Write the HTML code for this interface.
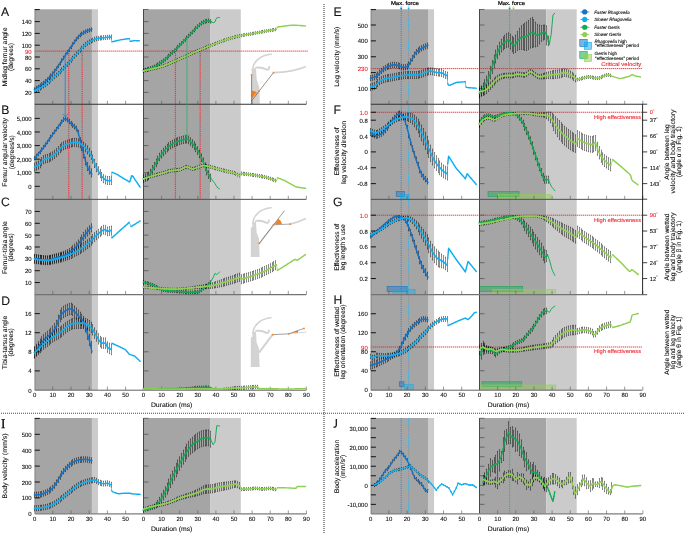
<!DOCTYPE html>
<html><head><meta charset="utf-8"><title>Figure</title>
<style>
html,body{margin:0;padding:0;background:#fff;}
body{width:685px;height:534px;overflow:hidden;font-family:"Liberation Sans",sans-serif;}
svg{display:block;}
</style></head><body>
<div style="will-change:transform;width:685px;height:534px"><svg width="685" height="534" viewBox="0 0 685 534">
<rect width="685" height="534" fill="#fff"/>
<rect x="34.6" y="9.3" width="57.33" height="380.7" fill="#a5a5a5"/>
<rect x="91.93" y="9.3" width="6.01" height="380.7" fill="#cbcbcb"/>
<rect x="370.7" y="9.3" width="57.33" height="380.7" fill="#a5a5a5"/>
<rect x="428.03" y="9.3" width="6.01" height="380.7" fill="#cbcbcb"/>
<rect x="143.5" y="9.3" width="66.61" height="380.7" fill="#a5a5a5"/>
<rect x="210.11" y="9.3" width="30.68" height="380.7" fill="#cbcbcb"/>
<rect x="479.5" y="9.3" width="66.79" height="380.7" fill="#a5a5a5"/>
<rect x="546.29" y="9.3" width="30.4" height="380.7" fill="#cbcbcb"/>
<rect x="34.6" y="418" width="57.33" height="95.8" fill="#a5a5a5"/>
<rect x="91.93" y="418" width="6.01" height="95.8" fill="#cbcbcb"/>
<rect x="370.7" y="418" width="57.33" height="95.8" fill="#a5a5a5"/>
<rect x="428.03" y="418" width="6.01" height="95.8" fill="#cbcbcb"/>
<rect x="143.5" y="418" width="66.61" height="95.8" fill="#a5a5a5"/>
<rect x="210.11" y="418" width="30.68" height="95.8" fill="#cbcbcb"/>
<rect x="479.5" y="418" width="66.79" height="95.8" fill="#a5a5a5"/>
<rect x="546.29" y="418" width="30.4" height="95.8" fill="#cbcbcb"/>
<g transform="translate(245,45)" fill="none" stroke-linecap="round">
<path d="M6.6,23.6 L11,23.3 L11.6,33.7 L14.2,41.9 L14.9,58.8 L6.6,58.8 Z" fill="#d3d3d3"/>
<path d="M7.8,23.8 C8.6,15.5 16,10.2 26.2,9.2" stroke="#d3d3d3" stroke-width="1.6"/>
<path d="M11,22.6 C15,22 19,23.2 22,24.6 C23.6,25 24.6,23.6 24.2,21.8" stroke="#d3d3d3" stroke-width="1.9"/>
</g>
<g transform="translate(245,200)" fill="none" stroke-linecap="round">
<path d="M5.8,27.3 L7.2,27.3 L7.6,22.1 L11,22.1 L11.6,32.6 L14,38.4 L14.6,57 L5.8,57 Z" fill="#d3d3d3"/>
<path d="M7.8,23 C8.6,14.5 16,8.8 26,7.8" stroke="#d3d3d3" stroke-width="1.6"/>
<path d="M11,20.9 C15,20.4 19,21.4 21.5,22.8 C23,23.2 24,21.9 23.8,20.4" stroke="#d3d3d3" stroke-width="1.9"/>
</g>
<g transform="translate(245,310)" fill="none" stroke-linecap="round">
<path d="M5.8,27.3 L7.2,27.3 L7.6,22.1 L11,22.1 L11.6,32.6 L14,38.4 L14.6,57 L5.8,57 Z" fill="#d3d3d3"/>
<path d="M7.8,23 C8.6,14.5 16,8.8 26,7.8" stroke="#d3d3d3" stroke-width="1.6"/>
<path d="M11,20.9 C15,20.4 19,21.4 21.5,22.8 C23,23.2 24,21.9 23.8,20.4" stroke="#d3d3d3" stroke-width="1.9"/>
</g>
<path d="M273.5,72.6 C285,72.4 296,70.8 306,66.5" stroke="#d3d3d3" stroke-width="1.7" fill="none"/>
<path d="M251.9,98.4 L251.9,90.8 A9.8,9.8 0 0 1 256.9,92.4 Z" fill="#f58220"/>
<path d="M251.6,75 L251.6,104.2 M251.6,100.8 L273.5,72.6" stroke="#222" stroke-width="0.5" fill="none"/>
<circle cx="251.6" cy="75" r="0.95" fill="#f58220"/>
<circle cx="273.5" cy="72.6" r="0.95" fill="#f58220"/>
<circle cx="259.2" cy="90.9" r="0.95" fill="#f58220"/>
<path d="M290.1,224.1 C296,222.8 301,221 306,218.6" stroke="#d3d3d3" stroke-width="1.7" fill="none"/>
<path d="M275.0,223.4 L278.6,218.7 A8,8 0 0 1 282.0,224.0 L275.2,224.4 Z" fill="#f58220"/>
<path d="M259.4,243.6 L273.2,225.6" stroke="#d3d3d3" stroke-width="1.5" fill="none"/>
<path d="M259.2,243.3 L284.5,210.7" stroke="#333" stroke-width="0.5" fill="none"/>
<path d="M273.5,224.8 L290.1,224.1" stroke="#555" stroke-width="0.5" fill="none"/>
<circle cx="259.2" cy="243.3" r="0.95" fill="#f58220"/>
<circle cx="273.5" cy="224.8" r="0.95" fill="#f58220"/>
<circle cx="290.1" cy="224.1" r="0.95" fill="#f58220"/>
<path d="M259.0,352.6 L272.4,334.9" stroke="#d3d3d3" stroke-width="2.0" fill="none"/>
<path d="M288.6,333.8 L306.5,332" stroke="#bbb" stroke-width="0.6" fill="none"/>
<path d="M292.5,332.6 L298,330.6 L298,332.7 Z" fill="#f58220"/>
<path d="M272.6,334.7 L288.6,333.8 L304,328.4" stroke="#444" stroke-width="0.5" fill="none"/>
<circle cx="272.6" cy="334.7" r="0.9" fill="#f58220"/>
<circle cx="288.6" cy="333.8" r="0.9" fill="#f58220"/>
<circle cx="304" cy="328.4" r="0.9" fill="#f58220"/>
<line x1="34.6" y1="51.1" x2="307.7" y2="51.1" stroke="#ee1c25" stroke-width="1.0" stroke-dasharray="1.15 0.85"/>
<line x1="370.7" y1="68.6" x2="642.5" y2="68.6" stroke="#ee1c25" stroke-width="1.0" stroke-dasharray="1.15 0.85"/>
<line x1="370.7" y1="112.25" x2="642.5" y2="112.25" stroke="#ee1c25" stroke-width="1.0" stroke-dasharray="1.15 0.85"/>
<line x1="370.7" y1="215.2" x2="642.5" y2="215.2" stroke="#ee1c25" stroke-width="1.0" stroke-dasharray="1.15 0.85"/>
<line x1="370.7" y1="347" x2="642.5" y2="347" stroke="#ee1c25" stroke-width="1.0" stroke-dasharray="1.15 0.85"/>
<line x1="68.82" y1="51.1" x2="68.82" y2="199.2" stroke="#ee1c25" stroke-width="0.9" stroke-dasharray="1.1 0.8"/>
<line x1="82.1" y1="51.1" x2="82.1" y2="199.2" stroke="#ee1c25" stroke-width="0.9" stroke-dasharray="1.1 0.8"/>
<line x1="175.36" y1="51.1" x2="175.36" y2="199.2" stroke="#ee1c25" stroke-width="0.9" stroke-dasharray="1.1 0.8"/>
<line x1="200.15" y1="51.1" x2="200.15" y2="199.2" stroke="#ee1c25" stroke-width="0.9" stroke-dasharray="1.1 0.8"/>
<line x1="401.2" y1="6.5" x2="401.2" y2="390" stroke="#1572c6" stroke-width="0.85" stroke-dasharray="0.9 1.3"/>
<line x1="401.2" y1="418" x2="401.2" y2="513.8" stroke="#1572c6" stroke-width="0.85" stroke-dasharray="0.9 1.3"/>
<path d="M399.9,7.7 L402.5,7.7 L401.2,10.1 Z" fill="#1572c6"/>
<line x1="408.6" y1="6.5" x2="408.6" y2="390" stroke="#10aef0" stroke-width="0.85" stroke-dasharray="0.9 1.3"/>
<line x1="408.6" y1="418" x2="408.6" y2="513.8" stroke="#10aef0" stroke-width="0.85" stroke-dasharray="0.9 1.3"/>
<path d="M407.3,7.7 L409.9,7.7 L408.6,10.1 Z" fill="#10aef0"/>
<line x1="509.6" y1="6.5" x2="509.6" y2="390" stroke="#10aa50" stroke-width="0.85" stroke-dasharray="0.9 1.3"/>
<line x1="509.6" y1="418" x2="509.6" y2="513.8" stroke="#10aa50" stroke-width="0.85" stroke-dasharray="0.9 1.3"/>
<path d="M508.3,7.7 L510.9,7.7 L509.6,10.1 Z" fill="#10aa50"/>
<line x1="513.5" y1="6.5" x2="513.5" y2="390" stroke="#90d050" stroke-width="0.85" stroke-dasharray="0.9 1.3"/>
<line x1="513.5" y1="418" x2="513.5" y2="513.8" stroke="#90d050" stroke-width="0.85" stroke-dasharray="0.9 1.3"/>
<path d="M512.2,7.7 L514.8,7.7 L513.5,10.1 Z" fill="#90d050"/>
<rect x="396.18" y="191.4" width="8.19" height="5" fill="#1572c6" fill-opacity="0.42" stroke="#1572c6" stroke-width="0.6" stroke-opacity="0.95"/>
<rect x="400.73" y="194.6" width="8.19" height="4.6" fill="#10aef0" fill-opacity="0.42" stroke="#10aef0" stroke-width="0.6" stroke-opacity="0.95"/>
<rect x="488.03" y="191.4" width="31.04" height="5" fill="#10aa50" fill-opacity="0.42" stroke="#10aa50" stroke-width="0.6" stroke-opacity="0.95"/>
<rect x="498.38" y="194.6" width="52.45" height="4.6" fill="#90d050" fill-opacity="0.42" stroke="#90d050" stroke-width="0.6" stroke-opacity="0.95"/>
<rect x="387.08" y="286.4" width="20.02" height="5" fill="#1572c6" fill-opacity="0.42" stroke="#1572c6" stroke-width="0.6" stroke-opacity="0.95"/>
<rect x="393.09" y="289.6" width="22.02" height="4.7" fill="#10aef0" fill-opacity="0.42" stroke="#10aef0" stroke-width="0.6" stroke-opacity="0.95"/>
<rect x="479.5" y="286.4" width="43.2" height="5" fill="#10aa50" fill-opacity="0.42" stroke="#10aa50" stroke-width="0.6" stroke-opacity="0.95"/>
<rect x="492.75" y="289.6" width="62.98" height="4.7" fill="#90d050" fill-opacity="0.42" stroke="#90d050" stroke-width="0.6" stroke-opacity="0.95"/>
<rect x="399.27" y="381.8" width="4.73" height="4.6" fill="#1572c6" fill-opacity="0.42" stroke="#1572c6" stroke-width="0.6" stroke-opacity="0.95"/>
<rect x="404.73" y="384.6" width="8.55" height="4.9" fill="#10aef0" fill-opacity="0.42" stroke="#10aef0" stroke-width="0.6" stroke-opacity="0.95"/>
<rect x="482.04" y="381.8" width="39.75" height="4.8" fill="#10aa50" fill-opacity="0.42" stroke="#10aa50" stroke-width="0.6" stroke-opacity="0.95"/>
<rect x="479.5" y="385" width="76.23" height="4.5" fill="#90d050" fill-opacity="0.42" stroke="#90d050" stroke-width="0.6" stroke-opacity="0.95"/>
<line x1="35.1" y1="9.1" x2="35.1" y2="390" stroke="#8c8c8c" stroke-width="1.0"/>
<line x1="35.1" y1="418" x2="35.1" y2="513.8" stroke="#8c8c8c" stroke-width="1.0"/>
<line x1="34.8" y1="9.6" x2="39.8" y2="9.6" stroke="#111" stroke-width="1.0"/>
<line x1="34.8" y1="418.4" x2="39.8" y2="418.4" stroke="#111" stroke-width="1.0"/>
<line x1="143.5" y1="9.1" x2="143.5" y2="390" stroke="#484848" stroke-width="1.0"/>
<line x1="143.5" y1="418" x2="143.5" y2="513.8" stroke="#484848" stroke-width="1.0"/>
<line x1="143.5" y1="9.5" x2="148.5" y2="9.5" stroke="#555" stroke-width="0.8"/>
<line x1="143.5" y1="418.3" x2="148.5" y2="418.3" stroke="#555" stroke-width="0.8"/>
<line x1="34.8" y1="104.25" x2="306.4" y2="104.25" stroke="#333" stroke-width="1.0"/>
<line x1="52.8" y1="104.2" x2="52.8" y2="100.8" stroke="#555" stroke-width="0.6"/>
<line x1="71" y1="104.2" x2="71" y2="100.8" stroke="#555" stroke-width="0.6"/>
<line x1="89.2" y1="104.2" x2="89.2" y2="100.8" stroke="#555" stroke-width="0.6"/>
<line x1="107.4" y1="104.2" x2="107.4" y2="100.8" stroke="#555" stroke-width="0.6"/>
<line x1="125.6" y1="104.2" x2="125.6" y2="100.8" stroke="#555" stroke-width="0.6"/>
<line x1="161.6" y1="104.2" x2="161.6" y2="100.8" stroke="#555" stroke-width="0.6"/>
<line x1="179.7" y1="104.2" x2="179.7" y2="100.8" stroke="#555" stroke-width="0.6"/>
<line x1="197.8" y1="104.2" x2="197.8" y2="100.8" stroke="#555" stroke-width="0.6"/>
<line x1="215.9" y1="104.2" x2="215.9" y2="100.8" stroke="#555" stroke-width="0.6"/>
<line x1="234" y1="104.2" x2="234" y2="100.8" stroke="#555" stroke-width="0.6"/>
<line x1="252.1" y1="104.2" x2="252.1" y2="100.8" stroke="#555" stroke-width="0.6"/>
<line x1="270.2" y1="104.2" x2="270.2" y2="100.8" stroke="#555" stroke-width="0.6"/>
<line x1="288.3" y1="104.2" x2="288.3" y2="100.8" stroke="#555" stroke-width="0.6"/>
<line x1="306.4" y1="104.2" x2="306.4" y2="100.8" stroke="#555" stroke-width="0.6"/>
<line x1="34.8" y1="92.4" x2="39.8" y2="92.4" stroke="#111" stroke-width="1.0"/>
<line x1="143.5" y1="92.4" x2="148.5" y2="92.4" stroke="#555" stroke-width="0.8"/>
<line x1="34.8" y1="80.6" x2="39.8" y2="80.6" stroke="#111" stroke-width="1.0"/>
<line x1="143.5" y1="80.6" x2="148.5" y2="80.6" stroke="#555" stroke-width="0.8"/>
<line x1="34.8" y1="68.8" x2="39.8" y2="68.8" stroke="#111" stroke-width="1.0"/>
<line x1="143.5" y1="68.8" x2="148.5" y2="68.8" stroke="#555" stroke-width="0.8"/>
<line x1="34.8" y1="57" x2="39.8" y2="57" stroke="#111" stroke-width="1.0"/>
<line x1="143.5" y1="57" x2="148.5" y2="57" stroke="#555" stroke-width="0.8"/>
<line x1="34.8" y1="45.2" x2="39.8" y2="45.2" stroke="#111" stroke-width="1.0"/>
<line x1="143.5" y1="45.2" x2="148.5" y2="45.2" stroke="#555" stroke-width="0.8"/>
<line x1="34.8" y1="33.4" x2="39.8" y2="33.4" stroke="#111" stroke-width="1.0"/>
<line x1="143.5" y1="33.4" x2="148.5" y2="33.4" stroke="#555" stroke-width="0.8"/>
<line x1="34.8" y1="21.6" x2="39.8" y2="21.6" stroke="#111" stroke-width="1.0"/>
<line x1="143.5" y1="21.6" x2="148.5" y2="21.6" stroke="#555" stroke-width="0.8"/>
<line x1="34.8" y1="199.35" x2="306.4" y2="199.35" stroke="#505050" stroke-width="1.0"/>
<line x1="52.8" y1="199.2" x2="52.8" y2="195.8" stroke="#555" stroke-width="0.6"/>
<line x1="71" y1="199.2" x2="71" y2="195.8" stroke="#555" stroke-width="0.6"/>
<line x1="89.2" y1="199.2" x2="89.2" y2="195.8" stroke="#555" stroke-width="0.6"/>
<line x1="107.4" y1="199.2" x2="107.4" y2="195.8" stroke="#555" stroke-width="0.6"/>
<line x1="125.6" y1="199.2" x2="125.6" y2="195.8" stroke="#555" stroke-width="0.6"/>
<line x1="161.6" y1="199.2" x2="161.6" y2="195.8" stroke="#555" stroke-width="0.6"/>
<line x1="179.7" y1="199.2" x2="179.7" y2="195.8" stroke="#555" stroke-width="0.6"/>
<line x1="197.8" y1="199.2" x2="197.8" y2="195.8" stroke="#555" stroke-width="0.6"/>
<line x1="215.9" y1="199.2" x2="215.9" y2="195.8" stroke="#555" stroke-width="0.6"/>
<line x1="234" y1="199.2" x2="234" y2="195.8" stroke="#555" stroke-width="0.6"/>
<line x1="252.1" y1="199.2" x2="252.1" y2="195.8" stroke="#555" stroke-width="0.6"/>
<line x1="270.2" y1="199.2" x2="270.2" y2="195.8" stroke="#555" stroke-width="0.6"/>
<line x1="288.3" y1="199.2" x2="288.3" y2="195.8" stroke="#555" stroke-width="0.6"/>
<line x1="306.4" y1="199.2" x2="306.4" y2="195.8" stroke="#555" stroke-width="0.6"/>
<line x1="34.8" y1="186.3" x2="39.8" y2="186.3" stroke="#111" stroke-width="1.0"/>
<line x1="143.5" y1="186.3" x2="148.5" y2="186.3" stroke="#555" stroke-width="0.8"/>
<line x1="34.8" y1="172.72" x2="39.8" y2="172.72" stroke="#111" stroke-width="1.0"/>
<line x1="143.5" y1="172.72" x2="148.5" y2="172.72" stroke="#555" stroke-width="0.8"/>
<line x1="34.8" y1="159.14" x2="39.8" y2="159.14" stroke="#111" stroke-width="1.0"/>
<line x1="143.5" y1="159.14" x2="148.5" y2="159.14" stroke="#555" stroke-width="0.8"/>
<line x1="34.8" y1="145.56" x2="39.8" y2="145.56" stroke="#111" stroke-width="1.0"/>
<line x1="143.5" y1="145.56" x2="148.5" y2="145.56" stroke="#555" stroke-width="0.8"/>
<line x1="34.8" y1="131.98" x2="39.8" y2="131.98" stroke="#111" stroke-width="1.0"/>
<line x1="143.5" y1="131.98" x2="148.5" y2="131.98" stroke="#555" stroke-width="0.8"/>
<line x1="34.8" y1="118.4" x2="39.8" y2="118.4" stroke="#111" stroke-width="1.0"/>
<line x1="143.5" y1="118.4" x2="148.5" y2="118.4" stroke="#555" stroke-width="0.8"/>
<line x1="34.8" y1="294.6" x2="306.4" y2="294.6" stroke="#737373" stroke-width="1.2"/>
<line x1="52.8" y1="294.3" x2="52.8" y2="290.9" stroke="#555" stroke-width="0.6"/>
<line x1="71" y1="294.3" x2="71" y2="290.9" stroke="#555" stroke-width="0.6"/>
<line x1="89.2" y1="294.3" x2="89.2" y2="290.9" stroke="#555" stroke-width="0.6"/>
<line x1="107.4" y1="294.3" x2="107.4" y2="290.9" stroke="#555" stroke-width="0.6"/>
<line x1="125.6" y1="294.3" x2="125.6" y2="290.9" stroke="#555" stroke-width="0.6"/>
<line x1="161.6" y1="294.3" x2="161.6" y2="290.9" stroke="#555" stroke-width="0.6"/>
<line x1="179.7" y1="294.3" x2="179.7" y2="290.9" stroke="#555" stroke-width="0.6"/>
<line x1="197.8" y1="294.3" x2="197.8" y2="290.9" stroke="#555" stroke-width="0.6"/>
<line x1="215.9" y1="294.3" x2="215.9" y2="290.9" stroke="#555" stroke-width="0.6"/>
<line x1="234" y1="294.3" x2="234" y2="290.9" stroke="#555" stroke-width="0.6"/>
<line x1="252.1" y1="294.3" x2="252.1" y2="290.9" stroke="#555" stroke-width="0.6"/>
<line x1="270.2" y1="294.3" x2="270.2" y2="290.9" stroke="#555" stroke-width="0.6"/>
<line x1="288.3" y1="294.3" x2="288.3" y2="290.9" stroke="#555" stroke-width="0.6"/>
<line x1="306.4" y1="294.3" x2="306.4" y2="290.9" stroke="#555" stroke-width="0.6"/>
<line x1="34.8" y1="282.55" x2="39.8" y2="282.55" stroke="#111" stroke-width="1.0"/>
<line x1="143.5" y1="282.55" x2="148.5" y2="282.55" stroke="#555" stroke-width="0.8"/>
<line x1="34.8" y1="270.7" x2="39.8" y2="270.7" stroke="#111" stroke-width="1.0"/>
<line x1="143.5" y1="270.7" x2="148.5" y2="270.7" stroke="#555" stroke-width="0.8"/>
<line x1="34.8" y1="258.85" x2="39.8" y2="258.85" stroke="#111" stroke-width="1.0"/>
<line x1="143.5" y1="258.85" x2="148.5" y2="258.85" stroke="#555" stroke-width="0.8"/>
<line x1="34.8" y1="247" x2="39.8" y2="247" stroke="#111" stroke-width="1.0"/>
<line x1="143.5" y1="247" x2="148.5" y2="247" stroke="#555" stroke-width="0.8"/>
<line x1="34.8" y1="235.15" x2="39.8" y2="235.15" stroke="#111" stroke-width="1.0"/>
<line x1="143.5" y1="235.15" x2="148.5" y2="235.15" stroke="#555" stroke-width="0.8"/>
<line x1="34.8" y1="223.3" x2="39.8" y2="223.3" stroke="#111" stroke-width="1.0"/>
<line x1="143.5" y1="223.3" x2="148.5" y2="223.3" stroke="#555" stroke-width="0.8"/>
<line x1="34.8" y1="211.45" x2="39.8" y2="211.45" stroke="#111" stroke-width="1.0"/>
<line x1="143.5" y1="211.45" x2="148.5" y2="211.45" stroke="#555" stroke-width="0.8"/>
<line x1="34.8" y1="390.2" x2="306.4" y2="390.2" stroke="#606060" stroke-width="1.0"/>
<line x1="52.8" y1="390" x2="52.8" y2="386.6" stroke="#555" stroke-width="0.6"/>
<line x1="71" y1="390" x2="71" y2="386.6" stroke="#555" stroke-width="0.6"/>
<line x1="89.2" y1="390" x2="89.2" y2="386.6" stroke="#555" stroke-width="0.6"/>
<line x1="107.4" y1="390" x2="107.4" y2="386.6" stroke="#555" stroke-width="0.6"/>
<line x1="125.6" y1="390" x2="125.6" y2="386.6" stroke="#555" stroke-width="0.6"/>
<line x1="161.6" y1="390" x2="161.6" y2="386.6" stroke="#555" stroke-width="0.6"/>
<line x1="179.7" y1="390" x2="179.7" y2="386.6" stroke="#555" stroke-width="0.6"/>
<line x1="197.8" y1="390" x2="197.8" y2="386.6" stroke="#555" stroke-width="0.6"/>
<line x1="215.9" y1="390" x2="215.9" y2="386.6" stroke="#555" stroke-width="0.6"/>
<line x1="234" y1="390" x2="234" y2="386.6" stroke="#555" stroke-width="0.6"/>
<line x1="252.1" y1="390" x2="252.1" y2="386.6" stroke="#555" stroke-width="0.6"/>
<line x1="270.2" y1="390" x2="270.2" y2="386.6" stroke="#555" stroke-width="0.6"/>
<line x1="288.3" y1="390" x2="288.3" y2="386.6" stroke="#555" stroke-width="0.6"/>
<line x1="306.4" y1="390" x2="306.4" y2="386.6" stroke="#555" stroke-width="0.6"/>
<line x1="34.8" y1="370.9" x2="39.8" y2="370.9" stroke="#111" stroke-width="1.0"/>
<line x1="143.5" y1="370.9" x2="148.5" y2="370.9" stroke="#555" stroke-width="0.8"/>
<line x1="34.8" y1="351.8" x2="39.8" y2="351.8" stroke="#111" stroke-width="1.0"/>
<line x1="143.5" y1="351.8" x2="148.5" y2="351.8" stroke="#555" stroke-width="0.8"/>
<line x1="34.8" y1="332.7" x2="39.8" y2="332.7" stroke="#111" stroke-width="1.0"/>
<line x1="143.5" y1="332.7" x2="148.5" y2="332.7" stroke="#555" stroke-width="0.8"/>
<line x1="34.8" y1="313.6" x2="39.8" y2="313.6" stroke="#111" stroke-width="1.0"/>
<line x1="143.5" y1="313.6" x2="148.5" y2="313.6" stroke="#555" stroke-width="0.8"/>
<line x1="34.8" y1="513.85" x2="306.4" y2="513.85" stroke="#7c7c7c" stroke-width="1.25"/>
<line x1="52.8" y1="513.8" x2="52.8" y2="510.4" stroke="#555" stroke-width="0.6"/>
<line x1="71" y1="513.8" x2="71" y2="510.4" stroke="#555" stroke-width="0.6"/>
<line x1="89.2" y1="513.8" x2="89.2" y2="510.4" stroke="#555" stroke-width="0.6"/>
<line x1="107.4" y1="513.8" x2="107.4" y2="510.4" stroke="#555" stroke-width="0.6"/>
<line x1="125.6" y1="513.8" x2="125.6" y2="510.4" stroke="#555" stroke-width="0.6"/>
<line x1="161.6" y1="513.8" x2="161.6" y2="510.4" stroke="#555" stroke-width="0.6"/>
<line x1="179.7" y1="513.8" x2="179.7" y2="510.4" stroke="#555" stroke-width="0.6"/>
<line x1="197.8" y1="513.8" x2="197.8" y2="510.4" stroke="#555" stroke-width="0.6"/>
<line x1="215.9" y1="513.8" x2="215.9" y2="510.4" stroke="#555" stroke-width="0.6"/>
<line x1="234" y1="513.8" x2="234" y2="510.4" stroke="#555" stroke-width="0.6"/>
<line x1="252.1" y1="513.8" x2="252.1" y2="510.4" stroke="#555" stroke-width="0.6"/>
<line x1="270.2" y1="513.8" x2="270.2" y2="510.4" stroke="#555" stroke-width="0.6"/>
<line x1="288.3" y1="513.8" x2="288.3" y2="510.4" stroke="#555" stroke-width="0.6"/>
<line x1="306.4" y1="513.8" x2="306.4" y2="510.4" stroke="#555" stroke-width="0.6"/>
<line x1="34.8" y1="497.9" x2="39.8" y2="497.9" stroke="#111" stroke-width="1.0"/>
<line x1="143.5" y1="497.9" x2="148.5" y2="497.9" stroke="#555" stroke-width="0.8"/>
<line x1="34.8" y1="482" x2="39.8" y2="482" stroke="#111" stroke-width="1.0"/>
<line x1="143.5" y1="482" x2="148.5" y2="482" stroke="#555" stroke-width="0.8"/>
<line x1="34.8" y1="466.1" x2="39.8" y2="466.1" stroke="#111" stroke-width="1.0"/>
<line x1="143.5" y1="466.1" x2="148.5" y2="466.1" stroke="#555" stroke-width="0.8"/>
<line x1="34.8" y1="450.2" x2="39.8" y2="450.2" stroke="#111" stroke-width="1.0"/>
<line x1="143.5" y1="450.2" x2="148.5" y2="450.2" stroke="#555" stroke-width="0.8"/>
<line x1="34.8" y1="434.3" x2="39.8" y2="434.3" stroke="#111" stroke-width="1.0"/>
<line x1="143.5" y1="434.3" x2="148.5" y2="434.3" stroke="#555" stroke-width="0.8"/>
<line x1="371.2" y1="9.1" x2="371.2" y2="390" stroke="#8c8c8c" stroke-width="1.0"/>
<line x1="371.2" y1="418" x2="371.2" y2="513.8" stroke="#8c8c8c" stroke-width="1.0"/>
<line x1="370.9" y1="9.6" x2="375.9" y2="9.6" stroke="#111" stroke-width="1.0"/>
<line x1="370.9" y1="418.4" x2="375.9" y2="418.4" stroke="#111" stroke-width="1.0"/>
<line x1="479.5" y1="9.1" x2="479.5" y2="390" stroke="#484848" stroke-width="1.0"/>
<line x1="479.5" y1="418" x2="479.5" y2="513.8" stroke="#484848" stroke-width="1.0"/>
<line x1="479.5" y1="9.5" x2="484.5" y2="9.5" stroke="#555" stroke-width="0.8"/>
<line x1="479.5" y1="418.3" x2="484.5" y2="418.3" stroke="#555" stroke-width="0.8"/>
<line x1="370.9" y1="104.25" x2="642.6" y2="104.25" stroke="#333" stroke-width="1.0"/>
<line x1="388.9" y1="104.2" x2="388.9" y2="100.8" stroke="#555" stroke-width="0.6"/>
<line x1="407.1" y1="104.2" x2="407.1" y2="100.8" stroke="#555" stroke-width="0.6"/>
<line x1="425.3" y1="104.2" x2="425.3" y2="100.8" stroke="#555" stroke-width="0.6"/>
<line x1="443.5" y1="104.2" x2="443.5" y2="100.8" stroke="#555" stroke-width="0.6"/>
<line x1="461.7" y1="104.2" x2="461.7" y2="100.8" stroke="#555" stroke-width="0.6"/>
<line x1="497.65" y1="104.2" x2="497.65" y2="100.8" stroke="#555" stroke-width="0.6"/>
<line x1="515.8" y1="104.2" x2="515.8" y2="100.8" stroke="#555" stroke-width="0.6"/>
<line x1="533.95" y1="104.2" x2="533.95" y2="100.8" stroke="#555" stroke-width="0.6"/>
<line x1="552.1" y1="104.2" x2="552.1" y2="100.8" stroke="#555" stroke-width="0.6"/>
<line x1="570.25" y1="104.2" x2="570.25" y2="100.8" stroke="#555" stroke-width="0.6"/>
<line x1="588.4" y1="104.2" x2="588.4" y2="100.8" stroke="#555" stroke-width="0.6"/>
<line x1="606.55" y1="104.2" x2="606.55" y2="100.8" stroke="#555" stroke-width="0.6"/>
<line x1="624.7" y1="104.2" x2="624.7" y2="100.8" stroke="#555" stroke-width="0.6"/>
<line x1="642.85" y1="104.2" x2="642.85" y2="100.8" stroke="#555" stroke-width="0.6"/>
<line x1="370.9" y1="88.52" x2="375.9" y2="88.52" stroke="#111" stroke-width="1.0"/>
<line x1="479.5" y1="88.52" x2="484.5" y2="88.52" stroke="#555" stroke-width="0.8"/>
<line x1="370.9" y1="72.64" x2="375.9" y2="72.64" stroke="#111" stroke-width="1.0"/>
<line x1="479.5" y1="72.64" x2="484.5" y2="72.64" stroke="#555" stroke-width="0.8"/>
<line x1="370.9" y1="56.76" x2="375.9" y2="56.76" stroke="#111" stroke-width="1.0"/>
<line x1="479.5" y1="56.76" x2="484.5" y2="56.76" stroke="#555" stroke-width="0.8"/>
<line x1="370.9" y1="40.88" x2="375.9" y2="40.88" stroke="#111" stroke-width="1.0"/>
<line x1="479.5" y1="40.88" x2="484.5" y2="40.88" stroke="#555" stroke-width="0.8"/>
<line x1="370.9" y1="25" x2="375.9" y2="25" stroke="#111" stroke-width="1.0"/>
<line x1="479.5" y1="25" x2="484.5" y2="25" stroke="#555" stroke-width="0.8"/>
<line x1="370.9" y1="199.35" x2="642.6" y2="199.35" stroke="#505050" stroke-width="1.0"/>
<line x1="388.9" y1="199.2" x2="388.9" y2="195.8" stroke="#555" stroke-width="0.6"/>
<line x1="407.1" y1="199.2" x2="407.1" y2="195.8" stroke="#555" stroke-width="0.6"/>
<line x1="425.3" y1="199.2" x2="425.3" y2="195.8" stroke="#555" stroke-width="0.6"/>
<line x1="443.5" y1="199.2" x2="443.5" y2="195.8" stroke="#555" stroke-width="0.6"/>
<line x1="461.7" y1="199.2" x2="461.7" y2="195.8" stroke="#555" stroke-width="0.6"/>
<line x1="497.65" y1="199.2" x2="497.65" y2="195.8" stroke="#555" stroke-width="0.6"/>
<line x1="515.8" y1="199.2" x2="515.8" y2="195.8" stroke="#555" stroke-width="0.6"/>
<line x1="533.95" y1="199.2" x2="533.95" y2="195.8" stroke="#555" stroke-width="0.6"/>
<line x1="552.1" y1="199.2" x2="552.1" y2="195.8" stroke="#555" stroke-width="0.6"/>
<line x1="570.25" y1="199.2" x2="570.25" y2="195.8" stroke="#555" stroke-width="0.6"/>
<line x1="588.4" y1="199.2" x2="588.4" y2="195.8" stroke="#555" stroke-width="0.6"/>
<line x1="606.55" y1="199.2" x2="606.55" y2="195.8" stroke="#555" stroke-width="0.6"/>
<line x1="624.7" y1="199.2" x2="624.7" y2="195.8" stroke="#555" stroke-width="0.6"/>
<line x1="642.85" y1="199.2" x2="642.85" y2="195.8" stroke="#555" stroke-width="0.6"/>
<line x1="370.9" y1="183.62" x2="375.9" y2="183.62" stroke="#111" stroke-width="1.0"/>
<line x1="479.5" y1="183.62" x2="484.5" y2="183.62" stroke="#555" stroke-width="0.8"/>
<line x1="370.9" y1="167.76" x2="375.9" y2="167.76" stroke="#111" stroke-width="1.0"/>
<line x1="479.5" y1="167.76" x2="484.5" y2="167.76" stroke="#555" stroke-width="0.8"/>
<line x1="370.9" y1="151.9" x2="375.9" y2="151.9" stroke="#111" stroke-width="1.0"/>
<line x1="479.5" y1="151.9" x2="484.5" y2="151.9" stroke="#555" stroke-width="0.8"/>
<line x1="370.9" y1="136.04" x2="375.9" y2="136.04" stroke="#111" stroke-width="1.0"/>
<line x1="479.5" y1="136.04" x2="484.5" y2="136.04" stroke="#555" stroke-width="0.8"/>
<line x1="370.9" y1="120.18" x2="375.9" y2="120.18" stroke="#111" stroke-width="1.0"/>
<line x1="479.5" y1="120.18" x2="484.5" y2="120.18" stroke="#555" stroke-width="0.8"/>
<line x1="370.9" y1="112.25" x2="375.9" y2="112.25" stroke="#111" stroke-width="1.0"/>
<line x1="479.5" y1="112.25" x2="484.5" y2="112.25" stroke="#555" stroke-width="0.8"/>
<line x1="370.9" y1="294.6" x2="647.2" y2="294.6" stroke="#737373" stroke-width="1.2"/>
<line x1="388.9" y1="294.3" x2="388.9" y2="290.9" stroke="#555" stroke-width="0.6"/>
<line x1="407.1" y1="294.3" x2="407.1" y2="290.9" stroke="#555" stroke-width="0.6"/>
<line x1="425.3" y1="294.3" x2="425.3" y2="290.9" stroke="#555" stroke-width="0.6"/>
<line x1="443.5" y1="294.3" x2="443.5" y2="290.9" stroke="#555" stroke-width="0.6"/>
<line x1="461.7" y1="294.3" x2="461.7" y2="290.9" stroke="#555" stroke-width="0.6"/>
<line x1="497.65" y1="294.3" x2="497.65" y2="290.9" stroke="#555" stroke-width="0.6"/>
<line x1="515.8" y1="294.3" x2="515.8" y2="290.9" stroke="#555" stroke-width="0.6"/>
<line x1="533.95" y1="294.3" x2="533.95" y2="290.9" stroke="#555" stroke-width="0.6"/>
<line x1="552.1" y1="294.3" x2="552.1" y2="290.9" stroke="#555" stroke-width="0.6"/>
<line x1="570.25" y1="294.3" x2="570.25" y2="290.9" stroke="#555" stroke-width="0.6"/>
<line x1="588.4" y1="294.3" x2="588.4" y2="290.9" stroke="#555" stroke-width="0.6"/>
<line x1="606.55" y1="294.3" x2="606.55" y2="290.9" stroke="#555" stroke-width="0.6"/>
<line x1="624.7" y1="294.3" x2="624.7" y2="290.9" stroke="#555" stroke-width="0.6"/>
<line x1="642.85" y1="294.3" x2="642.85" y2="290.9" stroke="#555" stroke-width="0.6"/>
<line x1="370.9" y1="278.56" x2="375.9" y2="278.56" stroke="#111" stroke-width="1.0"/>
<line x1="479.5" y1="278.56" x2="484.5" y2="278.56" stroke="#555" stroke-width="0.8"/>
<line x1="370.9" y1="262.72" x2="375.9" y2="262.72" stroke="#111" stroke-width="1.0"/>
<line x1="479.5" y1="262.72" x2="484.5" y2="262.72" stroke="#555" stroke-width="0.8"/>
<line x1="370.9" y1="246.88" x2="375.9" y2="246.88" stroke="#111" stroke-width="1.0"/>
<line x1="479.5" y1="246.88" x2="484.5" y2="246.88" stroke="#555" stroke-width="0.8"/>
<line x1="370.9" y1="231.04" x2="375.9" y2="231.04" stroke="#111" stroke-width="1.0"/>
<line x1="479.5" y1="231.04" x2="484.5" y2="231.04" stroke="#555" stroke-width="0.8"/>
<line x1="370.9" y1="215.2" x2="375.9" y2="215.2" stroke="#111" stroke-width="1.0"/>
<line x1="479.5" y1="215.2" x2="484.5" y2="215.2" stroke="#555" stroke-width="0.8"/>
<line x1="370.9" y1="390.2" x2="642.6" y2="390.2" stroke="#606060" stroke-width="1.0"/>
<line x1="388.9" y1="390" x2="388.9" y2="386.6" stroke="#555" stroke-width="0.6"/>
<line x1="407.1" y1="390" x2="407.1" y2="386.6" stroke="#555" stroke-width="0.6"/>
<line x1="425.3" y1="390" x2="425.3" y2="386.6" stroke="#555" stroke-width="0.6"/>
<line x1="443.5" y1="390" x2="443.5" y2="386.6" stroke="#555" stroke-width="0.6"/>
<line x1="461.7" y1="390" x2="461.7" y2="386.6" stroke="#555" stroke-width="0.6"/>
<line x1="497.65" y1="390" x2="497.65" y2="386.6" stroke="#555" stroke-width="0.6"/>
<line x1="515.8" y1="390" x2="515.8" y2="386.6" stroke="#555" stroke-width="0.6"/>
<line x1="533.95" y1="390" x2="533.95" y2="386.6" stroke="#555" stroke-width="0.6"/>
<line x1="552.1" y1="390" x2="552.1" y2="386.6" stroke="#555" stroke-width="0.6"/>
<line x1="570.25" y1="390" x2="570.25" y2="386.6" stroke="#555" stroke-width="0.6"/>
<line x1="588.4" y1="390" x2="588.4" y2="386.6" stroke="#555" stroke-width="0.6"/>
<line x1="606.55" y1="390" x2="606.55" y2="386.6" stroke="#555" stroke-width="0.6"/>
<line x1="624.7" y1="390" x2="624.7" y2="386.6" stroke="#555" stroke-width="0.6"/>
<line x1="642.85" y1="390" x2="642.85" y2="386.6" stroke="#555" stroke-width="0.6"/>
<line x1="370.9" y1="370.78" x2="375.9" y2="370.78" stroke="#111" stroke-width="1.0"/>
<line x1="479.5" y1="370.78" x2="484.5" y2="370.78" stroke="#555" stroke-width="0.8"/>
<line x1="370.9" y1="351.76" x2="375.9" y2="351.76" stroke="#111" stroke-width="1.0"/>
<line x1="479.5" y1="351.76" x2="484.5" y2="351.76" stroke="#555" stroke-width="0.8"/>
<line x1="370.9" y1="332.74" x2="375.9" y2="332.74" stroke="#111" stroke-width="1.0"/>
<line x1="479.5" y1="332.74" x2="484.5" y2="332.74" stroke="#555" stroke-width="0.8"/>
<line x1="370.9" y1="313.72" x2="375.9" y2="313.72" stroke="#111" stroke-width="1.0"/>
<line x1="479.5" y1="313.72" x2="484.5" y2="313.72" stroke="#555" stroke-width="0.8"/>
<line x1="370.9" y1="513.85" x2="642.6" y2="513.85" stroke="#7c7c7c" stroke-width="1.25"/>
<line x1="388.9" y1="513.8" x2="388.9" y2="510.4" stroke="#555" stroke-width="0.6"/>
<line x1="407.1" y1="513.8" x2="407.1" y2="510.4" stroke="#555" stroke-width="0.6"/>
<line x1="425.3" y1="513.8" x2="425.3" y2="510.4" stroke="#555" stroke-width="0.6"/>
<line x1="443.5" y1="513.8" x2="443.5" y2="510.4" stroke="#555" stroke-width="0.6"/>
<line x1="461.7" y1="513.8" x2="461.7" y2="510.4" stroke="#555" stroke-width="0.6"/>
<line x1="497.65" y1="513.8" x2="497.65" y2="510.4" stroke="#555" stroke-width="0.6"/>
<line x1="515.8" y1="513.8" x2="515.8" y2="510.4" stroke="#555" stroke-width="0.6"/>
<line x1="533.95" y1="513.8" x2="533.95" y2="510.4" stroke="#555" stroke-width="0.6"/>
<line x1="552.1" y1="513.8" x2="552.1" y2="510.4" stroke="#555" stroke-width="0.6"/>
<line x1="570.25" y1="513.8" x2="570.25" y2="510.4" stroke="#555" stroke-width="0.6"/>
<line x1="588.4" y1="513.8" x2="588.4" y2="510.4" stroke="#555" stroke-width="0.6"/>
<line x1="606.55" y1="513.8" x2="606.55" y2="510.4" stroke="#555" stroke-width="0.6"/>
<line x1="624.7" y1="513.8" x2="624.7" y2="510.4" stroke="#555" stroke-width="0.6"/>
<line x1="642.85" y1="513.8" x2="642.85" y2="510.4" stroke="#555" stroke-width="0.6"/>
<line x1="370.9" y1="504.36" x2="375.9" y2="504.36" stroke="#111" stroke-width="1.0"/>
<line x1="479.5" y1="504.36" x2="484.5" y2="504.36" stroke="#555" stroke-width="0.8"/>
<line x1="370.9" y1="494.83" x2="375.9" y2="494.83" stroke="#111" stroke-width="1.0"/>
<line x1="479.5" y1="494.83" x2="484.5" y2="494.83" stroke="#555" stroke-width="0.8"/>
<line x1="370.9" y1="485.3" x2="375.9" y2="485.3" stroke="#111" stroke-width="1.0"/>
<line x1="479.5" y1="485.3" x2="484.5" y2="485.3" stroke="#555" stroke-width="0.8"/>
<line x1="370.9" y1="475.77" x2="375.9" y2="475.77" stroke="#111" stroke-width="1.0"/>
<line x1="479.5" y1="475.77" x2="484.5" y2="475.77" stroke="#555" stroke-width="0.8"/>
<line x1="370.9" y1="466.24" x2="375.9" y2="466.24" stroke="#111" stroke-width="1.0"/>
<line x1="479.5" y1="466.24" x2="484.5" y2="466.24" stroke="#555" stroke-width="0.8"/>
<line x1="370.9" y1="456.71" x2="375.9" y2="456.71" stroke="#111" stroke-width="1.0"/>
<line x1="479.5" y1="456.71" x2="484.5" y2="456.71" stroke="#555" stroke-width="0.8"/>
<line x1="370.9" y1="447.18" x2="375.9" y2="447.18" stroke="#111" stroke-width="1.0"/>
<line x1="479.5" y1="447.18" x2="484.5" y2="447.18" stroke="#555" stroke-width="0.8"/>
<line x1="370.9" y1="437.65" x2="375.9" y2="437.65" stroke="#111" stroke-width="1.0"/>
<line x1="479.5" y1="437.65" x2="484.5" y2="437.65" stroke="#555" stroke-width="0.8"/>
<line x1="370.9" y1="428.12" x2="375.9" y2="428.12" stroke="#111" stroke-width="1.0"/>
<line x1="479.5" y1="428.12" x2="484.5" y2="428.12" stroke="#555" stroke-width="0.8"/>
<path d="M34.5,87.68V91.22M36.5,86.42V89.96M38.5,85.2V88.74M40.5,83.96V87.5M41.5,82.64V86.18M43.5,81.19V84.73M45.5,79.57V83.11M47.5,77.81V81.35M49.5,75.91V79.45M50.5,73.88V77.42M52.5,71.75V75.29M54.5,69.43V72.97M56.5,66.88V70.42M58.5,64.2V67.74M60.5,61.47V65.01M61.5,58.77V62.31M63.5,56.06V59.6M65.5,53.29V56.83M67.5,50.52V54.06M69.5,47.8V51.34M71.5,45.2V48.74M72.5,42.6V46.14M74.5,39.96V43.5M76.5,37.44V40.98M78.5,35.2V38.74M80.5,33.4V36.94M81.5,31.99V35.53M83.5,30.82V34.36M85.5,29.86V33.4M87.5,29.09V32.63M89.5,28.44V31.98M91.5,27.83V31.37M34.5,88.86V92.99M36.5,87.89V92.02M38.5,86.95V91.08M40.5,86V90.13M41.5,84.98V89.11M43.5,83.84V87.98M45.5,82.53V86.66M47.5,81.04V85.17M49.5,79.44V83.57M50.5,77.8V81.93M52.5,76.18V80.31M54.5,74.58V78.71M56.5,72.98V77.11M58.5,71.35V75.48M60.5,69.66V73.79M61.5,67.92V72.05M63.5,66.07V70.2M65.5,64.15V68.28M67.5,62.17V66.3M69.5,60.17V64.3M71.5,58.18V62.31M72.5,56.18V60.31M74.5,54.15V58.28M76.5,52.12V56.25M78.5,50.11V54.24M80.5,48.15V52.28M81.5,46.18V50.31M83.5,44.25V48.38M85.5,42.55V46.68M87.5,41.1V45.23M89.5,39.89V44.02M91.5,38.94V43.07M92.5,38.12V42.25M94.5,37.28V41.41M96.5,36.65V40.78M98.5,36.29V40.42M100.5,36.01V40.14M101.5,35.79V39.92M103.5,35.58V39.71M105.5,35.39V39.52M107.5,35.21V39.34M109.5,35.05V39.18M111.5,34.88V39.01M143.5,68.8V72.34M145.5,68.24V71.78M147.5,67.71V71.25M148.5,67.16V70.7M150.5,66.55V70.09M152.5,65.85V69.39M154.5,65V68.54M156.5,63.99V67.53M157.5,62.86V66.4M159.5,61.64V65.18M161.5,60.36V63.9M163.5,58.98V62.52M165.5,57.46V61M167.5,55.83V59.37M168.5,54.15V57.69M170.5,52.46V56M172.5,50.73V54.27M174.5,48.95V52.49M176.5,47.12V50.66M177.5,45.27V48.81M179.5,43.43V46.97M181.5,41.58V45.12M183.5,39.72V43.26M185.5,37.85V41.39M186.5,35.98V39.52M188.5,34.11V37.65M190.5,32.2V35.74M192.5,30.26V33.8M194.5,28.34V31.88M195.5,26.49V30.03M197.5,24.79V28.33M199.5,23.1V26.64M201.5,21.52V25.06M203.5,20.42V23.96M205.5,19.71V23.25M206.5,19.16V22.7M208.5,18.95V22.49M210.5,19.64V23.18M143.5,69.63V72.22M145.5,69.19V71.78M147.5,68.77V71.36M148.5,68.35V70.95M150.5,67.94V70.54M152.5,67.52V70.12M154.5,67.1V69.69M156.5,66.65V69.25M157.5,66.18V68.78M159.5,65.68V68.28M161.5,65.14V67.74M163.5,64.55V67.14M165.5,63.89V66.49M167.5,63.19V65.78M168.5,62.44V65.04M170.5,61.67V64.26M172.5,60.87V63.46M174.5,60.06V62.65M176.5,59.24V61.84M177.5,58.44V61.03M179.5,57.65V60.25M181.5,56.86V59.46M183.5,56.06V58.66M185.5,55.25V57.84M186.5,54.43V57.02M188.5,53.6V56.2M190.5,52.78V55.38M192.5,51.96V54.56M194.5,51.15V53.75M195.5,50.35V52.95M197.5,49.57V52.16M199.5,48.79V51.39M201.5,48.02V50.61M203.5,47.25V49.84M205.5,46.48V49.08M206.5,45.73V48.32M208.5,44.98V47.57M210.5,44.24V46.84M212.5,43.52V46.12M214.5,42.82V45.41M215.5,42.13V44.73M217.5,41.46V44.05M219.5,40.78V43.38M221.5,40.11V42.71M223.5,39.45V42.05M224.5,38.81V41.4M226.5,38.18V40.78M228.5,37.57V40.17M230.5,37V39.59M232.5,36.45V39.05M234.5,35.94V38.53M235.5,35.46V38.06M237.5,35.01V37.61M239.5,34.6V37.2M241.5,34.23V36.82M243.5,33.89V36.48M244.5,33.58V36.17M246.5,33.28V35.88M248.5,33V35.59M250.5,32.71V35.3M252.5,32.4V34.99M253.5,32.07V34.66M255.5,31.72V34.32M257.5,31.37V33.96M259.5,31.02V33.61M261.5,30.67V33.26M262.5,30.33V32.93M264.5,30.01V32.6M266.5,29.69V32.28M268.5,29.37V31.97M270.5,29.06V31.66M272.5,28.75V31.35M273.5,28.44V31.04M275.5,28.13V30.72M34.5,156.42V159.95M36.5,154.32V157.85M38.5,152.24V155.77M40.5,150.11V153.64M41.5,147.87V151.4M43.5,145.45V148.98M45.5,142.89V146.42M47.5,140.27V143.8M49.5,137.68V141.21M50.5,135.13V138.66M52.5,132.58V136.11M54.5,130.03V133.56M56.5,127.5V131.03M58.5,124.91V128.44M60.5,122.33V125.86M61.5,120.03V123.56M63.5,117.55V121.4M65.5,116.72V120.8M67.5,117.72V121.8M69.5,119.37V123.58M71.5,121.39V125.73M72.5,122.92V127.42M74.5,124.32V128.98M76.5,126.26V131.07M78.5,130.15V135.22M80.5,137.68V143.12M81.5,144.37V150.62M83.5,150.86V157.92M85.5,157.29V164.89M87.5,162.54V170.68M89.5,166.01V174.16M91.5,168.81V176.96M34.5,163.08V171.23M36.5,162.02V170.17M38.5,160.97V169.12M40.5,159.68V167.83M41.5,157.53V165.67M43.5,155.61V163.76M45.5,154.84V162.99M47.5,154.32V162.47M49.5,153.71V161.86M50.5,152.86V161.01M52.5,151.81V159.95M54.5,150.31V158.46M56.5,148.55V156.7M58.5,146.57V154.71M60.5,144.48V152.63M61.5,142.84V150.99M63.5,141.74V149.88M65.5,140.84V148.99M67.5,140.13V148.28M69.5,139.48V147.62M71.5,138.86V147.01M72.5,138.41V146.55M74.5,138.23V146.37M76.5,138.43V146.57M78.5,138.93V147.08M80.5,139.58V147.73M81.5,140.58V148.73M83.5,142.06V150.21M85.5,143.79V151.94M87.5,145.84V153.99M89.5,148.35V156.5M91.5,151.26V159.41M92.5,155.04V163.19M94.5,159.47V167.61M96.5,163.49V171.63M98.5,166.72V174.86M100.5,169.6V177.74M101.5,172.46V180.61M103.5,174.62V182.77M105.5,175.87V184.02M107.5,176.45V184.6M109.5,176.45V184.6M111.5,176.45V184.6M143.5,174.82V182.43M145.5,174.02V181.63M147.5,173.22V180.83M148.5,172.04V179.65M150.5,169.21V176.81M152.5,165.52V173.13M154.5,162.33V169.93M156.5,159.18V166.79M157.5,156.15V163.76M159.5,153.17V160.77M161.5,150.52V158.12M163.5,148.29V155.89M165.5,146.21V153.81M167.5,144.33V151.93M168.5,142.69V150.3M170.5,141.35V148.96M172.5,140.23V147.84M174.5,139.23V146.84M176.5,138.36V145.97M177.5,137.62V145.22M179.5,137V144.61M181.5,136.44V144.05M183.5,135.92V143.52M185.5,135.53V143.13M186.5,135.38V142.98M188.5,136.1V143.71M190.5,137.8V145.4M192.5,139.72V147.33M194.5,141.71V149.31M195.5,144.06V151.67M197.5,146.78V154.39M199.5,150.06V157.67M201.5,153.91V161.52M203.5,158.05V165.66M205.5,162.79V170.39M206.5,167.36V174.96M208.5,170.79V178.39M210.5,173.94V181.55M143.5,177.47V180.46M145.5,176.84V179.82M147.5,176.19V179.17M148.5,175.54V178.53M150.5,174.93V177.91M152.5,174.35V177.34M154.5,173.82V176.81M156.5,173.34V176.32M157.5,172.86V175.85M159.5,172.39V175.38M161.5,171.91V174.89M163.5,171.37V174.35M165.5,170.79V173.78M167.5,170.22V173.21M168.5,169.72V172.7M170.5,169.33V172.31M172.5,169.06V172.04M174.5,168.86V171.85M176.5,168.68V171.67M177.5,168.47V171.45M179.5,168.17V171.16M181.5,167.54V170.52M183.5,166.6V169.59M185.5,165.76V168.74M186.5,165.39V168.37M188.5,165.91V168.9M190.5,166.9V169.88M192.5,167.42V170.41M194.5,167.16V170.15M195.5,166.57V169.55M197.5,165.93V168.92M199.5,165.19V168.18M201.5,164.4V167.39M203.5,164.03V167.02M205.5,164.16V167.15M206.5,164.5V167.49M208.5,164.95V167.93M210.5,165.39V168.37M212.5,165.85V168.83M214.5,166.36V169.35M215.5,166.88V169.87M217.5,167.38V170.36M219.5,167.88V170.86M221.5,168.37V171.36M223.5,168.86V171.84M224.5,169.33V172.31M226.5,169.75V172.74M228.5,170.14V173.12M230.5,170.53V173.52M232.5,170.97V173.95M234.5,171.5V174.49M235.5,172.23V175.22M237.5,173.14V176.13M239.5,174.08V177.07M241.5,171.91V174.89M243.5,172.14V175.13M244.5,172.38V175.36M246.5,172.61V175.6M248.5,172.86V175.84M250.5,173.1V176.09M252.5,173.35V176.33M253.5,173.6V176.58M255.5,173.86V176.84M257.5,174.14V177.13M259.5,174.44V177.43M261.5,174.78V177.76M262.5,175.14V178.13M264.5,175.54V178.53M266.5,175.98V178.97M268.5,176.49V179.48M270.5,177.09V180.08M272.5,177.74V180.72M273.5,178.4V181.39M275.5,179.06V182.05M34.5,254.35V262.64M36.5,254.67V262.96M38.5,255V263.3M40.5,255.31V263.6M41.5,255.53V263.83M43.5,255.7V263.99M45.5,255.83V264.13M47.5,255.89V264.18M49.5,255.72V264.02M50.5,255.29V263.59M52.5,254.71V263M54.5,254.08V262.38M56.5,253.52V261.81M58.5,253.04V261.33M60.5,252.54V260.84M61.5,251.98V260.27M63.5,251.31V259.6M65.5,250.53V258.82M67.5,249.61V257.9M69.5,248.5V256.79M71.5,247.18V255.48M72.5,245.69V253.98M74.5,244.04V252.33M76.5,242.1V250.4M78.5,239.86V248.15M80.5,237.52V245.81M81.5,235.06V243.36M83.5,232.49V240.78M85.5,230.05V238.35M87.5,227.86V236.16M89.5,225.79V234.08M91.5,223.75V232.04M34.5,254.7V263.47M36.5,254.95V263.72M38.5,255.22V263.99M40.5,255.46V264.23M41.5,255.65V264.42M43.5,255.81V264.58M45.5,255.95V264.72M47.5,256.01V264.77M49.5,255.91V264.68M50.5,255.65V264.42M52.5,255.29V264.06M54.5,254.87V263.64M56.5,254.47V263.23M58.5,254.05V262.82M60.5,253.58V262.35M61.5,253.07V261.84M63.5,252.51V261.28M65.5,251.91V260.68M67.5,251.27V260.03M69.5,250.55V259.32M71.5,249.74V258.51M72.5,248.86V257.63M74.5,247.95V256.72M76.5,247V255.77M78.5,246.01V254.78M80.5,244.94V253.71M81.5,243.8V252.57M83.5,242.56V251.33M85.5,241.22V249.99M87.5,239.78V248.55M89.5,238.23V247M91.5,236.45V245.22M92.5,234.51V243.28M94.5,232.66V241.43M96.5,230.97V239.74M98.5,229.36V238.13M100.5,227.92V236.69M101.5,226.45V235.22M103.5,225.27V234.04M105.5,225.57V234.34M107.5,226.97V235.74M109.5,226.62V235.39M111.5,226.03V234.79M143.5,280.65V283.5M145.5,281.2V284.04M147.5,281.72V284.57M148.5,282.26V285.1M150.5,282.84V285.68M152.5,283.5V286.34M154.5,284.34V287.19M156.5,285.32V288.16M157.5,286.22V289.07M159.5,287.08V289.92M161.5,287.94V290.78M163.5,288.65V291.49M165.5,289.07V291.91M167.5,289.26V292.1M168.5,289.41V292.25M170.5,289.52V292.37M172.5,289.61V292.46M174.5,289.7V292.54M176.5,289.78V292.63M177.5,289.89V292.73M179.5,290.02V292.86M181.5,290.21V293.05M183.5,290.46V293.3M185.5,290.7V293.55M186.5,290.89V293.73M188.5,290.96V293.81M190.5,290.95V293.79M192.5,290.91V293.75M194.5,290.84V293.68M195.5,290.74V293.58M197.5,290.61V293.45M199.5,289.93V292.78M201.5,288.59V291.43M203.5,287.17V290.02M205.5,285.89V288.74M206.5,284.45V287.29M208.5,282.63V285.47M210.5,280.65V283.5M143.5,286.22V288.12M145.5,286.37V288.27M147.5,286.52V288.42M148.5,286.67V288.57M150.5,286.83V288.72M152.5,286.98V288.88M154.5,287.13V289.03M156.5,287.27V289.17M157.5,287.41V289.31M159.5,287.53V289.43M161.5,287.65V289.54M163.5,287.76V289.65M165.5,287.87V289.77M167.5,287.98V289.88M168.5,288.08V289.98M170.5,288.16V290.06M172.5,288.22V290.11M174.5,288.24V290.13M176.5,288.21V290.11M177.5,288.13V290.03M179.5,288.01V289.91M181.5,287.86V289.76M183.5,287.69V289.59M185.5,287.52V289.41M186.5,287.34V289.23M188.5,287.17V289.07M190.5,286.91V288.99M192.5,286.62V288.9M194.5,286.33V288.8M195.5,286.04V288.69M197.5,285.75V288.59M199.5,285.4V288.58M201.5,285.07V288.59M203.5,284.74V288.6M205.5,284.4V288.6M206.5,284.05V288.59M208.5,283.67V288.55M210.5,283.26V288.47M212.5,282.81V288.32M214.5,282.27V288.08M215.5,281.68V287.78M217.5,281.04V287.44M219.5,280.36V287.06M221.5,279.67V286.66M223.5,278.97V286.26M224.5,278.28V285.87M226.5,277.7V285.37M228.5,277.08V284.84M230.5,276.44V284.28M232.5,275.79V283.72M234.5,275.13V283.14M235.5,274.46V282.56M237.5,273.8V281.98M239.5,273.14V281.41M241.5,274.73V283.73M243.5,274.2V283.21M244.5,273.68V282.68M246.5,273.15V282.15M248.5,272.6V281.6M250.5,272.03V281.04M252.5,271.47V280.47M253.5,270.89V279.89M255.5,270.28V279.29M257.5,269.64V278.64M259.5,268.95V277.95M261.5,268.18V277.19M262.5,267.36V276.37M264.5,266.5V275.5M266.5,265.6V274.61M268.5,264.68V273.68M270.5,263.7V272.7M272.5,262.69V271.69M273.5,261.67V270.67M275.5,260.65V269.66M34.5,346.55V358.01M36.5,344.1V355.56M38.5,341.59V353.05M40.5,339.11V350.57M41.5,336.75V348.21M43.5,334.61V346.07M45.5,332.79V344.25M47.5,331.21V342.67M49.5,329.69V341.15M50.5,328.02V339.48M52.5,326.01V337.48M54.5,323.5V334.96M56.5,320.28V331.75M58.5,315.03V326.49M60.5,310.26V321.72M61.5,307.91V319.37M63.5,306.19V317.65M65.5,305V316.46M67.5,304.09V315.55M69.5,303.38V314.84M71.5,303.1V314.56M72.5,304.11V315.57M74.5,305.96V317.42M76.5,307.83V319.29M78.5,309.96V321.42M80.5,312.17V323.63M81.5,314.11V325.57M83.5,316.34V327.8M85.5,320.56V332.02M87.5,327.93V339.38M89.5,334.08V345.54M91.5,341.62V353.08M34.5,347.5V358.01M36.5,345.76V356.26M38.5,343.99V354.49M40.5,342.23V352.74M41.5,340.53V351.03M43.5,338.91V349.41M45.5,337.37V347.87M47.5,335.87V346.38M49.5,334.43V344.94M50.5,333.05V343.56M52.5,331.75V342.25M54.5,330.55V341.06M56.5,329.46V339.96M58.5,328.39V338.9M60.5,327.27V337.78M61.5,326.01V336.52M63.5,324.44V334.95M65.5,322.71V333.21M67.5,321.24V331.75M69.5,320.02V330.52M71.5,318.95V329.46M72.5,318.38V328.88M74.5,318.18V328.68M76.5,318.03V328.53M78.5,317.93V328.44M80.5,317.9V328.4M81.5,317.96V328.46M83.5,318.13V328.63M85.5,318.38V328.88M87.5,319.1V329.6M89.5,320.48V330.99M91.5,322.19V332.7M92.5,324.64V335.14M94.5,327.82V338.32M96.5,330.79V341.3M98.5,333.67V344.18M100.5,336.39V346.9M101.5,337.71V348.22M103.5,337.82V348.33M105.5,337.95V348.46M107.5,341.77V352.28M109.5,343.15V353.66M111.5,344.16V354.67M143.5,388.95V389.14M145.5,388.93V389.12M147.5,388.9V389.09M148.5,388.88V389.07M150.5,388.85V389.05M152.5,388.83V389.02M154.5,388.81V389M156.5,388.78V388.97M157.5,388.76V388.95M159.5,388.73V388.93M161.5,388.71V388.9M163.5,388.67V388.89M165.5,388.64V388.89M167.5,388.61V388.88M168.5,388.57V388.88M170.5,388.54V388.87M172.5,388.5V388.87M174.5,388.46V388.86M176.5,388.42V388.84M177.5,388.38V388.83M179.5,388.33V388.81M181.5,388.16V388.88M183.5,387.98V388.93M185.5,387.78V388.97M186.5,387.57V389M188.5,387.35V389.02M190.5,387.13V389.05M192.5,386.9V389.05M194.5,386.64V389.03M195.5,386.39V389.02M197.5,386.18V389.05M199.5,386.12V388.98M201.5,386.06V388.93M203.5,386.01V388.88M205.5,385.98V388.84M206.5,385.95V388.82M208.5,385.94V388.81M210.5,387.52V387.71M143.5,388.71V388.9M145.5,388.74V388.93M147.5,388.77V388.96M148.5,388.8V388.99M150.5,388.83V389.02M152.5,388.86V389.05M154.5,388.89V389.08M156.5,388.91V389.1M157.5,388.93V389.12M159.5,388.94V389.14M161.5,388.95V389.14M163.5,388.95V389.14M165.5,388.95V389.14M167.5,388.95V389.14M168.5,388.95V389.14M170.5,388.95V389.14M172.5,388.95V389.14M174.5,388.95V389.14M176.5,388.95V389.14M177.5,388.95V389.14M179.5,388.95V389.14M181.5,388.94V389.13M183.5,388.92V389.12M185.5,388.9V389.09M186.5,388.87V389.06M188.5,388.83V389.02M190.5,388.79V388.99M192.5,388.76V388.95M194.5,388.74V388.93M195.5,388.72V388.91M197.5,388.71V388.9M199.5,388.72V388.91M201.5,388.74V388.93M203.5,388.76V388.95M205.5,388.79V388.99M206.5,388.83V389.02M208.5,388.87V389.06M210.5,388.9V389.09M212.5,388.92V389.12M214.5,388.94V389.13M215.5,388.95V389.14M217.5,388.82V389.22M219.5,388.66V389.27M221.5,388.47V389.28M223.5,388.27V389.29M224.5,388.06V389.28M226.5,387.85V389.28M228.5,387.56V389.35M230.5,387.25V389.4M232.5,386.95V389.45M234.5,386.66V389.52M235.5,386.53V389.47M237.5,386.41V389.44M239.5,386.3V389.4M241.5,386.19V389.37M243.5,386.07V389.33M244.5,385.94V389.28M246.5,385.83V389.17M248.5,385.7V389.04M250.5,385.57V388.92M252.5,385.46V388.81M253.5,385.36V388.7M255.5,385.27V388.61M257.5,385.23V388.57M259.5,388.5V388.69M261.5,388.56V388.75M262.5,388.59V388.78M264.5,388.62V388.81M266.5,388.64V388.83M268.5,388.65V388.84M270.5,388.66V388.85M272.5,388.67V388.86M273.5,388.68V388.87M275.5,388.7V388.89M34.5,492.18V497.58M36.5,492.09V497.49M38.5,492V497.41M40.5,491.86V497.26M41.5,491.42V496.83M43.5,490.74V496.15M45.5,489.99V495.4M47.5,489.09V494.5M49.5,488.04V493.45M50.5,486.79V492.2M52.5,485.18V490.59M54.5,482.84V488.25M56.5,479.95V485.36M58.5,477.03V482.44M60.5,473.92V479.32M61.5,471.03V476.43M63.5,468.56V473.97M65.5,466.33V471.74M67.5,464.3V469.71M69.5,462.41V467.81M71.5,460.85V466.26M72.5,459.65V465.06M74.5,458.69V464.09M76.5,457.97V463.38M78.5,457.39V462.79M80.5,457.04V462.44M81.5,456.87V462.28M83.5,456.76V462.17M85.5,456.72V462.12M87.5,456.9V462.3M89.5,457.31V462.72M91.5,457.79V463.19M34.5,505.85V510.94M36.5,505.67V510.76M38.5,505.51V510.6M40.5,505.34V510.43M41.5,505.15V510.23M43.5,504.9V509.98M45.5,504.53V509.62M47.5,504.03V509.12M49.5,503.46V508.55M50.5,502.83V507.92M52.5,502.03V507.12M54.5,500.96V506.05M56.5,499.67V504.76M58.5,498.35V503.44M60.5,496.96V502.05M61.5,495.51V500.6M63.5,494V499.09M65.5,492.46V497.55M67.5,490.95V496.04M69.5,489.47V494.56M71.5,488.04V493.13M72.5,486.62V491.7M74.5,485.17V490.26M76.5,483.78V488.87M78.5,482.54V487.63M80.5,481.52V486.61M81.5,480.73V485.82M83.5,480.07V485.16M85.5,479.46V484.54M87.5,478.85V483.94M89.5,478.34V483.43M91.5,477.91V483M92.5,477.54V482.63M94.5,477.39V482.48M96.5,478.33V483.42M98.5,479.61V484.7M100.5,480.29V485.38M101.5,480.83V485.92M103.5,481.05V486.13M105.5,480.89V485.97M107.5,480.73V485.82M109.5,481.26V486.35M111.5,482.16V487.25M143.5,509.03V511.57M145.5,508.37V511.17M147.5,507.75V510.8M148.5,507.11V510.41M150.5,506.39V509.95M152.5,505.53V509.35M154.5,504.15V508.82M156.5,502.47V507.98M157.5,500.44V506.8M159.5,497.31V504.94M161.5,493.61V502.51M163.5,490.26V499.91M165.5,486.79V497.17M167.5,483.11V494.24M168.5,479.05V490.98M170.5,474.84V487.56M172.5,470.97V483.9M174.5,467.1V480.24M176.5,463.4V476.75M177.5,460.07V473.43M179.5,456.88V470.23M181.5,453.48V467.16M183.5,450.13V464.13M185.5,447.02V461.33M186.5,444.1V458.73M188.5,441.37V456.31M190.5,439.07V454.33M192.5,437.27V452.69M194.5,435.68V451.26M195.5,434.27V450.01M197.5,433.03V448.93M199.5,431.9V447.8M201.5,430.9V446.8M203.5,430.32V446.22M205.5,430.08V445.98M206.5,429.91V445.81M208.5,429.85V445.75M210.5,431.28V447.18M143.5,507.76V510.3M145.5,507.17V509.85M147.5,506.58V509.38M148.5,505.99V508.91M150.5,505.42V508.47M152.5,504.9V508.08M154.5,504.49V507.67M156.5,504.13V507.31M157.5,503.77V506.95M159.5,503.4V506.58M161.5,502.99V506.17M163.5,502.52V505.7M165.5,502.02V505.2M167.5,501.48V504.66M168.5,500.9V504.08M170.5,500.28V503.46M172.5,499.52V502.83M174.5,498.66V502.1M176.5,497.77V501.33M177.5,496.92V500.6M179.5,496.15V499.97M181.5,495.49V499.43M183.5,494.88V498.95M185.5,494.31V498.5M186.5,493.73V498.05M188.5,493.13V497.58M190.5,492.39V497.23M192.5,491.66V496.88M194.5,490.92V496.52M195.5,490.14V496.12M197.5,489.31V495.67M199.5,488.25V495.09M201.5,487.04V494.36M203.5,485.94V493.73M205.5,485.18V493.45M206.5,484.98V493.24M208.5,484.85V493.11M210.5,484.72V492.99M212.5,484.54V492.81M214.5,484.2V492.47M215.5,483.73V492M217.5,483.22V491.49M219.5,482.79V491.06M221.5,482.54V490.68M223.5,482.32V490.33M224.5,482.12V490.01M226.5,481.92V489.68M228.5,481.68V489.31M230.5,481.44V488.75M232.5,481.12V488.12M234.5,480.89V487.57M235.5,480.89V487.25M237.5,481.45V487.81M239.5,482.52V488.88M241.5,487.88V490.74M243.5,487.81V490.67M244.5,487.74V490.6M246.5,487.66V490.52M248.5,487.56V490.43M250.5,487.41V490.27M252.5,487.19V490.06M253.5,487.01V489.87M255.5,486.93V489.79M257.5,487.03V489.89M259.5,487.25V490.11M261.5,487.47V490.33M262.5,487.56V490.43M264.5,487.47V490.33M266.5,487.25V490.11M268.5,487.03V489.89M270.5,486.93V489.79M272.5,487.11V489.97M273.5,487.52V490.38M275.5,488V490.86M370.5,75.5V80.9M372.5,74.99V80.39M374.5,74.49V79.89M376.5,73.75V79.15M377.5,72.04V77.44M379.5,69.94V75.34M381.5,68.24V73.64M383.5,66.66V72.06M385.5,65.34V70.73M387.5,64.26V69.66M388.5,63.43V68.83M390.5,62.74V68.14M392.5,62.24V67.64M394.5,62.2V67.6M396.5,62.44V67.84M398.5,62.79V68.19M399.5,63.45V68.85M401.5,64.29V69.68M403.5,64.7V70.1M405.5,64.47V69.87M407.5,63.91V69.31M408.5,61.89V67.29M410.5,58.82V64.22M412.5,55.56V60.96M414.5,52.07V57.47M416.5,49.46V54.85M418.5,47.9V53.3M419.5,46.7V52.1M421.5,45.64V51.04M423.5,44.66V50.06M425.5,43.77V49.17M427.5,42.91V48.31M370.5,83.76V90.74M372.5,83.04V90.03M374.5,82.33V89.31M376.5,81.37V88.36M377.5,79.47V86.46M379.5,77.56V84.55M381.5,76.54V83.52M383.5,75.75V82.74M385.5,75.18V82.17M387.5,74.79V81.78M388.5,74.49V81.48M390.5,74.22V81.21M392.5,73.91V80.9M394.5,73.51V80.5M396.5,73.07V80.06M398.5,72.65V79.64M399.5,72.32V79.31M401.5,72.05V79.04M403.5,71.79V78.78M405.5,71.6V78.59M407.5,71.53V78.52M408.5,71.53V78.52M410.5,71.53V78.52M412.5,71.53V78.52M414.5,71.53V78.52M416.5,71.53V78.52M418.5,71.35V78.34M419.5,70.92V77.91M421.5,70.42V77.4M423.5,69.7V76.69M425.5,68.82V75.8M427.5,68.19V75.18M428.5,67.87V74.86M430.5,67.72V74.7M432.5,67.95V74.93M434.5,68.42V75.41M436.5,68.83V75.82M438.5,69.03V76.02M439.5,69.2V76.19M441.5,69.46V76.45M443.5,70.32V77.31M445.5,71.37V78.36M447.5,72V78.99M479.5,88.52V98.05M481.5,85.83V96.16M483.5,82.96V94.08M484.5,79.74V91.33M486.5,75.97V88.04M488.5,71.44V83.83M490.5,66.29V78.99M492.5,60.73V73.43M494.5,55.17V67.88M495.5,50.18V62.88M497.5,45.8V58.51M499.5,42.19V54.89M501.5,39.29V52M503.5,36.94V49.97M504.5,35.16V48.5M506.5,33.65V47.47M508.5,32.78V47.07M510.5,34.16V49.08M512.5,36.22V51.68M513.5,37.7V53.58M515.5,35.02V52.49M517.5,31.35V50.41M519.5,28.18V49.62M521.5,25.64V49.46M523.5,24.34V49.75M524.5,23.23V50.23M526.5,21.98V50.57M528.5,20.45V49.56M530.5,18.49V48.13M532.5,17.38V47.55M533.5,19.44V46.97M535.5,22.14V47.02M537.5,24.21V46.44M539.5,25.03V44.09M541.5,25.48V41.36M543.5,25.05V40.13M544.5,25V39.29M546.5,25.79V44.85M548.5,36.18V45.71M479.5,86.93V96.46M481.5,86.67V95.99M483.5,86.41V95.51M484.5,85.98V94.87M486.5,85.04V93.51M488.5,83.49V91.53M490.5,81.85V89.47M492.5,80.19V87.39M494.5,78.43V85.21M495.5,76.93V83.28M497.5,75.65V81.58M499.5,74.54V80.05M501.5,73.91V78.99M503.5,73.49V78.47M504.5,73.2V78.07M506.5,73.12V77.88M508.5,73.12V77.88M510.5,73.12V77.88M512.5,73.12V77.88M513.5,72.79V77.55M515.5,72.18V76.94M517.5,71.85V76.61M519.5,72.01V76.69M521.5,72.32V76.93M523.5,72.64V77.16M524.5,72.8V77.25M526.5,71.93V76.38M528.5,70.33V74.77M530.5,69.46V73.91M532.5,70.17V74.61M533.5,71.37V75.82M535.5,72.64V77.08M537.5,73.94V78.39M539.5,74.55V78.99M541.5,74.16V79.08M543.5,73.57V78.97M544.5,72.91V78.79M546.5,72.32V78.67M548.5,71.82V78.65M550.5,71.35V78.65M552.5,70.88V78.66M553.5,70.42V78.67M555.5,70.22V78.47M557.5,70.02V78.28M559.5,69.78V78.04M561.5,69.43V77.48M562.5,68.99V76.82M564.5,68.83V76.45M566.5,69.24V76.65M568.5,70.07V77.27M570.5,71.05V78.04M572.5,72.25V79.05M573.5,73.77V80.4M575.5,75.38V81.82M577.5,78.2V81.06M579.5,77.72V80.57M581.5,77.23V80.09M582.5,76.77V79.63M584.5,76.24V79.1M586.5,75.73V78.59M588.5,75.5V78.36M590.5,75.63V78.49M592.5,75.95V78.8M593.5,76.32V79.18M595.5,76.64V79.5M597.5,76.77V79.63M599.5,76.51V79.36M601.5,75.85V78.71M602.5,75.02V77.87M604.5,74.2V77.06M606.5,73.61V76.47M608.5,73.46V76.32M610.5,74.04V76.9M370.5,130.09V135.64M372.5,131.22V136.77M374.5,132.35V137.91M376.5,132.87V138.42M377.5,132.57V138.12M379.5,131.83V137.39M381.5,130.89V136.44M383.5,129.46V135.01M385.5,127.38V132.93M387.5,124.96V130.51M388.5,122.56V128.11M390.5,119.99V125.54M392.5,117.27V122.82M394.5,115.03V120.58M396.5,113.15V118.7M398.5,111.54V117.1M399.5,110.86V116.41M401.5,111.9V117.45M403.5,114.23V119.78M405.5,118.88V124.43M407.5,125.33V130.89M408.5,132.31V137.86M410.5,139.41V144.96M412.5,145.68V151.23M414.5,151.57V157.13M416.5,157.05V162.61M418.5,162.38V167.93M419.5,167.37V172.93M421.5,171.33V176.88M423.5,174.13V179.68M425.5,176.39V181.94M427.5,178.52V184.07M370.5,128.51V133.26M372.5,129.31V134.07M374.5,130.12V134.88M376.5,130.49V135.25M377.5,130.02V134.78M379.5,128.93V133.69M381.5,127.71V132.47M383.5,126.43V131.19M385.5,124.92V129.68M387.5,123.38V128.13M388.5,121.96V126.72M390.5,120.65V125.4M392.5,119.32V124.08M394.5,118.08V122.84M396.5,117.01V121.77M398.5,116.22V120.97M399.5,115.38V120.54M401.5,114.61V120.16M403.5,114V119.94M405.5,113.64V119.98M407.5,113.24V120.64M408.5,113.07V121.52M410.5,113.04V122.56M412.5,113.68V124.26M414.5,115.18V126.81M416.5,117.01V129.7M418.5,119.2V132.94M419.5,121.94V136.74M421.5,124.94V140.8M423.5,128.49V144.88M425.5,132.36V149.28M427.5,136.24V153.68M428.5,140.69V157.61M430.5,145.14V161.53M432.5,149.12V164.98M434.5,152.57V167.9M436.5,155.69V170.49M438.5,158.44V172.72M439.5,160.89V174.64M441.5,163.1V176.31M443.5,164.98V177.67M445.5,166.24V178.93M447.5,167.36V180.05M479.5,120.18V126.52M481.5,117.66V122.82M483.5,115.82V119.78M484.5,114.73V118.16M486.5,113.97V116.88M488.5,113.84V116.22M490.5,114.3V116.68M492.5,115.16V117.54M494.5,115.62V118M495.5,115.27V117.65M497.5,114.63V117.01M499.5,113.99V116.11M501.5,113.26V115.11M503.5,112.84V114.43M504.5,112.66V114.14M506.5,112.52V113.91M508.5,112.44V113.73M510.5,112.45V113.64M512.5,112.48V114.06M513.5,112.86V114.84M515.5,113.44V115.82M517.5,114.13V117.7M519.5,115.42V120.18M521.5,117.51V123.06M523.5,120.18V126.52M524.5,123.5V130.24M526.5,127.32V134.45M528.5,131.89V139.03M530.5,136.83V143.97M532.5,141.89V149.03M533.5,147.14V154.28M535.5,152.69V159.83M537.5,158.24V165.38M539.5,163.65V170.78M541.5,168.55V175.69M543.5,173.41V180.54M544.5,176.09V183.22M546.5,176.09V183.22M548.5,176.09V183.22M479.5,121.17V127.52M481.5,119.18V124.34M483.5,117.8V121.77M484.5,116.95V120.65M486.5,116.36V119.8M488.5,116.22V119.39M490.5,116.73V119.9M492.5,117.68V120.86M494.5,118.2V121.37M495.5,117.99V120.76M497.5,117.4V119.78M499.5,116.37V118.75M501.5,115.13V117.51M503.5,114.23V116.61M504.5,113.75V116.13M506.5,113.36V115.74M508.5,113.06V115.44M510.5,112.84V115.22M512.5,112.67V115.05M513.5,112.51V114.88M515.5,112.37V114.75M517.5,112.28V114.66M519.5,112.25V114.63M521.5,112.25V114.63M523.5,112.25V114.63M524.5,112.25V114.63M526.5,112.25V114.63M528.5,112.25V114.63M530.5,112.27V114.81M532.5,112.44V115.14M533.5,112.68V115.54M535.5,112.91V115.92M537.5,113.04V116.22M539.5,112.95V116.52M541.5,112.82V116.79M543.5,112.71V117.07M544.5,112.65V117.4M546.5,112.08V118.74M548.5,111.86V120.42M550.5,111.96V122.75M552.5,113.17V126.49M553.5,114.63V130.49M555.5,116.66V133.58M557.5,118.75V136.72M559.5,120.58V139.61M561.5,122.58V141.62M562.5,124.4V143.43M564.5,126.13V145.16M566.5,127.83V146.87M568.5,129.46V148.49M570.5,130.89V149.92M572.5,132.31V150.86M573.5,133.59V151.66M575.5,134.86V152.45M577.5,130.49V146.35M579.5,131.69V147.55M581.5,132.92V148.78M582.5,133.95V149.81M584.5,134.66V150.52M586.5,135.3V151.16M588.5,135.88V151.74M590.5,136.32V152.18M592.5,136.59V152.45M593.5,135.8V151.66M595.5,135.52V150.59M597.5,142.17V155.26M599.5,146.54V158.97M601.5,150.15V162.27M602.5,152.79V164.68M604.5,154.66V166.55M606.5,156.2V168.09M608.5,157.59V169.49M610.5,159.01V170.91M370.5,236.19V238.09M372.5,234.48V236.38M374.5,232.77V234.67M376.5,231.06V232.96M377.5,229.37V231.27M379.5,227.71V229.61M381.5,226.04V227.94M383.5,224.35V226.25M385.5,222.7V224.6M387.5,221.16V223.06M388.5,219.79V221.69M390.5,218.43V220.33M392.5,217.07V218.97M394.5,216.02V217.92M396.5,215.6V217.5M398.5,215.58V217.64M399.5,215.69V217.91M401.5,215.91V218.29M403.5,216.43V220M405.5,217.89V222.64M407.5,220.77V226.05M408.5,224.91V230.72M410.5,229.46V235.79M412.5,234.53V241.13M414.5,240.16V247.02M416.5,245.69V252.82M418.5,251.26V258.39M419.5,256.74V263.87M421.5,261.53V268.66M423.5,265.41V272.54M425.5,268.81V275.94M427.5,272.1V279.23M370.5,233.1V236.27M372.5,232.24V235.41M374.5,231.4V234.57M376.5,230.55V233.72M377.5,229.65V232.82M379.5,228.66V231.83M381.5,227.51V230.68M383.5,226.19V229.36M385.5,224.82V227.99M387.5,223.5V226.67M388.5,222.33V225.5M390.5,221.25V224.42M392.5,220.2V223.36M394.5,219.22V222.39M396.5,218.38V221.55M398.5,217.73V220.9M399.5,217.2V220.37M401.5,216.72V219.89M403.5,216.37V219.53M405.5,216.23V219.4M407.5,216.18V219.88M408.5,216.46V220.69M410.5,216.94V221.69M412.5,217.74V223.55M414.5,219.27V226.13M416.5,220.98V228.9M418.5,222.79V231.76M419.5,224.86V234.89M421.5,227.08V238.17M423.5,229.45V241.6M425.5,232.01V245.21M427.5,234.68V248.94M428.5,237.93V252.71M430.5,241.3V256.62M432.5,244.19V260.03M434.5,246.79V262.63M436.5,249.08V264.92M438.5,250.84V266.68M439.5,252.54V267.32M441.5,253.99V267.72M443.5,255.59V268.26M445.5,257.1V269.77M447.5,258.76V271.43M479.5,221.54V223.91M481.5,221.25V223.62M483.5,220.96V223.34M484.5,220.68V223.05M486.5,220.37V222.75M488.5,220.03V222.41M490.5,219.62V222M492.5,219.16V221.53M494.5,218.66V221.04M495.5,218.18V220.55M497.5,217.73V220.11M499.5,217.28V219.66M501.5,216.8V219.18M503.5,216.36V218.73M504.5,216.04V218.41M506.5,215.91V218.29M508.5,215.81V218.39M510.5,215.71V218.49M512.5,215.62V218.59M513.5,215.52V218.68M515.5,215.58V219.28M517.5,216.14V220.36M519.5,216.94V221.69M521.5,217.83V224.16M523.5,219.43V227.35M524.5,221.14V230.64M526.5,223.01V233.57M528.5,225V236.62M530.5,227.08V239.75M532.5,229.55V242.75M533.5,232.11V245.84M535.5,234.68V248.94M537.5,237.5V251.76M539.5,240.32V254.58M541.5,243.08V257.33M543.5,246.68V260.31M544.5,249.82V262.81M546.5,250.49V261.58M479.5,222.41V225.58M481.5,222.16V225.33M483.5,221.93V225.1M484.5,221.69V224.85M486.5,221.43V224.6M488.5,221.14V224.31M490.5,220.88V223.89M492.5,220.56V223.41M494.5,220.22V222.91M495.5,219.88V222.41M497.5,219.56V221.93M499.5,219.26V221.48M501.5,218.97V221.03M503.5,218.69V220.59M504.5,218.41V220.16M506.5,218.13V219.71M508.5,217.75V219.33M510.5,217.35V218.93M512.5,216.95V218.54M513.5,216.6V218.18M515.5,216.31V217.89M517.5,216.05V217.63M519.5,215.79V217.38M521.5,215.57V217.16M523.5,215.42V217M524.5,215.36V216.94M526.5,215.36V216.94M528.5,215.36V216.94M530.5,215.36V216.94M532.5,215.36V216.94M533.5,215.36V216.94M535.5,215.28V217.18M537.5,215.33V217.55M539.5,215.49V218.03M541.5,215.72V218.57M543.5,215.99V219.16M544.5,216.11V220.22M546.5,216.47V221.54M548.5,217V223.02M550.5,217.61V224.58M552.5,218.21V226.13M553.5,219.02V227.57M555.5,219.94V229.13M557.5,220.91V230.73M559.5,221.86V232.31M561.5,222.72V233.81M562.5,223.64V235.05M564.5,224.5V236.23M566.5,225.34V237.38M568.5,226.19V238.55M570.5,227.08V239.75M572.5,228.18V240.86M573.5,229.32V241.99M575.5,230.46V243.13M577.5,225.97V237.06M579.5,227.39V238.48M581.5,228.83V239.92M582.5,230.24V241.33M584.5,231.59V242.68M586.5,232.85V243.94M588.5,234.04V245.13M590.5,235.21V246.3M592.5,236.44V247.53M593.5,237.76V248.85M595.5,239.18V250.27M597.5,240.67V251.75M599.5,242.19V253.27M601.5,243.71V254.8M602.5,245.25V256.34M604.5,246.81V257.9M606.5,248.39V259.48M608.5,249.98V261.06M610.5,251.56V262.65M370.5,361.75V369.35M372.5,361.19V368.61M374.5,360.64V367.87M376.5,360.09V367.13M377.5,359.52V366.36M379.5,358.89V365.55M381.5,358.22V364.69M383.5,357.51V363.78M385.5,356.75V362.83M387.5,355.94V361.84M388.5,355.09V360.79M390.5,354.26V359.65M392.5,353.35V358.42M394.5,352.24V356.99M396.5,350.73V355.48M398.5,348.89V353.64M399.5,346.53V351.28M401.5,342.37V347.6M403.5,337.73V343.44M405.5,334.33V340.04M407.5,331.31V337.02M408.5,328.66V334.05M410.5,326.23V331.3M412.5,324.18V328.94M414.5,322.35V327.1M416.5,320.75V325.51M418.5,319.43V324.18M419.5,318.16V322.91M421.5,317.05V321.8M423.5,316.57V321.33M425.5,316.82V321.57M427.5,317.3V322.06M370.5,354.14V358.89M372.5,355.3V360.05M374.5,354.95V359.7M376.5,353.19V357.94M377.5,353.24V357.99M379.5,353.35V358.11M381.5,353.49V358.25M383.5,353.61V358.37M385.5,353.66V358.42M387.5,353.57V358.33M388.5,353.35V358.1M390.5,353.04V357.79M392.5,352.71V357.47M394.5,352.35V357.11M396.5,351.92V356.67M398.5,351.4V356.16M399.5,350.81V355.56M401.5,350.07V354.83M403.5,349.17V353.92M405.5,348.13V352.88M407.5,347V351.76M408.5,345.74V350.49M410.5,344.29V349.05M412.5,342.73V347.48M414.5,341V345.76M416.5,339.13V343.89M418.5,337.26V342.01M419.5,335.43V340.18M421.5,333.59V338.35M423.5,331.75V336.5M425.5,329.89V334.64M427.5,327.92V332.67M428.5,325.88V330.63M430.5,323.94V328.69M432.5,322.28V327.03M434.5,320.83V325.59M436.5,319.49V324.25M438.5,318.36V323.11M439.5,317.52V322.28M441.5,316.89V321.64M443.5,316.57V321.33M445.5,316.57V321.33M447.5,316.57V321.33M481.5,345.81V359.12M483.5,341.3V354.61M484.5,343.29V353.76M486.5,345.58V353.19M488.5,346.36V353.33M490.5,347.07V353.41M492.5,347.96V353.66M494.5,349.33V355.51M495.5,350.33V356.99M497.5,349.61V355.31M499.5,348.43V353.19M501.5,347.84V352.28M503.5,347.42V351.54M504.5,347V350.81M506.5,346.42V350.22M508.5,345.83V349.63M510.5,345.1V348.91M512.5,343.98V347.78M513.5,342.57V346.37M515.5,341.3V345.1M517.5,340.39V344.19M519.5,339.63V343.43M521.5,338.81V342.62M523.5,337.73V341.54M524.5,335.82V339.94M526.5,333.34V337.78M528.5,330.84V335.59M530.5,328.72V333.48M532.5,326.58V331.34M533.5,324.18V328.94M535.5,321.13V325.88M537.5,317.7V322.46M539.5,314.67V319.43M541.5,311.81V316.94M543.5,309.42V314.94M544.5,308.43V314.14M546.5,308.01V313.72M479.5,345.1V354.61M481.5,343.41V351.65M483.5,343.66V350.7M484.5,345.19V351.09M486.5,346.53V351.28M488.5,346.87V351.3M490.5,347.13V351.25M492.5,347.48V351.28M494.5,348.27V352.54M495.5,348.91V353.66M497.5,348.57V353.01M499.5,347.82V351.94M501.5,347.48V351.28M503.5,347.63V351.43M504.5,347.96V351.76M506.5,348.28V352.09M508.5,348.43V352.24M510.5,348.43V352.24M512.5,348.43V352.24M513.5,348.43V352.24M515.5,348.43V352.24M517.5,348.34V352.14M519.5,348.1V351.9M521.5,347.79V351.59M523.5,347.48V351.28M524.5,347.03V351.07M526.5,346.53V350.81M528.5,346.03V350.54M530.5,345.58V350.33M532.5,345.31V350.07M533.5,345.08V349.83M535.5,344.86V349.61M537.5,344.63V349.38M539.5,344.4V349.15M541.5,344.17V348.92M543.5,343.93V348.69M544.5,343.68V348.43M546.5,343.28V348.35M548.5,342.85V348.23M550.5,342.25V347.96M552.5,340.3V346.96M553.5,337.73V345.34M555.5,335.53V343.77M557.5,333.31V342.19M559.5,331.31V340.82M561.5,329.85V339.36M562.5,328.54V338.05M564.5,327.51V337.02M566.5,326.69V336.2M568.5,326.02V335.53M570.5,325.61V335.12M572.5,325.42V334.93M573.5,325.29V334.8M575.5,325.17V334.68M577.5,328.46V334.17M579.5,327.95V333.66M581.5,327.42V333.12M582.5,327.07V332.78M584.5,327.07V332.78M586.5,327.28V332.98M588.5,327.65V333.35M590.5,328.16V333.86M592.5,329.2V334.91M593.5,331.45V337.16M595.5,331.18V336.89M597.5,328.52V334.23M599.5,325.91V331.62M601.5,324.75V330.45M602.5,323.92V329.63M604.5,323.23V328.94M606.5,322.61V328.32M608.5,322.07V327.78M610.5,321.55V327.25M374.5,483.49V486.54M376.5,482.11V485.16M377.5,480.73V483.78M379.5,477.96V481.01M381.5,475.2V478.25M383.5,472.24V475.29M385.5,469.29V472.34M387.5,467.57V470.62M388.5,465.86V468.91M390.5,462.81V465.86M392.5,459.76V462.81M394.5,457.47V460.52M396.5,455.19V458.23M398.5,452.7V455.75M399.5,450.21V453.26M401.5,451.04V454.09M403.5,453.28V456.33M405.5,455.95V459M407.5,458.62V461.67M408.5,462.62V465.67M410.5,466.62V469.67M412.5,471.1V474.15M414.5,475.58V478.63M416.5,477.58V480.63M418.5,479.58V482.63M419.5,481.11V484.16M421.5,482.63V485.68M423.5,485.68V488.73M425.5,488.73V491.78M427.5,489.49V492.54M374.5,483.87V486.16M376.5,482.95V485.24M377.5,482.03V484.32M379.5,481.11V483.39M381.5,479.45V481.74M383.5,477.8V480.09M385.5,476.15V478.44M387.5,474.44V476.72M388.5,472.72V475.01M390.5,471.51V473.8M392.5,470.31V472.59M394.5,469.1V471.39M396.5,468.78V471.07M398.5,468.46V470.75M399.5,468.15V470.43M401.5,467.64V469.92M403.5,467.13V469.42M405.5,466.62V468.91M407.5,465.92V468.21M408.5,465.22V467.51M410.5,464.52V466.81M412.5,466.43V468.72M414.5,468.34V470.62M416.5,470.15V472.43M418.5,471.96V474.25M419.5,473.39V475.67M421.5,474.82V477.1M423.5,475.87V478.15M425.5,476.91V479.2M427.5,478.63V480.92M428.5,480.34V482.63M483.5,479.43V485.07M484.5,472.74V484.33M486.5,469.25V480.38M488.5,464.32V477.88M490.5,458.62V476.15M492.5,460.4V471.89M494.5,457.6V472.21M495.5,455.28V473.2M497.5,451.22V475.93M499.5,449.67V471M501.5,451.52V462.66M503.5,437.68V460.49M504.5,430.96V451.2M506.5,429.44V444.33M508.5,421.78V443.61M510.5,427.42V443.68M512.5,426.66V447.11M513.5,430.31V446.14M515.5,427.98V451.32M517.5,431.17V451M519.5,434.03V455.66M521.5,439.87V457.35M523.5,447.45V460.07M524.5,450.92V466.88M526.5,452.71V470.72M528.5,459.8V469.24M530.5,462.52V473.96M532.5,464.67V479.25M533.5,462.52V481.78M535.5,465.72V478.96M537.5,470.42V478.65M539.5,472.36V481.09M541.5,476.53V483.4M543.5,478.16V488.25M544.5,477.37V490.94M546.5,478.59V491.63M483.5,475.54V483.62M484.5,476.13V484.36M486.5,477.9V483.93M488.5,478.87V484.3M490.5,480.1V484.4M492.5,479.64V484.1M494.5,479.06V483.91M495.5,477.23V487.08M497.5,477.14V488.51M499.5,477.99V484.8M501.5,477.63V482.3M503.5,472.97V482.76M504.5,471.09V480.45M506.5,472.46V477.18M508.5,470.47V477.26M510.5,470.84V477.84M512.5,469.26V480.37M513.5,473.77V480.63M515.5,477.33V481.83M517.5,472.5V483.81M519.5,474.36V479.09M521.5,473.84V481.51M523.5,474.01V483.25M524.5,478.47V484.89M526.5,480.08V489.37M528.5,481.8V487.65M530.5,479.37V490.09M532.5,476.66V485.75M533.5,473.39V481.96M535.5,475.34V480.01M537.5,474.46V480.9M539.5,477.03V482.13M541.5,478.39V484.59M543.5,479.52V488.03M544.5,482.42V489.71M546.5,480.43V487.12M548.5,477.7V485.27M550.5,475.79V484.32M552.5,473.47V483.79M553.5,473.6V484.23M555.5,474.67V483.73M557.5,476.32V485.7M559.5,478.06V487.58M561.5,480.68V486.3M562.5,480.47V487.84M564.5,480.31V484.76M566.5,477.22V484.61M568.5,472.67V483.11M570.5,472.56V482.34M572.5,477.36V488.72M573.5,486.1V494.41M575.5,487.01V498.19M577.5,484.64V494.68M579.5,482.65V490.71M581.5,479.94V486.71M582.5,475.08V484.86M584.5,474.92V485.77M586.5,477.72V488.69M588.5,480.93V488.34M590.5,480.69V491.44M592.5,478.59V489.97M593.5,478.78V488.21M595.5,481.93V486.51M597.5,481.82V486.86M599.5,478.53V487.56M601.5,477.62V485.88M602.5,478.14V489.33M604.5,481.43V491.67M606.5,484.12V493.45M608.5,487.38V494.14M610.5,489.55V494.67M611.5,482.74V492.84" stroke="#000" stroke-width="0.46" fill="none"/>
<path d="M33.95,87.68h1.1M33.95,91.22h1.1M35.95,86.42h1.1M35.95,89.96h1.1M37.95,85.2h1.1M37.95,88.74h1.1M39.95,83.96h1.1M39.95,87.5h1.1M40.95,82.64h1.1M40.95,86.18h1.1M42.95,81.19h1.1M42.95,84.73h1.1M44.95,79.57h1.1M44.95,83.11h1.1M46.95,77.81h1.1M46.95,81.35h1.1M48.95,75.91h1.1M48.95,79.45h1.1M49.95,73.88h1.1M49.95,77.42h1.1M51.95,71.75h1.1M51.95,75.29h1.1M53.95,69.43h1.1M53.95,72.97h1.1M55.95,66.88h1.1M55.95,70.42h1.1M57.95,64.2h1.1M57.95,67.74h1.1M59.95,61.47h1.1M59.95,65.01h1.1M60.95,58.77h1.1M60.95,62.31h1.1M62.95,56.06h1.1M62.95,59.6h1.1M64.95,53.29h1.1M64.95,56.83h1.1M66.95,50.52h1.1M66.95,54.06h1.1M68.95,47.8h1.1M68.95,51.34h1.1M70.95,45.2h1.1M70.95,48.74h1.1M71.95,42.6h1.1M71.95,46.14h1.1M73.95,39.96h1.1M73.95,43.5h1.1M75.95,37.44h1.1M75.95,40.98h1.1M77.95,35.2h1.1M77.95,38.74h1.1M79.95,33.4h1.1M79.95,36.94h1.1M80.95,31.99h1.1M80.95,35.53h1.1M82.95,30.82h1.1M82.95,34.36h1.1M84.95,29.86h1.1M84.95,33.4h1.1M86.95,29.09h1.1M86.95,32.63h1.1M88.95,28.44h1.1M88.95,31.98h1.1M90.95,27.83h1.1M90.95,31.37h1.1M33.95,88.86h1.1M33.95,92.99h1.1M35.95,87.89h1.1M35.95,92.02h1.1M37.95,86.95h1.1M37.95,91.08h1.1M39.95,86h1.1M39.95,90.13h1.1M40.95,84.98h1.1M40.95,89.11h1.1M42.95,83.84h1.1M42.95,87.98h1.1M44.95,82.53h1.1M44.95,86.66h1.1M46.95,81.04h1.1M46.95,85.17h1.1M48.95,79.44h1.1M48.95,83.57h1.1M49.95,77.8h1.1M49.95,81.93h1.1M51.95,76.18h1.1M51.95,80.31h1.1M53.95,74.58h1.1M53.95,78.71h1.1M55.95,72.98h1.1M55.95,77.11h1.1M57.95,71.35h1.1M57.95,75.48h1.1M59.95,69.66h1.1M59.95,73.79h1.1M60.95,67.92h1.1M60.95,72.05h1.1M62.95,66.07h1.1M62.95,70.2h1.1M64.95,64.15h1.1M64.95,68.28h1.1M66.95,62.17h1.1M66.95,66.3h1.1M68.95,60.17h1.1M68.95,64.3h1.1M70.95,58.18h1.1M70.95,62.31h1.1M71.95,56.18h1.1M71.95,60.31h1.1M73.95,54.15h1.1M73.95,58.28h1.1M75.95,52.12h1.1M75.95,56.25h1.1M77.95,50.11h1.1M77.95,54.24h1.1M79.95,48.15h1.1M79.95,52.28h1.1M80.95,46.18h1.1M80.95,50.31h1.1M82.95,44.25h1.1M82.95,48.38h1.1M84.95,42.55h1.1M84.95,46.68h1.1M86.95,41.1h1.1M86.95,45.23h1.1M88.95,39.89h1.1M88.95,44.02h1.1M90.95,38.94h1.1M90.95,43.07h1.1M91.95,38.12h1.1M91.95,42.25h1.1M93.95,37.28h1.1M93.95,41.41h1.1M95.95,36.65h1.1M95.95,40.78h1.1M97.95,36.29h1.1M97.95,40.42h1.1M99.95,36.01h1.1M99.95,40.14h1.1M100.95,35.79h1.1M100.95,39.92h1.1M102.95,35.58h1.1M102.95,39.71h1.1M104.95,35.39h1.1M104.95,39.52h1.1M106.95,35.21h1.1M106.95,39.34h1.1M108.95,35.05h1.1M108.95,39.18h1.1M110.95,34.88h1.1M110.95,39.01h1.1M142.95,68.8h1.1M142.95,72.34h1.1M144.95,68.24h1.1M144.95,71.78h1.1M146.95,67.71h1.1M146.95,71.25h1.1M147.95,67.16h1.1M147.95,70.7h1.1M149.95,66.55h1.1M149.95,70.09h1.1M151.95,65.85h1.1M151.95,69.39h1.1M153.95,65h1.1M153.95,68.54h1.1M155.95,63.99h1.1M155.95,67.53h1.1M156.95,62.86h1.1M156.95,66.4h1.1M158.95,61.64h1.1M158.95,65.18h1.1M160.95,60.36h1.1M160.95,63.9h1.1M162.95,58.98h1.1M162.95,62.52h1.1M164.95,57.46h1.1M164.95,61h1.1M166.95,55.83h1.1M166.95,59.37h1.1M167.95,54.15h1.1M167.95,57.69h1.1M169.95,52.46h1.1M169.95,56h1.1M171.95,50.73h1.1M171.95,54.27h1.1M173.95,48.95h1.1M173.95,52.49h1.1M175.95,47.12h1.1M175.95,50.66h1.1M176.95,45.27h1.1M176.95,48.81h1.1M178.95,43.43h1.1M178.95,46.97h1.1M180.95,41.58h1.1M180.95,45.12h1.1M182.95,39.72h1.1M182.95,43.26h1.1M184.95,37.85h1.1M184.95,41.39h1.1M185.95,35.98h1.1M185.95,39.52h1.1M187.95,34.11h1.1M187.95,37.65h1.1M189.95,32.2h1.1M189.95,35.74h1.1M191.95,30.26h1.1M191.95,33.8h1.1M193.95,28.34h1.1M193.95,31.88h1.1M194.95,26.49h1.1M194.95,30.03h1.1M196.95,24.79h1.1M196.95,28.33h1.1M198.95,23.1h1.1M198.95,26.64h1.1M200.95,21.52h1.1M200.95,25.06h1.1M202.95,20.42h1.1M202.95,23.96h1.1M204.95,19.71h1.1M204.95,23.25h1.1M205.95,19.16h1.1M205.95,22.7h1.1M207.95,18.95h1.1M207.95,22.49h1.1M209.95,19.64h1.1M209.95,23.18h1.1M142.95,69.63h1.1M142.95,72.22h1.1M144.95,69.19h1.1M144.95,71.78h1.1M146.95,68.77h1.1M146.95,71.36h1.1M147.95,68.35h1.1M147.95,70.95h1.1M149.95,67.94h1.1M149.95,70.54h1.1M151.95,67.52h1.1M151.95,70.12h1.1M153.95,67.1h1.1M153.95,69.69h1.1M155.95,66.65h1.1M155.95,69.25h1.1M156.95,66.18h1.1M156.95,68.78h1.1M158.95,65.68h1.1M158.95,68.28h1.1M160.95,65.14h1.1M160.95,67.74h1.1M162.95,64.55h1.1M162.95,67.14h1.1M164.95,63.89h1.1M164.95,66.49h1.1M166.95,63.19h1.1M166.95,65.78h1.1M167.95,62.44h1.1M167.95,65.04h1.1M169.95,61.67h1.1M169.95,64.26h1.1M171.95,60.87h1.1M171.95,63.46h1.1M173.95,60.06h1.1M173.95,62.65h1.1M175.95,59.24h1.1M175.95,61.84h1.1M176.95,58.44h1.1M176.95,61.03h1.1M178.95,57.65h1.1M178.95,60.25h1.1M180.95,56.86h1.1M180.95,59.46h1.1M182.95,56.06h1.1M182.95,58.66h1.1M184.95,55.25h1.1M184.95,57.84h1.1M185.95,54.43h1.1M185.95,57.02h1.1M187.95,53.6h1.1M187.95,56.2h1.1M189.95,52.78h1.1M189.95,55.38h1.1M191.95,51.96h1.1M191.95,54.56h1.1M193.95,51.15h1.1M193.95,53.75h1.1M194.95,50.35h1.1M194.95,52.95h1.1M196.95,49.57h1.1M196.95,52.16h1.1M198.95,48.79h1.1M198.95,51.39h1.1M200.95,48.02h1.1M200.95,50.61h1.1M202.95,47.25h1.1M202.95,49.84h1.1M204.95,46.48h1.1M204.95,49.08h1.1M205.95,45.73h1.1M205.95,48.32h1.1M207.95,44.98h1.1M207.95,47.57h1.1M209.95,44.24h1.1M209.95,46.84h1.1M211.95,43.52h1.1M211.95,46.12h1.1M213.95,42.82h1.1M213.95,45.41h1.1M214.95,42.13h1.1M214.95,44.73h1.1M216.95,41.46h1.1M216.95,44.05h1.1M218.95,40.78h1.1M218.95,43.38h1.1M220.95,40.11h1.1M220.95,42.71h1.1M222.95,39.45h1.1M222.95,42.05h1.1M223.95,38.81h1.1M223.95,41.4h1.1M225.95,38.18h1.1M225.95,40.78h1.1M227.95,37.57h1.1M227.95,40.17h1.1M229.95,37h1.1M229.95,39.59h1.1M231.95,36.45h1.1M231.95,39.05h1.1M233.95,35.94h1.1M233.95,38.53h1.1M234.95,35.46h1.1M234.95,38.06h1.1M236.95,35.01h1.1M236.95,37.61h1.1M238.95,34.6h1.1M238.95,37.2h1.1M240.95,34.23h1.1M240.95,36.82h1.1M242.95,33.89h1.1M242.95,36.48h1.1M243.95,33.58h1.1M243.95,36.17h1.1M245.95,33.28h1.1M245.95,35.88h1.1M247.95,33h1.1M247.95,35.59h1.1M249.95,32.71h1.1M249.95,35.3h1.1M251.95,32.4h1.1M251.95,34.99h1.1M252.95,32.07h1.1M252.95,34.66h1.1M254.95,31.72h1.1M254.95,34.32h1.1M256.95,31.37h1.1M256.95,33.96h1.1M258.95,31.02h1.1M258.95,33.61h1.1M260.95,30.67h1.1M260.95,33.26h1.1M261.95,30.33h1.1M261.95,32.93h1.1M263.95,30.01h1.1M263.95,32.6h1.1M265.95,29.69h1.1M265.95,32.28h1.1M267.95,29.37h1.1M267.95,31.97h1.1M269.95,29.06h1.1M269.95,31.66h1.1M271.95,28.75h1.1M271.95,31.35h1.1M272.95,28.44h1.1M272.95,31.04h1.1M274.95,28.13h1.1M274.95,30.72h1.1M33.95,156.42h1.1M33.95,159.95h1.1M35.95,154.32h1.1M35.95,157.85h1.1M37.95,152.24h1.1M37.95,155.77h1.1M39.95,150.11h1.1M39.95,153.64h1.1M40.95,147.87h1.1M40.95,151.4h1.1M42.95,145.45h1.1M42.95,148.98h1.1M44.95,142.89h1.1M44.95,146.42h1.1M46.95,140.27h1.1M46.95,143.8h1.1M48.95,137.68h1.1M48.95,141.21h1.1M49.95,135.13h1.1M49.95,138.66h1.1M51.95,132.58h1.1M51.95,136.11h1.1M53.95,130.03h1.1M53.95,133.56h1.1M55.95,127.5h1.1M55.95,131.03h1.1M57.95,124.91h1.1M57.95,128.44h1.1M59.95,122.33h1.1M59.95,125.86h1.1M60.95,120.03h1.1M60.95,123.56h1.1M62.95,117.55h1.1M62.95,121.4h1.1M64.95,116.72h1.1M64.95,120.8h1.1M66.95,117.72h1.1M66.95,121.8h1.1M68.95,119.37h1.1M68.95,123.58h1.1M70.95,121.39h1.1M70.95,125.73h1.1M71.95,122.92h1.1M71.95,127.42h1.1M73.95,124.32h1.1M73.95,128.98h1.1M75.95,126.26h1.1M75.95,131.07h1.1M77.95,130.15h1.1M77.95,135.22h1.1M79.95,137.68h1.1M79.95,143.12h1.1M80.95,144.37h1.1M80.95,150.62h1.1M82.95,150.86h1.1M82.95,157.92h1.1M84.95,157.29h1.1M84.95,164.89h1.1M86.95,162.54h1.1M86.95,170.68h1.1M88.95,166.01h1.1M88.95,174.16h1.1M90.95,168.81h1.1M90.95,176.96h1.1M33.95,163.08h1.1M33.95,171.23h1.1M35.95,162.02h1.1M35.95,170.17h1.1M37.95,160.97h1.1M37.95,169.12h1.1M39.95,159.68h1.1M39.95,167.83h1.1M40.95,157.53h1.1M40.95,165.67h1.1M42.95,155.61h1.1M42.95,163.76h1.1M44.95,154.84h1.1M44.95,162.99h1.1M46.95,154.32h1.1M46.95,162.47h1.1M48.95,153.71h1.1M48.95,161.86h1.1M49.95,152.86h1.1M49.95,161.01h1.1M51.95,151.81h1.1M51.95,159.95h1.1M53.95,150.31h1.1M53.95,158.46h1.1M55.95,148.55h1.1M55.95,156.7h1.1M57.95,146.57h1.1M57.95,154.71h1.1M59.95,144.48h1.1M59.95,152.63h1.1M60.95,142.84h1.1M60.95,150.99h1.1M62.95,141.74h1.1M62.95,149.88h1.1M64.95,140.84h1.1M64.95,148.99h1.1M66.95,140.13h1.1M66.95,148.28h1.1M68.95,139.48h1.1M68.95,147.62h1.1M70.95,138.86h1.1M70.95,147.01h1.1M71.95,138.41h1.1M71.95,146.55h1.1M73.95,138.23h1.1M73.95,146.37h1.1M75.95,138.43h1.1M75.95,146.57h1.1M77.95,138.93h1.1M77.95,147.08h1.1M79.95,139.58h1.1M79.95,147.73h1.1M80.95,140.58h1.1M80.95,148.73h1.1M82.95,142.06h1.1M82.95,150.21h1.1M84.95,143.79h1.1M84.95,151.94h1.1M86.95,145.84h1.1M86.95,153.99h1.1M88.95,148.35h1.1M88.95,156.5h1.1M90.95,151.26h1.1M90.95,159.41h1.1M91.95,155.04h1.1M91.95,163.19h1.1M93.95,159.47h1.1M93.95,167.61h1.1M95.95,163.49h1.1M95.95,171.63h1.1M97.95,166.72h1.1M97.95,174.86h1.1M99.95,169.6h1.1M99.95,177.74h1.1M100.95,172.46h1.1M100.95,180.61h1.1M102.95,174.62h1.1M102.95,182.77h1.1M104.95,175.87h1.1M104.95,184.02h1.1M106.95,176.45h1.1M106.95,184.6h1.1M108.95,176.45h1.1M108.95,184.6h1.1M110.95,176.45h1.1M110.95,184.6h1.1M142.95,174.82h1.1M142.95,182.43h1.1M144.95,174.02h1.1M144.95,181.63h1.1M146.95,173.22h1.1M146.95,180.83h1.1M147.95,172.04h1.1M147.95,179.65h1.1M149.95,169.21h1.1M149.95,176.81h1.1M151.95,165.52h1.1M151.95,173.13h1.1M153.95,162.33h1.1M153.95,169.93h1.1M155.95,159.18h1.1M155.95,166.79h1.1M156.95,156.15h1.1M156.95,163.76h1.1M158.95,153.17h1.1M158.95,160.77h1.1M160.95,150.52h1.1M160.95,158.12h1.1M162.95,148.29h1.1M162.95,155.89h1.1M164.95,146.21h1.1M164.95,153.81h1.1M166.95,144.33h1.1M166.95,151.93h1.1M167.95,142.69h1.1M167.95,150.3h1.1M169.95,141.35h1.1M169.95,148.96h1.1M171.95,140.23h1.1M171.95,147.84h1.1M173.95,139.23h1.1M173.95,146.84h1.1M175.95,138.36h1.1M175.95,145.97h1.1M176.95,137.62h1.1M176.95,145.22h1.1M178.95,137h1.1M178.95,144.61h1.1M180.95,136.44h1.1M180.95,144.05h1.1M182.95,135.92h1.1M182.95,143.52h1.1M184.95,135.53h1.1M184.95,143.13h1.1M185.95,135.38h1.1M185.95,142.98h1.1M187.95,136.1h1.1M187.95,143.71h1.1M189.95,137.8h1.1M189.95,145.4h1.1M191.95,139.72h1.1M191.95,147.33h1.1M193.95,141.71h1.1M193.95,149.31h1.1M194.95,144.06h1.1M194.95,151.67h1.1M196.95,146.78h1.1M196.95,154.39h1.1M198.95,150.06h1.1M198.95,157.67h1.1M200.95,153.91h1.1M200.95,161.52h1.1M202.95,158.05h1.1M202.95,165.66h1.1M204.95,162.79h1.1M204.95,170.39h1.1M205.95,167.36h1.1M205.95,174.96h1.1M207.95,170.79h1.1M207.95,178.39h1.1M209.95,173.94h1.1M209.95,181.55h1.1M142.95,177.47h1.1M142.95,180.46h1.1M144.95,176.84h1.1M144.95,179.82h1.1M146.95,176.19h1.1M146.95,179.17h1.1M147.95,175.54h1.1M147.95,178.53h1.1M149.95,174.93h1.1M149.95,177.91h1.1M151.95,174.35h1.1M151.95,177.34h1.1M153.95,173.82h1.1M153.95,176.81h1.1M155.95,173.34h1.1M155.95,176.32h1.1M156.95,172.86h1.1M156.95,175.85h1.1M158.95,172.39h1.1M158.95,175.38h1.1M160.95,171.91h1.1M160.95,174.89h1.1M162.95,171.37h1.1M162.95,174.35h1.1M164.95,170.79h1.1M164.95,173.78h1.1M166.95,170.22h1.1M166.95,173.21h1.1M167.95,169.72h1.1M167.95,172.7h1.1M169.95,169.33h1.1M169.95,172.31h1.1M171.95,169.06h1.1M171.95,172.04h1.1M173.95,168.86h1.1M173.95,171.85h1.1M175.95,168.68h1.1M175.95,171.67h1.1M176.95,168.47h1.1M176.95,171.45h1.1M178.95,168.17h1.1M178.95,171.16h1.1M180.95,167.54h1.1M180.95,170.52h1.1M182.95,166.6h1.1M182.95,169.59h1.1M184.95,165.76h1.1M184.95,168.74h1.1M185.95,165.39h1.1M185.95,168.37h1.1M187.95,165.91h1.1M187.95,168.9h1.1M189.95,166.9h1.1M189.95,169.88h1.1M191.95,167.42h1.1M191.95,170.41h1.1M193.95,167.16h1.1M193.95,170.15h1.1M194.95,166.57h1.1M194.95,169.55h1.1M196.95,165.93h1.1M196.95,168.92h1.1M198.95,165.19h1.1M198.95,168.18h1.1M200.95,164.4h1.1M200.95,167.39h1.1M202.95,164.03h1.1M202.95,167.02h1.1M204.95,164.16h1.1M204.95,167.15h1.1M205.95,164.5h1.1M205.95,167.49h1.1M207.95,164.95h1.1M207.95,167.93h1.1M209.95,165.39h1.1M209.95,168.37h1.1M211.95,165.85h1.1M211.95,168.83h1.1M213.95,166.36h1.1M213.95,169.35h1.1M214.95,166.88h1.1M214.95,169.87h1.1M216.95,167.38h1.1M216.95,170.36h1.1M218.95,167.88h1.1M218.95,170.86h1.1M220.95,168.37h1.1M220.95,171.36h1.1M222.95,168.86h1.1M222.95,171.84h1.1M223.95,169.33h1.1M223.95,172.31h1.1M225.95,169.75h1.1M225.95,172.74h1.1M227.95,170.14h1.1M227.95,173.12h1.1M229.95,170.53h1.1M229.95,173.52h1.1M231.95,170.97h1.1M231.95,173.95h1.1M233.95,171.5h1.1M233.95,174.49h1.1M234.95,172.23h1.1M234.95,175.22h1.1M236.95,173.14h1.1M236.95,176.13h1.1M238.95,174.08h1.1M238.95,177.07h1.1M240.95,171.91h1.1M240.95,174.89h1.1M242.95,172.14h1.1M242.95,175.13h1.1M243.95,172.38h1.1M243.95,175.36h1.1M245.95,172.61h1.1M245.95,175.6h1.1M247.95,172.86h1.1M247.95,175.84h1.1M249.95,173.1h1.1M249.95,176.09h1.1M251.95,173.35h1.1M251.95,176.33h1.1M252.95,173.6h1.1M252.95,176.58h1.1M254.95,173.86h1.1M254.95,176.84h1.1M256.95,174.14h1.1M256.95,177.13h1.1M258.95,174.44h1.1M258.95,177.43h1.1M260.95,174.78h1.1M260.95,177.76h1.1M261.95,175.14h1.1M261.95,178.13h1.1M263.95,175.54h1.1M263.95,178.53h1.1M265.95,175.98h1.1M265.95,178.97h1.1M267.95,176.49h1.1M267.95,179.48h1.1M269.95,177.09h1.1M269.95,180.08h1.1M271.95,177.74h1.1M271.95,180.72h1.1M272.95,178.4h1.1M272.95,181.39h1.1M274.95,179.06h1.1M274.95,182.05h1.1M33.95,254.35h1.1M33.95,262.64h1.1M35.95,254.67h1.1M35.95,262.96h1.1M37.95,255h1.1M37.95,263.3h1.1M39.95,255.31h1.1M39.95,263.6h1.1M40.95,255.53h1.1M40.95,263.83h1.1M42.95,255.7h1.1M42.95,263.99h1.1M44.95,255.83h1.1M44.95,264.13h1.1M46.95,255.89h1.1M46.95,264.18h1.1M48.95,255.72h1.1M48.95,264.02h1.1M49.95,255.29h1.1M49.95,263.59h1.1M51.95,254.71h1.1M51.95,263h1.1M53.95,254.08h1.1M53.95,262.38h1.1M55.95,253.52h1.1M55.95,261.81h1.1M57.95,253.04h1.1M57.95,261.33h1.1M59.95,252.54h1.1M59.95,260.84h1.1M60.95,251.98h1.1M60.95,260.27h1.1M62.95,251.31h1.1M62.95,259.6h1.1M64.95,250.53h1.1M64.95,258.82h1.1M66.95,249.61h1.1M66.95,257.9h1.1M68.95,248.5h1.1M68.95,256.79h1.1M70.95,247.18h1.1M70.95,255.48h1.1M71.95,245.69h1.1M71.95,253.98h1.1M73.95,244.04h1.1M73.95,252.33h1.1M75.95,242.1h1.1M75.95,250.4h1.1M77.95,239.86h1.1M77.95,248.15h1.1M79.95,237.52h1.1M79.95,245.81h1.1M80.95,235.06h1.1M80.95,243.36h1.1M82.95,232.49h1.1M82.95,240.78h1.1M84.95,230.05h1.1M84.95,238.35h1.1M86.95,227.86h1.1M86.95,236.16h1.1M88.95,225.79h1.1M88.95,234.08h1.1M90.95,223.75h1.1M90.95,232.04h1.1M33.95,254.7h1.1M33.95,263.47h1.1M35.95,254.95h1.1M35.95,263.72h1.1M37.95,255.22h1.1M37.95,263.99h1.1M39.95,255.46h1.1M39.95,264.23h1.1M40.95,255.65h1.1M40.95,264.42h1.1M42.95,255.81h1.1M42.95,264.58h1.1M44.95,255.95h1.1M44.95,264.72h1.1M46.95,256.01h1.1M46.95,264.77h1.1M48.95,255.91h1.1M48.95,264.68h1.1M49.95,255.65h1.1M49.95,264.42h1.1M51.95,255.29h1.1M51.95,264.06h1.1M53.95,254.87h1.1M53.95,263.64h1.1M55.95,254.47h1.1M55.95,263.23h1.1M57.95,254.05h1.1M57.95,262.82h1.1M59.95,253.58h1.1M59.95,262.35h1.1M60.95,253.07h1.1M60.95,261.84h1.1M62.95,252.51h1.1M62.95,261.28h1.1M64.95,251.91h1.1M64.95,260.68h1.1M66.95,251.27h1.1M66.95,260.03h1.1M68.95,250.55h1.1M68.95,259.32h1.1M70.95,249.74h1.1M70.95,258.51h1.1M71.95,248.86h1.1M71.95,257.63h1.1M73.95,247.95h1.1M73.95,256.72h1.1M75.95,247h1.1M75.95,255.77h1.1M77.95,246.01h1.1M77.95,254.78h1.1M79.95,244.94h1.1M79.95,253.71h1.1M80.95,243.8h1.1M80.95,252.57h1.1M82.95,242.56h1.1M82.95,251.33h1.1M84.95,241.22h1.1M84.95,249.99h1.1M86.95,239.78h1.1M86.95,248.55h1.1M88.95,238.23h1.1M88.95,247h1.1M90.95,236.45h1.1M90.95,245.22h1.1M91.95,234.51h1.1M91.95,243.28h1.1M93.95,232.66h1.1M93.95,241.43h1.1M95.95,230.97h1.1M95.95,239.74h1.1M97.95,229.36h1.1M97.95,238.13h1.1M99.95,227.92h1.1M99.95,236.69h1.1M100.95,226.45h1.1M100.95,235.22h1.1M102.95,225.27h1.1M102.95,234.04h1.1M104.95,225.57h1.1M104.95,234.34h1.1M106.95,226.97h1.1M106.95,235.74h1.1M108.95,226.62h1.1M108.95,235.39h1.1M110.95,226.03h1.1M110.95,234.79h1.1M142.95,280.65h1.1M142.95,283.5h1.1M144.95,281.2h1.1M144.95,284.04h1.1M146.95,281.72h1.1M146.95,284.57h1.1M147.95,282.26h1.1M147.95,285.1h1.1M149.95,282.84h1.1M149.95,285.68h1.1M151.95,283.5h1.1M151.95,286.34h1.1M153.95,284.34h1.1M153.95,287.19h1.1M155.95,285.32h1.1M155.95,288.16h1.1M156.95,286.22h1.1M156.95,289.07h1.1M158.95,287.08h1.1M158.95,289.92h1.1M160.95,287.94h1.1M160.95,290.78h1.1M162.95,288.65h1.1M162.95,291.49h1.1M164.95,289.07h1.1M164.95,291.91h1.1M166.95,289.26h1.1M166.95,292.1h1.1M167.95,289.41h1.1M167.95,292.25h1.1M169.95,289.52h1.1M169.95,292.37h1.1M171.95,289.61h1.1M171.95,292.46h1.1M173.95,289.7h1.1M173.95,292.54h1.1M175.95,289.78h1.1M175.95,292.63h1.1M176.95,289.89h1.1M176.95,292.73h1.1M178.95,290.02h1.1M178.95,292.86h1.1M180.95,290.21h1.1M180.95,293.05h1.1M182.95,290.46h1.1M182.95,293.3h1.1M184.95,290.7h1.1M184.95,293.55h1.1M185.95,290.89h1.1M185.95,293.73h1.1M187.95,290.96h1.1M187.95,293.81h1.1M189.95,290.95h1.1M189.95,293.79h1.1M191.95,290.91h1.1M191.95,293.75h1.1M193.95,290.84h1.1M193.95,293.68h1.1M194.95,290.74h1.1M194.95,293.58h1.1M196.95,290.61h1.1M196.95,293.45h1.1M198.95,289.93h1.1M198.95,292.78h1.1M200.95,288.59h1.1M200.95,291.43h1.1M202.95,287.17h1.1M202.95,290.02h1.1M204.95,285.89h1.1M204.95,288.74h1.1M205.95,284.45h1.1M205.95,287.29h1.1M207.95,282.63h1.1M207.95,285.47h1.1M209.95,280.65h1.1M209.95,283.5h1.1M142.95,286.22h1.1M142.95,288.12h1.1M144.95,286.37h1.1M144.95,288.27h1.1M146.95,286.52h1.1M146.95,288.42h1.1M147.95,286.67h1.1M147.95,288.57h1.1M149.95,286.83h1.1M149.95,288.72h1.1M151.95,286.98h1.1M151.95,288.88h1.1M153.95,287.13h1.1M153.95,289.03h1.1M155.95,287.27h1.1M155.95,289.17h1.1M156.95,287.41h1.1M156.95,289.31h1.1M158.95,287.53h1.1M158.95,289.43h1.1M160.95,287.65h1.1M160.95,289.54h1.1M162.95,287.76h1.1M162.95,289.65h1.1M164.95,287.87h1.1M164.95,289.77h1.1M166.95,287.98h1.1M166.95,289.88h1.1M167.95,288.08h1.1M167.95,289.98h1.1M169.95,288.16h1.1M169.95,290.06h1.1M171.95,288.22h1.1M171.95,290.11h1.1M173.95,288.24h1.1M173.95,290.13h1.1M175.95,288.21h1.1M175.95,290.11h1.1M176.95,288.13h1.1M176.95,290.03h1.1M178.95,288.01h1.1M178.95,289.91h1.1M180.95,287.86h1.1M180.95,289.76h1.1M182.95,287.69h1.1M182.95,289.59h1.1M184.95,287.52h1.1M184.95,289.41h1.1M185.95,287.34h1.1M185.95,289.23h1.1M187.95,287.17h1.1M187.95,289.07h1.1M189.95,286.91h1.1M189.95,288.99h1.1M191.95,286.62h1.1M191.95,288.9h1.1M193.95,286.33h1.1M193.95,288.8h1.1M194.95,286.04h1.1M194.95,288.69h1.1M196.95,285.75h1.1M196.95,288.59h1.1M198.95,285.4h1.1M198.95,288.58h1.1M200.95,285.07h1.1M200.95,288.59h1.1M202.95,284.74h1.1M202.95,288.6h1.1M204.95,284.4h1.1M204.95,288.6h1.1M205.95,284.05h1.1M205.95,288.59h1.1M207.95,283.67h1.1M207.95,288.55h1.1M209.95,283.26h1.1M209.95,288.47h1.1M211.95,282.81h1.1M211.95,288.32h1.1M213.95,282.27h1.1M213.95,288.08h1.1M214.95,281.68h1.1M214.95,287.78h1.1M216.95,281.04h1.1M216.95,287.44h1.1M218.95,280.36h1.1M218.95,287.06h1.1M220.95,279.67h1.1M220.95,286.66h1.1M222.95,278.97h1.1M222.95,286.26h1.1M223.95,278.28h1.1M223.95,285.87h1.1M225.95,277.7h1.1M225.95,285.37h1.1M227.95,277.08h1.1M227.95,284.84h1.1M229.95,276.44h1.1M229.95,284.28h1.1M231.95,275.79h1.1M231.95,283.72h1.1M233.95,275.13h1.1M233.95,283.14h1.1M234.95,274.46h1.1M234.95,282.56h1.1M236.95,273.8h1.1M236.95,281.98h1.1M238.95,273.14h1.1M238.95,281.41h1.1M240.95,274.73h1.1M240.95,283.73h1.1M242.95,274.2h1.1M242.95,283.21h1.1M243.95,273.68h1.1M243.95,282.68h1.1M245.95,273.15h1.1M245.95,282.15h1.1M247.95,272.6h1.1M247.95,281.6h1.1M249.95,272.03h1.1M249.95,281.04h1.1M251.95,271.47h1.1M251.95,280.47h1.1M252.95,270.89h1.1M252.95,279.89h1.1M254.95,270.28h1.1M254.95,279.29h1.1M256.95,269.64h1.1M256.95,278.64h1.1M258.95,268.95h1.1M258.95,277.95h1.1M260.95,268.18h1.1M260.95,277.19h1.1M261.95,267.36h1.1M261.95,276.37h1.1M263.95,266.5h1.1M263.95,275.5h1.1M265.95,265.6h1.1M265.95,274.61h1.1M267.95,264.68h1.1M267.95,273.68h1.1M269.95,263.7h1.1M269.95,272.7h1.1M271.95,262.69h1.1M271.95,271.69h1.1M272.95,261.67h1.1M272.95,270.67h1.1M274.95,260.65h1.1M274.95,269.66h1.1M33.95,346.55h1.1M33.95,358.01h1.1M35.95,344.1h1.1M35.95,355.56h1.1M37.95,341.59h1.1M37.95,353.05h1.1M39.95,339.11h1.1M39.95,350.57h1.1M40.95,336.75h1.1M40.95,348.21h1.1M42.95,334.61h1.1M42.95,346.07h1.1M44.95,332.79h1.1M44.95,344.25h1.1M46.95,331.21h1.1M46.95,342.67h1.1M48.95,329.69h1.1M48.95,341.15h1.1M49.95,328.02h1.1M49.95,339.48h1.1M51.95,326.01h1.1M51.95,337.48h1.1M53.95,323.5h1.1M53.95,334.96h1.1M55.95,320.28h1.1M55.95,331.75h1.1M57.95,315.03h1.1M57.95,326.49h1.1M59.95,310.26h1.1M59.95,321.72h1.1M60.95,307.91h1.1M60.95,319.37h1.1M62.95,306.19h1.1M62.95,317.65h1.1M64.95,305h1.1M64.95,316.46h1.1M66.95,304.09h1.1M66.95,315.55h1.1M68.95,303.38h1.1M68.95,314.84h1.1M70.95,303.1h1.1M70.95,314.56h1.1M71.95,304.11h1.1M71.95,315.57h1.1M73.95,305.96h1.1M73.95,317.42h1.1M75.95,307.83h1.1M75.95,319.29h1.1M77.95,309.96h1.1M77.95,321.42h1.1M79.95,312.17h1.1M79.95,323.63h1.1M80.95,314.11h1.1M80.95,325.57h1.1M82.95,316.34h1.1M82.95,327.8h1.1M84.95,320.56h1.1M84.95,332.02h1.1M86.95,327.93h1.1M86.95,339.38h1.1M88.95,334.08h1.1M88.95,345.54h1.1M90.95,341.62h1.1M90.95,353.08h1.1M33.95,347.5h1.1M33.95,358.01h1.1M35.95,345.76h1.1M35.95,356.26h1.1M37.95,343.99h1.1M37.95,354.49h1.1M39.95,342.23h1.1M39.95,352.74h1.1M40.95,340.53h1.1M40.95,351.03h1.1M42.95,338.91h1.1M42.95,349.41h1.1M44.95,337.37h1.1M44.95,347.87h1.1M46.95,335.87h1.1M46.95,346.38h1.1M48.95,334.43h1.1M48.95,344.94h1.1M49.95,333.05h1.1M49.95,343.56h1.1M51.95,331.75h1.1M51.95,342.25h1.1M53.95,330.55h1.1M53.95,341.06h1.1M55.95,329.46h1.1M55.95,339.96h1.1M57.95,328.39h1.1M57.95,338.9h1.1M59.95,327.27h1.1M59.95,337.78h1.1M60.95,326.01h1.1M60.95,336.52h1.1M62.95,324.44h1.1M62.95,334.95h1.1M64.95,322.71h1.1M64.95,333.21h1.1M66.95,321.24h1.1M66.95,331.75h1.1M68.95,320.02h1.1M68.95,330.52h1.1M70.95,318.95h1.1M70.95,329.46h1.1M71.95,318.38h1.1M71.95,328.88h1.1M73.95,318.18h1.1M73.95,328.68h1.1M75.95,318.03h1.1M75.95,328.53h1.1M77.95,317.93h1.1M77.95,328.44h1.1M79.95,317.9h1.1M79.95,328.4h1.1M80.95,317.96h1.1M80.95,328.46h1.1M82.95,318.13h1.1M82.95,328.63h1.1M84.95,318.38h1.1M84.95,328.88h1.1M86.95,319.1h1.1M86.95,329.6h1.1M88.95,320.48h1.1M88.95,330.99h1.1M90.95,322.19h1.1M90.95,332.7h1.1M91.95,324.64h1.1M91.95,335.14h1.1M93.95,327.82h1.1M93.95,338.32h1.1M95.95,330.79h1.1M95.95,341.3h1.1M97.95,333.67h1.1M97.95,344.18h1.1M99.95,336.39h1.1M99.95,346.9h1.1M100.95,337.71h1.1M100.95,348.22h1.1M102.95,337.82h1.1M102.95,348.33h1.1M104.95,337.95h1.1M104.95,348.46h1.1M106.95,341.77h1.1M106.95,352.28h1.1M108.95,343.15h1.1M108.95,353.66h1.1M110.95,344.16h1.1M110.95,354.67h1.1M142.95,388.95h1.1M142.95,389.14h1.1M144.95,388.93h1.1M144.95,389.12h1.1M146.95,388.9h1.1M146.95,389.09h1.1M147.95,388.88h1.1M147.95,389.07h1.1M149.95,388.85h1.1M149.95,389.05h1.1M151.95,388.83h1.1M151.95,389.02h1.1M153.95,388.81h1.1M153.95,389h1.1M155.95,388.78h1.1M155.95,388.97h1.1M156.95,388.76h1.1M156.95,388.95h1.1M158.95,388.73h1.1M158.95,388.93h1.1M160.95,388.71h1.1M160.95,388.9h1.1M162.95,388.67h1.1M162.95,388.89h1.1M164.95,388.64h1.1M164.95,388.89h1.1M166.95,388.61h1.1M166.95,388.88h1.1M167.95,388.57h1.1M167.95,388.88h1.1M169.95,388.54h1.1M169.95,388.87h1.1M171.95,388.5h1.1M171.95,388.87h1.1M173.95,388.46h1.1M173.95,388.86h1.1M175.95,388.42h1.1M175.95,388.84h1.1M176.95,388.38h1.1M176.95,388.83h1.1M178.95,388.33h1.1M178.95,388.81h1.1M180.95,388.16h1.1M180.95,388.88h1.1M182.95,387.98h1.1M182.95,388.93h1.1M184.95,387.78h1.1M184.95,388.97h1.1M185.95,387.57h1.1M185.95,389h1.1M187.95,387.35h1.1M187.95,389.02h1.1M189.95,387.13h1.1M189.95,389.05h1.1M191.95,386.9h1.1M191.95,389.05h1.1M193.95,386.64h1.1M193.95,389.03h1.1M194.95,386.39h1.1M194.95,389.02h1.1M196.95,386.18h1.1M196.95,389.05h1.1M198.95,386.12h1.1M198.95,388.98h1.1M200.95,386.06h1.1M200.95,388.93h1.1M202.95,386.01h1.1M202.95,388.88h1.1M204.95,385.98h1.1M204.95,388.84h1.1M205.95,385.95h1.1M205.95,388.82h1.1M207.95,385.94h1.1M207.95,388.81h1.1M209.95,387.52h1.1M209.95,387.71h1.1M142.95,388.71h1.1M142.95,388.9h1.1M144.95,388.74h1.1M144.95,388.93h1.1M146.95,388.77h1.1M146.95,388.96h1.1M147.95,388.8h1.1M147.95,388.99h1.1M149.95,388.83h1.1M149.95,389.02h1.1M151.95,388.86h1.1M151.95,389.05h1.1M153.95,388.89h1.1M153.95,389.08h1.1M155.95,388.91h1.1M155.95,389.1h1.1M156.95,388.93h1.1M156.95,389.12h1.1M158.95,388.94h1.1M158.95,389.14h1.1M160.95,388.95h1.1M160.95,389.14h1.1M162.95,388.95h1.1M162.95,389.14h1.1M164.95,388.95h1.1M164.95,389.14h1.1M166.95,388.95h1.1M166.95,389.14h1.1M167.95,388.95h1.1M167.95,389.14h1.1M169.95,388.95h1.1M169.95,389.14h1.1M171.95,388.95h1.1M171.95,389.14h1.1M173.95,388.95h1.1M173.95,389.14h1.1M175.95,388.95h1.1M175.95,389.14h1.1M176.95,388.95h1.1M176.95,389.14h1.1M178.95,388.95h1.1M178.95,389.14h1.1M180.95,388.94h1.1M180.95,389.13h1.1M182.95,388.92h1.1M182.95,389.12h1.1M184.95,388.9h1.1M184.95,389.09h1.1M185.95,388.87h1.1M185.95,389.06h1.1M187.95,388.83h1.1M187.95,389.02h1.1M189.95,388.79h1.1M189.95,388.99h1.1M191.95,388.76h1.1M191.95,388.95h1.1M193.95,388.74h1.1M193.95,388.93h1.1M194.95,388.72h1.1M194.95,388.91h1.1M196.95,388.71h1.1M196.95,388.9h1.1M198.95,388.72h1.1M198.95,388.91h1.1M200.95,388.74h1.1M200.95,388.93h1.1M202.95,388.76h1.1M202.95,388.95h1.1M204.95,388.79h1.1M204.95,388.99h1.1M205.95,388.83h1.1M205.95,389.02h1.1M207.95,388.87h1.1M207.95,389.06h1.1M209.95,388.9h1.1M209.95,389.09h1.1M211.95,388.92h1.1M211.95,389.12h1.1M213.95,388.94h1.1M213.95,389.13h1.1M214.95,388.95h1.1M214.95,389.14h1.1M216.95,388.82h1.1M216.95,389.22h1.1M218.95,388.66h1.1M218.95,389.27h1.1M220.95,388.47h1.1M220.95,389.28h1.1M222.95,388.27h1.1M222.95,389.29h1.1M223.95,388.06h1.1M223.95,389.28h1.1M225.95,387.85h1.1M225.95,389.28h1.1M227.95,387.56h1.1M227.95,389.35h1.1M229.95,387.25h1.1M229.95,389.4h1.1M231.95,386.95h1.1M231.95,389.45h1.1M233.95,386.66h1.1M233.95,389.52h1.1M234.95,386.53h1.1M234.95,389.47h1.1M236.95,386.41h1.1M236.95,389.44h1.1M238.95,386.3h1.1M238.95,389.4h1.1M240.95,386.19h1.1M240.95,389.37h1.1M242.95,386.07h1.1M242.95,389.33h1.1M243.95,385.94h1.1M243.95,389.28h1.1M245.95,385.83h1.1M245.95,389.17h1.1M247.95,385.7h1.1M247.95,389.04h1.1M249.95,385.57h1.1M249.95,388.92h1.1M251.95,385.46h1.1M251.95,388.81h1.1M252.95,385.36h1.1M252.95,388.7h1.1M254.95,385.27h1.1M254.95,388.61h1.1M256.95,385.23h1.1M256.95,388.57h1.1M258.95,388.5h1.1M258.95,388.69h1.1M260.95,388.56h1.1M260.95,388.75h1.1M261.95,388.59h1.1M261.95,388.78h1.1M263.95,388.62h1.1M263.95,388.81h1.1M265.95,388.64h1.1M265.95,388.83h1.1M267.95,388.65h1.1M267.95,388.84h1.1M269.95,388.66h1.1M269.95,388.85h1.1M271.95,388.67h1.1M271.95,388.86h1.1M272.95,388.68h1.1M272.95,388.87h1.1M274.95,388.7h1.1M274.95,388.89h1.1M33.95,492.18h1.1M33.95,497.58h1.1M35.95,492.09h1.1M35.95,497.49h1.1M37.95,492h1.1M37.95,497.41h1.1M39.95,491.86h1.1M39.95,497.26h1.1M40.95,491.42h1.1M40.95,496.83h1.1M42.95,490.74h1.1M42.95,496.15h1.1M44.95,489.99h1.1M44.95,495.4h1.1M46.95,489.09h1.1M46.95,494.5h1.1M48.95,488.04h1.1M48.95,493.45h1.1M49.95,486.79h1.1M49.95,492.2h1.1M51.95,485.18h1.1M51.95,490.59h1.1M53.95,482.84h1.1M53.95,488.25h1.1M55.95,479.95h1.1M55.95,485.36h1.1M57.95,477.03h1.1M57.95,482.44h1.1M59.95,473.92h1.1M59.95,479.32h1.1M60.95,471.03h1.1M60.95,476.43h1.1M62.95,468.56h1.1M62.95,473.97h1.1M64.95,466.33h1.1M64.95,471.74h1.1M66.95,464.3h1.1M66.95,469.71h1.1M68.95,462.41h1.1M68.95,467.81h1.1M70.95,460.85h1.1M70.95,466.26h1.1M71.95,459.65h1.1M71.95,465.06h1.1M73.95,458.69h1.1M73.95,464.09h1.1M75.95,457.97h1.1M75.95,463.38h1.1M77.95,457.39h1.1M77.95,462.79h1.1M79.95,457.04h1.1M79.95,462.44h1.1M80.95,456.87h1.1M80.95,462.28h1.1M82.95,456.76h1.1M82.95,462.17h1.1M84.95,456.72h1.1M84.95,462.12h1.1M86.95,456.9h1.1M86.95,462.3h1.1M88.95,457.31h1.1M88.95,462.72h1.1M90.95,457.79h1.1M90.95,463.19h1.1M33.95,505.85h1.1M33.95,510.94h1.1M35.95,505.67h1.1M35.95,510.76h1.1M37.95,505.51h1.1M37.95,510.6h1.1M39.95,505.34h1.1M39.95,510.43h1.1M40.95,505.15h1.1M40.95,510.23h1.1M42.95,504.9h1.1M42.95,509.98h1.1M44.95,504.53h1.1M44.95,509.62h1.1M46.95,504.03h1.1M46.95,509.12h1.1M48.95,503.46h1.1M48.95,508.55h1.1M49.95,502.83h1.1M49.95,507.92h1.1M51.95,502.03h1.1M51.95,507.12h1.1M53.95,500.96h1.1M53.95,506.05h1.1M55.95,499.67h1.1M55.95,504.76h1.1M57.95,498.35h1.1M57.95,503.44h1.1M59.95,496.96h1.1M59.95,502.05h1.1M60.95,495.51h1.1M60.95,500.6h1.1M62.95,494h1.1M62.95,499.09h1.1M64.95,492.46h1.1M64.95,497.55h1.1M66.95,490.95h1.1M66.95,496.04h1.1M68.95,489.47h1.1M68.95,494.56h1.1M70.95,488.04h1.1M70.95,493.13h1.1M71.95,486.62h1.1M71.95,491.7h1.1M73.95,485.17h1.1M73.95,490.26h1.1M75.95,483.78h1.1M75.95,488.87h1.1M77.95,482.54h1.1M77.95,487.63h1.1M79.95,481.52h1.1M79.95,486.61h1.1M80.95,480.73h1.1M80.95,485.82h1.1M82.95,480.07h1.1M82.95,485.16h1.1M84.95,479.46h1.1M84.95,484.54h1.1M86.95,478.85h1.1M86.95,483.94h1.1M88.95,478.34h1.1M88.95,483.43h1.1M90.95,477.91h1.1M90.95,483h1.1M91.95,477.54h1.1M91.95,482.63h1.1M93.95,477.39h1.1M93.95,482.48h1.1M95.95,478.33h1.1M95.95,483.42h1.1M97.95,479.61h1.1M97.95,484.7h1.1M99.95,480.29h1.1M99.95,485.38h1.1M100.95,480.83h1.1M100.95,485.92h1.1M102.95,481.05h1.1M102.95,486.13h1.1M104.95,480.89h1.1M104.95,485.97h1.1M106.95,480.73h1.1M106.95,485.82h1.1M108.95,481.26h1.1M108.95,486.35h1.1M110.95,482.16h1.1M110.95,487.25h1.1M142.95,509.03h1.1M142.95,511.57h1.1M144.95,508.37h1.1M144.95,511.17h1.1M146.95,507.75h1.1M146.95,510.8h1.1M147.95,507.11h1.1M147.95,510.41h1.1M149.95,506.39h1.1M149.95,509.95h1.1M151.95,505.53h1.1M151.95,509.35h1.1M153.95,504.15h1.1M153.95,508.82h1.1M155.95,502.47h1.1M155.95,507.98h1.1M156.95,500.44h1.1M156.95,506.8h1.1M158.95,497.31h1.1M158.95,504.94h1.1M160.95,493.61h1.1M160.95,502.51h1.1M162.95,490.26h1.1M162.95,499.91h1.1M164.95,486.79h1.1M164.95,497.17h1.1M166.95,483.11h1.1M166.95,494.24h1.1M167.95,479.05h1.1M167.95,490.98h1.1M169.95,474.84h1.1M169.95,487.56h1.1M171.95,470.97h1.1M171.95,483.9h1.1M173.95,467.1h1.1M173.95,480.24h1.1M175.95,463.4h1.1M175.95,476.75h1.1M176.95,460.07h1.1M176.95,473.43h1.1M178.95,456.88h1.1M178.95,470.23h1.1M180.95,453.48h1.1M180.95,467.16h1.1M182.95,450.13h1.1M182.95,464.13h1.1M184.95,447.02h1.1M184.95,461.33h1.1M185.95,444.1h1.1M185.95,458.73h1.1M187.95,441.37h1.1M187.95,456.31h1.1M189.95,439.07h1.1M189.95,454.33h1.1M191.95,437.27h1.1M191.95,452.69h1.1M193.95,435.68h1.1M193.95,451.26h1.1M194.95,434.27h1.1M194.95,450.01h1.1M196.95,433.03h1.1M196.95,448.93h1.1M198.95,431.9h1.1M198.95,447.8h1.1M200.95,430.9h1.1M200.95,446.8h1.1M202.95,430.32h1.1M202.95,446.22h1.1M204.95,430.08h1.1M204.95,445.98h1.1M205.95,429.91h1.1M205.95,445.81h1.1M207.95,429.85h1.1M207.95,445.75h1.1M209.95,431.28h1.1M209.95,447.18h1.1M142.95,507.76h1.1M142.95,510.3h1.1M144.95,507.17h1.1M144.95,509.85h1.1M146.95,506.58h1.1M146.95,509.38h1.1M147.95,505.99h1.1M147.95,508.91h1.1M149.95,505.42h1.1M149.95,508.47h1.1M151.95,504.9h1.1M151.95,508.08h1.1M153.95,504.49h1.1M153.95,507.67h1.1M155.95,504.13h1.1M155.95,507.31h1.1M156.95,503.77h1.1M156.95,506.95h1.1M158.95,503.4h1.1M158.95,506.58h1.1M160.95,502.99h1.1M160.95,506.17h1.1M162.95,502.52h1.1M162.95,505.7h1.1M164.95,502.02h1.1M164.95,505.2h1.1M166.95,501.48h1.1M166.95,504.66h1.1M167.95,500.9h1.1M167.95,504.08h1.1M169.95,500.28h1.1M169.95,503.46h1.1M171.95,499.52h1.1M171.95,502.83h1.1M173.95,498.66h1.1M173.95,502.1h1.1M175.95,497.77h1.1M175.95,501.33h1.1M176.95,496.92h1.1M176.95,500.6h1.1M178.95,496.15h1.1M178.95,499.97h1.1M180.95,495.49h1.1M180.95,499.43h1.1M182.95,494.88h1.1M182.95,498.95h1.1M184.95,494.31h1.1M184.95,498.5h1.1M185.95,493.73h1.1M185.95,498.05h1.1M187.95,493.13h1.1M187.95,497.58h1.1M189.95,492.39h1.1M189.95,497.23h1.1M191.95,491.66h1.1M191.95,496.88h1.1M193.95,490.92h1.1M193.95,496.52h1.1M194.95,490.14h1.1M194.95,496.12h1.1M196.95,489.31h1.1M196.95,495.67h1.1M198.95,488.25h1.1M198.95,495.09h1.1M200.95,487.04h1.1M200.95,494.36h1.1M202.95,485.94h1.1M202.95,493.73h1.1M204.95,485.18h1.1M204.95,493.45h1.1M205.95,484.98h1.1M205.95,493.24h1.1M207.95,484.85h1.1M207.95,493.11h1.1M209.95,484.72h1.1M209.95,492.99h1.1M211.95,484.54h1.1M211.95,492.81h1.1M213.95,484.2h1.1M213.95,492.47h1.1M214.95,483.73h1.1M214.95,492h1.1M216.95,483.22h1.1M216.95,491.49h1.1M218.95,482.79h1.1M218.95,491.06h1.1M220.95,482.54h1.1M220.95,490.68h1.1M222.95,482.32h1.1M222.95,490.33h1.1M223.95,482.12h1.1M223.95,490.01h1.1M225.95,481.92h1.1M225.95,489.68h1.1M227.95,481.68h1.1M227.95,489.31h1.1M229.95,481.44h1.1M229.95,488.75h1.1M231.95,481.12h1.1M231.95,488.12h1.1M233.95,480.89h1.1M233.95,487.57h1.1M234.95,480.89h1.1M234.95,487.25h1.1M236.95,481.45h1.1M236.95,487.81h1.1M238.95,482.52h1.1M238.95,488.88h1.1M240.95,487.88h1.1M240.95,490.74h1.1M242.95,487.81h1.1M242.95,490.67h1.1M243.95,487.74h1.1M243.95,490.6h1.1M245.95,487.66h1.1M245.95,490.52h1.1M247.95,487.56h1.1M247.95,490.43h1.1M249.95,487.41h1.1M249.95,490.27h1.1M251.95,487.19h1.1M251.95,490.06h1.1M252.95,487.01h1.1M252.95,489.87h1.1M254.95,486.93h1.1M254.95,489.79h1.1M256.95,487.03h1.1M256.95,489.89h1.1M258.95,487.25h1.1M258.95,490.11h1.1M260.95,487.47h1.1M260.95,490.33h1.1M261.95,487.56h1.1M261.95,490.43h1.1M263.95,487.47h1.1M263.95,490.33h1.1M265.95,487.25h1.1M265.95,490.11h1.1M267.95,487.03h1.1M267.95,489.89h1.1M269.95,486.93h1.1M269.95,489.79h1.1M271.95,487.11h1.1M271.95,489.97h1.1M272.95,487.52h1.1M272.95,490.38h1.1M274.95,488h1.1M274.95,490.86h1.1M369.95,75.5h1.1M369.95,80.9h1.1M371.95,74.99h1.1M371.95,80.39h1.1M373.95,74.49h1.1M373.95,79.89h1.1M375.95,73.75h1.1M375.95,79.15h1.1M376.95,72.04h1.1M376.95,77.44h1.1M378.95,69.94h1.1M378.95,75.34h1.1M380.95,68.24h1.1M380.95,73.64h1.1M382.95,66.66h1.1M382.95,72.06h1.1M384.95,65.34h1.1M384.95,70.73h1.1M386.95,64.26h1.1M386.95,69.66h1.1M387.95,63.43h1.1M387.95,68.83h1.1M389.95,62.74h1.1M389.95,68.14h1.1M391.95,62.24h1.1M391.95,67.64h1.1M393.95,62.2h1.1M393.95,67.6h1.1M395.95,62.44h1.1M395.95,67.84h1.1M397.95,62.79h1.1M397.95,68.19h1.1M398.95,63.45h1.1M398.95,68.85h1.1M400.95,64.29h1.1M400.95,69.68h1.1M402.95,64.7h1.1M402.95,70.1h1.1M404.95,64.47h1.1M404.95,69.87h1.1M406.95,63.91h1.1M406.95,69.31h1.1M407.95,61.89h1.1M407.95,67.29h1.1M409.95,58.82h1.1M409.95,64.22h1.1M411.95,55.56h1.1M411.95,60.96h1.1M413.95,52.07h1.1M413.95,57.47h1.1M415.95,49.46h1.1M415.95,54.85h1.1M417.95,47.9h1.1M417.95,53.3h1.1M418.95,46.7h1.1M418.95,52.1h1.1M420.95,45.64h1.1M420.95,51.04h1.1M422.95,44.66h1.1M422.95,50.06h1.1M424.95,43.77h1.1M424.95,49.17h1.1M426.95,42.91h1.1M426.95,48.31h1.1M369.95,83.76h1.1M369.95,90.74h1.1M371.95,83.04h1.1M371.95,90.03h1.1M373.95,82.33h1.1M373.95,89.31h1.1M375.95,81.37h1.1M375.95,88.36h1.1M376.95,79.47h1.1M376.95,86.46h1.1M378.95,77.56h1.1M378.95,84.55h1.1M380.95,76.54h1.1M380.95,83.52h1.1M382.95,75.75h1.1M382.95,82.74h1.1M384.95,75.18h1.1M384.95,82.17h1.1M386.95,74.79h1.1M386.95,81.78h1.1M387.95,74.49h1.1M387.95,81.48h1.1M389.95,74.22h1.1M389.95,81.21h1.1M391.95,73.91h1.1M391.95,80.9h1.1M393.95,73.51h1.1M393.95,80.5h1.1M395.95,73.07h1.1M395.95,80.06h1.1M397.95,72.65h1.1M397.95,79.64h1.1M398.95,72.32h1.1M398.95,79.31h1.1M400.95,72.05h1.1M400.95,79.04h1.1M402.95,71.79h1.1M402.95,78.78h1.1M404.95,71.6h1.1M404.95,78.59h1.1M406.95,71.53h1.1M406.95,78.52h1.1M407.95,71.53h1.1M407.95,78.52h1.1M409.95,71.53h1.1M409.95,78.52h1.1M411.95,71.53h1.1M411.95,78.52h1.1M413.95,71.53h1.1M413.95,78.52h1.1M415.95,71.53h1.1M415.95,78.52h1.1M417.95,71.35h1.1M417.95,78.34h1.1M418.95,70.92h1.1M418.95,77.91h1.1M420.95,70.42h1.1M420.95,77.4h1.1M422.95,69.7h1.1M422.95,76.69h1.1M424.95,68.82h1.1M424.95,75.8h1.1M426.95,68.19h1.1M426.95,75.18h1.1M427.95,67.87h1.1M427.95,74.86h1.1M429.95,67.72h1.1M429.95,74.7h1.1M431.95,67.95h1.1M431.95,74.93h1.1M433.95,68.42h1.1M433.95,75.41h1.1M435.95,68.83h1.1M435.95,75.82h1.1M437.95,69.03h1.1M437.95,76.02h1.1M438.95,69.2h1.1M438.95,76.19h1.1M440.95,69.46h1.1M440.95,76.45h1.1M442.95,70.32h1.1M442.95,77.31h1.1M444.95,71.37h1.1M444.95,78.36h1.1M446.95,72h1.1M446.95,78.99h1.1M478.95,88.52h1.1M478.95,98.05h1.1M480.95,85.83h1.1M480.95,96.16h1.1M482.95,82.96h1.1M482.95,94.08h1.1M483.95,79.74h1.1M483.95,91.33h1.1M485.95,75.97h1.1M485.95,88.04h1.1M487.95,71.44h1.1M487.95,83.83h1.1M489.95,66.29h1.1M489.95,78.99h1.1M491.95,60.73h1.1M491.95,73.43h1.1M493.95,55.17h1.1M493.95,67.88h1.1M494.95,50.18h1.1M494.95,62.88h1.1M496.95,45.8h1.1M496.95,58.51h1.1M498.95,42.19h1.1M498.95,54.89h1.1M500.95,39.29h1.1M500.95,52h1.1M502.95,36.94h1.1M502.95,49.97h1.1M503.95,35.16h1.1M503.95,48.5h1.1M505.95,33.65h1.1M505.95,47.47h1.1M507.95,32.78h1.1M507.95,47.07h1.1M509.95,34.16h1.1M509.95,49.08h1.1M511.95,36.22h1.1M511.95,51.68h1.1M512.95,37.7h1.1M512.95,53.58h1.1M514.95,35.02h1.1M514.95,52.49h1.1M516.95,31.35h1.1M516.95,50.41h1.1M518.95,28.18h1.1M518.95,49.62h1.1M520.95,25.64h1.1M520.95,49.46h1.1M522.95,24.34h1.1M522.95,49.75h1.1M523.95,23.23h1.1M523.95,50.23h1.1M525.95,21.98h1.1M525.95,50.57h1.1M527.95,20.45h1.1M527.95,49.56h1.1M529.95,18.49h1.1M529.95,48.13h1.1M531.95,17.38h1.1M531.95,47.55h1.1M532.95,19.44h1.1M532.95,46.97h1.1M534.95,22.14h1.1M534.95,47.02h1.1M536.95,24.21h1.1M536.95,46.44h1.1M538.95,25.03h1.1M538.95,44.09h1.1M540.95,25.48h1.1M540.95,41.36h1.1M542.95,25.05h1.1M542.95,40.13h1.1M543.95,25h1.1M543.95,39.29h1.1M545.95,25.79h1.1M545.95,44.85h1.1M547.95,36.18h1.1M547.95,45.71h1.1M478.95,86.93h1.1M478.95,96.46h1.1M480.95,86.67h1.1M480.95,95.99h1.1M482.95,86.41h1.1M482.95,95.51h1.1M483.95,85.98h1.1M483.95,94.87h1.1M485.95,85.04h1.1M485.95,93.51h1.1M487.95,83.49h1.1M487.95,91.53h1.1M489.95,81.85h1.1M489.95,89.47h1.1M491.95,80.19h1.1M491.95,87.39h1.1M493.95,78.43h1.1M493.95,85.21h1.1M494.95,76.93h1.1M494.95,83.28h1.1M496.95,75.65h1.1M496.95,81.58h1.1M498.95,74.54h1.1M498.95,80.05h1.1M500.95,73.91h1.1M500.95,78.99h1.1M502.95,73.49h1.1M502.95,78.47h1.1M503.95,73.2h1.1M503.95,78.07h1.1M505.95,73.12h1.1M505.95,77.88h1.1M507.95,73.12h1.1M507.95,77.88h1.1M509.95,73.12h1.1M509.95,77.88h1.1M511.95,73.12h1.1M511.95,77.88h1.1M512.95,72.79h1.1M512.95,77.55h1.1M514.95,72.18h1.1M514.95,76.94h1.1M516.95,71.85h1.1M516.95,76.61h1.1M518.95,72.01h1.1M518.95,76.69h1.1M520.95,72.32h1.1M520.95,76.93h1.1M522.95,72.64h1.1M522.95,77.16h1.1M523.95,72.8h1.1M523.95,77.25h1.1M525.95,71.93h1.1M525.95,76.38h1.1M527.95,70.33h1.1M527.95,74.77h1.1M529.95,69.46h1.1M529.95,73.91h1.1M531.95,70.17h1.1M531.95,74.61h1.1M532.95,71.37h1.1M532.95,75.82h1.1M534.95,72.64h1.1M534.95,77.08h1.1M536.95,73.94h1.1M536.95,78.39h1.1M538.95,74.55h1.1M538.95,78.99h1.1M540.95,74.16h1.1M540.95,79.08h1.1M542.95,73.57h1.1M542.95,78.97h1.1M543.95,72.91h1.1M543.95,78.79h1.1M545.95,72.32h1.1M545.95,78.67h1.1M547.95,71.82h1.1M547.95,78.65h1.1M549.95,71.35h1.1M549.95,78.65h1.1M551.95,70.88h1.1M551.95,78.66h1.1M552.95,70.42h1.1M552.95,78.67h1.1M554.95,70.22h1.1M554.95,78.47h1.1M556.95,70.02h1.1M556.95,78.28h1.1M558.95,69.78h1.1M558.95,78.04h1.1M560.95,69.43h1.1M560.95,77.48h1.1M561.95,68.99h1.1M561.95,76.82h1.1M563.95,68.83h1.1M563.95,76.45h1.1M565.95,69.24h1.1M565.95,76.65h1.1M567.95,70.07h1.1M567.95,77.27h1.1M569.95,71.05h1.1M569.95,78.04h1.1M571.95,72.25h1.1M571.95,79.05h1.1M572.95,73.77h1.1M572.95,80.4h1.1M574.95,75.38h1.1M574.95,81.82h1.1M576.95,78.2h1.1M576.95,81.06h1.1M578.95,77.72h1.1M578.95,80.57h1.1M580.95,77.23h1.1M580.95,80.09h1.1M581.95,76.77h1.1M581.95,79.63h1.1M583.95,76.24h1.1M583.95,79.1h1.1M585.95,75.73h1.1M585.95,78.59h1.1M587.95,75.5h1.1M587.95,78.36h1.1M589.95,75.63h1.1M589.95,78.49h1.1M591.95,75.95h1.1M591.95,78.8h1.1M592.95,76.32h1.1M592.95,79.18h1.1M594.95,76.64h1.1M594.95,79.5h1.1M596.95,76.77h1.1M596.95,79.63h1.1M598.95,76.51h1.1M598.95,79.36h1.1M600.95,75.85h1.1M600.95,78.71h1.1M601.95,75.02h1.1M601.95,77.87h1.1M603.95,74.2h1.1M603.95,77.06h1.1M605.95,73.61h1.1M605.95,76.47h1.1M607.95,73.46h1.1M607.95,76.32h1.1M609.95,74.04h1.1M609.95,76.9h1.1M369.95,130.09h1.1M369.95,135.64h1.1M371.95,131.22h1.1M371.95,136.77h1.1M373.95,132.35h1.1M373.95,137.91h1.1M375.95,132.87h1.1M375.95,138.42h1.1M376.95,132.57h1.1M376.95,138.12h1.1M378.95,131.83h1.1M378.95,137.39h1.1M380.95,130.89h1.1M380.95,136.44h1.1M382.95,129.46h1.1M382.95,135.01h1.1M384.95,127.38h1.1M384.95,132.93h1.1M386.95,124.96h1.1M386.95,130.51h1.1M387.95,122.56h1.1M387.95,128.11h1.1M389.95,119.99h1.1M389.95,125.54h1.1M391.95,117.27h1.1M391.95,122.82h1.1M393.95,115.03h1.1M393.95,120.58h1.1M395.95,113.15h1.1M395.95,118.7h1.1M397.95,111.54h1.1M397.95,117.1h1.1M398.95,110.86h1.1M398.95,116.41h1.1M400.95,111.9h1.1M400.95,117.45h1.1M402.95,114.23h1.1M402.95,119.78h1.1M404.95,118.88h1.1M404.95,124.43h1.1M406.95,125.33h1.1M406.95,130.89h1.1M407.95,132.31h1.1M407.95,137.86h1.1M409.95,139.41h1.1M409.95,144.96h1.1M411.95,145.68h1.1M411.95,151.23h1.1M413.95,151.57h1.1M413.95,157.13h1.1M415.95,157.05h1.1M415.95,162.61h1.1M417.95,162.38h1.1M417.95,167.93h1.1M418.95,167.37h1.1M418.95,172.93h1.1M420.95,171.33h1.1M420.95,176.88h1.1M422.95,174.13h1.1M422.95,179.68h1.1M424.95,176.39h1.1M424.95,181.94h1.1M426.95,178.52h1.1M426.95,184.07h1.1M369.95,128.51h1.1M369.95,133.26h1.1M371.95,129.31h1.1M371.95,134.07h1.1M373.95,130.12h1.1M373.95,134.88h1.1M375.95,130.49h1.1M375.95,135.25h1.1M376.95,130.02h1.1M376.95,134.78h1.1M378.95,128.93h1.1M378.95,133.69h1.1M380.95,127.71h1.1M380.95,132.47h1.1M382.95,126.43h1.1M382.95,131.19h1.1M384.95,124.92h1.1M384.95,129.68h1.1M386.95,123.38h1.1M386.95,128.13h1.1M387.95,121.96h1.1M387.95,126.72h1.1M389.95,120.65h1.1M389.95,125.4h1.1M391.95,119.32h1.1M391.95,124.08h1.1M393.95,118.08h1.1M393.95,122.84h1.1M395.95,117.01h1.1M395.95,121.77h1.1M397.95,116.22h1.1M397.95,120.97h1.1M398.95,115.38h1.1M398.95,120.54h1.1M400.95,114.61h1.1M400.95,120.16h1.1M402.95,114h1.1M402.95,119.94h1.1M404.95,113.64h1.1M404.95,119.98h1.1M406.95,113.24h1.1M406.95,120.64h1.1M407.95,113.07h1.1M407.95,121.52h1.1M409.95,113.04h1.1M409.95,122.56h1.1M411.95,113.68h1.1M411.95,124.26h1.1M413.95,115.18h1.1M413.95,126.81h1.1M415.95,117.01h1.1M415.95,129.7h1.1M417.95,119.2h1.1M417.95,132.94h1.1M418.95,121.94h1.1M418.95,136.74h1.1M420.95,124.94h1.1M420.95,140.8h1.1M422.95,128.49h1.1M422.95,144.88h1.1M424.95,132.36h1.1M424.95,149.28h1.1M426.95,136.24h1.1M426.95,153.68h1.1M427.95,140.69h1.1M427.95,157.61h1.1M429.95,145.14h1.1M429.95,161.53h1.1M431.95,149.12h1.1M431.95,164.98h1.1M433.95,152.57h1.1M433.95,167.9h1.1M435.95,155.69h1.1M435.95,170.49h1.1M437.95,158.44h1.1M437.95,172.72h1.1M438.95,160.89h1.1M438.95,174.64h1.1M440.95,163.1h1.1M440.95,176.31h1.1M442.95,164.98h1.1M442.95,177.67h1.1M444.95,166.24h1.1M444.95,178.93h1.1M446.95,167.36h1.1M446.95,180.05h1.1M478.95,120.18h1.1M478.95,126.52h1.1M480.95,117.66h1.1M480.95,122.82h1.1M482.95,115.82h1.1M482.95,119.78h1.1M483.95,114.73h1.1M483.95,118.16h1.1M485.95,113.97h1.1M485.95,116.88h1.1M487.95,113.84h1.1M487.95,116.22h1.1M489.95,114.3h1.1M489.95,116.68h1.1M491.95,115.16h1.1M491.95,117.54h1.1M493.95,115.62h1.1M493.95,118h1.1M494.95,115.27h1.1M494.95,117.65h1.1M496.95,114.63h1.1M496.95,117.01h1.1M498.95,113.99h1.1M498.95,116.11h1.1M500.95,113.26h1.1M500.95,115.11h1.1M502.95,112.84h1.1M502.95,114.43h1.1M503.95,112.66h1.1M503.95,114.14h1.1M505.95,112.52h1.1M505.95,113.91h1.1M507.95,112.44h1.1M507.95,113.73h1.1M509.95,112.45h1.1M509.95,113.64h1.1M511.95,112.48h1.1M511.95,114.06h1.1M512.95,112.86h1.1M512.95,114.84h1.1M514.95,113.44h1.1M514.95,115.82h1.1M516.95,114.13h1.1M516.95,117.7h1.1M518.95,115.42h1.1M518.95,120.18h1.1M520.95,117.51h1.1M520.95,123.06h1.1M522.95,120.18h1.1M522.95,126.52h1.1M523.95,123.5h1.1M523.95,130.24h1.1M525.95,127.32h1.1M525.95,134.45h1.1M527.95,131.89h1.1M527.95,139.03h1.1M529.95,136.83h1.1M529.95,143.97h1.1M531.95,141.89h1.1M531.95,149.03h1.1M532.95,147.14h1.1M532.95,154.28h1.1M534.95,152.69h1.1M534.95,159.83h1.1M536.95,158.24h1.1M536.95,165.38h1.1M538.95,163.65h1.1M538.95,170.78h1.1M540.95,168.55h1.1M540.95,175.69h1.1M542.95,173.41h1.1M542.95,180.54h1.1M543.95,176.09h1.1M543.95,183.22h1.1M545.95,176.09h1.1M545.95,183.22h1.1M547.95,176.09h1.1M547.95,183.22h1.1M478.95,121.17h1.1M478.95,127.52h1.1M480.95,119.18h1.1M480.95,124.34h1.1M482.95,117.8h1.1M482.95,121.77h1.1M483.95,116.95h1.1M483.95,120.65h1.1M485.95,116.36h1.1M485.95,119.8h1.1M487.95,116.22h1.1M487.95,119.39h1.1M489.95,116.73h1.1M489.95,119.9h1.1M491.95,117.68h1.1M491.95,120.86h1.1M493.95,118.2h1.1M493.95,121.37h1.1M494.95,117.99h1.1M494.95,120.76h1.1M496.95,117.4h1.1M496.95,119.78h1.1M498.95,116.37h1.1M498.95,118.75h1.1M500.95,115.13h1.1M500.95,117.51h1.1M502.95,114.23h1.1M502.95,116.61h1.1M503.95,113.75h1.1M503.95,116.13h1.1M505.95,113.36h1.1M505.95,115.74h1.1M507.95,113.06h1.1M507.95,115.44h1.1M509.95,112.84h1.1M509.95,115.22h1.1M511.95,112.67h1.1M511.95,115.05h1.1M512.95,112.51h1.1M512.95,114.88h1.1M514.95,112.37h1.1M514.95,114.75h1.1M516.95,112.28h1.1M516.95,114.66h1.1M518.95,112.25h1.1M518.95,114.63h1.1M520.95,112.25h1.1M520.95,114.63h1.1M522.95,112.25h1.1M522.95,114.63h1.1M523.95,112.25h1.1M523.95,114.63h1.1M525.95,112.25h1.1M525.95,114.63h1.1M527.95,112.25h1.1M527.95,114.63h1.1M529.95,112.27h1.1M529.95,114.81h1.1M531.95,112.44h1.1M531.95,115.14h1.1M532.95,112.68h1.1M532.95,115.54h1.1M534.95,112.91h1.1M534.95,115.92h1.1M536.95,113.04h1.1M536.95,116.22h1.1M538.95,112.95h1.1M538.95,116.52h1.1M540.95,112.82h1.1M540.95,116.79h1.1M542.95,112.71h1.1M542.95,117.07h1.1M543.95,112.65h1.1M543.95,117.4h1.1M545.95,112.08h1.1M545.95,118.74h1.1M547.95,111.86h1.1M547.95,120.42h1.1M549.95,111.96h1.1M549.95,122.75h1.1M551.95,113.17h1.1M551.95,126.49h1.1M552.95,114.63h1.1M552.95,130.49h1.1M554.95,116.66h1.1M554.95,133.58h1.1M556.95,118.75h1.1M556.95,136.72h1.1M558.95,120.58h1.1M558.95,139.61h1.1M560.95,122.58h1.1M560.95,141.62h1.1M561.95,124.4h1.1M561.95,143.43h1.1M563.95,126.13h1.1M563.95,145.16h1.1M565.95,127.83h1.1M565.95,146.87h1.1M567.95,129.46h1.1M567.95,148.49h1.1M569.95,130.89h1.1M569.95,149.92h1.1M571.95,132.31h1.1M571.95,150.86h1.1M572.95,133.59h1.1M572.95,151.66h1.1M574.95,134.86h1.1M574.95,152.45h1.1M576.95,130.49h1.1M576.95,146.35h1.1M578.95,131.69h1.1M578.95,147.55h1.1M580.95,132.92h1.1M580.95,148.78h1.1M581.95,133.95h1.1M581.95,149.81h1.1M583.95,134.66h1.1M583.95,150.52h1.1M585.95,135.3h1.1M585.95,151.16h1.1M587.95,135.88h1.1M587.95,151.74h1.1M589.95,136.32h1.1M589.95,152.18h1.1M591.95,136.59h1.1M591.95,152.45h1.1M592.95,135.8h1.1M592.95,151.66h1.1M594.95,135.52h1.1M594.95,150.59h1.1M596.95,142.17h1.1M596.95,155.26h1.1M598.95,146.54h1.1M598.95,158.97h1.1M600.95,150.15h1.1M600.95,162.27h1.1M601.95,152.79h1.1M601.95,164.68h1.1M603.95,154.66h1.1M603.95,166.55h1.1M605.95,156.2h1.1M605.95,168.09h1.1M607.95,157.59h1.1M607.95,169.49h1.1M609.95,159.01h1.1M609.95,170.91h1.1M369.95,236.19h1.1M369.95,238.09h1.1M371.95,234.48h1.1M371.95,236.38h1.1M373.95,232.77h1.1M373.95,234.67h1.1M375.95,231.06h1.1M375.95,232.96h1.1M376.95,229.37h1.1M376.95,231.27h1.1M378.95,227.71h1.1M378.95,229.61h1.1M380.95,226.04h1.1M380.95,227.94h1.1M382.95,224.35h1.1M382.95,226.25h1.1M384.95,222.7h1.1M384.95,224.6h1.1M386.95,221.16h1.1M386.95,223.06h1.1M387.95,219.79h1.1M387.95,221.69h1.1M389.95,218.43h1.1M389.95,220.33h1.1M391.95,217.07h1.1M391.95,218.97h1.1M393.95,216.02h1.1M393.95,217.92h1.1M395.95,215.6h1.1M395.95,217.5h1.1M397.95,215.58h1.1M397.95,217.64h1.1M398.95,215.69h1.1M398.95,217.91h1.1M400.95,215.91h1.1M400.95,218.29h1.1M402.95,216.43h1.1M402.95,220h1.1M404.95,217.89h1.1M404.95,222.64h1.1M406.95,220.77h1.1M406.95,226.05h1.1M407.95,224.91h1.1M407.95,230.72h1.1M409.95,229.46h1.1M409.95,235.79h1.1M411.95,234.53h1.1M411.95,241.13h1.1M413.95,240.16h1.1M413.95,247.02h1.1M415.95,245.69h1.1M415.95,252.82h1.1M417.95,251.26h1.1M417.95,258.39h1.1M418.95,256.74h1.1M418.95,263.87h1.1M420.95,261.53h1.1M420.95,268.66h1.1M422.95,265.41h1.1M422.95,272.54h1.1M424.95,268.81h1.1M424.95,275.94h1.1M426.95,272.1h1.1M426.95,279.23h1.1M369.95,233.1h1.1M369.95,236.27h1.1M371.95,232.24h1.1M371.95,235.41h1.1M373.95,231.4h1.1M373.95,234.57h1.1M375.95,230.55h1.1M375.95,233.72h1.1M376.95,229.65h1.1M376.95,232.82h1.1M378.95,228.66h1.1M378.95,231.83h1.1M380.95,227.51h1.1M380.95,230.68h1.1M382.95,226.19h1.1M382.95,229.36h1.1M384.95,224.82h1.1M384.95,227.99h1.1M386.95,223.5h1.1M386.95,226.67h1.1M387.95,222.33h1.1M387.95,225.5h1.1M389.95,221.25h1.1M389.95,224.42h1.1M391.95,220.2h1.1M391.95,223.36h1.1M393.95,219.22h1.1M393.95,222.39h1.1M395.95,218.38h1.1M395.95,221.55h1.1M397.95,217.73h1.1M397.95,220.9h1.1M398.95,217.2h1.1M398.95,220.37h1.1M400.95,216.72h1.1M400.95,219.89h1.1M402.95,216.37h1.1M402.95,219.53h1.1M404.95,216.23h1.1M404.95,219.4h1.1M406.95,216.18h1.1M406.95,219.88h1.1M407.95,216.46h1.1M407.95,220.69h1.1M409.95,216.94h1.1M409.95,221.69h1.1M411.95,217.74h1.1M411.95,223.55h1.1M413.95,219.27h1.1M413.95,226.13h1.1M415.95,220.98h1.1M415.95,228.9h1.1M417.95,222.79h1.1M417.95,231.76h1.1M418.95,224.86h1.1M418.95,234.89h1.1M420.95,227.08h1.1M420.95,238.17h1.1M422.95,229.45h1.1M422.95,241.6h1.1M424.95,232.01h1.1M424.95,245.21h1.1M426.95,234.68h1.1M426.95,248.94h1.1M427.95,237.93h1.1M427.95,252.71h1.1M429.95,241.3h1.1M429.95,256.62h1.1M431.95,244.19h1.1M431.95,260.03h1.1M433.95,246.79h1.1M433.95,262.63h1.1M435.95,249.08h1.1M435.95,264.92h1.1M437.95,250.84h1.1M437.95,266.68h1.1M438.95,252.54h1.1M438.95,267.32h1.1M440.95,253.99h1.1M440.95,267.72h1.1M442.95,255.59h1.1M442.95,268.26h1.1M444.95,257.1h1.1M444.95,269.77h1.1M446.95,258.76h1.1M446.95,271.43h1.1M478.95,221.54h1.1M478.95,223.91h1.1M480.95,221.25h1.1M480.95,223.62h1.1M482.95,220.96h1.1M482.95,223.34h1.1M483.95,220.68h1.1M483.95,223.05h1.1M485.95,220.37h1.1M485.95,222.75h1.1M487.95,220.03h1.1M487.95,222.41h1.1M489.95,219.62h1.1M489.95,222h1.1M491.95,219.16h1.1M491.95,221.53h1.1M493.95,218.66h1.1M493.95,221.04h1.1M494.95,218.18h1.1M494.95,220.55h1.1M496.95,217.73h1.1M496.95,220.11h1.1M498.95,217.28h1.1M498.95,219.66h1.1M500.95,216.8h1.1M500.95,219.18h1.1M502.95,216.36h1.1M502.95,218.73h1.1M503.95,216.04h1.1M503.95,218.41h1.1M505.95,215.91h1.1M505.95,218.29h1.1M507.95,215.81h1.1M507.95,218.39h1.1M509.95,215.71h1.1M509.95,218.49h1.1M511.95,215.62h1.1M511.95,218.59h1.1M512.95,215.52h1.1M512.95,218.68h1.1M514.95,215.58h1.1M514.95,219.28h1.1M516.95,216.14h1.1M516.95,220.36h1.1M518.95,216.94h1.1M518.95,221.69h1.1M520.95,217.83h1.1M520.95,224.16h1.1M522.95,219.43h1.1M522.95,227.35h1.1M523.95,221.14h1.1M523.95,230.64h1.1M525.95,223.01h1.1M525.95,233.57h1.1M527.95,225h1.1M527.95,236.62h1.1M529.95,227.08h1.1M529.95,239.75h1.1M531.95,229.55h1.1M531.95,242.75h1.1M532.95,232.11h1.1M532.95,245.84h1.1M534.95,234.68h1.1M534.95,248.94h1.1M536.95,237.5h1.1M536.95,251.76h1.1M538.95,240.32h1.1M538.95,254.58h1.1M540.95,243.08h1.1M540.95,257.33h1.1M542.95,246.68h1.1M542.95,260.31h1.1M543.95,249.82h1.1M543.95,262.81h1.1M545.95,250.49h1.1M545.95,261.58h1.1M478.95,222.41h1.1M478.95,225.58h1.1M480.95,222.16h1.1M480.95,225.33h1.1M482.95,221.93h1.1M482.95,225.1h1.1M483.95,221.69h1.1M483.95,224.85h1.1M485.95,221.43h1.1M485.95,224.6h1.1M487.95,221.14h1.1M487.95,224.31h1.1M489.95,220.88h1.1M489.95,223.89h1.1M491.95,220.56h1.1M491.95,223.41h1.1M493.95,220.22h1.1M493.95,222.91h1.1M494.95,219.88h1.1M494.95,222.41h1.1M496.95,219.56h1.1M496.95,221.93h1.1M498.95,219.26h1.1M498.95,221.48h1.1M500.95,218.97h1.1M500.95,221.03h1.1M502.95,218.69h1.1M502.95,220.59h1.1M503.95,218.41h1.1M503.95,220.16h1.1M505.95,218.13h1.1M505.95,219.71h1.1M507.95,217.75h1.1M507.95,219.33h1.1M509.95,217.35h1.1M509.95,218.93h1.1M511.95,216.95h1.1M511.95,218.54h1.1M512.95,216.6h1.1M512.95,218.18h1.1M514.95,216.31h1.1M514.95,217.89h1.1M516.95,216.05h1.1M516.95,217.63h1.1M518.95,215.79h1.1M518.95,217.38h1.1M520.95,215.57h1.1M520.95,217.16h1.1M522.95,215.42h1.1M522.95,217h1.1M523.95,215.36h1.1M523.95,216.94h1.1M525.95,215.36h1.1M525.95,216.94h1.1M527.95,215.36h1.1M527.95,216.94h1.1M529.95,215.36h1.1M529.95,216.94h1.1M531.95,215.36h1.1M531.95,216.94h1.1M532.95,215.36h1.1M532.95,216.94h1.1M534.95,215.28h1.1M534.95,217.18h1.1M536.95,215.33h1.1M536.95,217.55h1.1M538.95,215.49h1.1M538.95,218.03h1.1M540.95,215.72h1.1M540.95,218.57h1.1M542.95,215.99h1.1M542.95,219.16h1.1M543.95,216.11h1.1M543.95,220.22h1.1M545.95,216.47h1.1M545.95,221.54h1.1M547.95,217h1.1M547.95,223.02h1.1M549.95,217.61h1.1M549.95,224.58h1.1M551.95,218.21h1.1M551.95,226.13h1.1M552.95,219.02h1.1M552.95,227.57h1.1M554.95,219.94h1.1M554.95,229.13h1.1M556.95,220.91h1.1M556.95,230.73h1.1M558.95,221.86h1.1M558.95,232.31h1.1M560.95,222.72h1.1M560.95,233.81h1.1M561.95,223.64h1.1M561.95,235.05h1.1M563.95,224.5h1.1M563.95,236.23h1.1M565.95,225.34h1.1M565.95,237.38h1.1M567.95,226.19h1.1M567.95,238.55h1.1M569.95,227.08h1.1M569.95,239.75h1.1M571.95,228.18h1.1M571.95,240.86h1.1M572.95,229.32h1.1M572.95,241.99h1.1M574.95,230.46h1.1M574.95,243.13h1.1M576.95,225.97h1.1M576.95,237.06h1.1M578.95,227.39h1.1M578.95,238.48h1.1M580.95,228.83h1.1M580.95,239.92h1.1M581.95,230.24h1.1M581.95,241.33h1.1M583.95,231.59h1.1M583.95,242.68h1.1M585.95,232.85h1.1M585.95,243.94h1.1M587.95,234.04h1.1M587.95,245.13h1.1M589.95,235.21h1.1M589.95,246.3h1.1M591.95,236.44h1.1M591.95,247.53h1.1M592.95,237.76h1.1M592.95,248.85h1.1M594.95,239.18h1.1M594.95,250.27h1.1M596.95,240.67h1.1M596.95,251.75h1.1M598.95,242.19h1.1M598.95,253.27h1.1M600.95,243.71h1.1M600.95,254.8h1.1M601.95,245.25h1.1M601.95,256.34h1.1M603.95,246.81h1.1M603.95,257.9h1.1M605.95,248.39h1.1M605.95,259.48h1.1M607.95,249.98h1.1M607.95,261.06h1.1M609.95,251.56h1.1M609.95,262.65h1.1M369.95,361.75h1.1M369.95,369.35h1.1M371.95,361.19h1.1M371.95,368.61h1.1M373.95,360.64h1.1M373.95,367.87h1.1M375.95,360.09h1.1M375.95,367.13h1.1M376.95,359.52h1.1M376.95,366.36h1.1M378.95,358.89h1.1M378.95,365.55h1.1M380.95,358.22h1.1M380.95,364.69h1.1M382.95,357.51h1.1M382.95,363.78h1.1M384.95,356.75h1.1M384.95,362.83h1.1M386.95,355.94h1.1M386.95,361.84h1.1M387.95,355.09h1.1M387.95,360.79h1.1M389.95,354.26h1.1M389.95,359.65h1.1M391.95,353.35h1.1M391.95,358.42h1.1M393.95,352.24h1.1M393.95,356.99h1.1M395.95,350.73h1.1M395.95,355.48h1.1M397.95,348.89h1.1M397.95,353.64h1.1M398.95,346.53h1.1M398.95,351.28h1.1M400.95,342.37h1.1M400.95,347.6h1.1M402.95,337.73h1.1M402.95,343.44h1.1M404.95,334.33h1.1M404.95,340.04h1.1M406.95,331.31h1.1M406.95,337.02h1.1M407.95,328.66h1.1M407.95,334.05h1.1M409.95,326.23h1.1M409.95,331.3h1.1M411.95,324.18h1.1M411.95,328.94h1.1M413.95,322.35h1.1M413.95,327.1h1.1M415.95,320.75h1.1M415.95,325.51h1.1M417.95,319.43h1.1M417.95,324.18h1.1M418.95,318.16h1.1M418.95,322.91h1.1M420.95,317.05h1.1M420.95,321.8h1.1M422.95,316.57h1.1M422.95,321.33h1.1M424.95,316.82h1.1M424.95,321.57h1.1M426.95,317.3h1.1M426.95,322.06h1.1M369.95,354.14h1.1M369.95,358.89h1.1M371.95,355.3h1.1M371.95,360.05h1.1M373.95,354.95h1.1M373.95,359.7h1.1M375.95,353.19h1.1M375.95,357.94h1.1M376.95,353.24h1.1M376.95,357.99h1.1M378.95,353.35h1.1M378.95,358.11h1.1M380.95,353.49h1.1M380.95,358.25h1.1M382.95,353.61h1.1M382.95,358.37h1.1M384.95,353.66h1.1M384.95,358.42h1.1M386.95,353.57h1.1M386.95,358.33h1.1M387.95,353.35h1.1M387.95,358.1h1.1M389.95,353.04h1.1M389.95,357.79h1.1M391.95,352.71h1.1M391.95,357.47h1.1M393.95,352.35h1.1M393.95,357.11h1.1M395.95,351.92h1.1M395.95,356.67h1.1M397.95,351.4h1.1M397.95,356.16h1.1M398.95,350.81h1.1M398.95,355.56h1.1M400.95,350.07h1.1M400.95,354.83h1.1M402.95,349.17h1.1M402.95,353.92h1.1M404.95,348.13h1.1M404.95,352.88h1.1M406.95,347h1.1M406.95,351.76h1.1M407.95,345.74h1.1M407.95,350.49h1.1M409.95,344.29h1.1M409.95,349.05h1.1M411.95,342.73h1.1M411.95,347.48h1.1M413.95,341h1.1M413.95,345.76h1.1M415.95,339.13h1.1M415.95,343.89h1.1M417.95,337.26h1.1M417.95,342.01h1.1M418.95,335.43h1.1M418.95,340.18h1.1M420.95,333.59h1.1M420.95,338.35h1.1M422.95,331.75h1.1M422.95,336.5h1.1M424.95,329.89h1.1M424.95,334.64h1.1M426.95,327.92h1.1M426.95,332.67h1.1M427.95,325.88h1.1M427.95,330.63h1.1M429.95,323.94h1.1M429.95,328.69h1.1M431.95,322.28h1.1M431.95,327.03h1.1M433.95,320.83h1.1M433.95,325.59h1.1M435.95,319.49h1.1M435.95,324.25h1.1M437.95,318.36h1.1M437.95,323.11h1.1M438.95,317.52h1.1M438.95,322.28h1.1M440.95,316.89h1.1M440.95,321.64h1.1M442.95,316.57h1.1M442.95,321.33h1.1M444.95,316.57h1.1M444.95,321.33h1.1M446.95,316.57h1.1M446.95,321.33h1.1M480.95,345.81h1.1M480.95,359.12h1.1M482.95,341.3h1.1M482.95,354.61h1.1M483.95,343.29h1.1M483.95,353.76h1.1M485.95,345.58h1.1M485.95,353.19h1.1M487.95,346.36h1.1M487.95,353.33h1.1M489.95,347.07h1.1M489.95,353.41h1.1M491.95,347.96h1.1M491.95,353.66h1.1M493.95,349.33h1.1M493.95,355.51h1.1M494.95,350.33h1.1M494.95,356.99h1.1M496.95,349.61h1.1M496.95,355.31h1.1M498.95,348.43h1.1M498.95,353.19h1.1M500.95,347.84h1.1M500.95,352.28h1.1M502.95,347.42h1.1M502.95,351.54h1.1M503.95,347h1.1M503.95,350.81h1.1M505.95,346.42h1.1M505.95,350.22h1.1M507.95,345.83h1.1M507.95,349.63h1.1M509.95,345.1h1.1M509.95,348.91h1.1M511.95,343.98h1.1M511.95,347.78h1.1M512.95,342.57h1.1M512.95,346.37h1.1M514.95,341.3h1.1M514.95,345.1h1.1M516.95,340.39h1.1M516.95,344.19h1.1M518.95,339.63h1.1M518.95,343.43h1.1M520.95,338.81h1.1M520.95,342.62h1.1M522.95,337.73h1.1M522.95,341.54h1.1M523.95,335.82h1.1M523.95,339.94h1.1M525.95,333.34h1.1M525.95,337.78h1.1M527.95,330.84h1.1M527.95,335.59h1.1M529.95,328.72h1.1M529.95,333.48h1.1M531.95,326.58h1.1M531.95,331.34h1.1M532.95,324.18h1.1M532.95,328.94h1.1M534.95,321.13h1.1M534.95,325.88h1.1M536.95,317.7h1.1M536.95,322.46h1.1M538.95,314.67h1.1M538.95,319.43h1.1M540.95,311.81h1.1M540.95,316.94h1.1M542.95,309.42h1.1M542.95,314.94h1.1M543.95,308.43h1.1M543.95,314.14h1.1M545.95,308.01h1.1M545.95,313.72h1.1M478.95,345.1h1.1M478.95,354.61h1.1M480.95,343.41h1.1M480.95,351.65h1.1M482.95,343.66h1.1M482.95,350.7h1.1M483.95,345.19h1.1M483.95,351.09h1.1M485.95,346.53h1.1M485.95,351.28h1.1M487.95,346.87h1.1M487.95,351.3h1.1M489.95,347.13h1.1M489.95,351.25h1.1M491.95,347.48h1.1M491.95,351.28h1.1M493.95,348.27h1.1M493.95,352.54h1.1M494.95,348.91h1.1M494.95,353.66h1.1M496.95,348.57h1.1M496.95,353.01h1.1M498.95,347.82h1.1M498.95,351.94h1.1M500.95,347.48h1.1M500.95,351.28h1.1M502.95,347.63h1.1M502.95,351.43h1.1M503.95,347.96h1.1M503.95,351.76h1.1M505.95,348.28h1.1M505.95,352.09h1.1M507.95,348.43h1.1M507.95,352.24h1.1M509.95,348.43h1.1M509.95,352.24h1.1M511.95,348.43h1.1M511.95,352.24h1.1M512.95,348.43h1.1M512.95,352.24h1.1M514.95,348.43h1.1M514.95,352.24h1.1M516.95,348.34h1.1M516.95,352.14h1.1M518.95,348.1h1.1M518.95,351.9h1.1M520.95,347.79h1.1M520.95,351.59h1.1M522.95,347.48h1.1M522.95,351.28h1.1M523.95,347.03h1.1M523.95,351.07h1.1M525.95,346.53h1.1M525.95,350.81h1.1M527.95,346.03h1.1M527.95,350.54h1.1M529.95,345.58h1.1M529.95,350.33h1.1M531.95,345.31h1.1M531.95,350.07h1.1M532.95,345.08h1.1M532.95,349.83h1.1M534.95,344.86h1.1M534.95,349.61h1.1M536.95,344.63h1.1M536.95,349.38h1.1M538.95,344.4h1.1M538.95,349.15h1.1M540.95,344.17h1.1M540.95,348.92h1.1M542.95,343.93h1.1M542.95,348.69h1.1M543.95,343.68h1.1M543.95,348.43h1.1M545.95,343.28h1.1M545.95,348.35h1.1M547.95,342.85h1.1M547.95,348.23h1.1M549.95,342.25h1.1M549.95,347.96h1.1M551.95,340.3h1.1M551.95,346.96h1.1M552.95,337.73h1.1M552.95,345.34h1.1M554.95,335.53h1.1M554.95,343.77h1.1M556.95,333.31h1.1M556.95,342.19h1.1M558.95,331.31h1.1M558.95,340.82h1.1M560.95,329.85h1.1M560.95,339.36h1.1M561.95,328.54h1.1M561.95,338.05h1.1M563.95,327.51h1.1M563.95,337.02h1.1M565.95,326.69h1.1M565.95,336.2h1.1M567.95,326.02h1.1M567.95,335.53h1.1M569.95,325.61h1.1M569.95,335.12h1.1M571.95,325.42h1.1M571.95,334.93h1.1M572.95,325.29h1.1M572.95,334.8h1.1M574.95,325.17h1.1M574.95,334.68h1.1M576.95,328.46h1.1M576.95,334.17h1.1M578.95,327.95h1.1M578.95,333.66h1.1M580.95,327.42h1.1M580.95,333.12h1.1M581.95,327.07h1.1M581.95,332.78h1.1M583.95,327.07h1.1M583.95,332.78h1.1M585.95,327.28h1.1M585.95,332.98h1.1M587.95,327.65h1.1M587.95,333.35h1.1M589.95,328.16h1.1M589.95,333.86h1.1M591.95,329.2h1.1M591.95,334.91h1.1M592.95,331.45h1.1M592.95,337.16h1.1M594.95,331.18h1.1M594.95,336.89h1.1M596.95,328.52h1.1M596.95,334.23h1.1M598.95,325.91h1.1M598.95,331.62h1.1M600.95,324.75h1.1M600.95,330.45h1.1M601.95,323.92h1.1M601.95,329.63h1.1M603.95,323.23h1.1M603.95,328.94h1.1M605.95,322.61h1.1M605.95,328.32h1.1M607.95,322.07h1.1M607.95,327.78h1.1M609.95,321.55h1.1M609.95,327.25h1.1M373.95,483.49h1.1M373.95,486.54h1.1M375.95,482.11h1.1M375.95,485.16h1.1M376.95,480.73h1.1M376.95,483.78h1.1M378.95,477.96h1.1M378.95,481.01h1.1M380.95,475.2h1.1M380.95,478.25h1.1M382.95,472.24h1.1M382.95,475.29h1.1M384.95,469.29h1.1M384.95,472.34h1.1M386.95,467.57h1.1M386.95,470.62h1.1M387.95,465.86h1.1M387.95,468.91h1.1M389.95,462.81h1.1M389.95,465.86h1.1M391.95,459.76h1.1M391.95,462.81h1.1M393.95,457.47h1.1M393.95,460.52h1.1M395.95,455.19h1.1M395.95,458.23h1.1M397.95,452.7h1.1M397.95,455.75h1.1M398.95,450.21h1.1M398.95,453.26h1.1M400.95,451.04h1.1M400.95,454.09h1.1M402.95,453.28h1.1M402.95,456.33h1.1M404.95,455.95h1.1M404.95,459h1.1M406.95,458.62h1.1M406.95,461.67h1.1M407.95,462.62h1.1M407.95,465.67h1.1M409.95,466.62h1.1M409.95,469.67h1.1M411.95,471.1h1.1M411.95,474.15h1.1M413.95,475.58h1.1M413.95,478.63h1.1M415.95,477.58h1.1M415.95,480.63h1.1M417.95,479.58h1.1M417.95,482.63h1.1M418.95,481.11h1.1M418.95,484.16h1.1M420.95,482.63h1.1M420.95,485.68h1.1M422.95,485.68h1.1M422.95,488.73h1.1M424.95,488.73h1.1M424.95,491.78h1.1M426.95,489.49h1.1M426.95,492.54h1.1M373.95,483.87h1.1M373.95,486.16h1.1M375.95,482.95h1.1M375.95,485.24h1.1M376.95,482.03h1.1M376.95,484.32h1.1M378.95,481.11h1.1M378.95,483.39h1.1M380.95,479.45h1.1M380.95,481.74h1.1M382.95,477.8h1.1M382.95,480.09h1.1M384.95,476.15h1.1M384.95,478.44h1.1M386.95,474.44h1.1M386.95,476.72h1.1M387.95,472.72h1.1M387.95,475.01h1.1M389.95,471.51h1.1M389.95,473.8h1.1M391.95,470.31h1.1M391.95,472.59h1.1M393.95,469.1h1.1M393.95,471.39h1.1M395.95,468.78h1.1M395.95,471.07h1.1M397.95,468.46h1.1M397.95,470.75h1.1M398.95,468.15h1.1M398.95,470.43h1.1M400.95,467.64h1.1M400.95,469.92h1.1M402.95,467.13h1.1M402.95,469.42h1.1M404.95,466.62h1.1M404.95,468.91h1.1M406.95,465.92h1.1M406.95,468.21h1.1M407.95,465.22h1.1M407.95,467.51h1.1M409.95,464.52h1.1M409.95,466.81h1.1M411.95,466.43h1.1M411.95,468.72h1.1M413.95,468.34h1.1M413.95,470.62h1.1M415.95,470.15h1.1M415.95,472.43h1.1M417.95,471.96h1.1M417.95,474.25h1.1M418.95,473.39h1.1M418.95,475.67h1.1M420.95,474.82h1.1M420.95,477.1h1.1M422.95,475.87h1.1M422.95,478.15h1.1M424.95,476.91h1.1M424.95,479.2h1.1M426.95,478.63h1.1M426.95,480.92h1.1M427.95,480.34h1.1M427.95,482.63h1.1M482.95,479.43h1.1M482.95,485.07h1.1M483.95,472.74h1.1M483.95,484.33h1.1M485.95,469.25h1.1M485.95,480.38h1.1M487.95,464.32h1.1M487.95,477.88h1.1M489.95,458.62h1.1M489.95,476.15h1.1M491.95,460.4h1.1M491.95,471.89h1.1M493.95,457.6h1.1M493.95,472.21h1.1M494.95,455.28h1.1M494.95,473.2h1.1M496.95,451.22h1.1M496.95,475.93h1.1M498.95,449.67h1.1M498.95,471h1.1M500.95,451.52h1.1M500.95,462.66h1.1M502.95,437.68h1.1M502.95,460.49h1.1M503.95,430.96h1.1M503.95,451.2h1.1M505.95,429.44h1.1M505.95,444.33h1.1M507.95,421.78h1.1M507.95,443.61h1.1M509.95,427.42h1.1M509.95,443.68h1.1M511.95,426.66h1.1M511.95,447.11h1.1M512.95,430.31h1.1M512.95,446.14h1.1M514.95,427.98h1.1M514.95,451.32h1.1M516.95,431.17h1.1M516.95,451h1.1M518.95,434.03h1.1M518.95,455.66h1.1M520.95,439.87h1.1M520.95,457.35h1.1M522.95,447.45h1.1M522.95,460.07h1.1M523.95,450.92h1.1M523.95,466.88h1.1M525.95,452.71h1.1M525.95,470.72h1.1M527.95,459.8h1.1M527.95,469.24h1.1M529.95,462.52h1.1M529.95,473.96h1.1M531.95,464.67h1.1M531.95,479.25h1.1M532.95,462.52h1.1M532.95,481.78h1.1M534.95,465.72h1.1M534.95,478.96h1.1M536.95,470.42h1.1M536.95,478.65h1.1M538.95,472.36h1.1M538.95,481.09h1.1M540.95,476.53h1.1M540.95,483.4h1.1M542.95,478.16h1.1M542.95,488.25h1.1M543.95,477.37h1.1M543.95,490.94h1.1M545.95,478.59h1.1M545.95,491.63h1.1M482.95,475.54h1.1M482.95,483.62h1.1M483.95,476.13h1.1M483.95,484.36h1.1M485.95,477.9h1.1M485.95,483.93h1.1M487.95,478.87h1.1M487.95,484.3h1.1M489.95,480.1h1.1M489.95,484.4h1.1M491.95,479.64h1.1M491.95,484.1h1.1M493.95,479.06h1.1M493.95,483.91h1.1M494.95,477.23h1.1M494.95,487.08h1.1M496.95,477.14h1.1M496.95,488.51h1.1M498.95,477.99h1.1M498.95,484.8h1.1M500.95,477.63h1.1M500.95,482.3h1.1M502.95,472.97h1.1M502.95,482.76h1.1M503.95,471.09h1.1M503.95,480.45h1.1M505.95,472.46h1.1M505.95,477.18h1.1M507.95,470.47h1.1M507.95,477.26h1.1M509.95,470.84h1.1M509.95,477.84h1.1M511.95,469.26h1.1M511.95,480.37h1.1M512.95,473.77h1.1M512.95,480.63h1.1M514.95,477.33h1.1M514.95,481.83h1.1M516.95,472.5h1.1M516.95,483.81h1.1M518.95,474.36h1.1M518.95,479.09h1.1M520.95,473.84h1.1M520.95,481.51h1.1M522.95,474.01h1.1M522.95,483.25h1.1M523.95,478.47h1.1M523.95,484.89h1.1M525.95,480.08h1.1M525.95,489.37h1.1M527.95,481.8h1.1M527.95,487.65h1.1M529.95,479.37h1.1M529.95,490.09h1.1M531.95,476.66h1.1M531.95,485.75h1.1M532.95,473.39h1.1M532.95,481.96h1.1M534.95,475.34h1.1M534.95,480.01h1.1M536.95,474.46h1.1M536.95,480.9h1.1M538.95,477.03h1.1M538.95,482.13h1.1M540.95,478.39h1.1M540.95,484.59h1.1M542.95,479.52h1.1M542.95,488.03h1.1M543.95,482.42h1.1M543.95,489.71h1.1M545.95,480.43h1.1M545.95,487.12h1.1M547.95,477.7h1.1M547.95,485.27h1.1M549.95,475.79h1.1M549.95,484.32h1.1M551.95,473.47h1.1M551.95,483.79h1.1M552.95,473.6h1.1M552.95,484.23h1.1M554.95,474.67h1.1M554.95,483.73h1.1M556.95,476.32h1.1M556.95,485.7h1.1M558.95,478.06h1.1M558.95,487.58h1.1M560.95,480.68h1.1M560.95,486.3h1.1M561.95,480.47h1.1M561.95,487.84h1.1M563.95,480.31h1.1M563.95,484.76h1.1M565.95,477.22h1.1M565.95,484.61h1.1M567.95,472.67h1.1M567.95,483.11h1.1M569.95,472.56h1.1M569.95,482.34h1.1M571.95,477.36h1.1M571.95,488.72h1.1M572.95,486.1h1.1M572.95,494.41h1.1M574.95,487.01h1.1M574.95,498.19h1.1M576.95,484.64h1.1M576.95,494.68h1.1M578.95,482.65h1.1M578.95,490.71h1.1M580.95,479.94h1.1M580.95,486.71h1.1M581.95,475.08h1.1M581.95,484.86h1.1M583.95,474.92h1.1M583.95,485.77h1.1M585.95,477.72h1.1M585.95,488.69h1.1M587.95,480.93h1.1M587.95,488.34h1.1M589.95,480.69h1.1M589.95,491.44h1.1M591.95,478.59h1.1M591.95,489.97h1.1M592.95,478.78h1.1M592.95,488.21h1.1M594.95,481.93h1.1M594.95,486.51h1.1M596.95,481.82h1.1M596.95,486.86h1.1M598.95,478.53h1.1M598.95,487.56h1.1M600.95,477.62h1.1M600.95,485.88h1.1M601.95,478.14h1.1M601.95,489.33h1.1M603.95,481.43h1.1M603.95,491.67h1.1M605.95,484.12h1.1M605.95,493.45h1.1M607.95,487.38h1.1M607.95,494.14h1.1M609.95,489.55h1.1M609.95,494.67h1.1M610.95,482.74h1.1M610.95,492.84h1.1" stroke="#000" stroke-width="0.4" fill="none"/>
<path d="M34.6,89.45 L35.51,88.81 L36.42,88.19 L37.33,87.58 L38.24,86.97 L39.15,86.36 L40.06,85.73 L40.97,85.08 L41.88,84.41 L42.79,83.71 L43.7,82.96 L44.61,82.17 L45.52,81.34 L46.43,80.48 L47.34,79.58 L48.25,78.64 L49.16,77.68 L50.07,76.68 L50.98,75.65 L51.89,74.6 L52.8,73.52 L53.71,72.39 L54.62,71.2 L55.53,69.95 L56.44,68.65 L57.35,67.32 L58.26,65.97 L59.17,64.61 L60.08,63.24 L60.99,61.88 L61.9,60.54 L62.81,59.2 L63.72,57.83 L64.63,56.45 L65.54,55.06 L66.45,53.67 L67.36,52.29 L68.27,50.92 L69.18,49.57 L70.09,48.25 L71,46.97 L71.91,45.69 L72.82,44.37 L73.73,43.05 L74.64,41.73 L75.55,40.45 L76.46,39.21 L77.37,38.05 L78.28,36.97 L79.19,36.01 L80.1,35.17 L81.01,34.44 L81.92,33.76 L82.83,33.15 L83.74,32.59 L84.65,32.09 L85.56,31.63 L86.47,31.22 L87.38,30.86 L88.29,30.53 L89.2,30.21 L90.11,29.91 L91.02,29.6 L91.93,29.27" stroke="#1572c6" stroke-width="1.3" fill="none" stroke-linejoin="round" stroke-linecap="round"/>
<path d="M34.6,89.45h0M36.42,88.19h0M38.24,86.97h0M40.06,85.73h0M41.88,84.41h0M43.7,82.96h0M45.52,81.34h0M47.34,79.58h0M49.16,77.68h0M50.98,75.65h0M52.8,73.52h0M54.62,71.2h0M56.44,68.65h0M58.26,65.97h0M60.08,63.24h0M61.9,60.54h0M63.72,57.83h0M65.54,55.06h0M67.36,52.29h0M69.18,49.57h0M71,46.97h0M72.82,44.37h0M74.64,41.73h0M76.46,39.21h0M78.28,36.97h0M80.1,35.17h0M81.92,33.76h0M83.74,32.59h0M85.56,31.63h0M87.38,30.86h0M89.2,30.21h0M91.02,29.6h0" stroke="#1572c6" stroke-width="1.8" fill="none" stroke-linecap="round"/>
<path d="M34.6,90.93 L35.51,90.43 L36.42,89.96 L37.33,89.49 L38.24,89.02 L39.15,88.55 L40.06,88.07 L40.97,87.57 L41.88,87.05 L42.79,86.5 L43.7,85.91 L44.61,85.28 L45.52,84.59 L46.43,83.86 L47.34,83.1 L48.25,82.31 L49.16,81.5 L50.07,80.68 L50.98,79.86 L51.89,79.04 L52.8,78.24 L53.71,77.44 L54.62,76.65 L55.53,75.85 L56.44,75.05 L57.35,74.23 L58.26,73.41 L59.17,72.58 L60.08,71.73 L60.99,70.86 L61.9,69.98 L62.81,69.07 L63.72,68.14 L64.63,67.19 L65.54,66.21 L66.45,65.23 L67.36,64.24 L68.27,63.24 L69.18,62.24 L70.09,61.24 L71,60.25 L71.91,59.25 L72.82,58.25 L73.73,57.23 L74.64,56.22 L75.55,55.2 L76.46,54.19 L77.37,53.18 L78.28,52.18 L79.19,51.19 L80.1,50.22 L81.01,49.24 L81.92,48.25 L82.83,47.26 L83.74,46.32 L84.65,45.42 L85.56,44.61 L86.47,43.86 L87.38,43.16 L88.29,42.52 L89.2,41.96 L90.11,41.46 L91.02,41.01 L91.93,40.59 L92.84,40.19 L93.75,39.77 L94.66,39.35 L95.57,38.98 L96.48,38.71 L97.39,38.52 L98.3,38.35 L99.21,38.21 L100.12,38.08 L101.03,37.96 L101.94,37.86 L102.85,37.75 L103.76,37.65 L104.67,37.55 L105.58,37.45 L106.49,37.36 L107.4,37.28 L108.31,37.19 L109.22,37.11 L110.13,37.03 L111.04,36.94" stroke="#10aef0" stroke-width="1.3" fill="none" stroke-linejoin="round" stroke-linecap="round"/>
<path d="M34.6,90.93h0M36.42,89.96h0M38.24,89.02h0M40.06,88.07h0M41.88,87.05h0M43.7,85.91h0M45.52,84.59h0M47.34,83.1h0M49.16,81.5h0M50.98,79.86h0M52.8,78.24h0M54.62,76.65h0M56.44,75.05h0M58.26,73.41h0M60.08,71.73h0M61.9,69.98h0M63.72,68.14h0M65.54,66.21h0M67.36,64.24h0M69.18,62.24h0M71,60.25h0M72.82,58.25h0M74.64,56.22h0M76.46,54.19h0M78.28,52.18h0M80.1,50.22h0M81.92,48.25h0M83.74,46.32h0M85.56,44.61h0M87.38,43.16h0M89.2,41.96h0M91.02,41.01h0M92.84,40.19h0M94.66,39.35h0M96.48,38.71h0M98.3,38.35h0M100.12,38.08h0M101.94,37.86h0M103.76,37.65h0M105.58,37.45h0M107.4,37.28h0M109.22,37.11h0M111.04,36.94h0" stroke="#10aef0" stroke-width="1.8" fill="none" stroke-linecap="round"/>
<path d="M111.04,36.94 L111.95,41.9" stroke="#10aef0" stroke-width="0.7" fill="none"/>
<path d="M111.95,41.9 L112.86,41.67 L113.77,41.45 L114.68,41.23 L115.59,41 L116.5,40.78 L117.41,40.56 L118.32,40.34 L119.23,40.11 L120.14,39.89 L121.05,39.75 L121.96,39.62 L122.87,39.48 L123.78,39.35 L124.69,39.21 L125.6,39.08 L126.51,38.94 L127.42,38.8 L128.33,38.67 L129.24,38.53" stroke="#10aef0" stroke-width="1.45" fill="none" stroke-linejoin="round" stroke-linecap="round"/>
<path d="M129.24,38.53 L130.15,41.37" stroke="#10aef0" stroke-width="0.7" fill="none"/>
<path d="M130.15,41.37 L131.06,41.21 L131.97,41.06 L132.88,40.9 L133.79,40.75 L134.7,40.6 L135.61,40.63 L136.52,40.67 L137.43,40.7 L138.34,40.74 L139.25,40.78" stroke="#10aef0" stroke-width="1.45" fill="none" stroke-linejoin="round" stroke-linecap="round"/>
<path d="M143.5,70.57 L144.41,70.28 L145.31,70.01 L146.22,69.74 L147.12,69.48 L148.03,69.21 L148.93,68.93 L149.84,68.64 L150.74,68.32 L151.65,67.99 L152.55,67.62 L153.46,67.21 L154.36,66.77 L155.26,66.28 L156.17,65.76 L157.07,65.21 L157.98,64.63 L158.88,64.03 L159.79,63.41 L160.69,62.78 L161.6,62.13 L162.5,61.46 L163.41,60.75 L164.31,60 L165.22,59.23 L166.12,58.42 L167.03,57.6 L167.94,56.77 L168.84,55.92 L169.75,55.07 L170.65,54.23 L171.56,53.37 L172.46,52.5 L173.37,51.62 L174.27,50.72 L175.18,49.81 L176.08,48.89 L176.99,47.97 L177.89,47.04 L178.8,46.12 L179.7,45.2 L180.61,44.28 L181.51,43.35 L182.41,42.43 L183.32,41.49 L184.22,40.56 L185.13,39.62 L186.03,38.68 L186.94,37.75 L187.84,36.81 L188.75,35.88 L189.66,34.93 L190.56,33.97 L191.47,33 L192.37,32.03 L193.28,31.06 L194.18,30.11 L195.09,29.17 L195.99,28.26 L196.9,27.39 L197.8,26.56 L198.7,25.72 L199.61,24.87 L200.51,24.04 L201.42,23.29 L202.32,22.66 L203.23,22.19 L204.13,21.83 L205.04,21.48 L205.94,21.18 L206.85,20.93 L207.75,20.77 L208.66,20.72 L209.56,20.93 L210.47,21.41 L211.38,21.9" stroke="#10aa50" stroke-width="1.3" fill="none" stroke-linejoin="round" stroke-linecap="round"/>
<path d="M143.5,70.57h0M145.31,70.01h0M147.12,69.48h0M148.93,68.93h0M150.74,68.32h0M152.55,67.62h0M154.36,66.77h0M156.17,65.76h0M157.98,64.63h0M159.79,63.41h0M161.6,62.13h0M163.41,60.75h0M165.22,59.23h0M167.03,57.6h0M168.84,55.92h0M170.65,54.23h0M172.46,52.5h0M174.27,50.72h0M176.08,48.89h0M177.89,47.04h0M179.7,45.2h0M181.51,43.35h0M183.32,41.49h0M185.13,39.62h0M186.94,37.75h0M188.75,35.88h0M190.56,33.97h0M192.37,32.03h0M194.18,30.11h0M195.99,28.26h0M197.8,26.56h0M199.61,24.87h0M201.42,23.29h0M203.23,22.19h0M205.04,21.48h0M206.85,20.93h0M208.66,20.72h0M210.47,21.41h0" stroke="#10aa50" stroke-width="1.8" fill="none" stroke-linecap="round"/>
<path d="M211.38,21.9 L211.38,21.9" stroke="#10aa50" stroke-width="0.7" fill="none"/>
<path d="M211.38,21.9 L212.28,22.34 L213.19,22.78 L214.09,22.34 L215,21.9 L215.9,19.31 L216.81,17.73 L217.71,17.64 L218.62,17.56 L219.52,17.47" stroke="#10aa50" stroke-width="0.95" fill="none" stroke-linejoin="round" stroke-linecap="round"/>
<path d="M143.5,70.92 L144.41,70.7 L145.31,70.49 L146.22,70.27 L147.12,70.06 L148.03,69.86 L148.93,69.65 L149.84,69.44 L150.74,69.24 L151.65,69.03 L152.55,68.82 L153.46,68.61 L154.36,68.4 L155.26,68.18 L156.17,67.95 L157.07,67.72 L157.98,67.48 L158.88,67.23 L159.79,66.98 L160.69,66.72 L161.6,66.44 L162.5,66.15 L163.41,65.85 L164.31,65.53 L165.22,65.19 L166.12,64.84 L167.03,64.49 L167.94,64.12 L168.84,63.74 L169.75,63.36 L170.65,62.96 L171.56,62.57 L172.46,62.17 L173.37,61.76 L174.27,61.36 L175.18,60.95 L176.08,60.54 L176.99,60.14 L177.89,59.74 L178.8,59.34 L179.7,58.95 L180.61,58.56 L181.51,58.16 L182.41,57.76 L183.32,57.36 L184.22,56.95 L185.13,56.55 L186.03,56.14 L186.94,55.73 L187.84,55.31 L188.75,54.9 L189.66,54.49 L190.56,54.08 L191.47,53.67 L192.37,53.26 L193.28,52.85 L194.18,52.45 L195.09,52.05 L195.99,51.65 L196.9,51.25 L197.8,50.86 L198.7,50.48 L199.61,50.09 L200.51,49.7 L201.42,49.32 L202.32,48.93 L203.23,48.55 L204.13,48.16 L205.04,47.78 L205.94,47.4 L206.85,47.02 L207.75,46.65 L208.66,46.28 L209.56,45.91 L210.47,45.54 L211.38,45.18 L212.28,44.82 L213.19,44.47 L214.09,44.12 L215,43.77 L215.9,43.43 L216.81,43.09 L217.71,42.75 L218.62,42.42 L219.52,42.08 L220.43,41.74 L221.33,41.41 L222.24,41.08 L223.14,40.75 L224.05,40.42 L224.95,40.1 L225.86,39.79 L226.76,39.48 L227.67,39.17 L228.57,38.87 L229.48,38.58 L230.38,38.29 L231.28,38.02 L232.19,37.75 L233.09,37.49 L234,37.23 L234.91,36.99 L235.81,36.76 L236.72,36.53 L237.62,36.31 L238.53,36.1 L239.43,35.9 L240.34,35.71 L241.24,35.52 L242.14,35.35 L243.05,35.18 L243.95,35.03 L244.86,34.87 L245.76,34.73 L246.67,34.58 L247.57,34.44 L248.48,34.3 L249.38,34.15 L250.29,34.01 L251.19,33.85 L252.1,33.7 L253,33.53 L253.91,33.36 L254.81,33.19 L255.72,33.02 L256.62,32.84 L257.53,32.67 L258.44,32.49 L259.34,32.31 L260.25,32.14 L261.15,31.97 L262.06,31.8 L262.96,31.63 L263.87,31.47 L264.77,31.3 L265.68,31.14 L266.58,30.98 L267.49,30.83 L268.39,30.67 L269.3,30.51 L270.2,30.36 L271.11,30.2 L272.01,30.05 L272.91,29.89 L273.82,29.74 L274.73,29.58 L275.63,29.43 L276.53,29.27" stroke="#90d050" stroke-width="1.3" fill="none" stroke-linejoin="round" stroke-linecap="round"/>
<path d="M143.5,70.92h0M145.31,70.49h0M147.12,70.06h0M148.93,69.65h0M150.74,69.24h0M152.55,68.82h0M154.36,68.4h0M156.17,67.95h0M157.98,67.48h0M159.79,66.98h0M161.6,66.44h0M163.41,65.85h0M165.22,65.19h0M167.03,64.49h0M168.84,63.74h0M170.65,62.96h0M172.46,62.17h0M174.27,61.36h0M176.08,60.54h0M177.89,59.74h0M179.7,58.95h0M181.51,58.16h0M183.32,57.36h0M185.13,56.55h0M186.94,55.73h0M188.75,54.9h0M190.56,54.08h0M192.37,53.26h0M194.18,52.45h0M195.99,51.65h0M197.8,50.86h0M199.61,50.09h0M201.42,49.32h0M203.23,48.55h0M205.04,47.78h0M206.85,47.02h0M208.66,46.28h0M210.47,45.54h0M212.28,44.82h0M214.09,44.12h0M215.9,43.43h0M217.71,42.75h0M219.52,42.08h0M221.33,41.41h0M223.14,40.75h0M224.95,40.1h0M226.76,39.48h0M228.57,38.87h0M230.38,38.29h0M232.19,37.75h0M234,37.23h0M235.81,36.76h0M237.62,36.31h0M239.43,35.9h0M241.24,35.52h0M243.05,35.18h0M244.86,34.87h0M246.67,34.58h0M248.48,34.3h0M250.29,34.01h0M252.1,33.7h0M253.91,33.36h0M255.72,33.02h0M257.53,32.67h0M259.34,32.31h0M261.15,31.97h0M262.96,31.63h0M264.77,31.3h0M266.58,30.98h0M268.39,30.67h0M270.2,30.36h0M272.01,30.05h0M273.82,29.74h0M275.63,29.43h0" stroke="#90d050" stroke-width="1.8" fill="none" stroke-linecap="round"/>
<path d="M276.53,29.27 L277.44,27.09" stroke="#90d050" stroke-width="0.7" fill="none"/>
<path d="M277.44,27.09 L278.35,26.95 L279.25,26.82 L280.15,26.69 L281.06,26.56 L281.97,26.42 L282.87,26.29 L283.77,26.16 L284.68,26.03 L285.59,25.91 L286.49,25.8 L287.39,25.69 L288.3,25.58 L289.21,25.47 L290.11,25.36 L291.01,25.25 L291.92,25.14 L292.83,25.18 L293.73,25.21 L294.63,25.25 L295.54,25.29 L296.44,25.32 L297.35,25.36 L298.25,25.4 L299.16,25.44 L300.06,25.51 L300.97,25.59 L301.88,25.66 L302.78,25.74 L303.69,25.81 L304.59,25.89 L305.5,25.97" stroke="#90d050" stroke-width="1.45" fill="none" stroke-linejoin="round" stroke-linecap="round"/>
<path d="M34.6,158.19 L35.51,157.13 L36.42,156.09 L37.33,155.05 L38.24,154 L39.15,152.95 L40.06,151.88 L40.97,150.77 L41.88,149.63 L42.79,148.45 L43.7,147.21 L44.61,145.94 L45.52,144.65 L46.43,143.35 L47.34,142.04 L48.25,140.73 L49.16,139.45 L50.07,138.17 L50.98,136.9 L51.89,135.62 L52.8,134.34 L53.71,133.07 L54.62,131.79 L55.53,130.53 L56.44,129.26 L57.35,127.98 L58.26,126.67 L59.17,125.37 L60.08,124.1 L60.99,122.9 L61.9,121.8 L62.81,120.62 L63.72,119.47 L64.63,118.75 L65.54,118.76 L66.45,119.19 L67.36,119.76 L68.27,120.49 L69.18,121.47 L70.09,122.54 L71,123.56 L71.91,124.42 L72.82,125.17 L73.73,125.88 L74.64,126.65 L75.55,127.55 L76.46,128.67 L77.37,130.08 L78.28,132.69 L79.19,136.54 L80.1,140.4 L81.01,143.92 L81.92,147.5 L82.83,151.02 L83.74,154.39 L84.65,157.74 L85.56,161.09 L86.47,164.14 L87.38,166.61 L88.29,168.5 L89.2,170.09 L90.11,171.51 L91.02,172.89 L91.93,174.35" stroke="#1572c6" stroke-width="1.3" fill="none" stroke-linejoin="round" stroke-linecap="round"/>
<path d="M34.6,158.19h0M36.42,156.09h0M38.24,154h0M40.06,151.88h0M41.88,149.63h0M43.7,147.21h0M45.52,144.65h0M47.34,142.04h0M49.16,139.45h0M50.98,136.9h0M52.8,134.34h0M54.62,131.79h0M56.44,129.26h0M58.26,126.67h0M60.08,124.1h0M61.9,121.8h0M63.72,119.47h0M65.54,118.76h0M67.36,119.76h0M69.18,121.47h0M71,123.56h0M72.82,125.17h0M74.64,126.65h0M76.46,128.67h0M78.28,132.69h0M80.1,140.4h0M81.92,147.5h0M83.74,154.39h0M85.56,161.09h0M87.38,166.61h0M89.2,170.09h0M91.02,172.89h0" stroke="#1572c6" stroke-width="1.8" fill="none" stroke-linecap="round"/>
<path d="M34.6,167.15 L35.51,166.61 L36.42,166.1 L37.33,165.59 L38.24,165.05 L39.15,164.45 L40.06,163.76 L40.97,162.8 L41.88,161.6 L42.79,160.46 L43.7,159.68 L44.61,159.25 L45.52,158.92 L46.43,158.65 L47.34,158.39 L48.25,158.12 L49.16,157.78 L50.07,157.38 L50.98,156.94 L51.89,156.44 L52.8,155.88 L53.71,155.2 L54.62,154.39 L55.53,153.51 L56.44,152.62 L57.35,151.68 L58.26,150.64 L59.17,149.58 L60.08,148.55 L60.99,147.65 L61.9,146.92 L62.81,146.33 L63.72,145.81 L64.63,145.34 L65.54,144.91 L66.45,144.54 L67.36,144.2 L68.27,143.88 L69.18,143.55 L70.09,143.23 L71,142.94 L71.91,142.68 L72.82,142.48 L73.73,142.35 L74.64,142.3 L75.55,142.35 L76.46,142.5 L77.37,142.72 L78.28,143 L79.19,143.32 L80.1,143.66 L81.01,144.08 L81.92,144.66 L82.83,145.35 L83.74,146.13 L84.65,146.98 L85.56,147.87 L86.47,148.83 L87.38,149.92 L88.29,151.12 L89.2,152.43 L90.11,153.84 L91.02,155.34 L91.93,157.08 L92.84,159.11 L93.75,161.31 L94.66,163.54 L95.57,165.67 L96.48,167.56 L97.39,169.23 L98.3,170.79 L99.21,172.26 L100.12,173.67 L101.03,175.11 L101.94,176.54 L102.85,177.79 L103.76,178.7 L104.67,179.36 L105.58,179.95 L106.49,180.37 L107.4,180.53 L108.31,180.53 L109.22,180.53 L110.13,180.53 L111.04,180.53" stroke="#10aef0" stroke-width="1.3" fill="none" stroke-linejoin="round" stroke-linecap="round"/>
<path d="M34.6,167.15h0M36.42,166.1h0M38.24,165.05h0M40.06,163.76h0M41.88,161.6h0M43.7,159.68h0M45.52,158.92h0M47.34,158.39h0M49.16,157.78h0M50.98,156.94h0M52.8,155.88h0M54.62,154.39h0M56.44,152.62h0M58.26,150.64h0M60.08,148.55h0M61.9,146.92h0M63.72,145.81h0M65.54,144.91h0M67.36,144.2h0M69.18,143.55h0M71,142.94h0M72.82,142.48h0M74.64,142.3h0M76.46,142.5h0M78.28,143h0M80.1,143.66h0M81.92,144.66h0M83.74,146.13h0M85.56,147.87h0M87.38,149.92h0M89.2,152.43h0M91.02,155.34h0M92.84,159.11h0M94.66,163.54h0M96.48,167.56h0M98.3,170.79h0M100.12,173.67h0M101.94,176.54h0M103.76,178.7h0M105.58,179.95h0M107.4,180.53h0M109.22,180.53h0M111.04,180.53h0" stroke="#10aef0" stroke-width="1.8" fill="none" stroke-linecap="round"/>
<path d="M111.04,180.53 L111.95,172.18" stroke="#10aef0" stroke-width="0.7" fill="none"/>
<path d="M111.95,172.18 L112.86,172.56 L113.77,172.94 L114.68,173.32 L115.59,173.7 L116.5,174.08 L117.41,174.64 L118.32,175.21 L119.23,175.78 L120.14,176.34 L121.05,176.91 L121.96,177.47 L122.87,178.02 L123.78,178.56 L124.69,179.1 L125.6,179.65 L126.51,180.19 L127.42,180.73 L128.33,181.28 L129.24,181.82" stroke="#10aef0" stroke-width="1.45" fill="none" stroke-linejoin="round" stroke-linecap="round"/>
<path d="M129.24,181.82 L129.79,181.82" stroke="#10aef0" stroke-width="0.7" fill="none"/>
<path d="M129.79,181.82 L130.73,178.83 L131.67,175.84 L132.62,175.9 L133.56,177.38 L134.5,178.86 L135.44,180.34 L136.39,181.7 L137.33,183.04 L138.27,184.37 L139.22,185.71 L140.16,187.05" stroke="#10aef0" stroke-width="1.45" fill="none" stroke-linejoin="round" stroke-linecap="round"/>
<path d="M143.5,178.63 L144.41,178.2 L145.31,177.83 L146.22,177.45 L147.12,177.03 L148.03,176.51 L148.93,175.84 L149.84,174.7 L150.74,173.01 L151.65,171.1 L152.55,169.33 L153.46,167.73 L154.36,166.13 L155.26,164.55 L156.17,162.99 L157.07,161.45 L157.98,159.95 L158.88,158.46 L159.79,156.97 L160.69,155.57 L161.6,154.32 L162.5,153.19 L163.41,152.09 L164.31,151.03 L165.22,150.01 L166.12,149.04 L167.03,148.13 L167.94,147.28 L168.84,146.49 L169.75,145.78 L170.65,145.15 L171.56,144.58 L172.46,144.03 L173.37,143.52 L174.27,143.04 L175.18,142.58 L176.08,142.16 L176.99,141.78 L177.89,141.42 L178.8,141.1 L179.7,140.81 L180.61,140.53 L181.51,140.24 L182.41,139.97 L183.32,139.72 L184.22,139.5 L185.13,139.33 L186.03,139.22 L186.94,139.18 L187.84,139.37 L188.75,139.91 L189.66,140.68 L190.56,141.6 L191.47,142.58 L192.37,143.52 L193.28,144.47 L194.18,145.51 L195.09,146.64 L195.99,147.87 L196.9,149.18 L197.8,150.58 L198.7,152.13 L199.61,153.86 L200.51,155.74 L201.42,157.72 L202.32,159.77 L203.23,161.86 L204.13,164.13 L205.04,166.59 L205.94,169.01 L206.85,171.16 L207.75,172.96 L208.66,174.59 L209.56,176.15 L210.47,177.74" stroke="#10aa50" stroke-width="1.3" fill="none" stroke-linejoin="round" stroke-linecap="round"/>
<path d="M143.5,178.63h0M145.31,177.83h0M147.12,177.03h0M148.93,175.84h0M150.74,173.01h0M152.55,169.33h0M154.36,166.13h0M156.17,162.99h0M157.98,159.95h0M159.79,156.97h0M161.6,154.32h0M163.41,152.09h0M165.22,150.01h0M167.03,148.13h0M168.84,146.49h0M170.65,145.15h0M172.46,144.03h0M174.27,143.04h0M176.08,142.16h0M177.89,141.42h0M179.7,140.81h0M181.51,140.24h0M183.32,139.72h0M185.13,139.33h0M186.94,139.18h0M188.75,139.91h0M190.56,141.6h0M192.37,143.52h0M194.18,145.51h0M195.99,147.87h0M197.8,150.58h0M199.61,153.86h0M201.42,157.72h0M203.23,161.86h0M205.04,166.59h0M206.85,171.16h0M208.66,174.59h0M210.47,177.74h0" stroke="#10aa50" stroke-width="1.8" fill="none" stroke-linecap="round"/>
<path d="M210.47,177.74 L210.47,177.74" stroke="#10aa50" stroke-width="0.7" fill="none"/>
<path d="M210.47,177.74 L211.38,178.9 L212.28,180.05 L213.19,181.21 L214.09,182.36 L215,183.77 L215.9,185.18 L216.81,186.59 L217.71,188 L218.62,188.44 L219.52,188.88" stroke="#10aa50" stroke-width="0.95" fill="none" stroke-linejoin="round" stroke-linecap="round"/>
<path d="M143.5,178.97 L144.4,178.65 L145.3,178.33 L146.2,178.01 L147.11,177.69 L148.01,177.36 L148.91,177.05 L149.81,176.73 L150.71,176.43 L151.61,176.13 L152.52,175.85 L153.42,175.59 L154.32,175.33 L155.22,175.08 L156.12,174.84 L157.02,174.61 L157.93,174.37 L158.83,174.14 L159.73,173.9 L160.63,173.66 L161.53,173.42 L162.43,173.16 L163.34,172.88 L164.24,172.6 L165.14,172.31 L166.04,172.02 L166.94,171.74 L167.84,171.48 L168.75,171.24 L169.65,171.02 L170.55,170.84 L171.45,170.69 L172.35,170.56 L173.25,170.46 L174.15,170.36 L175.06,170.27 L175.96,170.18 L176.86,170.09 L177.76,169.98 L178.66,169.85 L179.56,169.69 L180.47,169.46 L181.37,169.1 L182.27,168.65 L183.17,168.17 L184.07,167.71 L184.97,167.31 L185.88,167.02 L186.78,166.88 L187.68,166.98 L188.58,167.33 L189.48,167.8 L190.38,168.3 L191.29,168.71 L192.19,168.91 L193.09,168.87 L193.99,168.7 L194.89,168.44 L195.79,168.13 L196.7,167.8 L197.6,167.49 L198.5,167.17 L199.4,166.78 L200.3,166.36 L201.2,165.97 L202.11,165.68 L203.01,165.53 L203.91,165.54 L204.81,165.63 L205.71,165.77 L206.61,165.95 L207.51,166.15 L208.42,166.38 L209.32,166.61 L210.22,166.82 L211.12,167.03 L212.02,167.27 L212.92,167.52 L213.83,167.78 L214.73,168.04 L215.63,168.3 L216.53,168.55 L217.43,168.79 L218.33,169.04 L219.24,169.29 L220.14,169.54 L221.04,169.79 L221.94,170.03 L222.84,170.27 L223.74,170.51 L224.65,170.74 L225.55,170.97 L226.45,171.18 L227.35,171.37 L228.25,171.56 L229.15,171.75 L230.06,171.95 L230.96,172.15 L231.86,172.37 L232.76,172.62 L233.66,172.88 L234.56,173.19 L235.46,173.57 L236.37,173.99 L237.27,174.45 L238.17,174.93 L239.07,175.4 L239.97,175.84" stroke="#90d050" stroke-width="1.3" fill="none" stroke-linejoin="round" stroke-linecap="round"/>
<path d="M143.5,178.97h0M145.31,178.33h0M147.12,177.68h0M148.93,177.04h0M150.74,176.42h0M152.55,175.84h0M154.36,175.32h0M156.17,174.83h0M157.98,174.36h0M159.79,173.89h0M161.6,173.4h0M163.41,172.86h0M165.22,172.28h0M167.03,171.72h0M168.84,171.21h0M170.65,170.82h0M172.46,170.55h0M174.27,170.35h0M176.08,170.17h0M177.89,169.96h0M179.7,169.66h0M181.51,169.03h0M183.32,168.1h0M185.13,167.25h0M186.94,166.88h0M188.75,167.41h0M190.56,168.39h0M192.37,168.92h0M194.18,168.65h0M195.99,168.06h0M197.8,167.42h0M199.61,166.68h0M201.42,165.89h0M203.23,165.52h0M205.04,165.66h0M206.85,166h0M208.66,166.44h0M210.47,166.88h0M212.28,167.34h0M214.09,167.86h0M215.9,168.37h0M217.71,168.87h0M219.52,169.37h0M221.33,169.86h0M223.14,170.35h0M224.95,170.82h0M226.76,171.24h0M228.57,171.63h0M230.38,172.02h0M232.19,172.46h0M234,172.99h0M235.81,173.72h0M237.62,174.64h0M239.43,175.58h0" stroke="#90d050" stroke-width="1.8" fill="none" stroke-linecap="round"/>
<path d="M239.97,175.84 L241.24,173.4" stroke="#90d050" stroke-width="0.7" fill="none"/>
<path d="M241.24,173.4 L242.14,173.52 L243.05,173.63 L243.95,173.75 L244.86,173.87 L245.76,173.99 L246.67,174.11 L247.57,174.23 L248.48,174.35 L249.38,174.47 L250.29,174.6 L251.19,174.72 L252.1,174.84 L253,174.96 L253.91,175.09 L254.81,175.22 L255.72,175.35 L256.62,175.49 L257.53,175.63 L258.44,175.78 L259.34,175.94 L260.25,176.1 L261.15,176.27 L262.06,176.45 L262.96,176.63 L263.87,176.83 L264.77,177.03 L265.68,177.25 L266.58,177.47 L267.49,177.72 L268.39,177.99 L269.3,178.28 L270.2,178.58 L271.11,178.9 L272.01,179.23 L272.91,179.56 L273.82,179.9 L274.73,180.23 L275.63,180.55 L276.53,180.87" stroke="#90d050" stroke-width="1.3" fill="none" stroke-linejoin="round" stroke-linecap="round"/>
<path d="M241.24,173.4h0M243.05,173.63h0M244.86,173.87h0M246.67,174.11h0M248.48,174.35h0M250.29,174.6h0M252.1,174.84h0M253.91,175.09h0M255.72,175.35h0M257.53,175.63h0M259.34,175.94h0M261.15,176.27h0M262.96,176.63h0M264.77,177.03h0M266.58,177.47h0M268.39,177.99h0M270.2,178.58h0M272.01,179.23h0M273.82,179.9h0M275.63,180.55h0" stroke="#90d050" stroke-width="1.8" fill="none" stroke-linecap="round"/>
<path d="M276.53,180.87 L277.44,177.74" stroke="#90d050" stroke-width="0.7" fill="none"/>
<path d="M277.44,177.74 L278.35,178.09 L279.25,178.43 L280.15,178.78 L281.06,179.12 L281.97,179.47 L282.87,179.81 L283.77,180.16 L284.68,180.5 L285.59,181.02 L286.49,181.53 L287.39,182.04 L288.3,182.56 L289.21,183.07 L290.11,183.58 L291.01,184.08 L291.92,184.57 L292.83,185.07 L293.73,185.56 L294.63,186.06 L295.54,186.55 L296.44,187.05 L297.35,187.18 L298.25,187.3 L299.16,187.43 L300.06,187.56 L300.97,187.69 L301.88,187.82 L302.78,187.95 L303.69,188.08 L304.59,188.21 L305.5,188.34" stroke="#90d050" stroke-width="1.45" fill="none" stroke-linejoin="round" stroke-linecap="round"/>
<path d="M34.6,258.49 L35.51,258.65 L36.42,258.82 L37.33,258.98 L38.24,259.15 L39.15,259.31 L40.06,259.46 L40.97,259.58 L41.88,259.68 L42.79,259.76 L43.7,259.85 L44.61,259.92 L45.52,259.98 L46.43,260.02 L47.34,260.03 L48.25,259.99 L49.16,259.87 L50.07,259.68 L50.98,259.44 L51.89,259.16 L52.8,258.86 L53.71,258.54 L54.62,258.23 L55.53,257.93 L56.44,257.66 L57.35,257.42 L58.26,257.18 L59.17,256.94 L60.08,256.69 L60.99,256.42 L61.9,256.12 L62.81,255.8 L63.72,255.45 L64.63,255.08 L65.54,254.67 L66.45,254.23 L67.36,253.75 L68.27,253.23 L69.18,252.65 L70.09,252.01 L71,251.33 L71.91,250.6 L72.82,249.83 L73.73,249.03 L74.64,248.18 L75.55,247.27 L76.46,246.25 L77.37,245.15 L78.28,244.01 L79.19,242.84 L80.1,241.67 L81.01,240.47 L81.92,239.21 L82.83,237.92 L83.74,236.64 L84.65,235.39 L85.56,234.2 L86.47,233.09 L87.38,232.01 L88.29,230.96 L89.2,229.94 L90.11,228.92 L91.02,227.89 L91.93,226.85" stroke="#1572c6" stroke-width="1.3" fill="none" stroke-linejoin="round" stroke-linecap="round"/>
<path d="M34.6,258.49h0M36.42,258.82h0M38.24,259.15h0M40.06,259.46h0M41.88,259.68h0M43.7,259.85h0M45.52,259.98h0M47.34,260.03h0M49.16,259.87h0M50.98,259.44h0M52.8,258.86h0M54.62,258.23h0M56.44,257.66h0M58.26,257.18h0M60.08,256.69h0M61.9,256.12h0M63.72,255.45h0M65.54,254.67h0M67.36,253.75h0M69.18,252.65h0M71,251.33h0M72.82,249.83h0M74.64,248.18h0M76.46,246.25h0M78.28,244.01h0M80.1,241.67h0M81.92,239.21h0M83.74,236.64h0M85.56,234.2h0M87.38,232.01h0M89.2,229.94h0M91.02,227.89h0" stroke="#1572c6" stroke-width="1.8" fill="none" stroke-linecap="round"/>
<path d="M34.6,259.09 L35.51,259.21 L36.42,259.34 L37.33,259.47 L38.24,259.6 L39.15,259.73 L40.06,259.84 L40.97,259.95 L41.88,260.03 L42.79,260.12 L43.7,260.2 L44.61,260.27 L45.52,260.33 L46.43,260.37 L47.34,260.39 L48.25,260.36 L49.16,260.29 L50.07,260.18 L50.98,260.03 L51.89,259.86 L52.8,259.67 L53.71,259.47 L54.62,259.26 L55.53,259.05 L56.44,258.85 L57.35,258.65 L58.26,258.44 L59.17,258.21 L60.08,257.97 L60.99,257.72 L61.9,257.45 L62.81,257.18 L63.72,256.89 L64.63,256.6 L65.54,256.29 L66.45,255.98 L67.36,255.65 L68.27,255.31 L69.18,254.93 L70.09,254.54 L71,254.12 L71.91,253.69 L72.82,253.25 L73.73,252.79 L74.64,252.33 L75.55,251.87 L76.46,251.39 L77.37,250.9 L78.28,250.39 L79.19,249.87 L80.1,249.33 L81.01,248.77 L81.92,248.18 L82.83,247.58 L83.74,246.95 L84.65,246.29 L85.56,245.61 L86.47,244.9 L87.38,244.16 L88.29,243.4 L89.2,242.62 L90.11,241.77 L91.02,240.84 L91.93,239.87 L92.84,238.89 L93.75,237.94 L94.66,237.05 L95.57,236.19 L96.48,235.35 L97.39,234.53 L98.3,233.74 L99.21,233 L100.12,232.31 L101.03,231.59 L101.94,230.83 L102.85,230.15 L103.76,229.65 L104.67,229.46 L105.58,229.95 L106.49,230.87 L107.4,231.36 L108.31,231.25 L109.22,231 L110.13,230.69 L111.04,230.41" stroke="#10aef0" stroke-width="1.3" fill="none" stroke-linejoin="round" stroke-linecap="round"/>
<path d="M34.6,259.09h0M36.42,259.34h0M38.24,259.6h0M40.06,259.84h0M41.88,260.03h0M43.7,260.2h0M45.52,260.33h0M47.34,260.39h0M49.16,260.29h0M50.98,260.03h0M52.8,259.67h0M54.62,259.26h0M56.44,258.85h0M58.26,258.44h0M60.08,257.97h0M61.9,257.45h0M63.72,256.89h0M65.54,256.29h0M67.36,255.65h0M69.18,254.93h0M71,254.12h0M72.82,253.25h0M74.64,252.33h0M76.46,251.39h0M78.28,250.39h0M80.1,249.33h0M81.92,248.18h0M83.74,246.95h0M85.56,245.61h0M87.38,244.16h0M89.2,242.62h0M91.02,240.84h0M92.84,238.89h0M94.66,237.05h0M96.48,235.35h0M98.3,233.74h0M100.12,232.31h0M101.94,230.83h0M103.76,229.65h0M105.58,229.95h0M107.4,231.36h0M109.22,231h0M111.04,230.41h0" stroke="#10aef0" stroke-width="1.8" fill="none" stroke-linecap="round"/>
<path d="M111.04,230.41 L111.95,237.88" stroke="#10aef0" stroke-width="0.7" fill="none"/>
<path d="M111.95,237.88 L112.86,237.05 L113.77,236.22 L114.68,235.39 L115.59,234.56 L116.5,233.73 L117.41,232.9 L118.32,232.07 L119.23,231.24 L120.14,230.41 L121.05,229.6 L121.96,228.8 L122.87,227.99 L123.78,227.19 L124.69,226.38 L125.6,225.58 L126.51,224.77 L127.42,223.96 L128.33,223.16 L129.24,222.35" stroke="#10aef0" stroke-width="1.45" fill="none" stroke-linejoin="round" stroke-linecap="round"/>
<path d="M129.24,222.35 L131.06,226.62" stroke="#10aef0" stroke-width="0.7" fill="none"/>
<path d="M131.06,226.62 L131.97,226.05 L132.88,225.48 L133.79,224.91 L134.7,224.34 L135.61,223.77 L136.52,223.21 L137.43,222.64 L138.34,222.07 L139.25,221.5 L140.16,220.93" stroke="#10aef0" stroke-width="1.45" fill="none" stroke-linejoin="round" stroke-linecap="round"/>
<path d="M143.5,282.08 L144.41,282.35 L145.31,282.62 L146.22,282.88 L147.12,283.14 L148.03,283.41 L148.93,283.68 L149.84,283.96 L150.74,284.26 L151.65,284.58 L152.55,284.92 L153.46,285.31 L154.36,285.77 L155.26,286.25 L156.17,286.74 L157.07,287.21 L157.98,287.65 L158.88,288.06 L159.79,288.5 L160.69,288.94 L161.6,289.36 L162.5,289.74 L163.41,290.07 L164.31,290.33 L165.22,290.49 L166.12,290.59 L167.03,290.68 L167.94,290.76 L168.84,290.83 L169.75,290.89 L170.65,290.94 L171.56,290.99 L172.46,291.04 L173.37,291.08 L174.27,291.12 L175.18,291.16 L176.08,291.21 L176.99,291.25 L177.89,291.31 L178.8,291.37 L179.7,291.44 L180.61,291.52 L181.51,291.63 L182.41,291.75 L183.32,291.88 L184.22,292 L185.13,292.12 L186.03,292.23 L186.94,292.31 L187.84,292.37 L188.75,292.39 L189.66,292.38 L190.56,292.37 L191.47,292.35 L192.37,292.33 L193.28,292.3 L194.18,292.26 L195.09,292.21 L195.99,292.16 L196.9,292.1 L197.8,292.03 L198.7,291.81 L199.61,291.35 L200.51,290.73 L201.42,290.01 L202.32,289.27 L203.23,288.59 L204.13,287.96 L205.04,287.31 L205.94,286.62 L206.85,285.87 L207.75,285.01 L208.66,284.05 L209.56,283.05 L210.47,282.08" stroke="#10aa50" stroke-width="1.3" fill="none" stroke-linejoin="round" stroke-linecap="round"/>
<path d="M143.5,282.08h0M145.31,282.62h0M147.12,283.14h0M148.93,283.68h0M150.74,284.26h0M152.55,284.92h0M154.36,285.77h0M156.17,286.74h0M157.98,287.65h0M159.79,288.5h0M161.6,289.36h0M163.41,290.07h0M165.22,290.49h0M167.03,290.68h0M168.84,290.83h0M170.65,290.94h0M172.46,291.04h0M174.27,291.12h0M176.08,291.21h0M177.89,291.31h0M179.7,291.44h0M181.51,291.63h0M183.32,291.88h0M185.13,292.12h0M186.94,292.31h0M188.75,292.39h0M190.56,292.37h0M192.37,292.33h0M194.18,292.26h0M195.99,292.16h0M197.8,292.03h0M199.61,291.35h0M201.42,290.01h0M203.23,288.59h0M205.04,287.31h0M206.85,285.87h0M208.66,284.05h0M210.47,282.08h0" stroke="#10aa50" stroke-width="1.8" fill="none" stroke-linecap="round"/>
<path d="M210.47,282.08 L210.47,282.08" stroke="#10aa50" stroke-width="0.7" fill="none"/>
<path d="M210.47,282.08 L211.38,280.54 L212.28,279 L213.19,277.45 L214.09,275.38 L215,273.31 L215.9,273.96 L216.81,274.61 L217.71,273.7 L218.62,272.79 L219.52,271.88" stroke="#10aa50" stroke-width="0.95" fill="none" stroke-linejoin="round" stroke-linecap="round"/>
<path d="M143.5,287.17 L144.4,287.24 L145.3,287.32 L146.2,287.39 L147.11,287.47 L148.01,287.54 L148.91,287.62 L149.81,287.7 L150.71,287.77 L151.61,287.85 L152.52,287.93 L153.42,288 L154.32,288.08 L155.22,288.15 L156.12,288.22 L157.02,288.29 L157.93,288.35 L158.83,288.42 L159.73,288.48 L160.63,288.54 L161.53,288.59 L162.43,288.64 L163.34,288.7 L164.24,288.76 L165.14,288.81 L166.04,288.87 L166.94,288.92 L167.84,288.98 L168.75,289.02 L169.65,289.07 L170.55,289.11 L171.45,289.14 L172.35,289.16 L173.25,289.18 L174.15,289.19 L175.06,289.18 L175.96,289.16 L176.86,289.13 L177.76,289.09 L178.66,289.03 L179.56,288.97 L180.47,288.9 L181.37,288.82 L182.27,288.74 L183.17,288.66 L184.07,288.57 L184.97,288.48 L185.88,288.39 L186.78,288.3 L187.68,288.22 L188.58,288.13 L189.48,288.05 L190.38,287.97 L191.29,287.88 L192.19,287.78 L193.09,287.68 L193.99,287.59 L194.89,287.49 L195.79,287.39 L196.7,287.29 L197.6,287.19 L198.5,287.1 L199.4,287.01 L200.3,286.93 L201.2,286.85 L202.11,286.77 L203.01,286.69 L203.91,286.61 L204.81,286.52 L205.71,286.44 L206.61,286.35 L207.51,286.25 L208.42,286.14 L209.32,286.03 L210.22,285.9 L211.12,285.77 L212.02,285.61 L212.92,285.43 L213.83,285.24 L214.73,285.03 L215.63,284.8 L216.53,284.56 L217.43,284.31 L218.33,284.06 L219.24,283.79 L220.14,283.53 L221.04,283.25 L221.94,282.98 L222.84,282.71 L223.74,282.43 L224.65,282.17 L225.55,281.9 L226.45,281.63 L227.35,281.35 L228.25,281.06 L229.15,280.77 L230.06,280.47 L230.96,280.17 L231.86,279.87 L232.76,279.56 L233.66,279.25 L234.56,278.94 L235.46,278.63 L236.37,278.32 L237.27,278.01 L238.17,277.7 L239.07,277.4 L239.97,277.1" stroke="#90d050" stroke-width="1.3" fill="none" stroke-linejoin="round" stroke-linecap="round"/>
<path d="M143.5,287.17h0M145.31,287.32h0M147.12,287.47h0M148.93,287.62h0M150.74,287.78h0M152.55,287.93h0M154.36,288.08h0M156.17,288.22h0M157.98,288.36h0M159.79,288.48h0M161.6,288.59h0M163.41,288.7h0M165.22,288.82h0M167.03,288.93h0M168.84,289.03h0M170.65,289.11h0M172.46,289.17h0M174.27,289.19h0M176.08,289.16h0M177.89,289.08h0M179.7,288.96h0M181.51,288.81h0M183.32,288.64h0M185.13,288.46h0M186.94,288.29h0M188.75,288.12h0M190.56,287.95h0M192.37,287.76h0M194.18,287.56h0M195.99,287.37h0M197.8,287.17h0M199.61,286.99h0M201.42,286.83h0M203.23,286.67h0M205.04,286.5h0M206.85,286.32h0M208.66,286.11h0M210.47,285.87h0M212.28,285.56h0M214.09,285.18h0M215.9,284.73h0M217.71,284.24h0M219.52,283.71h0M221.33,283.16h0M223.14,282.62h0M224.95,282.08h0M226.76,281.53h0M228.57,280.96h0M230.38,280.36h0M232.19,279.75h0M234,279.13h0M235.81,278.51h0M237.62,277.89h0M239.43,277.28h0" stroke="#90d050" stroke-width="1.8" fill="none" stroke-linecap="round"/>
<path d="M239.97,277.1 L241.24,279.23" stroke="#90d050" stroke-width="0.7" fill="none"/>
<path d="M241.24,279.23 L242.14,278.97 L243.05,278.7 L243.95,278.44 L244.86,278.18 L245.76,277.92 L246.67,277.65 L247.57,277.38 L248.48,277.1 L249.38,276.82 L250.29,276.54 L251.19,276.26 L252.1,275.97 L253,275.68 L253.91,275.39 L254.81,275.09 L255.72,274.78 L256.62,274.47 L257.53,274.14 L258.44,273.8 L259.34,273.45 L260.25,273.08 L261.15,272.69 L262.06,272.28 L262.96,271.86 L263.87,271.44 L264.77,271 L265.68,270.56 L266.58,270.11 L267.49,269.65 L268.39,269.18 L269.3,268.69 L270.2,268.2 L271.11,267.7 L272.01,267.19 L272.91,266.68 L273.82,266.17 L274.73,265.66 L275.63,265.16 L276.53,264.66" stroke="#90d050" stroke-width="1.3" fill="none" stroke-linejoin="round" stroke-linecap="round"/>
<path d="M241.24,279.23h0M243.05,278.7h0M244.86,278.18h0M246.67,277.65h0M248.48,277.1h0M250.29,276.54h0M252.1,275.97h0M253.91,275.39h0M255.72,274.78h0M257.53,274.14h0M259.34,273.45h0M261.15,272.69h0M262.96,271.86h0M264.77,271h0M266.58,270.11h0M268.39,269.18h0M270.2,268.2h0M272.01,267.19h0M273.82,266.17h0M275.63,265.16h0" stroke="#90d050" stroke-width="1.8" fill="none" stroke-linecap="round"/>
<path d="M276.53,264.66 L277.44,270.46" stroke="#90d050" stroke-width="0.7" fill="none"/>
<path d="M277.44,270.46 L278.35,269.89 L279.25,269.33 L280.15,268.76 L281.06,268.19 L281.97,267.62 L282.87,267.05 L283.77,266.48 L284.68,265.91 L285.59,265.34 L286.49,264.77 L287.39,264.18 L288.3,263.59 L289.21,263 L290.11,262.4 L291.01,261.81 L291.92,261.22 L292.83,260.63 L293.73,260.03 L294.63,259.44 L295.54,259.37 L296.44,260.08 L297.35,260.26 L298.25,259.63 L299.16,259 L300.06,258.37 L300.97,257.74 L301.88,257.11 L302.78,256.47 L303.69,255.84 L304.59,255.21 L305.5,254.58" stroke="#90d050" stroke-width="1.45" fill="none" stroke-linejoin="round" stroke-linecap="round"/>
<path d="M34.6,352.28 L35.51,351.07 L36.42,349.83 L37.33,348.57 L38.24,347.32 L39.15,346.07 L40.06,344.84 L40.97,343.64 L41.88,342.48 L42.79,341.38 L43.7,340.34 L44.61,339.39 L45.52,338.52 L46.43,337.72 L47.34,336.94 L48.25,336.19 L49.16,335.42 L50.07,334.61 L50.98,333.75 L51.89,332.8 L52.8,331.75 L53.71,330.56 L54.62,329.23 L55.53,327.73 L56.44,326.01 L57.35,323.67 L58.26,320.76 L59.17,317.97 L60.08,315.99 L60.99,314.73 L61.9,313.64 L62.81,312.71 L63.72,311.92 L64.63,311.26 L65.54,310.74 L66.45,310.27 L67.36,309.82 L68.27,309.43 L69.18,309.11 L70.09,308.9 L71,308.82 L71.91,309.12 L72.82,309.84 L73.73,310.77 L74.64,311.69 L75.55,312.58 L76.46,313.56 L77.37,314.6 L78.28,315.69 L79.19,316.8 L80.1,317.9 L81.01,318.91 L81.92,319.84 L82.83,320.85 L83.74,322.07 L84.65,323.63 L85.56,326.29 L86.47,330 L87.38,333.65 L88.29,336.76 L89.2,339.81 L90.11,343.2 L91.02,347.35 L91.93,351.8" stroke="#1572c6" stroke-width="1.3" fill="none" stroke-linejoin="round" stroke-linecap="round"/>
<path d="M34.6,352.28h0M36.42,349.83h0M38.24,347.32h0M40.06,344.84h0M41.88,342.48h0M43.7,340.34h0M45.52,338.52h0M47.34,336.94h0M49.16,335.42h0M50.98,333.75h0M52.8,331.75h0M54.62,329.23h0M56.44,326.01h0M58.26,320.76h0M60.08,315.99h0M61.9,313.64h0M63.72,311.92h0M65.54,310.74h0M67.36,309.82h0M69.18,309.11h0M71,308.82h0M72.82,309.84h0M74.64,311.69h0M76.46,313.56h0M78.28,315.69h0M80.1,317.9h0M81.92,319.84h0M83.74,322.07h0M85.56,326.29h0M87.38,333.65h0M89.2,339.81h0M91.02,347.35h0" stroke="#1572c6" stroke-width="1.8" fill="none" stroke-linecap="round"/>
<path d="M34.6,352.75 L35.51,351.89 L36.42,351.01 L37.33,350.13 L38.24,349.24 L39.15,348.36 L40.06,347.49 L40.97,346.62 L41.88,345.78 L42.79,344.96 L43.7,344.16 L44.61,343.38 L45.52,342.62 L46.43,341.87 L47.34,341.12 L48.25,340.4 L49.16,339.69 L50.07,338.99 L50.98,338.31 L51.89,337.64 L52.8,337 L53.71,336.38 L54.62,335.8 L55.53,335.25 L56.44,334.71 L57.35,334.18 L58.26,333.65 L59.17,333.1 L60.08,332.52 L60.99,331.92 L61.9,331.27 L62.81,330.53 L63.72,329.69 L64.63,328.82 L65.54,327.96 L66.45,327.17 L67.36,326.49 L68.27,325.88 L69.18,325.27 L70.09,324.69 L71,324.2 L71.91,323.83 L72.82,323.63 L73.73,323.52 L74.64,323.43 L75.55,323.35 L76.46,323.28 L77.37,323.22 L78.28,323.18 L79.19,323.16 L80.1,323.15 L81.01,323.17 L81.92,323.21 L82.83,323.28 L83.74,323.38 L84.65,323.49 L85.56,323.63 L86.47,323.89 L87.38,324.35 L88.29,324.98 L89.2,325.74 L90.11,326.57 L91.02,327.45 L91.93,328.52 L92.84,329.89 L93.75,331.45 L94.66,333.07 L95.57,334.64 L96.48,336.04 L97.39,337.43 L98.3,338.93 L99.21,340.38 L100.12,341.64 L101.03,342.56 L101.94,342.97 L102.85,343.04 L103.76,343.07 L104.67,343.12 L105.58,343.2 L106.49,344.91 L107.4,347.02 L108.31,347.83 L109.22,348.4 L110.13,348.88 L111.04,349.41" stroke="#10aef0" stroke-width="1.3" fill="none" stroke-linejoin="round" stroke-linecap="round"/>
<path d="M34.6,352.75h0M36.42,351.01h0M38.24,349.24h0M40.06,347.49h0M41.88,345.78h0M43.7,344.16h0M45.52,342.62h0M47.34,341.12h0M49.16,339.69h0M50.98,338.31h0M52.8,337h0M54.62,335.8h0M56.44,334.71h0M58.26,333.65h0M60.08,332.52h0M61.9,331.27h0M63.72,329.69h0M65.54,327.96h0M67.36,326.49h0M69.18,325.27h0M71,324.2h0M72.82,323.63h0M74.64,323.43h0M76.46,323.28h0M78.28,323.18h0M80.1,323.15h0M81.92,323.21h0M83.74,323.38h0M85.56,323.63h0M87.38,324.35h0M89.2,325.74h0M91.02,327.45h0M92.84,329.89h0M94.66,333.07h0M96.48,336.04h0M98.3,338.93h0M100.12,341.64h0M101.94,342.97h0M103.76,343.07h0M105.58,343.2h0M107.4,347.02h0M109.22,348.4h0M111.04,349.41h0" stroke="#10aef0" stroke-width="1.8" fill="none" stroke-linecap="round"/>
<path d="M111.04,349.41 L111.95,343.2" stroke="#10aef0" stroke-width="0.7" fill="none"/>
<path d="M111.95,343.2 L112.86,343.63 L113.77,344.05 L114.68,344.48 L115.59,344.9 L116.5,345.33 L117.41,345.75 L118.32,346.18 L119.23,346.6 L120.14,347.02 L121.05,347.5 L121.96,347.98 L122.87,348.46 L123.78,348.94 L124.69,349.41 L125.6,349.89 L126.51,350.96 L127.42,352.04 L128.33,353.11 L129.24,354.19 L130.15,354.51 L131.06,354.82 L131.97,355.14 L132.88,355.46 L133.79,355.78 L134.7,356.1 L135.61,356.97 L136.52,357.85 L137.43,358.72 L138.34,359.6 L139.25,360.47 L140.16,361.35" stroke="#10aef0" stroke-width="1.45" fill="none" stroke-linejoin="round" stroke-linecap="round"/>
<path d="M143.5,389.05 L144.41,389.03 L145.31,389.02 L146.22,389.01 L147.12,389 L148.03,388.99 L148.93,388.97 L149.84,388.96 L150.74,388.95 L151.65,388.94 L152.55,388.93 L153.46,388.91 L154.36,388.9 L155.26,388.89 L156.17,388.88 L157.07,388.87 L157.98,388.85 L158.88,388.84 L159.79,388.83 L160.69,388.82 L161.6,388.81 L162.5,388.79 L163.41,388.78 L164.31,388.77 L165.22,388.76 L166.12,388.75 L167.03,388.74 L167.94,388.73 L168.84,388.72 L169.75,388.72 L170.65,388.71 L171.56,388.69 L172.46,388.68 L173.37,388.67 L174.27,388.66 L175.18,388.65 L176.08,388.63 L176.99,388.62 L177.89,388.6 L178.8,388.59 L179.7,388.57 L180.61,388.55 L181.51,388.52 L182.41,388.49 L183.32,388.45 L184.22,388.41 L185.13,388.37 L186.03,388.33 L186.94,388.28 L187.84,388.24 L188.75,388.19 L189.66,388.14 L190.56,388.09 L191.47,388.04 L192.37,387.97 L193.28,387.9 L194.18,387.83 L195.09,387.77 L195.99,387.7 L196.9,387.65 L197.8,387.61 L198.7,387.58 L199.61,387.55 L200.51,387.52 L201.42,387.5 L202.32,387.47 L203.23,387.45 L204.13,387.43 L205.04,387.41 L205.94,387.39 L206.85,387.38 L207.75,387.38 L208.66,387.37 L209.56,387.46 L210.47,387.61" stroke="#10aa50" stroke-width="1.3" fill="none" stroke-linejoin="round" stroke-linecap="round"/>
<path d="M143.5,389.05h0M145.31,389.02h0M147.12,389h0M148.93,388.97h0M150.74,388.95h0M152.55,388.93h0M154.36,388.9h0M156.17,388.88h0M157.98,388.85h0M159.79,388.83h0M161.6,388.81h0M163.41,388.78h0M165.22,388.76h0M167.03,388.74h0M168.84,388.72h0M170.65,388.71h0M172.46,388.68h0M174.27,388.66h0M176.08,388.63h0M177.89,388.6h0M179.7,388.57h0M181.51,388.52h0M183.32,388.45h0M185.13,388.37h0M186.94,388.28h0M188.75,388.19h0M190.56,388.09h0M192.37,387.97h0M194.18,387.83h0M195.99,387.7h0M197.8,387.61h0M199.61,387.55h0M201.42,387.5h0M203.23,387.45h0M205.04,387.41h0M206.85,387.38h0M208.66,387.37h0M210.47,387.61h0" stroke="#10aa50" stroke-width="1.8" fill="none" stroke-linecap="round"/>
<path d="M210.47,387.61 L210.47,387.61" stroke="#10aa50" stroke-width="0.7" fill="none"/>
<path d="M210.47,387.61 L211.38,387.91 L212.28,388.21 L213.19,388.51 L214.09,388.81 L215,388.85 L215.9,388.89 L216.81,388.93 L217.71,388.97 L218.62,389.01 L219.52,389.05" stroke="#10aa50" stroke-width="0.95" fill="none" stroke-linejoin="round" stroke-linecap="round"/>
<path d="M143.5,388.81 L144.41,388.82 L145.31,388.83 L146.22,388.85 L147.12,388.86 L148.03,388.88 L148.93,388.89 L149.84,388.91 L150.74,388.92 L151.65,388.94 L152.55,388.96 L153.46,388.97 L154.36,388.98 L155.26,389 L156.17,389.01 L157.07,389.02 L157.98,389.03 L158.88,389.04 L159.79,389.04 L160.69,389.04 L161.6,389.05 L162.5,389.05 L163.41,389.05 L164.31,389.05 L165.22,389.05 L166.12,389.05 L167.03,389.05 L167.94,389.05 L168.84,389.05 L169.75,389.05 L170.65,389.05 L171.56,389.05 L172.46,389.05 L173.37,389.05 L174.27,389.05 L175.18,389.05 L176.08,389.05 L176.99,389.05 L177.89,389.05 L178.8,389.05 L179.7,389.05 L180.61,389.04 L181.51,389.04 L182.41,389.03 L183.32,389.02 L184.22,389.01 L185.13,388.99 L186.03,388.98 L186.94,388.96 L187.84,388.94 L188.75,388.93 L189.66,388.91 L190.56,388.89 L191.47,388.87 L192.37,388.86 L193.28,388.84 L194.18,388.83 L195.09,388.82 L195.99,388.81 L196.9,388.81 L197.8,388.81 L198.7,388.81 L199.61,388.81 L200.51,388.82 L201.42,388.83 L202.32,388.84 L203.23,388.86 L204.13,388.87 L205.04,388.89 L205.94,388.91 L206.85,388.93 L207.75,388.94 L208.66,388.96 L209.56,388.98 L210.47,388.99 L211.38,389.01 L212.28,389.02 L213.19,389.03 L214.09,389.04 L215,389.04 L215.9,389.05 L216.81,389.04 L217.71,389.02 L218.62,389 L219.52,388.96 L220.43,388.92 L221.33,388.88 L222.24,388.83 L223.14,388.78 L224.05,388.72 L224.95,388.67 L225.86,388.62 L226.76,388.57 L227.67,388.52 L228.57,388.46 L229.48,388.39 L230.38,388.33 L231.28,388.26 L232.19,388.2 L233.09,388.14 L234,388.09 L234.91,388.04 L235.81,388 L236.72,387.96 L237.62,387.92 L238.53,387.89 L239.43,387.85 L240.34,387.82 L241.24,387.78 L242.14,387.74 L243.05,387.7 L243.95,387.66 L244.86,387.61 L245.76,387.56 L246.67,387.5 L247.57,387.44 L248.48,387.37 L249.38,387.31 L250.29,387.24 L251.19,387.19 L252.1,387.13 L253,387.08 L253.91,387.03 L254.81,386.98 L255.72,386.94 L256.62,386.91 L257.53,386.9 L258.44,388.57 L259.34,388.6 L260.25,388.63 L261.15,388.65 L262.06,388.67 L262.96,388.69 L263.87,388.7 L264.77,388.72 L265.68,388.73 L266.58,388.73 L267.49,388.74 L268.39,388.75 L269.3,388.75 L270.2,388.76 L271.11,388.76 L272.01,388.77 L272.91,388.77 L273.82,388.78 L274.73,388.79 L275.63,388.8 L276.53,388.81" stroke="#90d050" stroke-width="1.3" fill="none" stroke-linejoin="round" stroke-linecap="round"/>
<path d="M143.5,388.81h0M145.31,388.83h0M147.12,388.86h0M148.93,388.89h0M150.74,388.92h0M152.55,388.96h0M154.36,388.98h0M156.17,389.01h0M157.98,389.03h0M159.79,389.04h0M161.6,389.05h0M163.41,389.05h0M165.22,389.05h0M167.03,389.05h0M168.84,389.05h0M170.65,389.05h0M172.46,389.05h0M174.27,389.05h0M176.08,389.05h0M177.89,389.05h0M179.7,389.05h0M181.51,389.04h0M183.32,389.02h0M185.13,388.99h0M186.94,388.96h0M188.75,388.93h0M190.56,388.89h0M192.37,388.86h0M194.18,388.83h0M195.99,388.81h0M197.8,388.81h0M199.61,388.81h0M201.42,388.83h0M203.23,388.86h0M205.04,388.89h0M206.85,388.93h0M208.66,388.96h0M210.47,388.99h0M212.28,389.02h0M214.09,389.04h0M215.9,389.05h0M217.71,389.02h0M219.52,388.96h0M221.33,388.88h0M223.14,388.78h0M224.95,388.67h0M226.76,388.57h0M228.57,388.46h0M230.38,388.33h0M232.19,388.2h0M234,388.09h0M235.81,388h0M237.62,387.92h0M239.43,387.85h0M241.24,387.78h0M243.05,387.7h0M244.86,387.61h0M246.67,387.5h0M248.48,387.37h0M250.29,387.24h0M252.1,387.13h0M253.91,387.03h0M255.72,386.94h0M257.53,386.9h0M259.34,388.6h0M261.15,388.65h0M262.96,388.69h0M264.77,388.72h0M266.58,388.73h0M268.39,388.75h0M270.2,388.76h0M272.01,388.77h0M273.82,388.78h0M275.63,388.8h0" stroke="#90d050" stroke-width="1.8" fill="none" stroke-linecap="round"/>
<path d="M276.53,388.81 L276.53,388.81" stroke="#90d050" stroke-width="0.7" fill="none"/>
<path d="M276.53,388.81 L277.44,388.82 L278.35,388.84 L279.25,388.86 L280.15,388.88 L281.06,388.9 L281.97,388.92 L282.87,388.93 L283.77,388.95 L284.68,388.97 L285.59,388.99 L286.49,389.01 L287.39,389.03 L288.3,389.05 L289.21,389.02 L290.11,388.99 L291.01,388.97 L291.92,388.94 L292.83,388.92 L293.73,388.89 L294.63,388.87 L295.54,388.84 L296.44,388.82 L297.35,388.79 L298.25,388.77 L299.16,388.74 L300.06,388.72 L300.97,388.69 L301.88,388.67 L302.78,388.64 L303.69,388.62 L304.59,388.59 L305.5,388.57" stroke="#90d050" stroke-width="1.45" fill="none" stroke-linejoin="round" stroke-linecap="round"/>
<path d="M34.6,494.88 L35.51,494.83 L36.42,494.79 L37.33,494.75 L38.24,494.7 L39.15,494.64 L40.06,494.56 L40.97,494.4 L41.88,494.13 L42.79,493.79 L43.7,493.45 L44.61,493.09 L45.52,492.7 L46.43,492.26 L47.34,491.79 L48.25,491.29 L49.16,490.74 L50.07,490.15 L50.98,489.49 L51.89,488.74 L52.8,487.88 L53.71,486.82 L54.62,485.55 L55.53,484.13 L56.44,482.65 L57.35,481.2 L58.26,479.73 L59.17,478.18 L60.08,476.62 L60.99,475.11 L61.9,473.73 L62.81,472.47 L63.72,471.26 L64.63,470.12 L65.54,469.04 L66.45,468.01 L67.36,467.01 L68.27,466.03 L69.18,465.11 L70.09,464.27 L71,463.56 L71.91,462.93 L72.82,462.36 L73.73,461.84 L74.64,461.39 L75.55,461.01 L76.46,460.68 L77.37,460.36 L78.28,460.09 L79.19,459.88 L80.1,459.74 L81.01,459.65 L81.92,459.58 L82.83,459.51 L83.74,459.46 L84.65,459.43 L85.56,459.42 L86.47,459.47 L87.38,459.6 L88.29,459.79 L89.2,460.02 L90.11,460.26 L91.02,460.49 L91.93,460.69" stroke="#1572c6" stroke-width="1.3" fill="none" stroke-linejoin="round" stroke-linecap="round"/>
<path d="M34.6,494.88h0M36.42,494.79h0M38.24,494.7h0M40.06,494.56h0M41.88,494.13h0M43.7,493.45h0M45.52,492.7h0M47.34,491.79h0M49.16,490.74h0M50.98,489.49h0M52.8,487.88h0M54.62,485.55h0M56.44,482.65h0M58.26,479.73h0M60.08,476.62h0M61.9,473.73h0M63.72,471.26h0M65.54,469.04h0M67.36,467.01h0M69.18,465.11h0M71,463.56h0M72.82,462.36h0M74.64,461.39h0M76.46,460.68h0M78.28,460.09h0M80.1,459.74h0M81.92,459.58h0M83.74,459.46h0M85.56,459.42h0M87.38,459.6h0M89.2,460.02h0M91.02,460.49h0" stroke="#1572c6" stroke-width="1.8" fill="none" stroke-linecap="round"/>
<path d="M34.6,508.39 L35.51,508.3 L36.42,508.22 L37.33,508.14 L38.24,508.06 L39.15,507.97 L40.06,507.89 L40.97,507.79 L41.88,507.69 L42.79,507.57 L43.7,507.44 L44.61,507.28 L45.52,507.07 L46.43,506.84 L47.34,506.58 L48.25,506.3 L49.16,506.01 L50.07,505.71 L50.98,505.37 L51.89,505 L52.8,504.58 L53.71,504.08 L54.62,503.51 L55.53,502.87 L56.44,502.21 L57.35,501.56 L58.26,500.9 L59.17,500.21 L60.08,499.5 L60.99,498.79 L61.9,498.06 L62.81,497.31 L63.72,496.55 L64.63,495.77 L65.54,495 L66.45,494.24 L67.36,493.5 L68.27,492.75 L69.18,492.01 L70.09,491.29 L71,490.59 L71.91,489.88 L72.82,489.16 L73.73,488.43 L74.64,487.71 L75.55,487.01 L76.46,486.33 L77.37,485.68 L78.28,485.09 L79.19,484.54 L80.1,484.07 L81.01,483.65 L81.92,483.28 L82.83,482.93 L83.74,482.61 L84.65,482.3 L85.56,482 L86.47,481.69 L87.38,481.39 L88.29,481.12 L89.2,480.89 L90.11,480.67 L91.02,480.46 L91.93,480.26 L92.84,480.09 L93.75,479.98 L94.66,479.93 L95.57,480.22 L96.48,480.87 L97.39,481.62 L98.3,482.16 L99.21,482.5 L100.12,482.83 L101.03,483.13 L101.94,483.37 L102.85,483.53 L103.76,483.59 L104.67,483.54 L105.58,483.43 L106.49,483.32 L107.4,483.27 L108.31,483.43 L109.22,483.81 L110.13,484.28 L111.04,484.7" stroke="#10aef0" stroke-width="1.3" fill="none" stroke-linejoin="round" stroke-linecap="round"/>
<path d="M34.6,508.39h0M36.42,508.22h0M38.24,508.06h0M40.06,507.89h0M41.88,507.69h0M43.7,507.44h0M45.52,507.07h0M47.34,506.58h0M49.16,506.01h0M50.98,505.37h0M52.8,504.58h0M54.62,503.51h0M56.44,502.21h0M58.26,500.9h0M60.08,499.5h0M61.9,498.06h0M63.72,496.55h0M65.54,495h0M67.36,493.5h0M69.18,492.01h0M71,490.59h0M72.82,489.16h0M74.64,487.71h0M76.46,486.33h0M78.28,485.09h0M80.1,484.07h0M81.92,483.28h0M83.74,482.61h0M85.56,482h0M87.38,481.39h0M89.2,480.89h0M91.02,480.46h0M92.84,480.09h0M94.66,479.93h0M96.48,480.87h0M98.3,482.16h0M100.12,482.83h0M101.94,483.37h0M103.76,483.59h0M105.58,483.43h0M107.4,483.27h0M109.22,483.81h0M111.04,484.7h0" stroke="#10aef0" stroke-width="1.8" fill="none" stroke-linecap="round"/>
<path d="M111.04,484.7 L111.59,490.74" stroke="#10aef0" stroke-width="0.7" fill="none"/>
<path d="M111.59,490.74 L112.51,491.55 L113.43,492.06 L114.35,492.38 L115.27,492.7 L116.19,493.02 L117.12,493.35 L118.04,493.67 L118.96,493.71 L119.88,493.63 L120.8,493.55 L121.73,493.47 L122.65,493.39 L123.57,493.31 L124.49,493.27 L125.41,493.24 L126.33,493.21 L127.26,493.19 L128.18,493.16 L129.1,493.13 L130.02,493.3 L130.94,493.5 L131.86,493.7 L132.79,493.9 L133.71,493.98 L134.63,494.04 L135.55,494.1 L136.47,494.16 L137.39,494.22 L138.32,494.28 L139.24,494.34 L140.16,494.4" stroke="#10aef0" stroke-width="1.45" fill="none" stroke-linejoin="round" stroke-linecap="round"/>
<path d="M143.5,510.3 L144.41,510.03 L145.31,509.77 L146.22,509.52 L147.12,509.27 L148.03,509.02 L148.93,508.76 L149.84,508.48 L150.74,508.17 L151.65,507.82 L152.55,507.44 L153.46,507 L154.36,506.49 L155.26,505.9 L156.17,505.23 L157.07,504.47 L157.98,503.62 L158.88,502.53 L159.79,501.13 L160.69,499.59 L161.6,498.06 L162.5,496.58 L163.41,495.08 L164.31,493.55 L165.22,491.98 L166.12,490.36 L167.03,488.68 L167.94,486.9 L168.84,485.02 L169.75,483.1 L170.65,481.2 L171.56,479.33 L172.46,477.43 L173.37,475.54 L174.27,473.67 L175.18,471.84 L176.08,470.07 L176.99,468.38 L177.89,466.75 L178.8,465.15 L179.7,463.56 L180.61,461.94 L181.51,460.32 L182.41,458.71 L183.32,457.13 L184.22,455.61 L185.13,454.17 L186.03,452.79 L186.94,451.41 L187.84,450.09 L188.75,448.84 L189.66,447.7 L190.56,446.7 L191.47,445.81 L192.37,444.98 L193.28,444.2 L194.18,443.47 L195.09,442.78 L195.99,442.14 L196.9,441.54 L197.8,440.98 L198.7,440.42 L199.61,439.85 L200.51,439.32 L201.42,438.85 L202.32,438.49 L203.23,438.27 L204.13,438.15 L205.04,438.03 L205.94,437.94 L206.85,437.86 L207.75,437.81 L208.66,437.8 L209.56,438.33 L210.47,439.23" stroke="#10aa50" stroke-width="1.3" fill="none" stroke-linejoin="round" stroke-linecap="round"/>
<path d="M143.5,510.3h0M145.31,509.77h0M147.12,509.27h0M148.93,508.76h0M150.74,508.17h0M152.55,507.44h0M154.36,506.49h0M156.17,505.23h0M157.98,503.62h0M159.79,501.13h0M161.6,498.06h0M163.41,495.08h0M165.22,491.98h0M167.03,488.68h0M168.84,485.02h0M170.65,481.2h0M172.46,477.43h0M174.27,473.67h0M176.08,470.07h0M177.89,466.75h0M179.7,463.56h0M181.51,460.32h0M183.32,457.13h0M185.13,454.17h0M186.94,451.41h0M188.75,448.84h0M190.56,446.7h0M192.37,444.98h0M194.18,443.47h0M195.99,442.14h0M197.8,440.98h0M199.61,439.85h0M201.42,438.85h0M203.23,438.27h0M205.04,438.03h0M206.85,437.86h0M208.66,437.8h0M210.47,439.23h0" stroke="#10aa50" stroke-width="1.8" fill="none" stroke-linecap="round"/>
<path d="M210.47,439.23 L210.47,439.23" stroke="#10aa50" stroke-width="0.7" fill="none"/>
<path d="M210.47,439.23 L211.38,441.08 L212.28,442.94 L213.19,444.79 L214.09,443.36 L215,441.93 L215.9,433.74 L216.81,425.55 L217.71,425.71 L218.62,425.87 L219.52,426.03" stroke="#10aa50" stroke-width="0.95" fill="none" stroke-linejoin="round" stroke-linecap="round"/>
<path d="M143.5,509.03 L144.4,508.77 L145.3,508.51 L146.2,508.25 L147.11,507.98 L148.01,507.72 L148.91,507.46 L149.81,507.2 L150.71,506.96 L151.61,506.72 L152.52,506.49 L153.42,506.28 L154.32,506.09 L155.22,505.9 L156.12,505.72 L157.02,505.55 L157.93,505.37 L158.83,505.19 L159.73,505.01 L160.63,504.81 L161.53,504.59 L162.43,504.37 L163.34,504.13 L164.24,503.89 L165.14,503.63 L166.04,503.37 L166.94,503.09 L167.84,502.81 L168.75,502.52 L169.65,502.22 L170.55,501.91 L171.45,501.58 L172.35,501.22 L173.25,500.83 L174.15,500.43 L175.06,500.02 L175.96,499.61 L176.86,499.2 L177.76,498.81 L178.66,498.45 L179.56,498.11 L180.47,497.8 L181.37,497.51 L182.27,497.23 L183.17,496.96 L184.07,496.7 L184.97,496.45 L185.88,496.19 L186.78,495.94 L187.68,495.68 L188.58,495.41 L189.48,495.13 L190.38,494.86 L191.29,494.59 L192.19,494.32 L193.09,494.05 L193.99,493.78 L194.89,493.49 L195.79,493.2 L196.7,492.89 L197.6,492.57 L198.5,492.21 L199.4,491.78 L200.3,491.3 L201.2,490.82 L202.11,490.35 L203.01,489.93 L203.91,489.59 L204.81,489.35 L205.71,489.22 L206.61,489.13 L207.51,489.06 L208.42,489 L209.32,488.94 L210.22,488.88 L211.12,488.8 L212.02,488.71 L212.92,488.58 L213.83,488.4 L214.73,488.18 L215.63,487.94 L216.53,487.68 L217.43,487.43 L218.33,487.19 L219.24,486.99 L220.14,486.81 L221.04,486.66 L221.94,486.51 L222.84,486.37 L223.74,486.24 L224.65,486.11 L225.55,485.98 L226.45,485.84 L227.35,485.7 L228.25,485.55 L229.15,485.38 L230.06,485.18 L230.96,484.94 L231.86,484.71 L232.76,484.48 L233.66,484.29 L234.56,484.15 L235.46,484.07 L236.37,484.13 L237.27,484.45 L238.17,484.95 L239.07,485.49 L239.97,485.97" stroke="#90d050" stroke-width="1.3" fill="none" stroke-linejoin="round" stroke-linecap="round"/>
<path d="M143.5,509.03h0M145.31,508.51h0M147.12,507.98h0M148.93,507.45h0M150.74,506.95h0M152.55,506.49h0M154.36,506.08h0M156.17,505.72h0M157.98,505.36h0M159.79,504.99h0M161.6,504.58h0M163.41,504.11h0M165.22,503.61h0M167.03,503.07h0M168.84,502.49h0M170.65,501.87h0M172.46,501.17h0M174.27,500.38h0M176.08,499.55h0M177.89,498.76h0M179.7,498.06h0M181.51,497.46h0M183.32,496.92h0M185.13,496.4h0M186.94,495.89h0M188.75,495.36h0M190.56,494.81h0M192.37,494.27h0M194.18,493.72h0M195.99,493.13h0M197.8,492.49h0M199.61,491.67h0M201.42,490.7h0M203.23,489.83h0M205.04,489.31h0M206.85,489.11h0M208.66,488.98h0M210.47,488.86h0M212.28,488.68h0M214.09,488.34h0M215.9,487.86h0M217.71,487.35h0M219.52,486.93h0M221.33,486.61h0M223.14,486.33h0M224.95,486.06h0M226.76,485.8h0M228.57,485.5h0M230.38,485.09h0M232.19,484.62h0M234,484.23h0M235.81,484.07h0M237.62,484.63h0M239.43,485.7h0" stroke="#90d050" stroke-width="1.8" fill="none" stroke-linecap="round"/>
<path d="M239.97,485.97 L241.24,489.31" stroke="#90d050" stroke-width="0.7" fill="none"/>
<path d="M241.24,489.31 L242.14,489.28 L243.05,489.24 L243.95,489.2 L244.86,489.17 L245.76,489.13 L246.67,489.09 L247.57,489.05 L248.48,489 L249.38,488.93 L250.29,488.84 L251.19,488.73 L252.1,488.62 L253,488.52 L253.91,488.44 L254.81,488.38 L255.72,488.36 L256.62,488.39 L257.53,488.46 L258.44,488.56 L259.34,488.68 L260.25,488.79 L261.15,488.9 L262.06,488.97 L262.96,489 L263.87,488.97 L264.77,488.9 L265.68,488.79 L266.58,488.68 L267.49,488.56 L268.39,488.46 L269.3,488.39 L270.2,488.36 L271.11,488.41 L272.01,488.54 L272.91,488.73 L273.82,488.95 L274.73,489.19 L275.63,489.43 L276.53,489.63" stroke="#90d050" stroke-width="1.3" fill="none" stroke-linejoin="round" stroke-linecap="round"/>
<path d="M241.24,489.31h0M243.05,489.24h0M244.86,489.17h0M246.67,489.09h0M248.48,489h0M250.29,488.84h0M252.1,488.62h0M253.91,488.44h0M255.72,488.36h0M257.53,488.46h0M259.34,488.68h0M261.15,488.9h0M262.96,489h0M264.77,488.9h0M266.58,488.68h0M268.39,488.46h0M270.2,488.36h0M272.01,488.54h0M273.82,488.95h0M275.63,489.43h0" stroke="#90d050" stroke-width="1.8" fill="none" stroke-linecap="round"/>
<path d="M276.53,489.63 L277.44,487.72" stroke="#90d050" stroke-width="0.7" fill="none"/>
<path d="M277.44,487.72 L278.35,487.74 L279.25,487.75 L280.15,487.76 L281.06,487.78 L281.97,487.79 L282.87,487.8 L283.77,487.82 L284.68,487.83 L285.59,487.84 L286.49,487.86 L287.39,487.87 L288.3,487.88 L289.21,487.94 L290.11,487.99 L291.01,488.05 L291.92,488.1 L292.83,488.16 L293.73,488.22 L294.63,488.27 L295.54,488.33 L296.44,487.81 L297.35,486.45 L298.25,486.45 L299.16,486.45 L300.06,486.45 L300.97,486.45 L301.88,486.45 L302.78,486.45 L303.69,486.45 L304.59,486.45 L305.5,486.45" stroke="#90d050" stroke-width="1.45" fill="none" stroke-linejoin="round" stroke-linecap="round"/>
<path d="M370.7,78.2 L371.61,77.93 L372.52,77.69 L373.43,77.45 L374.34,77.19 L375.25,76.86 L376.16,76.45 L377.07,75.76 L377.98,74.74 L378.89,73.63 L379.8,72.64 L380.71,71.78 L381.62,70.94 L382.53,70.13 L383.44,69.36 L384.35,68.66 L385.26,68.03 L386.17,67.47 L387.08,66.96 L387.99,66.51 L388.9,66.13 L389.81,65.78 L390.72,65.44 L391.63,65.15 L392.54,64.94 L393.45,64.86 L394.36,64.9 L395.27,65 L396.18,65.14 L397.09,65.31 L398,65.49 L398.91,65.76 L399.82,66.15 L400.73,66.58 L401.64,66.99 L402.55,67.28 L403.46,67.4 L404.37,67.34 L405.28,67.17 L406.19,66.92 L407.1,66.61 L408.01,65.88 L408.92,64.59 L409.83,63.04 L410.74,61.52 L411.65,59.99 L412.56,58.26 L413.47,56.47 L414.38,54.77 L415.29,53.28 L416.2,52.15 L417.11,51.32 L418.02,50.6 L418.93,49.97 L419.84,49.4 L420.75,48.87 L421.66,48.34 L422.57,47.83 L423.48,47.36 L424.39,46.91 L425.3,46.47 L426.21,46.04 L427.12,45.61 L428.03,45.17" stroke="#1572c6" stroke-width="1.3" fill="none" stroke-linejoin="round" stroke-linecap="round"/>
<path d="M370.7,78.2h0M372.52,77.69h0M374.34,77.19h0M376.16,76.45h0M377.98,74.74h0M379.8,72.64h0M381.62,70.94h0M383.44,69.36h0M385.26,68.03h0M387.08,66.96h0M388.9,66.13h0M390.72,65.44h0M392.54,64.94h0M394.36,64.9h0M396.18,65.14h0M398,65.49h0M399.82,66.15h0M401.64,66.99h0M403.46,67.4h0M405.28,67.17h0M407.1,66.61h0M408.92,64.59h0M410.74,61.52h0M412.56,58.26h0M414.38,54.77h0M416.2,52.15h0M418.02,50.6h0M419.84,49.4h0M421.66,48.34h0M423.48,47.36h0M425.3,46.47h0M427.12,45.61h0" stroke="#1572c6" stroke-width="1.8" fill="none" stroke-linecap="round"/>
<path d="M370.7,87.25 L371.61,86.88 L372.52,86.54 L373.43,86.19 L374.34,85.82 L375.25,85.39 L376.16,84.87 L377.07,84.06 L377.98,82.96 L378.89,81.87 L379.8,81.06 L380.71,80.51 L381.62,80.03 L382.53,79.61 L383.44,79.24 L384.35,78.93 L385.26,78.67 L386.17,78.46 L387.08,78.28 L387.99,78.13 L388.9,77.98 L389.81,77.85 L390.72,77.71 L391.63,77.57 L392.54,77.4 L393.45,77.22 L394.36,77.01 L395.27,76.79 L396.18,76.57 L397.09,76.35 L398,76.15 L398.91,75.97 L399.82,75.82 L400.73,75.68 L401.64,75.54 L402.55,75.41 L403.46,75.29 L404.37,75.18 L405.28,75.1 L406.19,75.04 L407.1,75.02 L408.01,75.02 L408.92,75.02 L409.83,75.02 L410.74,75.02 L411.65,75.02 L412.56,75.02 L413.47,75.02 L414.38,75.02 L415.29,75.02 L416.2,75.02 L417.11,74.97 L418.02,74.84 L418.93,74.65 L419.84,74.42 L420.75,74.16 L421.66,73.91 L422.57,73.6 L423.48,73.19 L424.39,72.74 L425.3,72.31 L426.21,71.94 L427.12,71.69 L428.03,71.51 L428.94,71.36 L429.85,71.25 L430.76,71.21 L431.67,71.27 L432.58,71.44 L433.49,71.67 L434.4,71.91 L435.31,72.15 L436.22,72.32 L437.13,72.44 L438.04,72.53 L438.95,72.61 L439.86,72.69 L440.77,72.8 L441.68,72.96 L442.59,73.29 L443.5,73.81 L444.41,74.39 L445.32,74.86 L446.23,75.19 L447.14,75.5" stroke="#10aef0" stroke-width="1.3" fill="none" stroke-linejoin="round" stroke-linecap="round"/>
<path d="M370.7,87.25h0M372.52,86.54h0M374.34,85.82h0M376.16,84.87h0M377.98,82.96h0M379.8,81.06h0M381.62,80.03h0M383.44,79.24h0M385.26,78.67h0M387.08,78.28h0M388.9,77.98h0M390.72,77.71h0M392.54,77.4h0M394.36,77.01h0M396.18,76.57h0M398,76.15h0M399.82,75.82h0M401.64,75.54h0M403.46,75.29h0M405.28,75.1h0M407.1,75.02h0M408.92,75.02h0M410.74,75.02h0M412.56,75.02h0M414.38,75.02h0M416.2,75.02h0M418.02,74.84h0M419.84,74.42h0M421.66,73.91h0M423.48,73.19h0M425.3,72.31h0M427.12,71.69h0M428.94,71.36h0M430.76,71.21h0M432.58,71.44h0M434.4,71.91h0M436.22,72.32h0M438.04,72.53h0M439.86,72.69h0M441.68,72.96h0M443.5,73.81h0M445.32,74.86h0M447.14,75.5h0" stroke="#10aef0" stroke-width="1.8" fill="none" stroke-linecap="round"/>
<path d="M447.14,75.5 L447.69,83.76" stroke="#10aef0" stroke-width="0.7" fill="none"/>
<path d="M447.69,83.76 L448.62,85.15 L449.54,85.41 L450.47,85 L451.4,84.6 L452.33,84.19 L453.26,83.79 L454.19,83.38 L455.12,82.97 L456.05,82.57 L456.98,82.42 L457.91,82.34 L458.84,82.26 L459.77,82.18 L460.69,82.1 L461.62,82.02 L462.55,81.93 L463.48,81.85 L464.41,81.77 L465.34,81.69" stroke="#10aef0" stroke-width="1.45" fill="none" stroke-linejoin="round" stroke-linecap="round"/>
<path d="M465.34,81.69 L465.89,86.93" stroke="#10aef0" stroke-width="0.7" fill="none"/>
<path d="M465.89,86.93 L466.83,87.4 L467.77,87.61 L468.72,87.68 L469.66,87.74 L470.6,87.81 L471.54,87.87 L472.49,87.94 L473.43,88 L474.37,88.07 L475.32,88.14 L476.26,88.2" stroke="#10aef0" stroke-width="1.45" fill="none" stroke-linejoin="round" stroke-linecap="round"/>
<path d="M479.5,93.28 L480.41,92.13 L481.31,90.99 L482.22,89.81 L483.13,88.52 L484.04,87.09 L484.94,85.54 L485.85,83.85 L486.76,82.01 L487.67,79.94 L488.57,77.64 L489.48,75.17 L490.39,72.64 L491.3,69.95 L492.2,67.08 L493.11,64.21 L494.02,61.52 L494.93,58.99 L495.83,56.53 L496.74,54.22 L497.65,52.15 L498.56,50.28 L499.46,48.54 L500.37,46.98 L501.28,45.64 L502.19,44.49 L503.1,43.46 L504,42.56 L504.91,41.83 L505.82,41.18 L506.73,40.56 L507.63,40.11 L508.54,39.93 L509.45,40.46 L510.36,41.62 L511.26,42.79 L512.17,43.95 L513.08,45.11 L513.99,45.64 L514.89,45.08 L515.8,43.75 L516.71,42.18 L517.62,40.88 L518.52,39.87 L519.43,38.9 L520.34,38.08 L521.25,37.55 L522.15,37.25 L523.06,37.04 L523.97,36.88 L524.88,36.73 L525.78,36.54 L526.69,36.27 L527.6,35.77 L528.5,35 L529.41,34.13 L530.32,33.31 L531.23,32.7 L532.13,32.46 L533.04,32.68 L533.95,33.2 L534.86,33.89 L535.76,34.58 L536.67,35.11 L537.58,35.32 L538.49,35.1 L539.39,34.56 L540.3,33.93 L541.21,33.42 L542.12,33 L543.02,32.59 L543.93,32.27 L544.84,32.15 L545.75,33.23 L546.65,35.32 L547.56,37.84 L548.47,40.95 L549.38,44.06" stroke="#10aa50" stroke-width="1.3" fill="none" stroke-linejoin="round" stroke-linecap="round"/>
<path d="M479.5,93.28h0M481.31,90.99h0M483.13,88.52h0M484.94,85.54h0M486.76,82.01h0M488.57,77.64h0M490.39,72.64h0M492.2,67.08h0M494.02,61.52h0M495.83,56.53h0M497.65,52.15h0M499.46,48.54h0M501.28,45.64h0M503.1,43.46h0M504.91,41.83h0M506.73,40.56h0M508.54,39.93h0M510.36,41.62h0M512.17,43.95h0M513.99,45.64h0M515.8,43.75h0M517.62,40.88h0M519.43,38.9h0M521.25,37.55h0M523.06,37.04h0M524.88,36.73h0M526.69,36.27h0M528.5,35h0M530.32,33.31h0M532.13,32.46h0M533.95,33.2h0M535.76,34.58h0M537.58,35.32h0M539.39,34.56h0M541.21,33.42h0M543.02,32.59h0M544.84,32.15h0M546.65,35.32h0M548.47,40.95h0" stroke="#10aa50" stroke-width="1.8" fill="none" stroke-linecap="round"/>
<path d="M549.38,44.06 L549.38,44.06" stroke="#10aa50" stroke-width="0.7" fill="none"/>
<path d="M549.38,44.06 L550.28,39.21 L551.19,34.37 L552.1,24.52 L553.01,14.68 L553.91,13.96 L554.82,13.25" stroke="#10aa50" stroke-width="0.95" fill="none" stroke-linejoin="round" stroke-linecap="round"/>
<path d="M479.5,91.7 L480.41,91.5 L481.31,91.33 L482.22,91.15 L483.13,90.96 L484.04,90.72 L484.94,90.43 L485.85,89.96 L486.76,89.27 L487.67,88.43 L488.57,87.51 L489.48,86.56 L490.39,85.66 L491.3,84.76 L492.2,83.79 L493.11,82.79 L494.02,81.82 L494.93,80.91 L495.83,80.1 L496.74,79.36 L497.65,78.62 L498.56,77.92 L499.46,77.3 L500.37,76.79 L501.28,76.45 L502.19,76.21 L503.1,75.98 L504,75.79 L504.91,75.63 L505.82,75.53 L506.73,75.5 L507.63,75.5 L508.54,75.5 L509.45,75.5 L510.36,75.5 L511.26,75.5 L512.17,75.5 L513.08,75.4 L513.99,75.17 L514.89,74.86 L515.8,74.56 L516.71,74.32 L517.62,74.23 L518.52,74.26 L519.43,74.35 L520.34,74.48 L521.25,74.62 L522.15,74.77 L523.06,74.9 L523.97,74.99 L524.88,75.02 L525.78,74.77 L526.69,74.16 L527.6,73.35 L528.5,72.55 L529.41,71.93 L530.32,71.69 L531.23,71.89 L532.13,72.39 L533.04,73.01 L533.95,73.59 L534.86,74.18 L535.76,74.86 L536.67,75.56 L537.58,76.17 L538.49,76.6 L539.39,76.77 L540.3,76.73 L541.21,76.62 L542.12,76.46 L543.02,76.27 L543.93,76.06 L544.84,75.85 L545.75,75.66 L546.65,75.5 L547.56,75.37 L548.47,75.24 L549.38,75.12 L550.28,75 L551.19,74.88 L552.1,74.77 L553.01,74.66 L553.91,74.55 L554.82,74.44 L555.73,74.34 L556.64,74.25 L557.54,74.15 L558.45,74.04 L559.36,73.91 L560.27,73.72 L561.17,73.46 L562.08,73.17 L562.99,72.91 L563.9,72.71 L564.8,72.64 L565.71,72.72 L566.62,72.94 L567.53,73.27 L568.43,73.67 L569.34,74.11 L570.25,74.55 L571.16,75.04 L572.07,75.65 L572.97,76.34 L573.88,77.08 L574.79,77.85 L575.69,78.6 L576.6,79.31" stroke="#90d050" stroke-width="1.3" fill="none" stroke-linejoin="round" stroke-linecap="round"/>
<path d="M479.5,91.7h0M481.31,91.33h0M483.13,90.96h0M484.94,90.43h0M486.76,89.27h0M488.57,87.51h0M490.39,85.66h0M492.2,83.79h0M494.02,81.82h0M495.83,80.1h0M497.65,78.62h0M499.46,77.3h0M501.28,76.45h0M503.1,75.98h0M504.91,75.63h0M506.73,75.5h0M508.54,75.5h0M510.36,75.5h0M512.17,75.5h0M513.99,75.17h0M515.8,74.56h0M517.62,74.23h0M519.43,74.35h0M521.25,74.62h0M523.06,74.9h0M524.88,75.02h0M526.69,74.16h0M528.5,72.55h0M530.32,71.69h0M532.13,72.39h0M533.95,73.59h0M535.76,74.86h0M537.58,76.17h0M539.39,76.77h0M541.21,76.62h0M543.02,76.27h0M544.84,75.85h0M546.65,75.5h0M548.47,75.24h0M550.28,75h0M552.1,74.77h0M553.91,74.55h0M555.73,74.34h0M557.54,74.15h0M559.36,73.91h0M561.17,73.46h0M562.99,72.91h0M564.8,72.64h0M566.62,72.94h0M568.43,73.67h0M570.25,74.55h0M572.07,75.65h0M573.88,77.08h0M575.69,78.6h0" stroke="#90d050" stroke-width="1.8" fill="none" stroke-linecap="round"/>
<path d="M576.6,79.31 L577.51,79.63" stroke="#90d050" stroke-width="0.7" fill="none"/>
<path d="M577.51,79.63 L578.43,79.38 L579.34,79.14 L580.26,78.89 L581.18,78.65 L582.1,78.41 L583.01,78.18 L583.93,77.93 L584.85,77.64 L585.77,77.37 L586.68,77.14 L587.6,76.98 L588.52,76.93 L589.44,76.97 L590.35,77.08 L591.27,77.23 L592.19,77.41 L593.1,77.6 L594.02,77.79 L594.94,77.96 L595.86,78.09 L596.77,78.18 L597.69,78.19 L598.61,78.09 L599.53,77.87 L600.44,77.55 L601.36,77.17 L602.28,76.75 L603.19,76.31 L604.11,75.89 L605.03,75.51 L605.95,75.19 L606.86,74.97 L607.78,74.87 L608.7,74.94 L609.62,75.24 L610.53,75.62 L611.45,75.97" stroke="#90d050" stroke-width="1.3" fill="none" stroke-linejoin="round" stroke-linecap="round"/>
<path d="M577.51,79.63h0M579.33,79.14h0M581.14,78.66h0M582.96,78.2h0M584.77,77.67h0M586.59,77.16h0M588.4,76.93h0M590.22,77.06h0M592.03,77.37h0M593.85,77.75h0M595.66,78.07h0M597.48,78.2h0M599.29,77.93h0M601.11,77.28h0M602.92,76.44h0M604.74,75.63h0M606.55,75.04h0M608.37,74.89h0M610.18,75.47h0" stroke="#90d050" stroke-width="1.8" fill="none" stroke-linecap="round"/>
<path d="M611.45,75.97 L612,76.29" stroke="#90d050" stroke-width="0.7" fill="none"/>
<path d="M612,76.29 L612.91,76.56 L613.83,76.83 L614.75,77.1 L615.67,77.36 L616.59,77.63 L617.51,77.9 L618.43,78.17 L619.35,78.44 L620.27,78.65 L621.19,78.41 L622.11,78.17 L623.03,77.93 L623.94,77.69 L624.86,77.45 L625.78,77.21 L626.7,76.97 L627.62,76.73 L628.54,76.49 L629.46,76.05 L630.38,75.57 L631.3,75.08 L632.22,74.6 L633.14,74.98 L634.06,75.48 L634.98,75.87 L635.89,76.05 L636.81,76.22 L637.73,76.4 L638.65,76.58 L639.57,76.75 L640.49,76.93" stroke="#90d050" stroke-width="1.45" fill="none" stroke-linejoin="round" stroke-linecap="round"/>
<path d="M370.7,132.87 L371.61,133.39 L372.52,134 L373.43,134.6 L374.34,135.13 L375.25,135.5 L376.16,135.64 L377.07,135.56 L377.98,135.35 L378.89,135.02 L379.8,134.61 L380.71,134.15 L381.62,133.66 L382.53,133.05 L383.44,132.24 L384.35,131.26 L385.26,130.15 L386.17,128.96 L387.08,127.74 L387.99,126.51 L388.9,125.33 L389.81,124.11 L390.72,122.76 L391.63,121.38 L392.54,120.04 L393.45,118.82 L394.36,117.8 L395.27,116.87 L396.18,115.93 L397.09,115.05 L398,114.32 L398.91,113.82 L399.82,113.64 L400.73,113.92 L401.64,114.68 L402.55,115.75 L403.46,117.01 L404.37,118.89 L405.28,121.65 L406.19,124.87 L407.1,128.11 L408.01,131.45 L408.92,135.09 L409.83,138.76 L410.74,142.19 L411.65,145.37 L412.56,148.46 L413.47,151.45 L414.38,154.35 L415.29,157.14 L416.2,159.83 L417.11,162.49 L418.02,165.16 L418.93,167.74 L419.84,170.15 L420.75,172.3 L421.66,174.1 L422.57,175.59 L423.48,176.9 L424.39,178.07 L425.3,179.16 L426.21,180.22 L427.12,181.29 L428.03,182.43" stroke="#1572c6" stroke-width="1.3" fill="none" stroke-linejoin="round" stroke-linecap="round"/>
<path d="M370.7,132.87h0M372.52,134h0M374.34,135.13h0M376.16,135.64h0M377.98,135.35h0M379.8,134.61h0M381.62,133.66h0M383.44,132.24h0M385.26,130.15h0M387.08,127.74h0M388.9,125.33h0M390.72,122.76h0M392.54,120.04h0M394.36,117.8h0M396.18,115.93h0M398,114.32h0M399.82,113.64h0M401.64,114.68h0M403.46,117.01h0M405.28,121.65h0M407.1,128.11h0M408.92,135.09h0M410.74,142.19h0M412.56,148.46h0M414.38,154.35h0M416.2,159.83h0M418.02,165.16h0M419.84,170.15h0M421.66,174.1h0M423.48,176.9h0M425.3,179.16h0M427.12,181.29h0" stroke="#1572c6" stroke-width="1.8" fill="none" stroke-linecap="round"/>
<path d="M370.7,130.89 L371.61,131.26 L372.52,131.69 L373.43,132.12 L374.34,132.5 L375.25,132.77 L376.16,132.87 L377.07,132.74 L377.98,132.4 L378.89,131.9 L379.8,131.31 L380.71,130.68 L381.62,130.09 L382.53,129.49 L383.44,128.81 L384.35,128.07 L385.26,127.3 L386.17,126.52 L387.08,125.75 L387.99,125.02 L388.9,124.34 L389.81,123.69 L390.72,123.03 L391.63,122.36 L392.54,121.7 L393.45,121.06 L394.36,120.46 L395.27,119.9 L396.18,119.39 L397.09,118.95 L398,118.59 L398.91,118.28 L399.82,117.96 L400.73,117.66 L401.64,117.39 L402.55,117.15 L403.46,116.97 L404.37,116.85 L405.28,116.81 L406.19,116.84 L407.1,116.94 L408.01,117.1 L408.92,117.29 L409.83,117.53 L410.74,117.8 L411.65,118.24 L412.56,118.97 L413.47,119.91 L414.38,121 L415.29,122.17 L416.2,123.35 L417.11,124.62 L418.02,126.07 L418.93,127.66 L419.84,129.34 L420.75,131.09 L421.66,132.87 L422.57,134.72 L423.48,136.69 L424.39,138.73 L425.3,140.82 L426.21,142.91 L427.12,144.96 L428.03,147.03 L428.94,149.15 L429.85,151.27 L430.76,153.33 L431.67,155.28 L432.58,157.05 L433.49,158.68 L434.4,160.24 L435.31,161.71 L436.22,163.09 L437.13,164.38 L438.04,165.58 L438.95,166.7 L439.86,167.77 L440.77,168.77 L441.68,169.7 L442.59,170.56 L443.5,171.33 L444.41,172 L445.32,172.58 L446.23,173.14 L447.14,173.71" stroke="#10aef0" stroke-width="1.3" fill="none" stroke-linejoin="round" stroke-linecap="round"/>
<path d="M370.7,130.89h0M372.52,131.69h0M374.34,132.5h0M376.16,132.87h0M377.98,132.4h0M379.8,131.31h0M381.62,130.09h0M383.44,128.81h0M385.26,127.3h0M387.08,125.75h0M388.9,124.34h0M390.72,123.03h0M392.54,121.7h0M394.36,120.46h0M396.18,119.39h0M398,118.59h0M399.82,117.96h0M401.64,117.39h0M403.46,116.97h0M405.28,116.81h0M407.1,116.94h0M408.92,117.29h0M410.74,117.8h0M412.56,118.97h0M414.38,121h0M416.2,123.35h0M418.02,126.07h0M419.84,129.34h0M421.66,132.87h0M423.48,136.69h0M425.3,140.82h0M427.12,144.96h0M428.94,149.15h0M430.76,153.33h0M432.58,157.05h0M434.4,160.24h0M436.22,163.09h0M438.04,165.58h0M439.86,167.77h0M441.68,169.7h0M443.5,171.33h0M445.32,172.58h0M447.14,173.71h0" stroke="#10aef0" stroke-width="1.8" fill="none" stroke-linecap="round"/>
<path d="M447.14,173.71 L447.69,163.8" stroke="#10aef0" stroke-width="0.7" fill="none"/>
<path d="M447.69,163.8 L448.62,156.19 L449.54,157.67 L450.47,159.15 L451.4,160.63 L452.33,162.12 L453.26,163.6 L454.19,165.08 L455.12,166.57 L456.05,168.05 L456.98,169.19 L457.91,170.24 L458.84,171.3 L459.77,172.35 L460.69,173.4 L461.62,174.45 L462.55,175.51 L463.48,176.56 L464.41,177.61 L465.34,178.66" stroke="#10aef0" stroke-width="1.45" fill="none" stroke-linejoin="round" stroke-linecap="round"/>
<path d="M465.34,178.66 L465.34,178.66" stroke="#10aef0" stroke-width="0.7" fill="none"/>
<path d="M465.34,178.66 L466.25,176.19 L467.16,173.71 L468.07,174.78 L468.98,175.85 L469.89,176.92 L470.8,177.99 L471.71,179.06 L472.62,180.13 L473.53,181.2 L474.44,182.27 L475.35,183.34 L476.26,184.41" stroke="#10aef0" stroke-width="1.45" fill="none" stroke-linejoin="round" stroke-linecap="round"/>
<path d="M479.5,123.35 L480.41,121.84 L481.31,120.24 L482.22,118.81 L483.13,117.8 L484.04,117.1 L484.94,116.44 L485.85,115.87 L486.76,115.43 L487.67,115.13 L488.57,115.03 L489.48,115.16 L490.39,115.49 L491.3,115.92 L492.2,116.35 L493.11,116.68 L494.02,116.81 L494.93,116.71 L495.83,116.46 L496.74,116.14 L497.65,115.82 L498.56,115.47 L499.46,115.05 L500.37,114.61 L501.28,114.19 L502.19,113.85 L503.1,113.64 L504,113.51 L504.91,113.4 L505.82,113.3 L506.73,113.21 L507.63,113.14 L508.54,113.09 L509.45,113.05 L510.36,113.04 L511.26,113.1 L512.17,113.27 L513.08,113.53 L513.99,113.85 L514.89,114.23 L515.8,114.63 L516.71,115.17 L517.62,115.92 L518.52,116.81 L519.43,117.8 L520.34,118.94 L521.25,120.28 L522.15,121.78 L523.06,123.35 L523.97,125.03 L524.88,126.87 L525.78,128.83 L526.69,130.89 L527.6,133.09 L528.5,135.46 L529.41,137.92 L530.32,140.4 L531.23,142.9 L532.13,145.46 L533.04,148.06 L533.95,150.71 L534.86,153.45 L535.76,156.26 L536.67,159.08 L537.58,161.81 L538.49,164.52 L539.39,167.22 L540.3,169.79 L541.21,172.12 L542.12,174.52 L543.02,176.98 L543.93,178.89 L544.84,179.66 L545.75,179.66 L546.65,179.66 L547.56,179.66 L548.47,179.66" stroke="#10aa50" stroke-width="1.3" fill="none" stroke-linejoin="round" stroke-linecap="round"/>
<path d="M479.5,123.35h0M481.31,120.24h0M483.13,117.8h0M484.94,116.44h0M486.76,115.43h0M488.57,115.03h0M490.39,115.49h0M492.2,116.35h0M494.02,116.81h0M495.83,116.46h0M497.65,115.82h0M499.46,115.05h0M501.28,114.19h0M503.1,113.64h0M504.91,113.4h0M506.73,113.21h0M508.54,113.09h0M510.36,113.04h0M512.17,113.27h0M513.99,113.85h0M515.8,114.63h0M517.62,115.92h0M519.43,117.8h0M521.25,120.28h0M523.06,123.35h0M524.88,126.87h0M526.69,130.89h0M528.5,135.46h0M530.32,140.4h0M532.13,145.46h0M533.95,150.71h0M535.76,156.26h0M537.58,161.81h0M539.39,167.22h0M541.21,172.12h0M543.02,176.98h0M544.84,179.66h0M546.65,179.66h0M548.47,179.66h0" stroke="#10aa50" stroke-width="1.8" fill="none" stroke-linecap="round"/>
<path d="M548.47,179.66 L548.47,179.66" stroke="#10aa50" stroke-width="0.7" fill="none"/>
<path d="M548.47,179.66 L549.38,181.84 L550.28,184.02 L551.19,186.2 L552.1,187.34 L553.01,188.48 L553.91,189.62 L554.82,190.76" stroke="#10aa50" stroke-width="0.95" fill="none" stroke-linejoin="round" stroke-linecap="round"/>
<path d="M479.5,124.34 L480.4,123.09 L481.31,121.77 L482.21,120.59 L483.12,119.79 L484.02,119.28 L484.92,118.81 L485.83,118.4 L486.73,118.09 L487.64,117.88 L488.54,117.8 L489.45,117.94 L490.35,118.3 L491.25,118.77 L492.16,119.25 L493.06,119.62 L493.97,119.78 L494.87,119.68 L495.77,119.4 L496.68,119.02 L497.58,118.62 L498.49,118.18 L499.39,117.61 L500.29,116.98 L501.2,116.37 L502.1,115.83 L503.01,115.45 L503.91,115.19 L504.82,114.96 L505.72,114.75 L506.62,114.57 L507.53,114.41 L508.43,114.27 L509.34,114.15 L510.24,114.05 L511.14,113.96 L512.05,113.87 L512.95,113.78 L513.86,113.71 L514.76,113.63 L515.66,113.57 L516.57,113.52 L517.47,113.48 L518.38,113.45 L519.28,113.44 L520.18,113.44 L521.09,113.44 L521.99,113.44 L522.9,113.44 L523.8,113.44 L524.71,113.44 L525.61,113.44 L526.51,113.44 L527.42,113.44 L528.32,113.44 L529.23,113.46 L530.13,113.52 L531.03,113.63 L531.94,113.76 L532.84,113.91 L533.75,114.07 L534.65,114.24 L535.55,114.38 L536.46,114.51 L537.36,114.61 L538.27,114.68 L539.17,114.72 L540.08,114.76 L540.98,114.8 L541.88,114.83 L542.79,114.87 L543.69,114.93 L544.6,115 L545.5,115.12 L546.4,115.33 L547.31,115.64 L548.21,116.02 L549.12,116.47 L550.02,117.09 L550.92,118.12 L551.83,119.41 L552.73,120.81 L553.64,122.17 L554.54,123.42 L555.45,124.71 L556.35,126.02 L557.25,127.32 L558.16,128.57 L559.06,129.73 L559.97,130.79 L560.87,131.78 L561.77,132.72 L562.68,133.62 L563.58,134.49 L564.49,135.34 L565.39,136.2 L566.29,137.05 L567.2,137.88 L568.1,138.69 L569.01,139.45 L569.91,140.16 L570.81,140.79 L571.72,141.37 L572.62,141.91 L573.53,142.43 L574.43,142.94 L575.34,143.44 L576.24,143.97" stroke="#90d050" stroke-width="1.3" fill="none" stroke-linejoin="round" stroke-linecap="round"/>
<path d="M479.5,124.34h0M481.31,121.76h0M483.13,119.78h0M484.94,118.8h0M486.76,118.08h0M488.57,117.8h0M490.39,118.31h0M492.2,119.27h0M494.02,119.78h0M495.83,119.38h0M497.65,118.59h0M499.46,117.56h0M501.28,116.32h0M503.1,115.42h0M504.91,114.94h0M506.73,114.55h0M508.54,114.25h0M510.36,114.03h0M512.17,113.86h0M513.99,113.69h0M515.8,113.56h0M517.62,113.47h0M519.43,113.44h0M521.25,113.44h0M523.06,113.44h0M524.88,113.44h0M526.69,113.44h0M528.5,113.44h0M530.32,113.54h0M532.13,113.79h0M533.95,114.11h0M535.76,114.42h0M537.58,114.63h0M539.39,114.73h0M541.21,114.81h0M543.02,114.89h0M544.84,115.03h0M546.65,115.41h0M548.47,116.14h0M550.28,117.36h0M552.1,119.83h0M553.91,122.56h0M555.73,125.12h0M557.54,127.73h0M559.36,130.09h0M561.17,132.1h0M562.99,133.92h0M564.8,135.64h0M566.62,137.35h0M568.43,138.97h0M570.25,140.4h0M572.07,141.58h0M573.88,142.63h0M575.69,143.65h0" stroke="#90d050" stroke-width="1.8" fill="none" stroke-linecap="round"/>
<path d="M576.24,143.97 L577.51,138.42" stroke="#90d050" stroke-width="0.7" fill="none"/>
<path d="M577.51,138.42 L578.41,139 L579.32,139.61 L580.22,140.23 L581.12,140.84 L582.02,141.39 L582.93,141.87 L583.83,142.24 L584.73,142.57 L585.63,142.9 L586.54,143.22 L587.44,143.52 L588.34,143.79 L589.24,144.04 L590.15,144.24 L591.05,144.4 L591.95,144.51 L592.85,144.56 L593.76,143.89 L594.66,142.33 L595.56,142.85 L596.46,145.38 L597.37,148.39 L598.27,150.58 L599.17,152.51 L600.07,154.34 L600.98,156 L601.88,157.42 L602.78,158.58 L603.69,159.57 L604.59,160.47 L605.49,161.27 L606.39,162.02 L607.3,162.73 L608.2,163.41 L609.1,164.1 L610,164.82 L610.91,165.58" stroke="#90d050" stroke-width="1.3" fill="none" stroke-linejoin="round" stroke-linecap="round"/>
<path d="M577.51,138.42h0M579.33,139.62h0M581.14,140.85h0M582.96,141.88h0M584.77,142.59h0M586.59,143.23h0M588.4,143.81h0M590.22,144.25h0M592.03,144.52h0M593.85,143.73h0M595.66,143.05h0M597.48,148.71h0M599.29,152.76h0M601.11,156.21h0M602.92,158.74h0M604.74,160.6h0M606.55,162.14h0M608.37,163.54h0M610.18,164.96h0" stroke="#90d050" stroke-width="1.8" fill="none" stroke-linecap="round"/>
<path d="M610.91,165.58 L612.72,159.59" stroke="#90d050" stroke-width="0.7" fill="none"/>
<path d="M612.72,159.59 L613.62,160.35 L614.52,161.1 L615.42,161.85 L616.33,162.6 L617.23,163.36 L618.13,164.11 L619.03,164.86 L619.93,165.62 L620.83,166.37 L621.73,167.15 L622.63,167.95 L623.53,168.74 L624.43,169.54 L625.34,170.33 L626.24,171.13 L627.14,171.92 L628.04,172.72 L628.94,173.51 L629.84,174.31 L630.74,175.79 L631.64,179.23 L632.54,180.87 L633.44,181.53 L634.35,182.19 L635.25,182.84 L636.15,183.5 L637.05,184.15 L637.95,184.81" stroke="#90d050" stroke-width="1.45" fill="none" stroke-linejoin="round" stroke-linecap="round"/>
<path d="M370.7,237.14 L371.61,236.29 L372.52,235.43 L373.43,234.58 L374.34,233.72 L375.25,232.87 L376.16,232.01 L377.07,231.16 L377.98,230.32 L378.89,229.49 L379.8,228.66 L380.71,227.84 L381.62,226.99 L382.53,226.14 L383.44,225.3 L384.35,224.46 L385.26,223.65 L386.17,222.86 L387.08,222.11 L387.99,221.4 L388.9,220.74 L389.81,220.08 L390.72,219.38 L391.63,218.68 L392.54,218.02 L393.45,217.43 L394.36,216.97 L395.27,216.66 L396.18,216.55 L397.09,216.56 L398,216.61 L398.91,216.69 L399.82,216.8 L400.73,216.94 L401.64,217.1 L402.55,217.49 L403.46,218.22 L404.37,219.18 L405.28,220.27 L406.19,221.63 L407.1,223.41 L408.01,225.51 L408.92,227.81 L409.83,230.22 L410.74,232.62 L411.65,235.12 L412.56,237.83 L413.47,240.68 L414.38,243.59 L415.29,246.47 L416.2,249.26 L417.11,252.01 L418.02,254.83 L418.93,257.62 L419.84,260.31 L420.75,262.83 L421.66,265.1 L422.57,267.12 L423.48,268.98 L424.39,270.71 L425.3,272.38 L426.21,274.01 L427.12,275.66 L428.03,277.37" stroke="#1572c6" stroke-width="1.3" fill="none" stroke-linejoin="round" stroke-linecap="round"/>
<path d="M370.7,237.14h0M372.52,235.43h0M374.34,233.72h0M376.16,232.01h0M377.98,230.32h0M379.8,228.66h0M381.62,226.99h0M383.44,225.3h0M385.26,223.65h0M387.08,222.11h0M388.9,220.74h0M390.72,219.38h0M392.54,218.02h0M394.36,216.97h0M396.18,216.55h0M398,216.61h0M399.82,216.8h0M401.64,217.1h0M403.46,218.22h0M405.28,220.27h0M407.1,223.41h0M408.92,227.81h0M410.74,232.62h0M412.56,237.83h0M414.38,243.59h0M416.2,249.26h0M418.02,254.83h0M419.84,260.31h0M421.66,265.1h0M423.48,268.98h0M425.3,272.38h0M427.12,275.66h0" stroke="#1572c6" stroke-width="1.8" fill="none" stroke-linecap="round"/>
<path d="M370.7,234.68 L371.61,234.25 L372.52,233.82 L373.43,233.4 L374.34,232.98 L375.25,232.56 L376.16,232.13 L377.07,231.69 L377.98,231.24 L378.89,230.75 L379.8,230.25 L380.71,229.7 L381.62,229.09 L382.53,228.45 L383.44,227.78 L384.35,227.09 L385.26,226.41 L386.17,225.73 L387.08,225.09 L387.99,224.47 L388.9,223.91 L389.81,223.38 L390.72,222.84 L391.63,222.3 L392.54,221.78 L393.45,221.28 L394.36,220.8 L395.27,220.36 L396.18,219.96 L397.09,219.61 L398,219.32 L398.91,219.05 L399.82,218.79 L400.73,218.53 L401.64,218.3 L402.55,218.1 L403.46,217.95 L404.37,217.85 L405.28,217.81 L406.19,217.87 L407.1,218.03 L408.01,218.27 L408.92,218.58 L409.83,218.93 L410.74,219.32 L411.65,219.86 L412.56,220.65 L413.47,221.62 L414.38,222.7 L415.29,223.83 L416.2,224.94 L417.11,226.07 L418.02,227.28 L418.93,228.55 L419.84,229.87 L420.75,231.24 L421.66,232.62 L422.57,234.05 L423.48,235.53 L424.39,237.05 L425.3,238.61 L426.21,240.2 L427.12,241.81 L428.03,243.51 L428.94,245.32 L429.85,247.16 L430.76,248.96 L431.67,250.63 L432.58,252.11 L433.49,253.44 L434.4,254.71 L435.31,255.91 L436.22,257 L437.13,257.96 L438.04,258.76 L438.95,259.4 L439.86,259.93 L440.77,260.4 L441.68,260.85 L442.59,261.35 L443.5,261.93 L444.41,262.64 L445.32,263.44 L446.23,264.28 L447.14,265.1" stroke="#10aef0" stroke-width="1.3" fill="none" stroke-linejoin="round" stroke-linecap="round"/>
<path d="M370.7,234.68h0M372.52,233.82h0M374.34,232.98h0M376.16,232.13h0M377.98,231.24h0M379.8,230.25h0M381.62,229.09h0M383.44,227.78h0M385.26,226.41h0M387.08,225.09h0M388.9,223.91h0M390.72,222.84h0M392.54,221.78h0M394.36,220.8h0M396.18,219.96h0M398,219.32h0M399.82,218.79h0M401.64,218.3h0M403.46,217.95h0M405.28,217.81h0M407.1,218.03h0M408.92,218.58h0M410.74,219.32h0M412.56,220.65h0M414.38,222.7h0M416.2,224.94h0M418.02,227.28h0M419.84,229.87h0M421.66,232.62h0M423.48,235.53h0M425.3,238.61h0M427.12,241.81h0M428.94,245.32h0M430.76,248.96h0M432.58,252.11h0M434.4,254.71h0M436.22,257h0M438.04,258.76h0M439.86,259.93h0M441.68,260.85h0M443.5,261.93h0M445.32,263.44h0M447.14,265.1h0" stroke="#10aef0" stroke-width="1.8" fill="none" stroke-linecap="round"/>
<path d="M447.14,265.1 L447.69,258.76" stroke="#10aef0" stroke-width="0.7" fill="none"/>
<path d="M447.69,258.76 L448.62,248.29 L449.54,249.66 L450.47,251.03 L451.4,252.4 L452.33,253.78 L453.26,255.15 L454.19,256.52 L455.12,257.9 L456.05,259.27 L456.98,260.54 L457.91,261.79 L458.84,263.03 L459.77,264.28 L460.69,265.52 L461.62,266.77 L462.55,268.01 L463.48,269.26 L464.41,270.5 L465.34,271.75" stroke="#10aef0" stroke-width="1.45" fill="none" stroke-linejoin="round" stroke-linecap="round"/>
<path d="M465.34,271.75 L465.34,271.75" stroke="#10aef0" stroke-width="0.7" fill="none"/>
<path d="M465.34,271.75 L466.25,268.32 L467.16,264.88 L468.07,261.45 L468.98,262.56 L469.89,263.67 L470.8,264.78 L471.71,265.89 L472.62,267 L473.53,268.11 L474.44,269.21 L475.35,270.32 L476.26,271.43" stroke="#10aef0" stroke-width="1.45" fill="none" stroke-linejoin="round" stroke-linecap="round"/>
<path d="M479.5,222.72 L480.41,222.58 L481.31,222.43 L482.22,222.29 L483.13,222.15 L484.04,222.01 L484.94,221.87 L485.85,221.72 L486.76,221.56 L487.67,221.4 L488.57,221.22 L489.48,221.03 L490.39,220.81 L491.3,220.58 L492.2,220.34 L493.11,220.1 L494.02,219.85 L494.93,219.6 L495.83,219.36 L496.74,219.13 L497.65,218.92 L498.56,218.71 L499.46,218.47 L500.37,218.23 L501.28,217.99 L502.19,217.76 L503.1,217.55 L504,217.37 L504.91,217.23 L505.82,217.13 L506.73,217.1 L507.63,217.1 L508.54,217.1 L509.45,217.1 L510.36,217.1 L511.26,217.1 L512.17,217.1 L513.08,217.1 L513.99,217.1 L514.89,217.19 L515.8,217.43 L516.71,217.8 L517.62,218.25 L518.52,218.77 L519.43,219.32 L520.34,220.03 L521.25,220.99 L522.15,222.14 L523.06,223.39 L523.97,224.67 L524.88,225.89 L525.78,227.08 L526.69,228.29 L527.6,229.54 L528.5,230.81 L529.41,232.1 L530.32,233.42 L531.23,234.76 L532.13,236.15 L533.04,237.56 L533.95,238.98 L534.86,240.4 L535.76,241.81 L536.67,243.22 L537.58,244.63 L538.49,246.04 L539.39,247.45 L540.3,248.84 L541.21,250.21 L542.12,251.76 L543.02,253.5 L543.93,255.12 L544.84,256.31 L545.75,256.78 L546.65,256.04 L547.56,254.8" stroke="#10aa50" stroke-width="1.3" fill="none" stroke-linejoin="round" stroke-linecap="round"/>
<path d="M479.5,222.72h0M481.31,222.43h0M483.13,222.15h0M484.94,221.87h0M486.76,221.56h0M488.57,221.22h0M490.39,220.81h0M492.2,220.34h0M494.02,219.85h0M495.83,219.36h0M497.65,218.92h0M499.46,218.47h0M501.28,217.99h0M503.1,217.55h0M504.91,217.23h0M506.73,217.1h0M508.54,217.1h0M510.36,217.1h0M512.17,217.1h0M513.99,217.1h0M515.8,217.43h0M517.62,218.25h0M519.43,219.32h0M521.25,220.99h0M523.06,223.39h0M524.88,225.89h0M526.69,228.29h0M528.5,230.81h0M530.32,233.42h0M532.13,236.15h0M533.95,238.98h0M535.76,241.81h0M537.58,244.63h0M539.39,247.45h0M541.21,250.21h0M543.02,253.5h0M544.84,256.31h0M546.65,256.04h0" stroke="#10aa50" stroke-width="1.8" fill="none" stroke-linecap="round"/>
<path d="M547.56,254.8 L547.56,254.8" stroke="#10aa50" stroke-width="0.7" fill="none"/>
<path d="M547.56,254.8 L548.47,257.18 L549.38,259.55 L550.28,262.98 L551.19,266.42 L552.1,269.85 L553.01,271.7 L553.91,273.54 L554.82,275.39" stroke="#10aa50" stroke-width="0.95" fill="none" stroke-linejoin="round" stroke-linecap="round"/>
<path d="M479.5,223.99 L480.4,223.87 L481.31,223.75 L482.21,223.63 L483.12,223.51 L484.02,223.39 L484.92,223.27 L485.83,223.15 L486.73,223.02 L487.64,222.88 L488.54,222.73 L489.45,222.57 L490.35,222.39 L491.25,222.2 L492.16,222 L493.06,221.79 L493.97,221.58 L494.87,221.37 L495.77,221.16 L496.68,220.95 L497.58,220.76 L498.49,220.57 L499.39,220.39 L500.29,220.2 L501.2,220.02 L502.1,219.84 L503.01,219.66 L503.91,219.48 L504.82,219.3 L505.72,219.12 L506.62,218.94 L507.53,218.76 L508.43,218.56 L509.34,218.36 L510.24,218.16 L511.14,217.97 L512.05,217.77 L512.95,217.59 L513.86,217.42 L514.76,217.26 L515.66,217.12 L516.57,216.99 L517.47,216.86 L518.38,216.73 L519.28,216.61 L520.18,216.49 L521.09,216.38 L521.99,216.29 L522.9,216.22 L523.8,216.17 L524.71,216.15 L525.61,216.15 L526.51,216.15 L527.42,216.15 L528.32,216.15 L529.23,216.15 L530.13,216.15 L531.03,216.15 L531.94,216.15 L532.84,216.15 L533.75,216.15 L534.65,216.16 L535.55,216.21 L536.46,216.3 L537.36,216.41 L538.27,216.55 L539.17,216.72 L540.08,216.9 L540.98,217.1 L541.88,217.3 L542.79,217.52 L543.69,217.76 L544.6,218.07 L545.5,218.45 L546.4,218.88 L547.31,219.35 L548.21,219.86 L549.12,220.39 L550.02,220.93 L550.92,221.48 L551.83,222.01 L552.73,222.55 L553.64,223.11 L554.54,223.71 L555.45,224.34 L556.35,224.97 L557.25,225.61 L558.16,226.25 L559.06,226.88 L559.97,227.49 L560.87,228.08 L561.77,228.63 L562.68,229.16 L563.58,229.68 L564.49,230.19 L565.39,230.69 L566.29,231.18 L567.2,231.68 L568.1,232.18 L569.01,232.69 L569.91,233.22 L570.81,233.75 L571.72,234.31 L572.62,234.87 L573.53,235.43 L574.43,236 L575.34,236.57 L576.24,237.14" stroke="#90d050" stroke-width="1.3" fill="none" stroke-linejoin="round" stroke-linecap="round"/>
<path d="M479.5,223.99h0M481.31,223.75h0M483.13,223.51h0M484.94,223.27h0M486.76,223.01h0M488.57,222.72h0M490.39,222.38h0M492.2,221.99h0M494.02,221.57h0M495.83,221.14h0M497.65,220.74h0M499.46,220.37h0M501.28,220h0M503.1,219.64h0M504.91,219.28h0M506.73,218.92h0M508.54,218.54h0M510.36,218.14h0M512.17,217.75h0M513.99,217.39h0M515.8,217.1h0M517.62,216.84h0M519.43,216.59h0M521.25,216.37h0M523.06,216.21h0M524.88,216.15h0M526.69,216.15h0M528.5,216.15h0M530.32,216.15h0M532.13,216.15h0M533.95,216.15h0M535.76,216.23h0M537.58,216.44h0M539.39,216.76h0M541.21,217.15h0M543.02,217.58h0M544.84,218.16h0M546.65,219h0M548.47,220.01h0M550.28,221.09h0M552.1,222.17h0M553.91,223.3h0M555.73,224.53h0M557.54,225.82h0M559.36,227.09h0M561.17,228.27h0M562.99,229.35h0M564.8,230.37h0M566.62,231.36h0M568.43,232.37h0M570.25,233.42h0M572.07,234.52h0M573.88,235.66h0M575.69,236.8h0" stroke="#90d050" stroke-width="1.8" fill="none" stroke-linecap="round"/>
<path d="M576.24,237.14 L577.51,231.52" stroke="#90d050" stroke-width="0.7" fill="none"/>
<path d="M577.51,231.52 L578.41,232.22 L579.32,232.93 L580.22,233.65 L581.12,234.36 L582.02,235.07 L582.93,235.76 L583.83,236.45 L584.73,237.11 L585.63,237.75 L586.54,238.36 L587.44,238.96 L588.34,239.54 L589.24,240.13 L590.15,240.71 L591.05,241.31 L591.95,241.93 L592.85,242.57 L593.76,243.24 L594.66,243.93 L595.56,244.65 L596.46,245.38 L597.37,246.12 L598.27,246.87 L599.17,247.63 L600.07,248.39 L600.98,249.15 L601.88,249.91 L602.78,250.68 L603.69,251.45 L604.59,252.23 L605.49,253.01 L606.39,253.8 L607.3,254.59 L608.2,255.37 L609.1,256.16 L610,256.95 L610.91,257.73" stroke="#90d050" stroke-width="1.3" fill="none" stroke-linejoin="round" stroke-linecap="round"/>
<path d="M577.51,231.52h0M579.33,232.94h0M581.14,234.37h0M582.96,235.79h0M584.77,237.14h0M586.59,238.39h0M588.4,239.58h0M590.22,240.76h0M592.03,241.98h0M593.85,243.31h0M595.66,244.73h0M597.48,246.21h0M599.29,247.73h0M601.11,249.26h0M602.92,250.79h0M604.74,252.36h0M606.55,253.93h0M608.37,255.52h0M610.18,257.1h0" stroke="#90d050" stroke-width="1.8" fill="none" stroke-linecap="round"/>
<path d="M610.91,257.73 L612.72,254.8" stroke="#90d050" stroke-width="0.7" fill="none"/>
<path d="M612.72,254.8 L613.63,255.67 L614.55,256.53 L615.46,257.4 L616.38,258.27 L617.29,259.14 L618.2,260 L619.12,260.87 L620.03,261.74 L620.95,262.6 L621.86,263.56 L622.77,264.52 L623.69,265.49 L624.6,266.46 L625.52,267.43 L626.43,268.39 L627.34,269.36 L628.26,270.33 L629.17,271.3 L630.09,271.29 L631,270.43 L631.91,269.57 L632.83,270.22 L633.74,270.95 L634.66,271.68 L635.57,272.41 L636.48,273.14 L637.4,273.87 L638.31,274.6" stroke="#90d050" stroke-width="1.45" fill="none" stroke-linejoin="round" stroke-linecap="round"/>
<path d="M370.7,365.55 L371.61,365.22 L372.52,364.9 L373.43,364.58 L374.34,364.26 L375.25,363.94 L376.16,363.61 L377.07,363.28 L377.98,362.94 L378.89,362.59 L379.8,362.22 L380.71,361.84 L381.62,361.45 L382.53,361.05 L383.44,360.64 L384.35,360.22 L385.26,359.79 L386.17,359.35 L387.08,358.89 L387.99,358.42 L388.9,357.94 L389.81,357.45 L390.72,356.96 L391.63,356.44 L392.54,355.88 L393.45,355.28 L394.36,354.61 L395.27,353.89 L396.18,353.11 L397.09,352.24 L398,351.26 L398.91,350.16 L399.82,348.91 L400.73,347.19 L401.64,344.98 L402.55,342.65 L403.46,340.59 L404.37,338.83 L405.28,337.18 L406.19,335.63 L407.1,334.17 L408.01,332.75 L408.92,331.36 L409.83,330.02 L410.74,328.76 L411.65,327.6 L412.56,326.56 L413.47,325.61 L414.38,324.72 L415.29,323.9 L416.2,323.13 L417.11,322.43 L418.02,321.8 L418.93,321.18 L419.84,320.54 L420.75,319.93 L421.66,319.43 L422.57,319.08 L423.48,318.95 L424.39,319.02 L425.3,319.19 L426.21,319.43 L427.12,319.68 L428.03,319.9" stroke="#1572c6" stroke-width="1.3" fill="none" stroke-linejoin="round" stroke-linecap="round"/>
<path d="M370.7,365.55h0M372.52,364.9h0M374.34,364.26h0M376.16,363.61h0M377.98,362.94h0M379.8,362.22h0M381.62,361.45h0M383.44,360.64h0M385.26,359.79h0M387.08,358.89h0M388.9,357.94h0M390.72,356.96h0M392.54,355.88h0M394.36,354.61h0M396.18,353.11h0M398,351.26h0M399.82,348.91h0M401.64,344.98h0M403.46,340.59h0M405.28,337.18h0M407.1,334.17h0M408.92,331.36h0M410.74,328.76h0M412.56,326.56h0M414.38,324.72h0M416.2,323.13h0M418.02,321.8h0M419.84,320.54h0M421.66,319.43h0M423.48,318.95h0M425.3,319.19h0M427.12,319.68h0" stroke="#1572c6" stroke-width="1.8" fill="none" stroke-linecap="round"/>
<path d="M370.7,356.51 L371.61,357.1 L372.52,357.68 L373.43,357.94 L374.34,357.33 L375.25,356.18 L376.16,355.56 L377.07,355.58 L377.98,355.61 L378.89,355.67 L379.8,355.73 L380.71,355.8 L381.62,355.87 L382.53,355.94 L383.44,355.99 L384.35,356.03 L385.26,356.04 L386.17,356.02 L387.08,355.95 L387.99,355.85 L388.9,355.72 L389.81,355.58 L390.72,355.42 L391.63,355.25 L392.54,355.09 L393.45,354.92 L394.36,354.73 L395.27,354.52 L396.18,354.3 L397.09,354.05 L398,353.78 L398.91,353.49 L399.82,353.19 L400.73,352.84 L401.64,352.45 L402.55,352.02 L403.46,351.54 L404.37,351.04 L405.28,350.51 L406.19,349.95 L407.1,349.38 L408.01,348.78 L408.92,348.12 L409.83,347.41 L410.74,346.67 L411.65,345.9 L412.56,345.1 L413.47,344.27 L414.38,343.38 L415.29,342.46 L416.2,341.51 L417.11,340.56 L418.02,339.63 L418.93,338.72 L419.84,337.8 L420.75,336.89 L421.66,335.97 L422.57,335.05 L423.48,334.13 L424.39,333.2 L425.3,332.26 L426.21,331.3 L427.12,330.3 L428.03,329.27 L428.94,328.26 L429.85,327.26 L430.76,326.32 L431.67,325.44 L432.58,324.66 L433.49,323.93 L434.4,323.21 L435.31,322.52 L436.22,321.87 L437.13,321.27 L438.04,320.73 L438.95,320.27 L439.86,319.9 L440.77,319.57 L441.68,319.26 L442.59,319.04 L443.5,318.95 L444.41,318.95 L445.32,318.95 L446.23,318.95 L447.14,318.95" stroke="#10aef0" stroke-width="1.3" fill="none" stroke-linejoin="round" stroke-linecap="round"/>
<path d="M370.7,356.51h0M372.52,357.68h0M374.34,357.33h0M376.16,355.56h0M377.98,355.61h0M379.8,355.73h0M381.62,355.87h0M383.44,355.99h0M385.26,356.04h0M387.08,355.95h0M388.9,355.72h0M390.72,355.42h0M392.54,355.09h0M394.36,354.73h0M396.18,354.3h0M398,353.78h0M399.82,353.19h0M401.64,352.45h0M403.46,351.54h0M405.28,350.51h0M407.1,349.38h0M408.92,348.12h0M410.74,346.67h0M412.56,345.1h0M414.38,343.38h0M416.2,341.51h0M418.02,339.63h0M419.84,337.8h0M421.66,335.97h0M423.48,334.13h0M425.3,332.26h0M427.12,330.3h0M428.94,328.26h0M430.76,326.32h0M432.58,324.66h0M434.4,323.21h0M436.22,321.87h0M438.04,320.73h0M439.86,319.9h0M441.68,319.26h0M443.5,318.95h0M445.32,318.95h0M447.14,318.95h0" stroke="#10aef0" stroke-width="1.8" fill="none" stroke-linecap="round"/>
<path d="M447.14,318.95 L448.05,325.61" stroke="#10aef0" stroke-width="0.7" fill="none"/>
<path d="M448.05,325.61 L448.96,325.18 L449.87,324.76 L450.78,324.34 L451.69,323.92 L452.6,323.49 L453.51,323.07 L454.42,322.65 L455.33,322.23 L456.24,321.8 L457.15,321.42 L458.06,321.04 L458.97,320.66 L459.88,320.28 L460.79,319.9 L461.7,319.52 L462.61,319.14 L463.52,318.76 L464.43,318.38 L465.34,318 L466.25,318.54 L467.16,319.08 L468.07,319.62 L468.98,318.76 L469.89,317.9 L470.8,317.05 L471.71,315.98 L472.62,314.91 L473.53,313.84 L474.44,312.77 L475.35,312.53 L476.26,312.29" stroke="#10aef0" stroke-width="1.45" fill="none" stroke-linejoin="round" stroke-linecap="round"/>
<path d="M480.41,355.56 L481.31,352.46 L482.22,349.36 L483.13,347.96 L484.04,348.12 L484.94,348.52 L485.85,349 L486.76,349.38 L487.67,349.64 L488.57,349.85 L489.48,350.04 L490.39,350.24 L491.3,350.49 L492.2,350.81 L493.11,351.46 L494.02,352.42 L494.93,353.29 L495.83,353.66 L496.74,353.3 L497.65,352.46 L498.56,351.51 L499.46,350.81 L500.37,350.4 L501.28,350.06 L502.19,349.76 L503.1,349.48 L504,349.21 L504.91,348.91 L505.82,348.6 L506.73,348.32 L507.63,348.04 L508.54,347.73 L509.45,347.4 L510.36,347 L511.26,346.5 L512.17,345.88 L513.08,345.18 L513.99,344.47 L514.89,343.79 L515.8,343.2 L516.71,342.71 L517.62,342.29 L518.52,341.91 L519.43,341.53 L520.34,341.14 L521.25,340.72 L522.15,340.22 L523.06,339.63 L523.97,338.86 L524.88,337.88 L525.78,336.76 L526.69,335.56 L527.6,334.36 L528.5,333.22 L529.41,332.15 L530.32,331.1 L531.23,330.05 L532.13,328.96 L533.04,327.81 L533.95,326.56 L534.86,325.13 L535.76,323.5 L536.67,321.79 L537.58,320.08 L538.49,318.47 L539.39,317.05 L540.3,315.72 L541.21,314.37 L542.12,313.15 L543.02,312.18 L543.93,311.58 L544.84,311.28 L545.75,311.08 L546.65,310.87" stroke="#10aa50" stroke-width="1.3" fill="none" stroke-linejoin="round" stroke-linecap="round"/>
<path d="M481.31,352.46h0M483.13,347.96h0M484.94,348.52h0M486.76,349.38h0M488.57,349.85h0M490.39,350.24h0M492.2,350.81h0M494.02,352.42h0M495.83,353.66h0M497.65,352.46h0M499.46,350.81h0M501.28,350.06h0M503.1,349.48h0M504.91,348.91h0M506.73,348.32h0M508.54,347.73h0M510.36,347h0M512.17,345.88h0M513.99,344.47h0M515.8,343.2h0M517.62,342.29h0M519.43,341.53h0M521.25,340.72h0M523.06,339.63h0M524.88,337.88h0M526.69,335.56h0M528.5,333.22h0M530.32,331.1h0M532.13,328.96h0M533.95,326.56h0M535.76,323.5h0M537.58,320.08h0M539.39,317.05h0M541.21,314.37h0M543.02,312.18h0M544.84,311.28h0M546.65,310.87h0" stroke="#10aa50" stroke-width="1.8" fill="none" stroke-linecap="round"/>
<path d="M546.65,310.87 L546.65,310.87" stroke="#10aa50" stroke-width="0.7" fill="none"/>
<path d="M546.65,310.87 L547.56,311.34 L548.47,311.82 L549.38,312.29 L550.28,310.87 L551.19,309.44 L552.1,308.01 L553.01,307.38 L553.91,306.75 L554.82,306.11" stroke="#10aa50" stroke-width="0.95" fill="none" stroke-linejoin="round" stroke-linecap="round"/>
<path d="M479.5,349.86 L480.4,348.7 L481.31,347.54 L482.21,347.01 L483.12,347.18 L484.02,347.6 L484.92,348.13 L485.83,348.61 L486.73,348.9 L487.64,349.01 L488.54,349.08 L489.45,349.14 L490.35,349.19 L491.25,349.26 L492.16,349.38 L493.06,349.73 L493.97,350.36 L494.87,350.98 L495.77,351.28 L496.68,351.16 L497.58,350.82 L498.49,350.37 L499.39,349.91 L500.29,349.55 L501.2,349.38 L502.1,349.42 L503.01,349.52 L503.91,349.67 L504.82,349.84 L505.72,350.01 L506.62,350.17 L507.53,350.28 L508.43,350.33 L509.34,350.33 L510.24,350.33 L511.14,350.33 L512.05,350.33 L512.95,350.33 L513.86,350.33 L514.76,350.33 L515.66,350.33 L516.57,350.32 L517.47,350.25 L518.38,350.15 L519.28,350.02 L520.18,349.88 L521.09,349.72 L521.99,349.56 L522.9,349.41 L523.8,349.26 L524.71,349.09 L525.61,348.9 L526.51,348.71 L527.42,348.51 L528.32,348.32 L529.23,348.15 L530.13,347.99 L531.03,347.85 L531.94,347.72 L532.84,347.6 L533.75,347.48 L534.65,347.37 L535.55,347.26 L536.46,347.15 L537.36,347.03 L538.27,346.92 L539.17,346.8 L540.08,346.69 L540.98,346.58 L541.88,346.46 L542.79,346.34 L543.69,346.22 L544.6,346.09 L545.5,345.96 L546.4,345.84 L547.31,345.72 L548.21,345.59 L549.12,345.41 L550.02,345.18 L550.92,344.77 L551.83,343.93 L552.73,342.88 L553.64,341.83 L554.54,340.9 L555.45,339.95 L556.35,338.99 L557.25,338.05 L558.16,337.15 L559.06,336.32 L559.97,335.57 L560.87,334.84 L561.77,334.15 L562.68,333.5 L563.58,332.92 L564.49,332.42 L565.39,331.99 L566.29,331.59 L567.2,331.21 L568.1,330.88 L569.01,330.61 L569.91,330.41 L570.81,330.29 L571.72,330.2 L572.62,330.13 L573.53,330.07 L574.43,330.01 L575.34,329.95 L576.24,329.89" stroke="#90d050" stroke-width="1.3" fill="none" stroke-linejoin="round" stroke-linecap="round"/>
<path d="M479.5,349.86h0M481.31,347.53h0M483.13,347.18h0M484.94,348.14h0M486.76,348.91h0M488.57,349.09h0M490.39,349.19h0M492.2,349.38h0M494.02,350.4h0M495.83,351.28h0M497.65,350.79h0M499.46,349.88h0M501.28,349.38h0M503.1,349.53h0M504.91,349.86h0M506.73,350.18h0M508.54,350.33h0M510.36,350.33h0M512.17,350.33h0M513.99,350.33h0M515.8,350.33h0M517.62,350.24h0M519.43,350h0M521.25,349.69h0M523.06,349.38h0M524.88,349.05h0M526.69,348.67h0M528.5,348.29h0M530.32,347.96h0M532.13,347.69h0M533.95,347.46h0M535.76,347.23h0M537.58,347h0M539.39,346.77h0M541.21,346.55h0M543.02,346.31h0M544.84,346.05h0M546.65,345.81h0M548.47,345.54h0M550.28,345.1h0M552.1,343.63h0M553.91,341.54h0M555.73,339.65h0M557.54,337.75h0M559.36,336.07h0M561.17,334.61h0M562.99,333.29h0M564.8,332.26h0M566.62,331.45h0M568.43,330.77h0M570.25,330.36h0M572.07,330.17h0M573.88,330.05h0M575.69,329.93h0" stroke="#90d050" stroke-width="1.8" fill="none" stroke-linecap="round"/>
<path d="M576.24,329.89 L577.51,331.31" stroke="#90d050" stroke-width="0.7" fill="none"/>
<path d="M577.51,331.31 L578.41,331.08 L579.32,330.81 L580.22,330.53 L581.12,330.28 L582.02,330.07 L582.93,329.93 L583.83,329.89 L584.73,329.92 L585.63,330 L586.54,330.12 L587.44,330.28 L588.34,330.48 L589.24,330.72 L590.15,330.99 L591.05,331.29 L591.95,331.96 L592.85,333.14 L593.76,334.22 L594.66,334.64 L595.56,334.13 L596.46,333.01 L597.37,331.56 L598.27,330.08 L599.17,328.88 L600.07,328.19 L600.98,327.67 L601.88,327.22 L602.78,326.83 L603.69,326.48 L604.59,326.14 L605.49,325.81 L606.39,325.51 L607.3,325.24 L608.2,324.97 L609.1,324.71 L610,324.45 L610.91,324.18" stroke="#90d050" stroke-width="1.3" fill="none" stroke-linejoin="round" stroke-linecap="round"/>
<path d="M577.51,331.31h0M579.33,330.81h0M581.14,330.27h0M582.96,329.92h0M584.77,329.92h0M586.59,330.13h0M588.4,330.5h0M590.22,331.01h0M592.03,332.06h0M593.85,334.3h0M595.66,334.04h0M597.48,331.37h0M599.29,328.76h0M601.11,327.6h0M602.92,326.78h0M604.74,326.08h0M606.55,325.46h0M608.37,324.92h0M610.18,324.4h0" stroke="#90d050" stroke-width="1.8" fill="none" stroke-linecap="round"/>
<path d="M610.91,324.18 L612.72,327.51" stroke="#90d050" stroke-width="0.7" fill="none"/>
<path d="M612.72,327.51 L613.63,327.25 L614.55,326.99 L615.46,326.73 L616.38,326.47 L617.29,326.21 L618.2,325.95 L619.12,325.69 L620.03,325.43 L620.95,325.17 L621.86,324.85 L622.77,324.53 L623.69,324.21 L624.6,323.89 L625.52,323.56 L626.43,323.24 L627.34,322.92 L628.26,322.6 L629.17,322.27 L630.09,321.95 L631,319.54 L631.91,315.35 L632.83,314.91 L633.74,314.67 L634.66,314.42 L635.57,314.17 L636.48,313.93 L637.4,313.68 L638.31,313.43" stroke="#90d050" stroke-width="1.45" fill="none" stroke-linejoin="round" stroke-linecap="round"/>
<path d="M374.34,485.01 L377.98,482.25 L381.62,476.72 L385.26,470.81 L388.9,467.38 L392.54,461.28 L396.18,456.71 L400.37,450.99 L403.46,454.8 L407.1,460.14 L410.74,468.15 L414.38,477.1 L418.02,481.11 L421.66,484.16 L425.3,490.26 L427.12,491.02 L428.03,489.68" stroke="#1572c6" stroke-width="1.1" fill="none" stroke-linejoin="round" stroke-linecap="round"/>
<path d="M374.34,485.01h0M376.16,483.63h0M377.98,482.25h0M379.8,479.49h0M381.62,476.72h0M383.44,473.77h0M385.26,470.81h0M387.08,469.1h0M388.9,467.38h0M390.72,464.33h0M392.54,461.28h0M394.36,459h0M396.18,456.71h0M398,454.22h0M399.82,451.74h0M401.64,452.56h0M403.46,454.8h0M405.28,457.47h0M407.1,460.14h0M408.92,464.14h0M410.74,468.15h0M412.56,472.63h0M414.38,477.1h0M416.2,479.11h0M418.02,481.11h0M419.84,482.63h0M421.66,484.16h0M423.48,487.21h0M425.3,490.26h0M427.12,491.02h0" stroke="#1572c6" stroke-width="1.7" fill="none" stroke-linecap="round"/>
<path d="M374.34,485.01 L379.8,482.25 L385.26,477.29 L388.9,473.86 L394.36,470.24 L399.82,469.29 L405.28,467.76 L410.74,465.67 L414.38,469.48 L418.02,473.1 L421.66,475.96 L425.3,478.06 L428.94,481.49" stroke="#10aef0" stroke-width="1.1" fill="none" stroke-linejoin="round" stroke-linecap="round"/>
<path d="M374.34,485.01h0M376.16,484.09h0M377.98,483.17h0M379.8,482.25h0M381.62,480.6h0M383.44,478.95h0M385.26,477.29h0M387.08,475.58h0M388.9,473.86h0M390.72,472.66h0M392.54,471.45h0M394.36,470.24h0M396.18,469.92h0M398,469.61h0M399.82,469.29h0M401.64,468.78h0M403.46,468.27h0M405.28,467.76h0M407.1,467.07h0M408.92,466.37h0M410.74,465.67h0M412.56,467.57h0M414.38,469.48h0M416.2,471.29h0M418.02,473.1h0M419.84,474.53h0M421.66,475.96h0M423.48,477.01h0M425.3,478.06h0M427.12,479.77h0M428.94,481.49h0" stroke="#10aef0" stroke-width="1.7" fill="none" stroke-linecap="round"/>
<path d="M428.94,481.49 L428.94,481.49" stroke="#10aef0" stroke-width="0.7" fill="none"/>
<path d="M428.94,481.49 L432.58,485.3 L436.22,490.06 L438.95,486.44 L441.68,483.97 L445.32,485.87 L448.96,487.97 L452.6,494.83 L456.24,487.97 L458.06,483.2 L461.7,484.73 L465.34,483.58 L468.98,485.11 L472.62,484.73 L476.26,487.4" stroke="#10aef0" stroke-width="1.1" fill="none" stroke-linejoin="round" stroke-linecap="round"/>
<path d="M428.94,481.49h0M430.76,483.39h0M432.58,485.3h0M434.4,487.68h0M436.22,490.06h0M438.04,487.65h0M439.86,485.62h0M441.68,483.97h0M443.5,484.92h0M445.32,485.87h0M447.14,486.92h0M448.96,487.97h0M450.78,491.4h0M452.6,494.83h0M454.42,491.4h0M456.24,487.97h0M458.06,483.2h0M459.88,483.97h0M461.7,484.73h0M463.52,484.16h0M465.34,483.58h0M467.16,484.35h0M468.98,485.11h0M470.8,484.92h0M472.62,484.73h0M474.44,486.06h0M476.26,487.4h0" stroke="#10aef0" stroke-width="1.7" fill="none" stroke-linecap="round"/>
<path d="M483.13,482.25 L486.76,474.82 L490.39,467.38 L494.02,464.91 L497.65,463.57 L501.28,457.09 L504.91,441.08 L508.54,432.69 L510.36,435.55 L513.99,438.22 L517.62,441.08 L521.25,448.61 L524.88,458.9 L528.5,464.52 L532.13,471.96 L535.76,472.34 L539.39,476.72 L543.02,483.2 L546.65,485.11" stroke="#10aa50" stroke-width="1.1" fill="none" stroke-linejoin="round" stroke-linecap="round"/>
<path d="M483.13,482.25h0M484.94,478.53h0M486.76,474.82h0M488.57,471.1h0M490.39,467.38h0M492.2,466.14h0M494.02,464.91h0M495.83,464.24h0M497.65,463.57h0M499.46,460.33h0M501.28,457.09h0M503.1,449.09h0M504.91,441.08h0M506.73,436.89h0M508.54,432.69h0M510.36,435.55h0M512.17,436.89h0M513.99,438.22h0M515.8,439.65h0M517.62,441.08h0M519.43,444.85h0M521.25,448.61h0M523.06,453.76h0M524.88,458.9h0M526.69,461.71h0M528.5,464.52h0M530.32,468.24h0M532.13,471.96h0M533.95,472.15h0M535.76,472.34h0M537.58,474.53h0M539.39,476.72h0M541.21,479.96h0M543.02,483.2h0M544.84,484.16h0M546.65,485.11h0" stroke="#10aa50" stroke-width="1.9" fill="none" stroke-linecap="round"/>
<path d="M546.65,485.11 L546.65,485.11" stroke="#10aa50" stroke-width="0.7" fill="none"/>
<path d="M546.65,485.11 L550.28,494.45 L553.01,501.5 L554.82,491.59" stroke="#10aa50" stroke-width="1.3" fill="none" stroke-linejoin="round" stroke-linecap="round"/>
<path d="M546.65,485.11h0M548.47,489.78h0M550.28,494.45h0M552.1,499.15h0M553.91,496.55h0" stroke="#10aa50" stroke-width="1.5" fill="none" stroke-linecap="round"/>
<path d="M483.13,479.58 L486.76,480.92 L490.39,482.25 L494.02,481.49 L497.65,482.82 L501.28,479.96 L504.91,475.77 L508.54,473.86 L512.17,474.82 L515.8,479.58 L519.43,476.72 L523.06,478.63 L526.69,484.73 L530.32,484.73 L533.95,477.68 L537.58,477.68 L541.21,481.49 L544.84,486.06 L548.47,481.49 L552.1,478.63 L555.73,479.2 L559.36,482.82 L562.99,484.16 L566.62,480.92 L569.71,475.77 L572.43,484.16 L574.79,494.07 L579.14,487.02 L583.68,478.63 L586.59,483.2 L590.22,486.06 L593.12,483.2 L596.93,484.73 L601.47,481.49 L605.28,487.4 L610,492.54 L612.72,486.06" stroke="#90d050" stroke-width="1.1" fill="none" stroke-linejoin="round" stroke-linecap="round"/>
<path d="M483.13,479.58h0M484.94,480.25h0M486.76,480.92h0M488.57,481.58h0M490.39,482.25h0M492.2,481.87h0M494.02,481.49h0M495.83,482.16h0M497.65,482.82h0M499.46,481.39h0M501.28,479.96h0M503.1,477.87h0M504.91,475.77h0M506.73,474.82h0M508.54,473.86h0M510.36,474.34h0M512.17,474.82h0M513.99,477.2h0M515.8,479.58h0M517.62,478.15h0M519.43,476.72h0M521.25,477.68h0M523.06,478.63h0M524.88,481.68h0M526.69,484.73h0M528.5,484.73h0M530.32,484.73h0M532.13,481.2h0M533.95,477.68h0M535.76,477.68h0M537.58,477.68h0M539.39,479.58h0M541.21,481.49h0M543.02,483.78h0M544.84,486.06h0M546.65,483.78h0M548.47,481.49h0M550.28,480.06h0M552.1,478.63h0M553.91,478.91h0M555.73,479.2h0M557.54,481.01h0M559.36,482.82h0M561.17,483.49h0M562.99,484.16h0M564.8,482.54h0M566.62,480.92h0M568.43,477.89h0M570.25,477.45h0M572.07,483.04h0M573.88,490.26h0M575.69,492.6h0M577.51,489.66h0M579.33,486.68h0M581.14,483.33h0M582.96,479.97h0M584.77,480.34h0M586.59,483.2h0M588.4,484.63h0M590.22,486.06h0M592.03,484.28h0M593.85,483.49h0M595.66,484.22h0M597.48,484.34h0M599.29,483.04h0M601.11,481.75h0M602.92,483.74h0M604.74,486.55h0M606.55,488.78h0M608.37,490.76h0M610.18,492.11h0M612,487.79h0" stroke="#90d050" stroke-width="1.9" fill="none" stroke-linecap="round"/>
<path d="M612.72,486.06 L612.72,486.06" stroke="#90d050" stroke-width="0.7" fill="none"/>
<path d="M612.72,486.06 L614.72,484.73 L621.07,485.87 L626.88,487.02 L633.77,486.06 L640.85,485.49" stroke="#90d050" stroke-width="1.3" fill="none" stroke-linejoin="round" stroke-linecap="round"/>
<path d="M613.81,485.33h0M615.62,484.89h0M617.44,485.22h0M619.25,485.55h0M621.07,485.87h0M622.88,486.23h0M624.7,486.59h0M626.51,486.94h0M628.33,486.81h0M630.14,486.56h0M631.96,486.31h0M633.77,486.06h0M635.59,485.92h0M637.4,485.77h0M639.22,485.62h0" stroke="#90d050" stroke-width="1.5" fill="none" stroke-linecap="round"/>
<path d="M65.2,55.82 V116.6 M62.6,113.89999999999999 L65.2,116.6 L67.8,113.89999999999999" stroke="#2f80cc" stroke-width="0.85" fill="none"/>
<path d="M187.0,37.53 V137.2 M184.3,134.6 L187.0,137.2 L189.7,134.6" stroke="#2fb268" stroke-width="0.85" fill="none"/>
<line x1="642.6" y1="104.2" x2="642.6" y2="294.3" stroke="#111" stroke-width="0.9"/>
<line x1="642.6" y1="112.25" x2="647.2" y2="112.25" stroke="#111" stroke-width="0.8"/>
<line x1="642.6" y1="120.18" x2="647.2" y2="120.18" stroke="#111" stroke-width="0.8"/>
<line x1="642.6" y1="136.04" x2="647.2" y2="136.04" stroke="#111" stroke-width="0.8"/>
<line x1="642.6" y1="151.9" x2="647.2" y2="151.9" stroke="#111" stroke-width="0.8"/>
<line x1="642.6" y1="167.76" x2="647.2" y2="167.76" stroke="#111" stroke-width="0.8"/>
<line x1="642.6" y1="183.62" x2="647.2" y2="183.62" stroke="#111" stroke-width="0.8"/>
<line x1="642.6" y1="215.2" x2="647.2" y2="215.2" stroke="#111" stroke-width="0.8"/>
<line x1="642.6" y1="231.04" x2="647.2" y2="231.04" stroke="#111" stroke-width="0.8"/>
<line x1="642.6" y1="246.88" x2="647.2" y2="246.88" stroke="#111" stroke-width="0.8"/>
<line x1="642.6" y1="262.72" x2="647.2" y2="262.72" stroke="#111" stroke-width="0.8"/>
<line x1="642.6" y1="278.56" x2="647.2" y2="278.56" stroke="#111" stroke-width="0.8"/>
<line x1="642.6" y1="104.2" x2="647.2" y2="104.2" stroke="#111" stroke-width="0.8"/>
<line x1="642.6" y1="199.2" x2="647.2" y2="199.2" stroke="#111" stroke-width="0.8"/>
<path d="M336.3,418.9 L336.3,425.0 Q336.3,427.5 333.5,427.2" stroke="#111" stroke-width="1.25" fill="none"/>
<path d="M579.4,11.9 L584.7,10.75 L590.1,11.9 L584.7,13.05 Z" fill="#1572c6"/>
<circle cx="584.7" cy="11.9" r="2.55" fill="#1572c6"/>
<path d="M579.4,19.4 L584.7,18.25 L590.1,19.4 L584.7,20.55 Z" fill="#10aef0"/>
<circle cx="584.7" cy="19.4" r="2.55" fill="#10aef0"/>
<path d="M579.4,27.2 L584.7,26.05 L590.1,27.2 L584.7,28.35 Z" fill="#10aa50"/>
<circle cx="584.7" cy="27.2" r="2.55" fill="#10aa50"/>
<path d="M579.4,34.6 L584.7,33.45 L590.1,34.6 L584.7,35.75 Z" fill="#90d050"/>
<circle cx="584.7" cy="34.6" r="2.55" fill="#90d050"/>
<rect x="579.8" y="39.3" width="7.4" height="7.3" fill="#1572c6" fill-opacity="0.55" stroke="#1572c6" stroke-width="0.6"/>
<rect x="584.3" y="42.3" width="7.3" height="7" fill="#10aef0" fill-opacity="0.55" stroke="#10aef0" stroke-width="0.6"/>
<rect x="579.8" y="51.5" width="7.4" height="6.9" fill="#10aa50" fill-opacity="0.55" stroke="#10aa50" stroke-width="0.6"/>
<rect x="584.3" y="54.5" width="7.3" height="6.9" fill="#90d050" fill-opacity="0.55" stroke="#90d050" stroke-width="0.6"/>
<line x1="324" y1="4" x2="324" y2="534" stroke="#484848" stroke-width="1.15" stroke-dasharray="1 1"/>
<line x1="1" y1="413.2" x2="685" y2="413.2" stroke="#484848" stroke-width="1.15" stroke-dasharray="1 1"/>
<g style="filter:brightness(1)" stroke-width="0.09" paint-order="stroke" text-rendering="geometricPrecision">
<text x="31.6" y="94.95" font-size="6.1" text-anchor="end" fill="#0a0a0a" stroke="#0a0a0a" font-family="Liberation Sans, sans-serif" textLength="6.62" lengthAdjust="spacingAndGlyphs" >20</text>
<text x="31.6" y="83.15" font-size="6.1" text-anchor="end" fill="#0a0a0a" stroke="#0a0a0a" font-family="Liberation Sans, sans-serif" textLength="6.62" lengthAdjust="spacingAndGlyphs" >40</text>
<text x="31.6" y="71.35" font-size="6.1" text-anchor="end" fill="#0a0a0a" stroke="#0a0a0a" font-family="Liberation Sans, sans-serif" textLength="6.62" lengthAdjust="spacingAndGlyphs" >60</text>
<text x="31.6" y="59.55" font-size="6.1" text-anchor="end" fill="#0a0a0a" stroke="#0a0a0a" font-family="Liberation Sans, sans-serif" textLength="6.62" lengthAdjust="spacingAndGlyphs" >80</text>
<text x="31.6" y="47.75" font-size="6.1" text-anchor="end" fill="#0a0a0a" stroke="#0a0a0a" font-family="Liberation Sans, sans-serif" textLength="9.92" lengthAdjust="spacingAndGlyphs" >100</text>
<text x="31.6" y="35.95" font-size="6.1" text-anchor="end" fill="#0a0a0a" stroke="#0a0a0a" font-family="Liberation Sans, sans-serif" textLength="9.92" lengthAdjust="spacingAndGlyphs" >120</text>
<text x="31.6" y="24.15" font-size="6.1" text-anchor="end" fill="#0a0a0a" stroke="#0a0a0a" font-family="Liberation Sans, sans-serif" textLength="9.92" lengthAdjust="spacingAndGlyphs" >140</text>
<text x="31.6" y="188.85" font-size="6.1" text-anchor="end" fill="#0a0a0a" stroke="#0a0a0a" font-family="Liberation Sans, sans-serif" textLength="3.31" lengthAdjust="spacingAndGlyphs" >0</text>
<text x="31.6" y="175.27" font-size="6.1" text-anchor="end" fill="#0a0a0a" stroke="#0a0a0a" font-family="Liberation Sans, sans-serif" textLength="14.89" lengthAdjust="spacingAndGlyphs" >1,000</text>
<text x="31.6" y="161.69" font-size="6.1" text-anchor="end" fill="#0a0a0a" stroke="#0a0a0a" font-family="Liberation Sans, sans-serif" textLength="14.89" lengthAdjust="spacingAndGlyphs" >2,000</text>
<text x="31.6" y="148.11" font-size="6.1" text-anchor="end" fill="#0a0a0a" stroke="#0a0a0a" font-family="Liberation Sans, sans-serif" textLength="14.89" lengthAdjust="spacingAndGlyphs" >3,000</text>
<text x="31.6" y="134.53" font-size="6.1" text-anchor="end" fill="#0a0a0a" stroke="#0a0a0a" font-family="Liberation Sans, sans-serif" textLength="14.89" lengthAdjust="spacingAndGlyphs" >4,000</text>
<text x="31.6" y="120.95" font-size="6.1" text-anchor="end" fill="#0a0a0a" stroke="#0a0a0a" font-family="Liberation Sans, sans-serif" textLength="14.89" lengthAdjust="spacingAndGlyphs" >5,000</text>
<text x="31.6" y="285.1" font-size="6.1" text-anchor="end" fill="#0a0a0a" stroke="#0a0a0a" font-family="Liberation Sans, sans-serif" textLength="6.62" lengthAdjust="spacingAndGlyphs" >10</text>
<text x="31.6" y="273.25" font-size="6.1" text-anchor="end" fill="#0a0a0a" stroke="#0a0a0a" font-family="Liberation Sans, sans-serif" textLength="6.62" lengthAdjust="spacingAndGlyphs" >20</text>
<text x="31.6" y="261.4" font-size="6.1" text-anchor="end" fill="#0a0a0a" stroke="#0a0a0a" font-family="Liberation Sans, sans-serif" textLength="6.62" lengthAdjust="spacingAndGlyphs" >30</text>
<text x="31.6" y="249.55" font-size="6.1" text-anchor="end" fill="#0a0a0a" stroke="#0a0a0a" font-family="Liberation Sans, sans-serif" textLength="6.62" lengthAdjust="spacingAndGlyphs" >40</text>
<text x="31.6" y="237.7" font-size="6.1" text-anchor="end" fill="#0a0a0a" stroke="#0a0a0a" font-family="Liberation Sans, sans-serif" textLength="6.62" lengthAdjust="spacingAndGlyphs" >50</text>
<text x="31.6" y="225.85" font-size="6.1" text-anchor="end" fill="#0a0a0a" stroke="#0a0a0a" font-family="Liberation Sans, sans-serif" textLength="6.62" lengthAdjust="spacingAndGlyphs" >60</text>
<text x="31.6" y="214" font-size="6.1" text-anchor="end" fill="#0a0a0a" stroke="#0a0a0a" font-family="Liberation Sans, sans-serif" textLength="6.62" lengthAdjust="spacingAndGlyphs" >70</text>
<text x="31.6" y="373.45" font-size="6.1" text-anchor="end" fill="#0a0a0a" stroke="#0a0a0a" font-family="Liberation Sans, sans-serif" textLength="3.31" lengthAdjust="spacingAndGlyphs" >4</text>
<text x="31.6" y="354.35" font-size="6.1" text-anchor="end" fill="#0a0a0a" stroke="#0a0a0a" font-family="Liberation Sans, sans-serif" textLength="3.31" lengthAdjust="spacingAndGlyphs" >8</text>
<text x="31.6" y="335.25" font-size="6.1" text-anchor="end" fill="#0a0a0a" stroke="#0a0a0a" font-family="Liberation Sans, sans-serif" textLength="6.62" lengthAdjust="spacingAndGlyphs" >12</text>
<text x="31.6" y="316.15" font-size="6.1" text-anchor="end" fill="#0a0a0a" stroke="#0a0a0a" font-family="Liberation Sans, sans-serif" textLength="6.62" lengthAdjust="spacingAndGlyphs" >16</text>
<text x="31.6" y="500.45" font-size="6.1" text-anchor="end" fill="#0a0a0a" stroke="#0a0a0a" font-family="Liberation Sans, sans-serif" textLength="9.92" lengthAdjust="spacingAndGlyphs" >100</text>
<text x="31.6" y="484.55" font-size="6.1" text-anchor="end" fill="#0a0a0a" stroke="#0a0a0a" font-family="Liberation Sans, sans-serif" textLength="9.92" lengthAdjust="spacingAndGlyphs" >200</text>
<text x="31.6" y="468.65" font-size="6.1" text-anchor="end" fill="#0a0a0a" stroke="#0a0a0a" font-family="Liberation Sans, sans-serif" textLength="9.92" lengthAdjust="spacingAndGlyphs" >300</text>
<text x="31.6" y="452.75" font-size="6.1" text-anchor="end" fill="#0a0a0a" stroke="#0a0a0a" font-family="Liberation Sans, sans-serif" textLength="9.92" lengthAdjust="spacingAndGlyphs" >400</text>
<text x="31.6" y="436.85" font-size="6.1" text-anchor="end" fill="#0a0a0a" stroke="#0a0a0a" font-family="Liberation Sans, sans-serif" textLength="9.92" lengthAdjust="spacingAndGlyphs" >500</text>
<text x="367.7" y="91.07" font-size="6.1" text-anchor="end" fill="#0a0a0a" stroke="#0a0a0a" font-family="Liberation Sans, sans-serif" textLength="9.92" lengthAdjust="spacingAndGlyphs" >100</text>
<text x="367.7" y="59.31" font-size="6.1" text-anchor="end" fill="#0a0a0a" stroke="#0a0a0a" font-family="Liberation Sans, sans-serif" textLength="9.92" lengthAdjust="spacingAndGlyphs" >300</text>
<text x="367.7" y="43.43" font-size="6.1" text-anchor="end" fill="#0a0a0a" stroke="#0a0a0a" font-family="Liberation Sans, sans-serif" textLength="9.92" lengthAdjust="spacingAndGlyphs" >400</text>
<text x="367.7" y="27.55" font-size="6.1" text-anchor="end" fill="#0a0a0a" stroke="#0a0a0a" font-family="Liberation Sans, sans-serif" textLength="9.92" lengthAdjust="spacingAndGlyphs" >500</text>
<text x="367.7" y="186.17" font-size="6.1" text-anchor="end" fill="#0a0a0a" stroke="#0a0a0a" font-family="Liberation Sans, sans-serif" textLength="10.25" lengthAdjust="spacingAndGlyphs" >-0.8</text>
<text x="367.7" y="170.31" font-size="6.1" text-anchor="end" fill="#0a0a0a" stroke="#0a0a0a" font-family="Liberation Sans, sans-serif" textLength="10.25" lengthAdjust="spacingAndGlyphs" >-0.4</text>
<text x="367.7" y="154.45" font-size="6.1" text-anchor="end" fill="#0a0a0a" stroke="#0a0a0a" font-family="Liberation Sans, sans-serif" textLength="3.31" lengthAdjust="spacingAndGlyphs" >0</text>
<text x="367.7" y="138.59" font-size="6.1" text-anchor="end" fill="#0a0a0a" stroke="#0a0a0a" font-family="Liberation Sans, sans-serif" textLength="8.27" lengthAdjust="spacingAndGlyphs" >0.4</text>
<text x="367.7" y="122.73" font-size="6.1" text-anchor="end" fill="#0a0a0a" stroke="#0a0a0a" font-family="Liberation Sans, sans-serif" textLength="8.27" lengthAdjust="spacingAndGlyphs" >0.8</text>
<text x="367.7" y="281.11" font-size="6.1" text-anchor="end" fill="#0a0a0a" stroke="#0a0a0a" font-family="Liberation Sans, sans-serif" textLength="8.27" lengthAdjust="spacingAndGlyphs" >0.2</text>
<text x="367.7" y="265.27" font-size="6.1" text-anchor="end" fill="#0a0a0a" stroke="#0a0a0a" font-family="Liberation Sans, sans-serif" textLength="8.27" lengthAdjust="spacingAndGlyphs" >0.4</text>
<text x="367.7" y="249.43" font-size="6.1" text-anchor="end" fill="#0a0a0a" stroke="#0a0a0a" font-family="Liberation Sans, sans-serif" textLength="8.27" lengthAdjust="spacingAndGlyphs" >0.6</text>
<text x="367.7" y="233.59" font-size="6.1" text-anchor="end" fill="#0a0a0a" stroke="#0a0a0a" font-family="Liberation Sans, sans-serif" textLength="8.27" lengthAdjust="spacingAndGlyphs" >0.8</text>
<text x="367.7" y="373.33" font-size="6.1" text-anchor="end" fill="#0a0a0a" stroke="#0a0a0a" font-family="Liberation Sans, sans-serif" textLength="6.62" lengthAdjust="spacingAndGlyphs" >40</text>
<text x="367.7" y="354.31" font-size="6.1" text-anchor="end" fill="#0a0a0a" stroke="#0a0a0a" font-family="Liberation Sans, sans-serif" textLength="6.62" lengthAdjust="spacingAndGlyphs" >80</text>
<text x="367.7" y="335.29" font-size="6.1" text-anchor="end" fill="#0a0a0a" stroke="#0a0a0a" font-family="Liberation Sans, sans-serif" textLength="9.92" lengthAdjust="spacingAndGlyphs" >120</text>
<text x="367.7" y="316.27" font-size="6.1" text-anchor="end" fill="#0a0a0a" stroke="#0a0a0a" font-family="Liberation Sans, sans-serif" textLength="9.92" lengthAdjust="spacingAndGlyphs" >160</text>
<text x="367.7" y="506.91" font-size="6.1" text-anchor="end" fill="#0a0a0a" stroke="#0a0a0a" font-family="Liberation Sans, sans-serif" textLength="20.18" lengthAdjust="spacingAndGlyphs" >-10,000</text>
<text x="367.7" y="487.85" font-size="6.1" text-anchor="end" fill="#0a0a0a" stroke="#0a0a0a" font-family="Liberation Sans, sans-serif" textLength="3.31" lengthAdjust="spacingAndGlyphs" >0</text>
<text x="367.7" y="468.79" font-size="6.1" text-anchor="end" fill="#0a0a0a" stroke="#0a0a0a" font-family="Liberation Sans, sans-serif" textLength="18.2" lengthAdjust="spacingAndGlyphs" >10,000</text>
<text x="367.7" y="449.73" font-size="6.1" text-anchor="end" fill="#0a0a0a" stroke="#0a0a0a" font-family="Liberation Sans, sans-serif" textLength="18.2" lengthAdjust="spacingAndGlyphs" >20,000</text>
<text x="367.7" y="430.67" font-size="6.1" text-anchor="end" fill="#0a0a0a" stroke="#0a0a0a" font-family="Liberation Sans, sans-serif" textLength="18.2" lengthAdjust="spacingAndGlyphs" >30,000</text>
<text x="31.6" y="53.65" font-size="6.1" text-anchor="end" fill="#ee1c25" stroke="#ee1c25" font-family="Liberation Sans, sans-serif" textLength="6.62" lengthAdjust="spacingAndGlyphs" >90</text>
<text x="367.7" y="71.15" font-size="6.1" text-anchor="end" fill="#ee1c25" stroke="#ee1c25" font-family="Liberation Sans, sans-serif" textLength="9.92" lengthAdjust="spacingAndGlyphs" >230</text>
<text x="367.7" y="114.8" font-size="6.1" text-anchor="end" fill="#ee1c25" stroke="#ee1c25" font-family="Liberation Sans, sans-serif" textLength="8.27" lengthAdjust="spacingAndGlyphs" >1.0</text>
<text x="367.7" y="217.75" font-size="6.1" text-anchor="end" fill="#ee1c25" stroke="#ee1c25" font-family="Liberation Sans, sans-serif" textLength="8.27" lengthAdjust="spacingAndGlyphs" >1.0</text>
<text x="367.7" y="349.56" font-size="6.1" text-anchor="end" fill="#ee1c25" stroke="#ee1c25" font-family="Liberation Sans, sans-serif" textLength="6.62" lengthAdjust="spacingAndGlyphs" >90</text>
<text x="31.6" y="392.55" font-size="6.1" text-anchor="end" fill="#0a0a0a" stroke="#0a0a0a" font-family="Liberation Sans, sans-serif" textLength="3.31" lengthAdjust="spacingAndGlyphs" >0</text>
<text x="31.6" y="516.35" font-size="6.1" text-anchor="end" fill="#0a0a0a" stroke="#0a0a0a" font-family="Liberation Sans, sans-serif" textLength="3.31" lengthAdjust="spacingAndGlyphs" >0</text>
<text x="367.7" y="392.35" font-size="6.1" text-anchor="end" fill="#0a0a0a" stroke="#0a0a0a" font-family="Liberation Sans, sans-serif" textLength="3.31" lengthAdjust="spacingAndGlyphs" >0</text>
<text x="34.6" y="397.45" font-size="6.1" text-anchor="middle" fill="#0a0a0a" stroke="#0a0a0a" font-family="Liberation Sans, sans-serif" textLength="3.31" lengthAdjust="spacingAndGlyphs" >0</text>
<text x="52.8" y="397.45" font-size="6.1" text-anchor="middle" fill="#0a0a0a" stroke="#0a0a0a" font-family="Liberation Sans, sans-serif" textLength="6.62" lengthAdjust="spacingAndGlyphs" >10</text>
<text x="71" y="397.45" font-size="6.1" text-anchor="middle" fill="#0a0a0a" stroke="#0a0a0a" font-family="Liberation Sans, sans-serif" textLength="6.62" lengthAdjust="spacingAndGlyphs" >20</text>
<text x="89.2" y="397.45" font-size="6.1" text-anchor="middle" fill="#0a0a0a" stroke="#0a0a0a" font-family="Liberation Sans, sans-serif" textLength="6.62" lengthAdjust="spacingAndGlyphs" >30</text>
<text x="107.4" y="397.45" font-size="6.1" text-anchor="middle" fill="#0a0a0a" stroke="#0a0a0a" font-family="Liberation Sans, sans-serif" textLength="6.62" lengthAdjust="spacingAndGlyphs" >40</text>
<text x="125.6" y="397.45" font-size="6.1" text-anchor="middle" fill="#0a0a0a" stroke="#0a0a0a" font-family="Liberation Sans, sans-serif" textLength="6.62" lengthAdjust="spacingAndGlyphs" >50</text>
<text x="143.5" y="397.45" font-size="6.1" text-anchor="middle" fill="#0a0a0a" stroke="#0a0a0a" font-family="Liberation Sans, sans-serif" textLength="3.31" lengthAdjust="spacingAndGlyphs" >0</text>
<text x="161.6" y="397.45" font-size="6.1" text-anchor="middle" fill="#0a0a0a" stroke="#0a0a0a" font-family="Liberation Sans, sans-serif" textLength="6.62" lengthAdjust="spacingAndGlyphs" >10</text>
<text x="179.7" y="397.45" font-size="6.1" text-anchor="middle" fill="#0a0a0a" stroke="#0a0a0a" font-family="Liberation Sans, sans-serif" textLength="6.62" lengthAdjust="spacingAndGlyphs" >20</text>
<text x="197.8" y="397.45" font-size="6.1" text-anchor="middle" fill="#0a0a0a" stroke="#0a0a0a" font-family="Liberation Sans, sans-serif" textLength="6.62" lengthAdjust="spacingAndGlyphs" >30</text>
<text x="215.9" y="397.45" font-size="6.1" text-anchor="middle" fill="#0a0a0a" stroke="#0a0a0a" font-family="Liberation Sans, sans-serif" textLength="6.62" lengthAdjust="spacingAndGlyphs" >40</text>
<text x="234" y="397.45" font-size="6.1" text-anchor="middle" fill="#0a0a0a" stroke="#0a0a0a" font-family="Liberation Sans, sans-serif" textLength="6.62" lengthAdjust="spacingAndGlyphs" >50</text>
<text x="252.1" y="397.45" font-size="6.1" text-anchor="middle" fill="#0a0a0a" stroke="#0a0a0a" font-family="Liberation Sans, sans-serif" textLength="6.62" lengthAdjust="spacingAndGlyphs" >60</text>
<text x="270.2" y="397.45" font-size="6.1" text-anchor="middle" fill="#0a0a0a" stroke="#0a0a0a" font-family="Liberation Sans, sans-serif" textLength="6.62" lengthAdjust="spacingAndGlyphs" >70</text>
<text x="288.3" y="397.45" font-size="6.1" text-anchor="middle" fill="#0a0a0a" stroke="#0a0a0a" font-family="Liberation Sans, sans-serif" textLength="6.62" lengthAdjust="spacingAndGlyphs" >80</text>
<text x="306.4" y="397.45" font-size="6.1" text-anchor="middle" fill="#0a0a0a" stroke="#0a0a0a" font-family="Liberation Sans, sans-serif" textLength="6.62" lengthAdjust="spacingAndGlyphs" >90</text>
<text x="370.7" y="397.45" font-size="6.1" text-anchor="middle" fill="#0a0a0a" stroke="#0a0a0a" font-family="Liberation Sans, sans-serif" textLength="3.31" lengthAdjust="spacingAndGlyphs" >0</text>
<text x="388.9" y="397.45" font-size="6.1" text-anchor="middle" fill="#0a0a0a" stroke="#0a0a0a" font-family="Liberation Sans, sans-serif" textLength="6.62" lengthAdjust="spacingAndGlyphs" >10</text>
<text x="407.1" y="397.45" font-size="6.1" text-anchor="middle" fill="#0a0a0a" stroke="#0a0a0a" font-family="Liberation Sans, sans-serif" textLength="6.62" lengthAdjust="spacingAndGlyphs" >20</text>
<text x="425.3" y="397.45" font-size="6.1" text-anchor="middle" fill="#0a0a0a" stroke="#0a0a0a" font-family="Liberation Sans, sans-serif" textLength="6.62" lengthAdjust="spacingAndGlyphs" >30</text>
<text x="443.5" y="397.45" font-size="6.1" text-anchor="middle" fill="#0a0a0a" stroke="#0a0a0a" font-family="Liberation Sans, sans-serif" textLength="6.62" lengthAdjust="spacingAndGlyphs" >40</text>
<text x="461.7" y="397.45" font-size="6.1" text-anchor="middle" fill="#0a0a0a" stroke="#0a0a0a" font-family="Liberation Sans, sans-serif" textLength="6.62" lengthAdjust="spacingAndGlyphs" >50</text>
<text x="479.5" y="397.45" font-size="6.1" text-anchor="middle" fill="#0a0a0a" stroke="#0a0a0a" font-family="Liberation Sans, sans-serif" textLength="3.31" lengthAdjust="spacingAndGlyphs" >0</text>
<text x="497.65" y="397.45" font-size="6.1" text-anchor="middle" fill="#0a0a0a" stroke="#0a0a0a" font-family="Liberation Sans, sans-serif" textLength="6.62" lengthAdjust="spacingAndGlyphs" >10</text>
<text x="515.8" y="397.45" font-size="6.1" text-anchor="middle" fill="#0a0a0a" stroke="#0a0a0a" font-family="Liberation Sans, sans-serif" textLength="6.62" lengthAdjust="spacingAndGlyphs" >20</text>
<text x="533.95" y="397.45" font-size="6.1" text-anchor="middle" fill="#0a0a0a" stroke="#0a0a0a" font-family="Liberation Sans, sans-serif" textLength="6.62" lengthAdjust="spacingAndGlyphs" >30</text>
<text x="552.1" y="397.45" font-size="6.1" text-anchor="middle" fill="#0a0a0a" stroke="#0a0a0a" font-family="Liberation Sans, sans-serif" textLength="6.62" lengthAdjust="spacingAndGlyphs" >40</text>
<text x="570.25" y="397.45" font-size="6.1" text-anchor="middle" fill="#0a0a0a" stroke="#0a0a0a" font-family="Liberation Sans, sans-serif" textLength="6.62" lengthAdjust="spacingAndGlyphs" >50</text>
<text x="588.4" y="397.45" font-size="6.1" text-anchor="middle" fill="#0a0a0a" stroke="#0a0a0a" font-family="Liberation Sans, sans-serif" textLength="6.62" lengthAdjust="spacingAndGlyphs" >60</text>
<text x="606.55" y="397.45" font-size="6.1" text-anchor="middle" fill="#0a0a0a" stroke="#0a0a0a" font-family="Liberation Sans, sans-serif" textLength="6.62" lengthAdjust="spacingAndGlyphs" >70</text>
<text x="624.7" y="397.45" font-size="6.1" text-anchor="middle" fill="#0a0a0a" stroke="#0a0a0a" font-family="Liberation Sans, sans-serif" textLength="6.62" lengthAdjust="spacingAndGlyphs" >80</text>
<text x="642.85" y="397.45" font-size="6.1" text-anchor="middle" fill="#0a0a0a" stroke="#0a0a0a" font-family="Liberation Sans, sans-serif" textLength="6.62" lengthAdjust="spacingAndGlyphs" >90</text>
<text x="150.9" y="406.9" font-size="6.5" text-anchor="start" fill="#0a0a0a" stroke="#0a0a0a" font-family="Liberation Sans, sans-serif" textLength="41.5" lengthAdjust="spacingAndGlyphs" >Duration (ms)</text>
<text x="487.7" y="406.9" font-size="6.5" text-anchor="start" fill="#0a0a0a" stroke="#0a0a0a" font-family="Liberation Sans, sans-serif" textLength="41.5" lengthAdjust="spacingAndGlyphs" >Duration (ms)</text>
<text x="34.6" y="521.25" font-size="6.1" text-anchor="middle" fill="#0a0a0a" stroke="#0a0a0a" font-family="Liberation Sans, sans-serif" textLength="3.31" lengthAdjust="spacingAndGlyphs" >0</text>
<text x="52.8" y="521.25" font-size="6.1" text-anchor="middle" fill="#0a0a0a" stroke="#0a0a0a" font-family="Liberation Sans, sans-serif" textLength="6.62" lengthAdjust="spacingAndGlyphs" >10</text>
<text x="71" y="521.25" font-size="6.1" text-anchor="middle" fill="#0a0a0a" stroke="#0a0a0a" font-family="Liberation Sans, sans-serif" textLength="6.62" lengthAdjust="spacingAndGlyphs" >20</text>
<text x="89.2" y="521.25" font-size="6.1" text-anchor="middle" fill="#0a0a0a" stroke="#0a0a0a" font-family="Liberation Sans, sans-serif" textLength="6.62" lengthAdjust="spacingAndGlyphs" >30</text>
<text x="107.4" y="521.25" font-size="6.1" text-anchor="middle" fill="#0a0a0a" stroke="#0a0a0a" font-family="Liberation Sans, sans-serif" textLength="6.62" lengthAdjust="spacingAndGlyphs" >40</text>
<text x="125.6" y="521.25" font-size="6.1" text-anchor="middle" fill="#0a0a0a" stroke="#0a0a0a" font-family="Liberation Sans, sans-serif" textLength="6.62" lengthAdjust="spacingAndGlyphs" >50</text>
<text x="143.5" y="521.25" font-size="6.1" text-anchor="middle" fill="#0a0a0a" stroke="#0a0a0a" font-family="Liberation Sans, sans-serif" textLength="3.31" lengthAdjust="spacingAndGlyphs" >0</text>
<text x="161.6" y="521.25" font-size="6.1" text-anchor="middle" fill="#0a0a0a" stroke="#0a0a0a" font-family="Liberation Sans, sans-serif" textLength="6.62" lengthAdjust="spacingAndGlyphs" >10</text>
<text x="179.7" y="521.25" font-size="6.1" text-anchor="middle" fill="#0a0a0a" stroke="#0a0a0a" font-family="Liberation Sans, sans-serif" textLength="6.62" lengthAdjust="spacingAndGlyphs" >20</text>
<text x="197.8" y="521.25" font-size="6.1" text-anchor="middle" fill="#0a0a0a" stroke="#0a0a0a" font-family="Liberation Sans, sans-serif" textLength="6.62" lengthAdjust="spacingAndGlyphs" >30</text>
<text x="215.9" y="521.25" font-size="6.1" text-anchor="middle" fill="#0a0a0a" stroke="#0a0a0a" font-family="Liberation Sans, sans-serif" textLength="6.62" lengthAdjust="spacingAndGlyphs" >40</text>
<text x="234" y="521.25" font-size="6.1" text-anchor="middle" fill="#0a0a0a" stroke="#0a0a0a" font-family="Liberation Sans, sans-serif" textLength="6.62" lengthAdjust="spacingAndGlyphs" >50</text>
<text x="252.1" y="521.25" font-size="6.1" text-anchor="middle" fill="#0a0a0a" stroke="#0a0a0a" font-family="Liberation Sans, sans-serif" textLength="6.62" lengthAdjust="spacingAndGlyphs" >60</text>
<text x="270.2" y="521.25" font-size="6.1" text-anchor="middle" fill="#0a0a0a" stroke="#0a0a0a" font-family="Liberation Sans, sans-serif" textLength="6.62" lengthAdjust="spacingAndGlyphs" >70</text>
<text x="288.3" y="521.25" font-size="6.1" text-anchor="middle" fill="#0a0a0a" stroke="#0a0a0a" font-family="Liberation Sans, sans-serif" textLength="6.62" lengthAdjust="spacingAndGlyphs" >80</text>
<text x="306.4" y="521.25" font-size="6.1" text-anchor="middle" fill="#0a0a0a" stroke="#0a0a0a" font-family="Liberation Sans, sans-serif" textLength="6.62" lengthAdjust="spacingAndGlyphs" >90</text>
<text x="370.7" y="521.25" font-size="6.1" text-anchor="middle" fill="#0a0a0a" stroke="#0a0a0a" font-family="Liberation Sans, sans-serif" textLength="3.31" lengthAdjust="spacingAndGlyphs" >0</text>
<text x="388.9" y="521.25" font-size="6.1" text-anchor="middle" fill="#0a0a0a" stroke="#0a0a0a" font-family="Liberation Sans, sans-serif" textLength="6.62" lengthAdjust="spacingAndGlyphs" >10</text>
<text x="407.1" y="521.25" font-size="6.1" text-anchor="middle" fill="#0a0a0a" stroke="#0a0a0a" font-family="Liberation Sans, sans-serif" textLength="6.62" lengthAdjust="spacingAndGlyphs" >20</text>
<text x="425.3" y="521.25" font-size="6.1" text-anchor="middle" fill="#0a0a0a" stroke="#0a0a0a" font-family="Liberation Sans, sans-serif" textLength="6.62" lengthAdjust="spacingAndGlyphs" >30</text>
<text x="443.5" y="521.25" font-size="6.1" text-anchor="middle" fill="#0a0a0a" stroke="#0a0a0a" font-family="Liberation Sans, sans-serif" textLength="6.62" lengthAdjust="spacingAndGlyphs" >40</text>
<text x="461.7" y="521.25" font-size="6.1" text-anchor="middle" fill="#0a0a0a" stroke="#0a0a0a" font-family="Liberation Sans, sans-serif" textLength="6.62" lengthAdjust="spacingAndGlyphs" >50</text>
<text x="479.5" y="521.25" font-size="6.1" text-anchor="middle" fill="#0a0a0a" stroke="#0a0a0a" font-family="Liberation Sans, sans-serif" textLength="3.31" lengthAdjust="spacingAndGlyphs" >0</text>
<text x="497.65" y="521.25" font-size="6.1" text-anchor="middle" fill="#0a0a0a" stroke="#0a0a0a" font-family="Liberation Sans, sans-serif" textLength="6.62" lengthAdjust="spacingAndGlyphs" >10</text>
<text x="515.8" y="521.25" font-size="6.1" text-anchor="middle" fill="#0a0a0a" stroke="#0a0a0a" font-family="Liberation Sans, sans-serif" textLength="6.62" lengthAdjust="spacingAndGlyphs" >20</text>
<text x="533.95" y="521.25" font-size="6.1" text-anchor="middle" fill="#0a0a0a" stroke="#0a0a0a" font-family="Liberation Sans, sans-serif" textLength="6.62" lengthAdjust="spacingAndGlyphs" >30</text>
<text x="552.1" y="521.25" font-size="6.1" text-anchor="middle" fill="#0a0a0a" stroke="#0a0a0a" font-family="Liberation Sans, sans-serif" textLength="6.62" lengthAdjust="spacingAndGlyphs" >40</text>
<text x="570.25" y="521.25" font-size="6.1" text-anchor="middle" fill="#0a0a0a" stroke="#0a0a0a" font-family="Liberation Sans, sans-serif" textLength="6.62" lengthAdjust="spacingAndGlyphs" >50</text>
<text x="588.4" y="521.25" font-size="6.1" text-anchor="middle" fill="#0a0a0a" stroke="#0a0a0a" font-family="Liberation Sans, sans-serif" textLength="6.62" lengthAdjust="spacingAndGlyphs" >60</text>
<text x="606.55" y="521.25" font-size="6.1" text-anchor="middle" fill="#0a0a0a" stroke="#0a0a0a" font-family="Liberation Sans, sans-serif" textLength="6.62" lengthAdjust="spacingAndGlyphs" >70</text>
<text x="624.7" y="521.25" font-size="6.1" text-anchor="middle" fill="#0a0a0a" stroke="#0a0a0a" font-family="Liberation Sans, sans-serif" textLength="6.62" lengthAdjust="spacingAndGlyphs" >80</text>
<text x="642.85" y="521.25" font-size="6.1" text-anchor="middle" fill="#0a0a0a" stroke="#0a0a0a" font-family="Liberation Sans, sans-serif" textLength="6.62" lengthAdjust="spacingAndGlyphs" >90</text>
<text x="150.9" y="530.7" font-size="6.5" text-anchor="start" fill="#0a0a0a" stroke="#0a0a0a" font-family="Liberation Sans, sans-serif" textLength="41.5" lengthAdjust="spacingAndGlyphs" >Duration (ms)</text>
<text x="487.7" y="530.7" font-size="6.5" text-anchor="start" fill="#0a0a0a" stroke="#0a0a0a" font-family="Liberation Sans, sans-serif" textLength="41.5" lengthAdjust="spacingAndGlyphs" >Duration (ms)</text>
<text x="649.8" y="114.25" font-size="5.7" fill="#ee1c25" stroke="#ee1c25" font-family="Liberation Sans, sans-serif">0<tspan font-size="3.4" dy="-2.2">&#176;</tspan></text>
<text x="649.8" y="122.18" font-size="5.7" fill="#0a0a0a" stroke="#0a0a0a" font-family="Liberation Sans, sans-serif">37<tspan font-size="3.4" dy="-2.2">&#176;</tspan></text>
<text x="649.8" y="138.04" font-size="5.7" fill="#0a0a0a" stroke="#0a0a0a" font-family="Liberation Sans, sans-serif">66<tspan font-size="3.4" dy="-2.2">&#176;</tspan></text>
<text x="649.8" y="153.9" font-size="5.7" fill="#0a0a0a" stroke="#0a0a0a" font-family="Liberation Sans, sans-serif">90<tspan font-size="3.4" dy="-2.2">&#176;</tspan></text>
<text x="649.8" y="169.76" font-size="5.7" fill="#0a0a0a" stroke="#0a0a0a" font-family="Liberation Sans, sans-serif">114<tspan font-size="3.4" dy="-2.2">&#176;</tspan></text>
<text x="649.8" y="185.62" font-size="5.7" fill="#0a0a0a" stroke="#0a0a0a" font-family="Liberation Sans, sans-serif">143<tspan font-size="3.4" dy="-2.2">&#176;</tspan></text>
<text x="649.8" y="217.2" font-size="5.7" fill="#ee1c25" stroke="#ee1c25" font-family="Liberation Sans, sans-serif">90<tspan font-size="3.4" dy="-2.2">&#176;</tspan></text>
<text x="649.8" y="233.04" font-size="5.7" fill="#0a0a0a" stroke="#0a0a0a" font-family="Liberation Sans, sans-serif">53<tspan font-size="3.4" dy="-2.2">&#176;</tspan></text>
<text x="649.8" y="248.88" font-size="5.7" fill="#0a0a0a" stroke="#0a0a0a" font-family="Liberation Sans, sans-serif">37<tspan font-size="3.4" dy="-2.2">&#176;</tspan></text>
<text x="649.8" y="264.72" font-size="5.7" fill="#0a0a0a" stroke="#0a0a0a" font-family="Liberation Sans, sans-serif">24<tspan font-size="3.4" dy="-2.2">&#176;</tspan></text>
<text x="649.8" y="280.56" font-size="5.7" fill="#0a0a0a" stroke="#0a0a0a" font-family="Liberation Sans, sans-serif">12<tspan font-size="3.4" dy="-2.2">&#176;</tspan></text>
<text x="0.9" y="16.1" font-size="12.2" text-anchor="start" fill="#111" stroke="#111" font-family="Liberation Sans, sans-serif" >A</text>
<text x="1.3" y="114" font-size="12.2" text-anchor="start" fill="#111" stroke="#111" font-family="Liberation Sans, sans-serif" >B</text>
<text x="1" y="206.3" font-size="12.2" text-anchor="start" fill="#111" stroke="#111" font-family="Liberation Sans, sans-serif" >C</text>
<text x="1.3" y="305" font-size="12.2" text-anchor="start" fill="#111" stroke="#111" font-family="Liberation Sans, sans-serif" >D</text>
<text x="333.6" y="15.7" font-size="12.2" text-anchor="start" fill="#111" stroke="#111" font-family="Liberation Sans, sans-serif" >E</text>
<text x="333.6" y="113.8" font-size="12.2" text-anchor="start" fill="#111" stroke="#111" font-family="Liberation Sans, sans-serif" >F</text>
<text x="333" y="206.3" font-size="12.2" text-anchor="start" fill="#111" stroke="#111" font-family="Liberation Sans, sans-serif" >G</text>
<text x="333.4" y="304.3" font-size="12.2" text-anchor="start" fill="#111" stroke="#111" font-family="Liberation Sans, sans-serif" >H</text>
<text x="0.9" y="427.7" font-size="13.2" fill="#000" stroke="#000" stroke-width="0.25" font-family="Liberation Serif, serif">I</text>
<text transform="translate(7.2,57) rotate(-90)" font-size="6.7" text-anchor="middle" fill="#0a0a0a" stroke="#0a0a0a" font-family="Liberation Sans, sans-serif" textLength="59" lengthAdjust="spacingAndGlyphs" >Midleg femur angle</text>
<text transform="translate(13.2,57) rotate(-90)" font-size="6.7" text-anchor="middle" fill="#0a0a0a" stroke="#0a0a0a" font-family="Liberation Sans, sans-serif" textLength="28" lengthAdjust="spacingAndGlyphs" >(degrees)</text>
<text transform="translate(7.2,152.4) rotate(-90)" font-size="6.7" text-anchor="middle" fill="#0a0a0a" stroke="#0a0a0a" font-family="Liberation Sans, sans-serif" textLength="68.7" lengthAdjust="spacingAndGlyphs" >Femur angular velocity</text>
<text transform="translate(13.6,152.2) rotate(-90)" font-size="6.7" text-anchor="middle" fill="#0a0a0a" stroke="#0a0a0a" font-family="Liberation Sans, sans-serif" textLength="34" lengthAdjust="spacingAndGlyphs" >(degrees/s)</text>
<text transform="translate(7,247.7) rotate(-90)" font-size="6.7" text-anchor="middle" fill="#0a0a0a" stroke="#0a0a0a" font-family="Liberation Sans, sans-serif" textLength="52.7" lengthAdjust="spacingAndGlyphs" >Femur-tibia angle</text>
<text transform="translate(13.2,247.4) rotate(-90)" font-size="6.7" text-anchor="middle" fill="#0a0a0a" stroke="#0a0a0a" font-family="Liberation Sans, sans-serif" textLength="28.4" lengthAdjust="spacingAndGlyphs" >(degrees)</text>
<text transform="translate(7,342.4) rotate(-90)" font-size="6.7" text-anchor="middle" fill="#0a0a0a" stroke="#0a0a0a" font-family="Liberation Sans, sans-serif" textLength="53.5" lengthAdjust="spacingAndGlyphs" >Tibia-tarsus angle</text>
<text transform="translate(13.2,342.4) rotate(-90)" font-size="6.7" text-anchor="middle" fill="#0a0a0a" stroke="#0a0a0a" font-family="Liberation Sans, sans-serif" textLength="28.4" lengthAdjust="spacingAndGlyphs" >(degrees)</text>
<text transform="translate(7.4,465.9) rotate(-90)" font-size="6.7" text-anchor="middle" fill="#0a0a0a" stroke="#0a0a0a" font-family="Liberation Sans, sans-serif" textLength="65" lengthAdjust="spacingAndGlyphs" >Body velocity (mm/s)</text>
<text transform="translate(339,56.7) rotate(-90)" font-size="6.7" text-anchor="middle" fill="#0a0a0a" stroke="#0a0a0a" font-family="Liberation Sans, sans-serif" textLength="60.2" lengthAdjust="spacingAndGlyphs" >Leg velocity (mm/s)</text>
<text transform="translate(339,151.4) rotate(-90)" font-size="6.7" text-anchor="middle" fill="#0a0a0a" stroke="#0a0a0a" font-family="Liberation Sans, sans-serif" textLength="48" lengthAdjust="spacingAndGlyphs" >Effectiveness of</text>
<text transform="translate(345.6,152.5) rotate(-90)" font-size="6.7" text-anchor="middle" fill="#0a0a0a" stroke="#0a0a0a" font-family="Liberation Sans, sans-serif" textLength="63.2" lengthAdjust="spacingAndGlyphs" >leg velocity direction</text>
<text transform="translate(339,247.4) rotate(-90)" font-size="6.7" text-anchor="middle" fill="#0a0a0a" stroke="#0a0a0a" font-family="Liberation Sans, sans-serif" textLength="46.9" lengthAdjust="spacingAndGlyphs" >Effectiveness of</text>
<text transform="translate(345.2,247.4) rotate(-90)" font-size="6.7" text-anchor="middle" fill="#0a0a0a" stroke="#0a0a0a" font-family="Liberation Sans, sans-serif" textLength="46" lengthAdjust="spacingAndGlyphs" >leg length&#8217;s use</text>
<text transform="translate(339,341.9) rotate(-90)" font-size="6.7" text-anchor="middle" fill="#0a0a0a" stroke="#0a0a0a" font-family="Liberation Sans, sans-serif" textLength="69.8" lengthAdjust="spacingAndGlyphs" >Effectiveness of wetted</text>
<text transform="translate(345.4,341.9) rotate(-90)" font-size="6.7" text-anchor="middle" fill="#0a0a0a" stroke="#0a0a0a" font-family="Liberation Sans, sans-serif" textLength="74.8" lengthAdjust="spacingAndGlyphs" >leg orientation (degrees)</text>
<text transform="translate(339,466.5) rotate(-90)" font-size="6.7" text-anchor="middle" fill="#0a0a0a" stroke="#0a0a0a" font-family="Liberation Sans, sans-serif" textLength="53.7" lengthAdjust="spacingAndGlyphs" >Body acceleration</text>
<text transform="translate(345.4,466.5) rotate(-90)" font-size="6.7" text-anchor="middle" fill="#0a0a0a" stroke="#0a0a0a" font-family="Liberation Sans, sans-serif" textLength="23.6" lengthAdjust="spacingAndGlyphs">(mm/s<tspan font-size="3.6" dy="-2.2">2</tspan><tspan dy="2.2">)</tspan></text>
<text transform="translate(668.6,152) rotate(-90)" font-size="6.6" text-anchor="middle" fill="#0a0a0a" stroke="#0a0a0a" font-family="Liberation Sans, sans-serif" textLength="55.3" lengthAdjust="spacingAndGlyphs" >Angle between leg</text>
<text transform="translate(674.8,151.5) rotate(-90)" font-size="6.6" text-anchor="middle" fill="#0a0a0a" stroke="#0a0a0a" font-family="Liberation Sans, sans-serif" textLength="84.2" lengthAdjust="spacingAndGlyphs" >velocity and body trajectory</text>
<text transform="translate(681,151.7) rotate(-90)" font-size="6.6" text-anchor="middle" fill="#0a0a0a" stroke="#0a0a0a" font-family="Liberation Sans, sans-serif" textLength="51" lengthAdjust="spacingAndGlyphs" >(angle &#945; in Fig. 1)</text>
<text transform="translate(668.6,247) rotate(-90)" font-size="6.6" text-anchor="middle" fill="#0a0a0a" stroke="#0a0a0a" font-family="Liberation Sans, sans-serif" textLength="67" lengthAdjust="spacingAndGlyphs" >Angle between wetted</text>
<text transform="translate(674.6,247) rotate(-90)" font-size="6.6" text-anchor="middle" fill="#0a0a0a" stroke="#0a0a0a" font-family="Liberation Sans, sans-serif" textLength="69" lengthAdjust="spacingAndGlyphs" >leg and body trajectory</text>
<text transform="translate(680.8,246.9) rotate(-90)" font-size="6.6" text-anchor="middle" fill="#0a0a0a" stroke="#0a0a0a" font-family="Liberation Sans, sans-serif" textLength="52" lengthAdjust="spacingAndGlyphs" >(angle &#946; in Fig. 1)</text>
<text transform="translate(668.6,342.2) rotate(-90)" font-size="6.6" text-anchor="middle" fill="#0a0a0a" stroke="#0a0a0a" font-family="Liberation Sans, sans-serif" textLength="65.3" lengthAdjust="spacingAndGlyphs" >Angle between wetted</text>
<text transform="translate(675,342.2) rotate(-90)" font-size="6.6" text-anchor="middle" fill="#0a0a0a" stroke="#0a0a0a" font-family="Liberation Sans, sans-serif" textLength="54.2" lengthAdjust="spacingAndGlyphs" >leg and leg velocity</text>
<text transform="translate(681,342.2) rotate(-90)" font-size="6.6" text-anchor="middle" fill="#0a0a0a" stroke="#0a0a0a" font-family="Liberation Sans, sans-serif" textLength="51.5" lengthAdjust="spacingAndGlyphs" >(angle &#952; in Fig. 1)</text>
<text x="390.9" y="4.9" font-size="5.6" text-anchor="start" fill="#000" stroke="#000" font-family="Liberation Sans, sans-serif" textLength="27.9" lengthAdjust="spacingAndGlyphs" stroke-width="0.2">Max. force</text>
<text x="497.9" y="4.9" font-size="5.6" text-anchor="start" fill="#000" stroke="#000" font-family="Liberation Sans, sans-serif" textLength="27" lengthAdjust="spacingAndGlyphs" stroke-width="0.2">Max. force</text>
<text x="601.2" y="66.2" font-size="5.5" text-anchor="start" fill="#ee1c25" stroke="#ee1c25" font-family="Liberation Sans, sans-serif" textLength="40.2" lengthAdjust="spacingAndGlyphs" >Critical velocity</text>
<text x="594.1" y="118.8" font-size="5.4" text-anchor="start" fill="#ee1c25" stroke="#ee1c25" font-family="Liberation Sans, sans-serif" textLength="47" lengthAdjust="spacingAndGlyphs" >High effectiveness</text>
<text x="594.1" y="221.8" font-size="5.4" text-anchor="start" fill="#ee1c25" stroke="#ee1c25" font-family="Liberation Sans, sans-serif" textLength="47" lengthAdjust="spacingAndGlyphs" >High effectiveness</text>
<text x="594.1" y="353.3" font-size="5.4" text-anchor="start" fill="#ee1c25" stroke="#ee1c25" font-family="Liberation Sans, sans-serif" textLength="47" lengthAdjust="spacingAndGlyphs" >High effectiveness</text>
<text x="594.2" y="13.5" font-size="4.6" font-style="italic" fill="#111" stroke="#111" stroke-width="0.12" font-family="Liberation Sans, sans-serif" textLength="35.6" lengthAdjust="spacingAndGlyphs">Faster <tspan>Rhagovelia</tspan></text>
<text x="594.2" y="21" font-size="4.6" font-style="italic" fill="#111" stroke="#111" stroke-width="0.12" font-family="Liberation Sans, sans-serif" textLength="37.4" lengthAdjust="spacingAndGlyphs">Slower Rhagovelia</text>
<text x="594.2" y="28.8" font-size="4.6" font-style="italic" fill="#111" stroke="#111" stroke-width="0.12" font-family="Liberation Sans, sans-serif" textLength="25.6" lengthAdjust="spacingAndGlyphs">Faster Gerris</text>
<text x="594.2" y="36.2" font-size="4.6" font-style="italic" fill="#111" stroke="#111" stroke-width="0.12" font-family="Liberation Sans, sans-serif" textLength="27.1" lengthAdjust="spacingAndGlyphs">Slower Gerris</text>
<text x="594.6" y="43.0" font-size="4.6" fill="#111" stroke="#111" stroke-width="0.12" font-family="Liberation Sans, sans-serif" textLength="32.2" lengthAdjust="spacingAndGlyphs"><tspan font-style="italic">Rhagovelia</tspan> high</text>
<text x="595.1" y="47.4" font-size="4.6" fill="#111" stroke="#111" stroke-width="0.12" font-family="Liberation Sans, sans-serif" textLength="43.9" lengthAdjust="spacingAndGlyphs">&#8220;effectiveness&#8221; period</text>
<text x="594.6" y="55.2" font-size="4.6" fill="#111" stroke="#111" stroke-width="0.12" font-family="Liberation Sans, sans-serif" textLength="22.4" lengthAdjust="spacingAndGlyphs"><tspan font-style="italic">Gerris</tspan> high</text>
<text x="595.1" y="59.6" font-size="4.6" fill="#111" stroke="#111" stroke-width="0.12" font-family="Liberation Sans, sans-serif" textLength="43.9" lengthAdjust="spacingAndGlyphs">&#8220;effectiveness&#8221; period</text>
</g>
</svg></div>
</body></html>
